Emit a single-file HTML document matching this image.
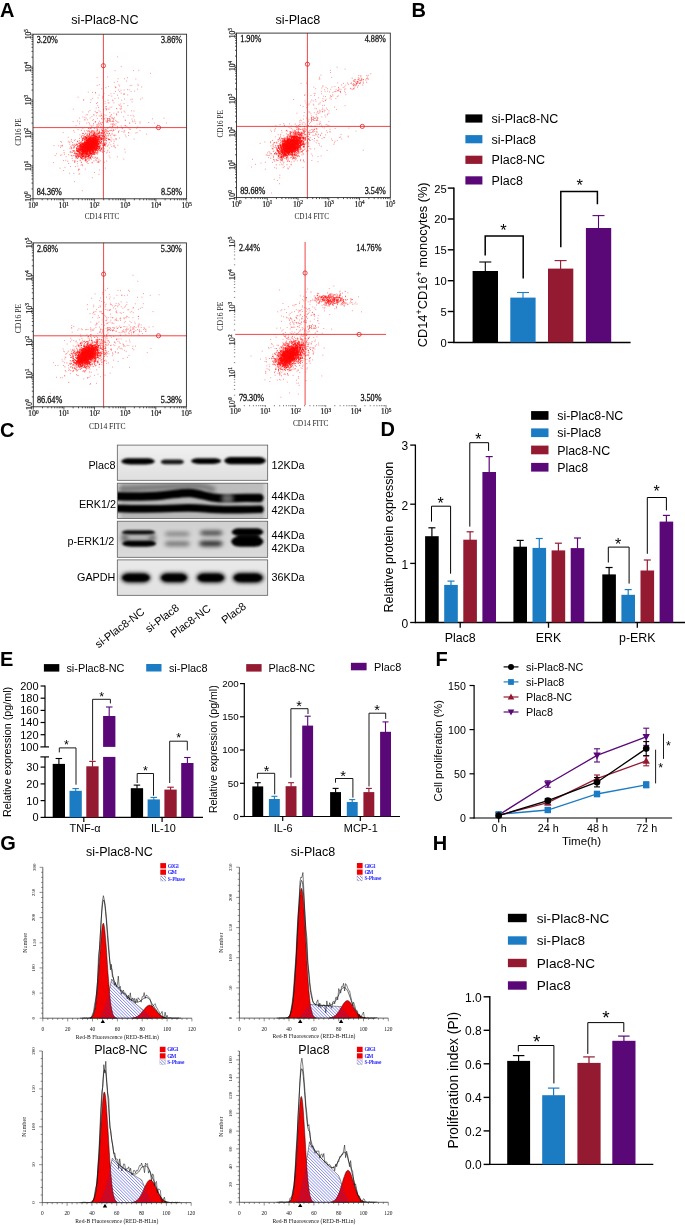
<!DOCTYPE html><html><head><meta charset="utf-8"><style>html,body{margin:0;padding:0;background:#fff}svg{display:block;opacity:0.999}</style></head><body>
<svg width="685" height="1225" viewBox="0 0 685 1225">
<defs>
<filter id="b1" filterUnits="userSpaceOnUse" x="100" y="430" width="190" height="180"><feGaussianBlur stdDeviation="1.3"/></filter>
<filter id="b2" filterUnits="userSpaceOnUse" x="100" y="430" width="190" height="180"><feGaussianBlur stdDeviation="1.9"/></filter>
<filter id="b3" x="-30%" y="-30%" width="160%" height="160%"><feGaussianBlur stdDeviation="2.5"/></filter>
<pattern id="hatch" width="2.2" height="2.2" patternUnits="userSpaceOnUse" patternTransform="rotate(-45)"><rect width="2.2" height="2.2" fill="#fff"/><line x1="0" y1="0" x2="0" y2="2.2" stroke="#3a3fe0" stroke-width="0.9"/></pattern>
</defs>
<rect x="0" y="0" width="685" height="1225" fill="#fff" />
<text x="0" y="17" font-family="Liberation Sans" font-size="20" text-anchor="start" font-weight="bold" fill="#000" >A</text>
<text x="411.4" y="17" font-family="Liberation Sans" font-size="20" text-anchor="start" font-weight="bold" fill="#000" >B</text>
<text x="0.1" y="436.6" font-family="Liberation Sans" font-size="20" text-anchor="start" font-weight="bold" fill="#000" >C</text>
<text x="380.5" y="436.3" font-family="Liberation Sans" font-size="20" text-anchor="start" font-weight="bold" fill="#000" >D</text>
<text x="0" y="665.6" font-family="Liberation Sans" font-size="20" text-anchor="start" font-weight="bold" fill="#000" >E</text>
<text x="435.5" y="665.6" font-family="Liberation Sans" font-size="20" text-anchor="start" font-weight="bold" fill="#000" >F</text>
<text x="0.3" y="849.8" font-family="Liberation Sans" font-size="20" text-anchor="start" font-weight="bold" fill="#000" >G</text>
<text x="432.8" y="849.7" font-family="Liberation Sans" font-size="20" text-anchor="start" font-weight="bold" fill="#000" >H</text>
<path d="M86.1 145.9h.9M88.2 148.1h.9M84.6 150.5h.9M92.7 140.8h.9M92.8 141.5h.9M89.9 144.2h.9M78.7 150.5h.9M89.7 142.9h.9M84.6 157.7h.9M85.4 151.1h.9M90 145.2h.9M92.4 146h.9M89 144h.9M81.4 144.2h.9M88.3 140.8h.9M87.3 150.8h.9M87.1 147.9h.9M90.9 143.1h.9M88.6 150.7h.9M83.2 145h.9M84.2 148.8h.9M93.9 148.7h.9M85.7 142.5h.9M79.8 155.1h.9M89.9 149h.9M91 144.5h.9M79.7 149.8h.9M89.4 141.1h.9M94.4 139.7h.9M92.1 149.4h.9M92.8 145.6h.9M89.3 151.6h.9M85.2 151.6h.9M99.2 146.8h.9M81.1 151.4h.9M93.9 139h.9M85.4 160.7h.9M91.9 146.9h.9M81 148h.9M93.3 141.5h.9M88.6 144.1h.9M94.5 138.3h.9M89.7 142.8h.9M78.2 148.9h.9M91.7 141.1h.9M80.7 155.8h.9M96.6 148h.9M85.3 144.2h.9M78.6 147h.9M91.4 144.5h.9M88.5 143.2h.9M86.4 142.7h.9M86.4 150h.9M93.3 142.1h.9M82.2 147.1h.9M96.4 141.8h.9M82.4 152.1h.9M88.5 147.7h.9M97.4 143.6h.9M97.3 144.9h.9M83.4 147.6h.9M91.8 139.5h.9M89.8 144.6h.9M87.9 144.1h.9M87 146.2h.9M91.2 144.1h.9M90.8 141.7h.9M97.1 137.5h.9M87.4 149h.9M86.3 143.8h.9M86 146.6h.9M103 146.2h.9M82.7 150h.9M89.8 144.1h.9M85 146.2h.9M91 146.6h.9M99 135.8h.9M86.1 148.7h.9M87.6 147.4h.9M76.9 158.3h.9M95.9 145.6h.9M86 143.9h.9M89.1 138.8h.9M81.4 153.9h.9M85.5 145.9h.9M99.8 149.4h.9M96.9 146h.9M95.1 147.7h.9M86.6 142.3h.9M87.4 146.4h.9M91.9 142.8h.9M84.5 142.4h.9M94.1 143h.9M104 138.7h.9M93.4 143.4h.9M87.5 143.8h.9M88.1 143.7h.9M84.9 156.5h.9M93.6 146.5h.9M87.1 154.4h.9M92.7 139.3h.9M97.6 143.1h.9M91.1 149.4h.9M88.4 138.9h.9M80.7 145.5h.9M93.5 142.9h.9M76 150.2h.9M89.4 148.3h.9M89.4 143.6h.9M97.9 143.2h.9M90.4 137.7h.9M95.7 141.1h.9M82.7 146.4h.9M88.8 145.5h.9M95.8 141.4h.9M78.7 156.4h.9M77.9 151.3h.9M91.4 146.7h.9M86.5 144h.9M85.8 142.3h.9M85.8 143.7h.9M91.7 136h.9M83.3 146.5h.9M82.2 156.6h.9M76.9 151h.9M82.8 151.2h.9M87.7 147.1h.9M85.2 148h.9M96.8 139.2h.9M88.7 141.5h.9M90.5 150.6h.9M83.4 145.5h.9M82.2 154.4h.9M91.4 140.2h.9M86.7 144h.9M92 148.9h.9M82.7 154.2h.9M94.1 144.2h.9M86.1 152h.9M81.6 152.6h.9M82.1 149.9h.9M76.7 154.7h.9M90 154.2h.9M92.5 144.2h.9M80.1 157.5h.9M90.9 146.4h.9M90.4 141.2h.9M90.9 142.8h.9M93.2 139.3h.9M95.4 150.3h.9M89.7 139.2h.9M88.2 148.8h.9M101.6 143.5h.9M85.1 137.8h.9M82.6 148h.9M97.6 139.2h.9M89 141.6h.9M84.5 150.1h.9M88 142.9h.9M88.8 147h.9M84.6 151.3h.9M92.4 142.5h.9M86.5 152h.9M98.3 132.7h.9M97.5 151h.9M90.3 142.5h.9M95.4 138.5h.9M87 145.1h.9M77 151.1h.9M91.6 147h.9M90.5 136.1h.9M83.5 153.6h.9M89.4 144.7h.9M88.9 150.5h.9M96 135.1h.9M86 154.7h.9M94.2 136.9h.9M95.1 136.9h.9M83.8 149h.9M80.1 156.8h.9M87 145.1h.9M85.4 149.5h.9M89.8 143.5h.9M91 143.2h.9M85.2 145.4h.9M90.6 148.4h.9M85.6 148.8h.9M87.6 146.3h.9M88.1 145.8h.9M90.8 150.3h.9M88 141.7h.9M91 145.1h.9M92.8 147.2h.9M79.5 153.6h.9M82.4 147.9h.9M89.5 157.8h.9M80 146h.9M89.9 151.6h.9M83.7 147.9h.9M90.4 143.9h.9M93.8 138.5h.9M87 144.7h.9M94 137.1h.9M95.8 145.3h.9M86.1 144.9h.9M84.6 144.5h.9M89.2 141.5h.9M81.6 140.1h.9M94.8 142h.9M82.9 138.8h.9M84.9 145.2h.9M93.1 142.4h.9M82.6 150.4h.9M87.6 141.8h.9M92.1 143.2h.9M91.2 141.5h.9M89.3 145.3h.9M85.8 145.4h.9M85 152.2h.9M91.9 150.3h.9M91.1 153.5h.9M84 147.4h.9M91.3 144.2h.9M90.7 151.1h.9M95.8 137.7h.9M95.7 144.4h.9M91.8 152h.9M90 140.7h.9M79.8 153.9h.9M95.5 148.7h.9M82.4 156.4h.9M88.8 152.6h.9M88.1 145.5h.9M89.8 141.9h.9M92.8 137.2h.9M83.5 152.8h.9M86 153.4h.9M88.1 146.6h.9M94.5 148.8h.9M82.8 151.2h.9M88.3 147.9h.9M90 148.6h.9M91 142.6h.9M89.6 148.5h.9M94 154.5h.9M83.8 150h.9M81 151.6h.9M92.4 149.5h.9M88.1 148.1h.9M89.2 142.8h.9M90.3 148.8h.9M88 147h.9M91.3 142.6h.9M88.3 152.9h.9M88.5 149.8h.9M83.6 151h.9M86 147.9h.9M91.9 145.4h.9M100.1 138.1h.9M93.4 141.6h.9M99.2 148.5h.9M84.4 148.6h.9M85.9 137.5h.9M87 141.5h.9M89.9 140.7h.9M91.2 144.7h.9M93.4 147.3h.9M96.4 144.5h.9M84.8 139.5h.9M87.4 147.1h.9M93.9 141.7h.9M84.1 148.8h.9M89.6 142.1h.9M80.8 144.5h.9M96.2 139.7h.9M90.7 146.4h.9M96.7 142.7h.9M92.8 145h.9M83.6 147h.9M94.8 141.1h.9M83.5 146.7h.9M87.5 145.6h.9M93 137.2h.9M80.8 142h.9M86.7 144.1h.9M85.6 149h.9M76.2 148.2h.9M97.7 144.3h.9M85.2 156.7h.9M95.1 143h.9M88.9 147.4h.9M90.5 149.8h.9M91.9 150.2h.9M87.5 145.7h.9M91.2 145.1h.9M83.9 149.4h.9M82.6 143.9h.9M92.4 143.6h.9M87.9 150.1h.9M84.9 150.9h.9M88.7 143.7h.9M86.3 138.3h.9M85.2 149h.9M105.9 140.5h.9M85.7 147.9h.9M88.3 144.6h.9M86.5 146.2h.9M87 144h.9M81.7 156.2h.9M90.9 149.2h.9M82.2 148.7h.9M84 147.1h.9M91.3 142.5h.9M91.1 144.6h.9M82 151.9h.9M91.8 146h.9M86.3 144.6h.9M82.9 148h.9M98.5 140.5h.9M89.5 146.1h.9M95 139.4h.9M94.3 144.7h.9M88.4 146.4h.9M76.9 149.3h.9M96.8 147.6h.9M92.3 143.7h.9M89.7 143.5h.9M82 152.8h.9M96.8 142h.9M86.9 154.1h.9M82 150.2h.9M95.4 138.5h.9M84.5 139.2h.9M87.6 150.2h.9M89.7 142.7h.9M86.5 153.5h.9M89.3 144.5h.9M82.9 152h.9M84.9 147.2h.9M88.2 147h.9M84.4 144.8h.9M95.8 141.9h.9M94.2 145.1h.9M87.1 143.9h.9M96.5 141.4h.9M87.7 146h.9M81.5 152.1h.9M84.5 147.9h.9M87.8 156.2h.9M88.1 145.4h.9M83.9 146h.9M88.6 149h.9M94.4 148.8h.9M85.4 149h.9M92.8 143.4h.9M91.5 146.9h.9M86.1 140.5h.9M79.8 142.5h.9M85.5 148.8h.9M86.9 142.8h.9M87.6 156.9h.9M89.5 141.7h.9M85.3 136.6h.9M88.9 144.8h.9M92 141.6h.9M99.1 143.2h.9M94.7 157.3h.9M93.2 144.1h.9M87.8 136.7h.9M89.1 147h.9M88.1 150.6h.9M84.1 147h.9M88.5 146h.9M85.6 144.5h.9M91.1 144.8h.9M92 144.1h.9M79.7 146.8h.9M92.9 147.1h.9M92.7 141.1h.9M77.5 148h.9M88 142.5h.9M89.8 145.9h.9M79 149.7h.9M89.3 147h.9M90 144.7h.9M92.5 144.7h.9M93.3 152.3h.9M85 146.1h.9M95.6 142.1h.9M84.3 142.4h.9M85.3 145.6h.9M96.3 139.6h.9M95.9 143.4h.9M89.6 145.7h.9M86.4 142.7h.9M101.2 138.8h.9M84.7 147.2h.9M82.4 149.1h.9M91.8 144.8h.9M94.6 148.5h.9M95.6 147.6h.9M86.5 150.6h.9M84.6 145.5h.9M89.8 147.1h.9M87.4 139.8h.9M87.7 145.3h.9M93.7 140.7h.9M76.7 144.5h.9M103.4 143.1h.9M87.4 145.3h.9M91.5 140.7h.9M89.7 150.3h.9M86.6 143h.9M85.8 153.4h.9M92.9 151.7h.9M88.3 148.5h.9M92.2 146.5h.9M85.3 150.8h.9M89.8 148.3h.9M86.8 144.2h.9M90.1 137h.9M85.8 150.5h.9M72.5 150.8h.9M85.2 149.2h.9M94.1 148h.9M90.7 144.6h.9M79.3 152.7h.9M98.4 146.8h.9M91.8 142.6h.9M89.7 143.2h.9M95.1 141.8h.9M93.5 144h.9M93.8 145.7h.9M84 142h.9M90.9 145h.9M85 153h.9M87.2 143h.9M89.3 143.2h.9M85.2 142.7h.9M87.9 149.3h.9M92.5 142.6h.9M88.5 149h.9M85.9 145.6h.9M93 148.2h.9M90.1 144.1h.9M82 148.1h.9M88 148.3h.9M89.2 139.5h.9M84.3 147.8h.9M79.1 143.4h.9M83.4 144.9h.9M83.6 146.6h.9M104.7 144.6h.9M85.3 146.6h.9M89.6 148.5h.9M98.4 137.6h.9M78.8 150.4h.9M77.8 149.9h.9M85.5 148.2h.9M94.1 141h.9M85.9 156.4h.9M92.3 139.6h.9M82.7 147.1h.9M89.3 142.6h.9M78.6 156h.9M91 140.7h.9M98.3 149.6h.9M88.2 144.3h.9M102.6 138.9h.9M86.9 147.5h.9M93.7 144h.9M95.7 144h.9M91 146.7h.9M90.8 147.6h.9M78.5 149.5h.9M91.2 146.7h.9M87.1 142.8h.9M84.2 150.4h.9M89.8 142.7h.9M91.8 153.4h.9M93.5 140.5h.9M89.2 147h.9M90.7 146.4h.9M85.4 152.4h.9M87.1 150.3h.9M81.6 149.1h.9M80.9 149.6h.9M82.9 149.3h.9M94.5 140.4h.9M85 149h.9M93.2 150.5h.9M85.3 148.2h.9M86.1 147.9h.9M90.2 141.3h.9M91.4 141.1h.9M87.2 147.5h.9M88 148.2h.9M91.7 151.8h.9M87 147.7h.9M84 150.2h.9M91.3 144.7h.9M104.2 145.3h.9M91.8 152.1h.9M86.9 135.1h.9M76.5 155.8h.9M91.6 145.1h.9M96.3 150.3h.9M91.6 141.9h.9M90 147.8h.9M92.6 145.1h.9M90.7 146.8h.9M78.1 155.2h.9M87.7 143.4h.9M84.5 149.8h.9M91 143.5h.9M89.7 135.9h.9M88.7 155.2h.9M89 138.7h.9M90.9 140.4h.9M87.3 150.7h.9M94.8 145.3h.9M82.3 156.2h.9M95.7 131.2h.9M87 151h.9M91.3 147.5h.9M94.8 141.4h.9M80.4 146.9h.9M85.3 148h.9M89.2 147.2h.9M91.6 146.9h.9M85 159.6h.9M84.3 153.4h.9M88.3 146.2h.9M90.8 143.8h.9M86.4 151.4h.9M79 155.1h.9M89.5 142.9h.9M88.3 147.3h.9M92.8 142.6h.9M90.6 141.8h.9M86.5 141.9h.9M86.7 149.5h.9M86.6 151.7h.9M91.7 135.3h.9M87.3 144.6h.9M92.1 139.5h.9M97.1 145.1h.9M84.5 147.6h.9M95 140.4h.9M85.3 150.6h.9M87.4 151.3h.9M97 142.1h.9M83.6 140.3h.9M93.3 140.7h.9M84.7 147.6h.9M94.6 138.2h.9M94.2 141.1h.9M91.4 144.8h.9M87.5 141h.9M82 152.1h.9M90.9 146.9h.9M85.2 145.3h.9M96.4 136.7h.9M93.6 149.3h.9M97.3 138.5h.9M90.9 149.5h.9M90.8 149.5h.9M87.8 144.7h.9M88 145.4h.9M81.2 145.7h.9M89.7 153.9h.9M89.4 149.1h.9M84.6 151.2h.9M92.6 148.4h.9M84.6 142.9h.9M92 144h.9M89.4 146.1h.9M86.6 144.5h.9M93.6 153.3h.9M90.5 148.8h.9M93 145.4h.9M84.2 139.7h.9M86.2 153.5h.9M87.4 158.4h.9M78.9 152.7h.9M89.8 154h.9M80.1 150.4h.9M85.7 150.4h.9M86.9 141.3h.9M95.2 135.8h.9M88.7 145.2h.9M93.6 135.3h.9M86 146.3h.9M89.7 145h.9M89.2 151.9h.9M89.6 152.7h.9M93 140h.9M79.6 147.2h.9M97.1 148.1h.9M95.2 136.8h.9M101 141.6h.9M90 143.1h.9M89 145h.9M96.9 146.3h.9M85.9 155h.9M87.3 150.2h.9M89.6 144.1h.9M90.2 148h.9M84.2 145.4h.9M91.8 143h.9M83.4 143.3h.9M84.2 146.8h.9M94.5 142.5h.9M94.9 146.1h.9M92.8 141.8h.9M79.5 150.7h.9M81.4 146.3h.9M85.7 149.4h.9M90.6 146.1h.9M91 146.8h.9M91.6 143.7h.9M95.9 153.1h.9M93.9 141.7h.9M79.9 153h.9M88.2 141.5h.9M79.9 146.3h.9M82.2 140.3h.9M86.2 145h.9M89.4 150.8h.9M91.5 139.5h.9M93.7 137.9h.9M89.7 153.1h.9M87 150.7h.9M83.3 147.9h.9M90.7 145.8h.9M89.6 146h.9M87.8 143.4h.9M94.6 144.4h.9M78.2 148.3h.9M86.5 142.8h.9M81.6 153.7h.9M92 150.2h.9M84.4 146.3h.9M89.9 137.7h.9M87.7 153.6h.9M88.8 141.7h.9M92.4 149.1h.9M90.3 141h.9M92.2 145.5h.9M88.1 142.9h.9M90.2 153.6h.9M88.9 143.7h.9M86.5 143.8h.9M85.9 148.8h.9M85.8 145.9h.9M96.5 140.7h.9M94.6 134h.9M90.8 141.6h.9M97.2 139.9h.9M90.4 149.7h.9M87.6 140.7h.9M90 143h.9M87.2 146.6h.9M79.4 149h.9M89.1 151h.9M86.9 151.5h.9M90 140h.9M80 149.1h.9M94 144.4h.9M83.3 154.2h.9M84.7 147.8h.9M91.5 153.3h.9M93.1 149.6h.9M95.5 146.1h.9M87.2 151.4h.9M83 144.8h.9M91.1 141.3h.9M93.6 149.3h.9M87.3 149.9h.9M82.8 148.7h.9M86.7 151.2h.9M88.4 156.1h.9M88.2 140.3h.9M91.6 148.3h.9M75.5 156.4h.9M93.5 140.7h.9M89.4 138.6h.9M94.8 143.1h.9M91.6 140h.9M82.3 153.4h.9M82.1 152.2h.9M93.7 147h.9M75.9 150.8h.9M86.9 140.8h.9M79.9 148.6h.9M93.5 132.6h.9M86.9 146.4h.9M85.5 144.2h.9M93.1 142h.9M80.4 149.6h.9M84.8 146.4h.9M86 140.8h.9M94.9 143.1h.9M86 140.1h.9M85 147.2h.9M91.2 138.2h.9M94 147.9h.9M82 150.6h.9M84.4 137.8h.9M81.8 146.5h.9M96 147.9h.9M84.3 149.1h.9M86.6 148.7h.9M92.6 146.7h.9M92.2 146.2h.9M84.7 147h.9M85.2 147.8h.9M95.9 140h.9M86.1 144.8h.9M84.3 144.7h.9M81.1 149.6h.9M88 150.5h.9M98.7 141.7h.9M95.2 137.6h.9M97.6 143.3h.9M90.7 137.6h.9M88.3 147.1h.9M99.6 136.2h.9M88 149.7h.9M89.8 143.6h.9M85.3 140.9h.9M85.9 146.3h.9M97.6 143.3h.9M89.1 137.2h.9M84.7 154.6h.9M87.9 155.5h.9M94.9 149.6h.9M87.5 140.3h.9M81.7 153.5h.9M77.7 151.7h.9M85.7 149.9h.9M87.5 144.6h.9M86.8 147.6h.9M85.7 148.1h.9M82.9 150.7h.9M80.6 155.2h.9M97.3 138.6h.9M82 150.5h.9M87.8 154.7h.9M83.4 147.2h.9M90.5 145.1h.9M86.7 152.9h.9M94.2 140.3h.9M88.9 155.9h.9M76.4 144.8h.9M83.3 151h.9M89.8 145.9h.9M90.4 151.2h.9M79.7 145.8h.9M83 146.9h.9M81.2 153.7h.9M87.3 142.4h.9M81.9 149.1h.9M92 146.8h.9M92.8 146.9h.9M84.8 149.5h.9M76.1 157.2h.9M87.2 154.3h.9M84.7 145.9h.9M83.7 144.4h.9M86.1 154.5h.9M94.8 139.1h.9M94.8 144.9h.9M91.7 142.4h.9M91.5 143.7h.9M95.6 143.4h.9M87.4 154.2h.9M95.6 143.8h.9M85.8 153h.9M89.4 151.6h.9M88.6 149.2h.9M88.1 151.1h.9M89.7 147.4h.9M88.5 145.2h.9M95.2 151h.9M87.8 150.6h.9M95.8 147.6h.9M85.8 149.9h.9M84.6 144.9h.9M84.2 145.4h.9M85.8 157h.9M93.2 140.3h.9M90.5 144h.9M93.6 147.8h.9M94.2 144h.9M92.9 142.2h.9M82.3 157.6h.9M94.1 142.3h.9M86.1 147.2h.9M87.8 149.5h.9M88.6 145.5h.9M95.5 140.2h.9M93.1 134h.9M94.1 136.6h.9M88.8 145.4h.9M89.5 148.9h.9M89.7 148.3h.9M94.9 138.4h.9M90.8 153.3h.9M89.2 147.7h.9M86.1 153.7h.9M76.7 153.6h.9M82.2 139.4h.9M88.7 146.8h.9M94.9 140.3h.9M90.1 146.7h.9M82.2 144.5h.9M89.2 137.6h.9M86.8 147.6h.9M82.1 147.1h.9M80.7 150.2h.9M90.4 138.1h.9M81.6 147h.9M86.9 151.2h.9M79.6 148.3h.9M97.6 141.5h.9M85.7 150.2h.9M97.9 133.7h.9M90.1 153.4h.9M82.6 145.7h.9M97.8 139.7h.9M86.4 150.4h.9M77.6 151.2h.9M81 147.6h.9M83.5 156.5h.9M91.6 147.3h.9M92.1 143.2h.9M81.6 149.2h.9M96.9 148.3h.9M95.9 137.8h.9M96.4 148.4h.9M85.9 150.1h.9M96.9 146.1h.9M89.1 155.4h.9M86.6 146.3h.9M82 154.5h.9M87.2 139.9h.9M92.3 144.5h.9M85.2 153.5h.9M85.1 148.5h.9M84.4 141.9h.9M92.3 148.1h.9M93.5 137.6h.9M90.6 147.9h.9M82.1 156.5h.9M94.6 144.9h.9M81.9 150.9h.9M88.2 143.7h.9M88.3 139.8h.9M82.3 146.9h.9M82.3 148.3h.9M88.8 144.9h.9M93.1 142.6h.9M91.7 139.5h.9M90.4 147.3h.9M86.2 150.7h.9M87.6 147.2h.9M101 132.9h.9M94.1 145.7h.9M85.9 150h.9M91.8 148.4h.9M97.3 141.5h.9M98.9 148.5h.9M87.8 145.6h.9M88 143.9h.9M89.4 144.8h.9M81.3 155.7h.9M76.1 153.8h.9M90.4 145.6h.9M86 151.1h.9M93.1 134.3h.9M85.2 143h.9M85.6 157.9h.9M88.3 150.6h.9M85.5 148h.9M104.2 136.3h.9M88.1 145.3h.9M86.2 143.9h.9M99.7 142.8h.9M89.9 146.4h.9M93.7 149.1h.9M85.6 159.6h.9M90.5 143.7h.9M94.3 152.5h.9M88.5 149.8h.9M84 154.4h.9M90.5 142.1h.9M87.2 145h.9M85.5 148.5h.9M87.4 144.6h.9M88.5 147h.9M89.4 148.6h.9M97.7 136.1h.9M85.2 138.3h.9M98.7 145.1h.9M89.8 141.3h.9M94.3 135.3h.9M94.8 146.5h.9M83.8 149h.9M93.2 147.1h.9M87.6 148.9h.9M88 145.1h.9M90 150.8h.9M90.6 137h.9M85.6 143.9h.9M89 142.7h.9M92.5 146.5h.9M88.8 141.3h.9M79.8 144.4h.9M94 133.1h.9M96.1 136.5h.9M88.3 149.3h.9M84.4 149.2h.9M86.8 144.6h.9M73.7 147.8h.9M99.2 137.4h.9M90.6 142.3h.9M90.3 145.8h.9M89.8 149.1h.9M89.4 145.7h.9M92 147.4h.9M88.6 146h.9M93.8 146.9h.9M88.2 141.9h.9M92.1 145h.9M86.8 148.9h.9M88.3 139.2h.9M89.2 148.7h.9M89.8 144.3h.9M86 151.9h.9M86.5 144.8h.9M85.3 153.8h.9M93.7 147.7h.9M88.2 144.9h.9M90.3 149.5h.9M89 147.5h.9M92 147.3h.9M97.5 146.6h.9M87.7 147h.9M94.4 144.2h.9M92.4 145.7h.9M87.9 138.6h.9M85.6 146.7h.9M81.9 147.3h.9M94.1 141.5h.9M82.3 149.6h.9M91.3 138.8h.9M96.5 148.2h.9M82 145h.9M80.2 148h.9M95.5 136.8h.9M94.5 142.8h.9M83 151.4h.9M87.7 147.2h.9M92.1 144h.9M88.4 144.4h.9M84.2 141.2h.9M90.4 144.3h.9M89 148.8h.9M94.4 140.6h.9M84.8 152.1h.9M88.9 148.1h.9M96.3 145.3h.9M90.5 144h.9M82.9 150.8h.9M86.9 145.3h.9M85.7 147.2h.9M83.2 155.8h.9M89.8 140.3h.9M89.8 148h.9M98.4 147.8h.9M83.2 147.6h.9M93.9 146.6h.9M76.3 149.7h.9M91.3 148.2h.9M86.7 143.6h.9M73.8 153.4h.9M96.8 149.1h.9M96.2 148.2h.9M92.9 140.7h.9M100.4 139.2h.9M86.1 143.4h.9M87.1 150.8h.9M86.9 148h.9M82.3 149.2h.9M90.9 144h.9M97.2 140.5h.9M95.9 142.7h.9M96.5 148.7h.9M89.8 146h.9M87.6 149.9h.9M88.5 149.6h.9M79.6 156.5h.9M87.1 149.9h.9M83.9 150.8h.9M92.7 143.9h.9M83.1 144.5h.9M90.9 139.9h.9M94.7 142.7h.9M85.3 143.7h.9M86.2 148.8h.9M89.4 143.8h.9M84.9 144.7h.9M86 145h.9M92 140.3h.9M94.6 146.6h.9M83.8 153.1h.9M87.2 140.3h.9M82.1 150.2h.9M86.2 151.7h.9M85.6 145.5h.9M86.8 142.2h.9M81.8 147.7h.9M92.7 142.5h.9M92 146h.9M84.3 151.7h.9M78.8 140.8h.9M82.4 143.7h.9M88.7 144.6h.9M93.8 145.5h.9M91.9 141.7h.9M80 150.6h.9M90 142.9h.9M96.9 141.2h.9M89.2 142.2h.9M81.5 146.5h.9M84.7 155.6h.9M93.5 147.3h.9M91.8 151.3h.9M91.4 149.2h.9M93.6 149.2h.9M91.2 145.3h.9M89 146.2h.9M92.2 149.4h.9M76.4 156.3h.9M85.2 151.2h.9M95.1 150.1h.9M86.3 151h.9M82.8 149.5h.9M89.7 149.1h.9M82 147.9h.9M84.1 147.3h.9M95 149.8h.9M83.4 150.5h.9M88.3 142.8h.9M89.9 140.3h.9M87.2 148.3h.9M93.1 144.4h.9M97.1 146.5h.9M92 144.2h.9M77 151.3h.9M89.9 145h.9M84.5 151.8h.9M97.5 142.7h.9M74.3 162.3h.9M83.2 151.4h.9M88.8 150.4h.9M82.1 146.7h.9M77.2 146.6h.9M88.5 151.4h.9M90.9 141.7h.9M81.9 148.3h.9M82 156.1h.9M94.4 142.6h.9M81.2 150h.9M92.8 142.8h.9M80.9 154.3h.9M88.7 142.5h.9M97.7 139.7h.9M86.3 148.3h.9M96.3 144.2h.9M101 148.8h.9M93.8 145h.9M89.1 142.6h.9M83.2 151.2h.9M88.3 143.7h.9M86.4 152.7h.9M73.6 146.8h.9M88.1 147.7h.9M79.4 149.6h.9M82.7 144.4h.9M92.4 142.9h.9M94.5 146.5h.9M88.3 149.2h.9M82.5 151.2h.9M84.5 142.9h.9M74.4 161.3h.9M85.3 151.2h.9M89.5 143.5h.9M89.7 147.5h.9M90 143.4h.9M80.5 154.2h.9M84.8 154.9h.9M89 145.6h.9M91.1 148.3h.9M89.7 149.6h.9M88.7 142.9h.9M93.8 135.9h.9M85.8 150.7h.9M83.4 149.1h.9M96.1 136.6h.9M81.1 158.4h.9M81.3 149.9h.9M87.8 145.5h.9M98.7 141.6h.9M80 144.2h.9M91.9 147.1h.9M82.5 158.5h.9M76.9 155.7h.9M86.4 143.4h.9M89.5 148.8h.9M80.6 144h.9M79.8 152.7h.9M87.2 144.5h.9M85.5 146.5h.9M92.7 143.5h.9M86.8 148.6h.9M84.5 150.7h.9M86.6 146.9h.9M91.7 137.5h.9M85 146.4h.9M88.1 143h.9M88 145.5h.9M88.1 150.3h.9M89.6 139.3h.9M90.6 142.5h.9M90.8 146.5h.9M78.6 151.5h.9M90.7 147h.9M81 146.6h.9M76 148.5h.9M86 137.3h.9M85.2 149.2h.9M85.8 147.9h.9M89.3 149.2h.9M95.3 144.3h.9M84.8 146.8h.9M87 149.6h.9M91 145.9h.9M82.9 151.5h.9M83.5 142.5h.9M81.1 147.9h.9M85.7 150.4h.9M86.3 146.8h.9M88.5 138.1h.9M82.4 145.1h.9M91.3 140.2h.9M82.9 146.8h.9M87.2 145.7h.9M85.7 145.5h.9M91.1 138.8h.9M85.2 144.4h.9M97.4 143.2h.9M98.5 144.2h.9M89.7 142.5h.9M94.8 139.7h.9M88.1 150.4h.9M80.9 149.1h.9M89.1 149.2h.9M92.8 146.3h.9M87.5 149.3h.9M92.8 135.8h.9M91.4 151.3h.9M89.6 145h.9M88.8 143.4h.9M84.9 145h.9M91.9 142.4h.9M87.7 149.2h.9M94.3 146.6h.9M89.5 149h.9M80.6 150.1h.9M88.3 146.3h.9M96 147h.9M87.5 145.8h.9M94.9 146h.9M91.3 142.9h.9M92.2 137.8h.9M86.1 138.2h.9M89.5 147.5h.9M89.1 150.2h.9M92.7 151.6h.9M87.1 145.5h.9M93.9 143.4h.9M96.5 142.7h.9M92.2 152h.9M86.8 151.5h.9M94.1 139.2h.9M82.3 149.1h.9M91.2 145.1h.9M89.3 147h.9M90 153.2h.9M85.2 143.2h.9M95.7 141.6h.9M85.6 149.7h.9M91.8 141.9h.9M85 147.6h.9M86.4 145.7h.9M90 151.8h.9M87 144h.9M83.7 150.8h.9M93.3 144h.9M81 143.3h.9M90 140.4h.9M80.5 145.5h.9M82.1 154h.9M88.9 139.9h.9M85.8 151.6h.9M93.7 150.7h.9M90.1 142.4h.9M85.3 146.6h.9M91.3 142.5h.9M87.5 140.3h.9M86 147.7h.9M83.8 145.5h.9M85.6 146.6h.9M89 145.6h.9M96.5 140h.9M93.1 138.7h.9M94.8 141.7h.9M91 140.8h.9M85.1 147.9h.9M88 146.9h.9M96 143.3h.9M84.8 157.3h.9M87.9 149.7h.9M87.3 144.7h.9M95.8 138.8h.9M92.2 146.5h.9M88.1 140.5h.9M98.9 146.4h.9M89 138.7h.9M95.6 147.1h.9M85.8 145.9h.9M92.2 146.9h.9M82.3 147.1h.9M79.3 147.5h.9M87.9 145.4h.9M83.8 152.9h.9M94.9 147.6h.9M100.9 142.2h.9M82.9 150.8h.9M89 142.5h.9M87.3 148.3h.9M88.7 148.7h.9M74.8 153.5h.9M89.3 144.9h.9M85.1 148h.9M88.6 146.6h.9M97.3 146.7h.9M92 148.2h.9M83.7 143.5h.9M83.9 150.6h.9M83.7 146h.9M87.8 154.4h.9M91.6 145.3h.9M84.7 144.6h.9M85.3 150.6h.9M88.2 144.6h.9M83.9 145.5h.9M99.5 138.9h.9M101.6 144.8h.9M95.6 141.9h.9M89.9 146.7h.9M88.5 152.1h.9M83.8 144.4h.9M94.4 142.9h.9M87.7 150.1h.9M79.1 146h.9M91.2 143.5h.9M88.6 150.9h.9M92.7 139.3h.9M82 147.3h.9M82.1 148.8h.9M85.1 151h.9M89.8 143.3h.9M94.9 144.7h.9M92.6 136.8h.9M87.4 145.1h.9M85.3 149.6h.9M82.4 151h.9M86.4 142h.9M90.9 140.6h.9M87.4 148.3h.9M86.5 147h.9M78.1 151.5h.9M82.6 153.6h.9M89.7 147.6h.9M96.2 140.3h.9M92.9 137.3h.9M85.4 147.1h.9M95.1 142.3h.9M90.1 147.4h.9M89.5 147h.9M86.6 143.3h.9M94.5 140.7h.9M87.5 143.3h.9M89.6 150.2h.9M95.6 144.6h.9M94.8 145.4h.9M99 142.2h.9M89 139.1h.9M80.9 146h.9M88.7 154.1h.9M90.2 141.7h.9M93.2 153.7h.9M88.9 147.3h.9M87.4 148.5h.9M81.7 154.5h.9M93.1 135.4h.9M88.5 149.5h.9M87.9 142h.9M94.3 146.7h.9M88.9 145.3h.9M92.3 137.7h.9M88.1 141.1h.9M83.3 143.7h.9M85.7 146.9h.9M94.6 145.3h.9M89.3 153.6h.9M89.4 145.8h.9M85.9 146.2h.9M79.1 154.3h.9M89.5 146.7h.9M88.2 138.7h.9M88.6 150.5h.9M85.6 148.3h.9M93 146.4h.9M95.3 145.3h.9M91.3 142.1h.9M85.8 138.8h.9M87.7 147.7h.9M88.7 142.2h.9M81.9 150.6h.9M83.8 147.4h.9M94.5 141h.9M87.6 146.2h.9M73.5 155.4h.9M90.7 143.8h.9M88.3 149.7h.9M85 143.8h.9M85 143.1h.9M78 157.2h.9M89.8 145.3h.9M82.5 154.3h.9M97 145h.9M86.5 152.9h.9M84.6 146.7h.9M95.7 149.4h.9M96.4 142.4h.9M82.2 144.1h.9M90.9 149.9h.9M87.2 150.6h.9M84.7 151h.9M91.7 142.1h.9M76.1 144.1h.9M83.8 149.7h.9M86.9 144.2h.9M86 146.3h.9M97.7 138.1h.9M82.9 149.5h.9M85.7 150.3h.9M88.6 144.7h.9M85.3 145.1h.9M90.5 150.5h.9M93.2 144h.9M95.4 143.5h.9M90.4 143.3h.9M79.7 160.4h.9M80.4 146.8h.9M78 151h.9M92.3 140.9h.9M92.6 145.1h.9M88 145.7h.9M88.8 142.8h.9M89.1 148.9h.9M85.1 147.3h.9M83.8 155.9h.9M87.9 149.3h.9M93.2 154.4h.9M87.5 148.2h.9M96.4 148.6h.9M86.1 146.2h.9M88 141.3h.9M95.6 145.1h.9M92.1 144.8h.9M81.5 145.3h.9M87.6 150.9h.9M88.6 150.1h.9M92.2 141.5h.9M93.9 139.9h.9M83.4 145.8h.9M86.6 150h.9M87.7 146.8h.9M95.2 143.4h.9M90.1 145h.9M85.3 154h.9M86.6 146.1h.9M88.9 143.8h.9M89.7 147.3h.9M92.7 147.4h.9M83.2 152.3h.9M83.2 153.1h.9M86.4 150.6h.9M90.1 148.6h.9M90.4 152.4h.9M91.1 148.1h.9M96.6 152.3h.9M84.3 148.7h.9M78.3 156.5h.9M88.7 145.7h.9M81.2 151.3h.9M91.3 148.3h.9M92 143.6h.9M89.6 147.4h.9M90.8 144h.9M92.6 140.8h.9M86.2 149.2h.9M93.5 143.8h.9M89.1 143.5h.9M92.9 153.2h.9M88.6 145.2h.9M90.8 147.8h.9M94.3 142.1h.9M87.3 150.6h.9M92.6 147.8h.9M79.5 144.8h.9M92.1 138.5h.9M93.3 139.5h.9M78.2 149.5h.9M93 140.3h.9M76.9 150.4h.9M95.8 142.4h.9M87.3 143.7h.9M85.7 143.7h.9M87.3 144.1h.9M92.2 149.9h.9M76.9 141.6h.9M86.8 141.7h.9M89.8 137.4h.9M92.3 145.8h.9M92.9 151.4h.9M85.6 144.6h.9M78.3 154h.9M89.3 139.6h.9M85.8 151.6h.9M82.3 156.2h.9M86.3 138.7h.9M80.2 147h.9M91.5 146h.9M104.1 144.7h.9M87.7 146h.9M94.1 133.4h.9M98.5 137.3h.9M89.9 138.9h.9M90 143.4h.9M88.6 148.1h.9M78.5 145.8h.9M91.2 153.6h.9M89.8 145.4h.9M85.2 140.8h.9M88.6 147.4h.9M85.2 149.2h.9M86 147.4h.9M101.8 133.3h.9M80.3 144.4h.9M90.6 140.8h.9M89.9 141.4h.9M88.4 139.9h.9M90 138.8h.9M86.2 148.2h.9M83 146.5h.9M93.3 144.4h.9M85.2 137h.9M96.6 144.6h.9M86.6 144.9h.9M87.5 145.4h.9M93.1 140.9h.9M81.9 148.6h.9M87.8 146.4h.9M89 152.2h.9M83.6 152h.9M89.8 157.7h.9M96.3 145h.9M84 147.6h.9M74.5 151.9h.9M83.5 147.5h.9M85.6 147.3h.9M89 145.9h.9M83.5 157.2h.9M85.1 142.7h.9" fill="none" stroke="#ff0a0a" stroke-width="0.9" stroke-opacity="0.85"/>
<path d="M85.2 145.5h.9M90.3 141.3h.9M103.6 144.4h.9M93.6 143.3h.9M92.1 149.8h.9M89.4 153.5h.9M73.9 140.6h.9M102.8 133.6h.9M99.8 143.8h.9M78.6 169.4h.9M86.5 137.4h.9M94.5 148.8h.9M93.1 150h.9M82.2 154h.9M91.3 150.2h.9M88.4 153.8h.9M87.4 137h.9M81.1 136.2h.9M78.7 153.3h.9M83.6 152.2h.9M89.6 141.3h.9M101 139.6h.9M83.1 152.9h.9M95.7 145.4h.9M90.8 131.6h.9M79.7 151.7h.9M105.3 146h.9M93.3 144h.9M76.1 147.7h.9M94.3 145h.9M91.7 138.8h.9M94.2 137h.9M98.3 146.7h.9M87.6 146.4h.9M63.7 152.7h.9M92.3 151.1h.9M77.4 154.6h.9M93.4 146.6h.9M91.5 150.6h.9M86.2 149.4h.9M84 145.5h.9M89.5 144.6h.9M89 136.4h.9M94.3 139.6h.9M92.9 148.7h.9M86 143.6h.9M94 144.5h.9M87.5 159.1h.9M89.4 138h.9M98.8 147.7h.9M88.7 144.7h.9M83.3 148.6h.9M92.8 149.1h.9M79.3 148.7h.9M96.8 145.8h.9M80.6 146.9h.9M96.3 141.8h.9M103.2 135.5h.9M79.5 146.3h.9M88.4 144h.9M95.1 148.3h.9M83.5 152.5h.9M104.6 139.7h.9M99.6 134.9h.9M82.3 150.1h.9M98.3 144.5h.9M74.9 156.1h.9M81.6 149.4h.9M78.3 156.8h.9M91 155.6h.9M88.7 145.1h.9M91.6 152.7h.9M99.1 150.3h.9M92.9 138.9h.9M99.3 130.1h.9M92.5 141h.9M96.2 149.7h.9M99.2 133h.9M93.3 150.9h.9M99.3 132.8h.9M80.2 148.9h.9M104.2 132.6h.9M95.3 143.5h.9M82.6 143.7h.9M111.9 124.6h.9M87.1 141.8h.9M86.1 143.2h.9M100.6 143.4h.9M83.8 151.3h.9M95.7 137.9h.9M104.8 142.3h.9M96.8 143.8h.9M90.5 142.3h.9M85.1 151.3h.9M81.9 150.4h.9M87 151.7h.9M95 145.7h.9M101.4 139.8h.9M95.8 137.8h.9M84.7 151.7h.9M86.6 151h.9M82.3 138.4h.9M82.2 140.4h.9M99 147h.9M72.4 155.9h.9M74.5 153.7h.9M96.6 136.3h.9M90.5 146.7h.9M93.9 144h.9M88.7 149.2h.9M101.4 139.6h.9M98 146.7h.9M91.2 154.5h.9M87.1 142.7h.9M95 144.5h.9M96.5 141.9h.9M92.5 140.8h.9M104 151.3h.9M79.1 149.2h.9M81.8 135.6h.9M91.4 148.1h.9M99.2 132.7h.9M102.2 130.4h.9M86.9 142.5h.9M87.2 151.1h.9M88 148.7h.9M98.2 141.5h.9M95.1 144.4h.9M107.4 150.3h.9M88.9 144.9h.9M79.8 146.8h.9M87.7 137.6h.9M95.2 135.7h.9M94 149.8h.9M91.2 147.6h.9M94.5 144.7h.9M118.1 132h.9M100.9 139h.9M85.9 141.9h.9M95.6 149.3h.9M94.6 142.5h.9M76.1 156.2h.9M86.5 153.9h.9M93.2 140.1h.9M80.9 137.1h.9M96.2 144.3h.9M93.1 143.3h.9M81.7 164.5h.9M73.7 144.3h.9M90.8 146.6h.9M83.4 143.7h.9M84.8 137h.9M90.3 132.6h.9M88.8 143.5h.9M88.7 147.7h.9M81.3 157.4h.9M86.9 152.9h.9M98.4 135.7h.9M96.2 133.1h.9M93.6 134.4h.9M83.8 144.7h.9M90.8 148.5h.9M91.1 127.9h.9M77.8 143.1h.9M99.9 142.7h.9M91.5 141.1h.9M94.9 143.5h.9M82 152.1h.9M94 135.7h.9M91.4 135.6h.9M84.3 150.6h.9M89.6 138h.9M90.1 141.2h.9M84.1 134.8h.9M76.1 157.9h.9M107.1 128h.9M77.9 155.1h.9M83.7 156h.9M86.1 135.8h.9M91.7 138.7h.9M97.2 137.2h.9M85.5 150h.9M94.3 143.4h.9M87.8 149.9h.9M84.5 157.8h.9M91.7 146.4h.9M86 138.2h.9M93.2 142.6h.9M87 156h.9M96.8 145.6h.9M98 146.1h.9M92.2 143.8h.9M99.3 139.8h.9M87.5 145.6h.9M85.1 137h.9M91.2 148.1h.9M87 144.3h.9M90 140h.9M72.2 142.6h.9M103.7 133.1h.9M82.1 151.1h.9M102.2 151h.9M96.6 150.3h.9M89 135.7h.9M103.7 144.2h.9M97.1 132h.9M86.6 144.4h.9M102.7 136.3h.9M93 146.7h.9M107 146.1h.9M104.4 139.5h.9M103.4 145.3h.9M86.8 152.6h.9M102.7 145.9h.9M97.5 143.2h.9M100.7 137.9h.9M95 142h.9M104.7 134.7h.9M83.4 136.2h.9M89 141h.9M85.2 148h.9M75 157.9h.9M92.2 154.5h.9M77 148.3h.9M99.6 148h.9M106.1 136h.9M87.5 145.6h.9M89.2 158h.9M81.5 144h.9M103.4 145h.9M99.1 136.7h.9M94.2 141h.9M97.6 145.9h.9M87.4 152.8h.9M86.2 144h.9M76.7 145.2h.9M88.9 150.6h.9M94.2 138.2h.9M92.7 150.8h.9M90.1 157.1h.9M94.8 132.7h.9M102 130.7h.9M90.5 139.1h.9M98.5 139.5h.9M85.4 133.2h.9M84.6 160.6h.9M81.6 147.1h.9M100.4 138.4h.9M95.8 140.3h.9M95.1 144.7h.9M90.8 144.5h.9M90.4 128h.9M76.5 153.3h.9M87.3 140.3h.9M95.4 134.5h.9M100.1 143.2h.9M73 147.9h.9M102.9 140.8h.9M97.4 133.6h.9M70.8 155.7h.9M79.9 145.6h.9M89.1 151.6h.9M81.2 154.8h.9M100.5 140.8h.9M70.2 146.9h.9M101.1 130h.9M91.8 152.7h.9M77.7 152.1h.9M103.9 140.7h.9M92 145.5h.9M87.4 143.8h.9M107.8 134h.9M92.8 134.5h.9M89.6 146.7h.9M77.7 148.1h.9M89.8 150.3h.9M94.7 147.4h.9M84.9 152h.9M102 135.9h.9M100.1 147.1h.9M70.8 148.8h.9M94 153.2h.9M88 142.4h.9M82.4 158.7h.9M96.2 146.5h.9M92.9 135.4h.9M95.7 143.3h.9M93 147.2h.9M88.9 143.8h.9M85.3 142.1h.9M110.9 130.5h.9M90.3 138.8h.9M96.3 141.3h.9M83.9 143.1h.9M93.4 138.3h.9M83.1 146.7h.9M97.2 140.1h.9M87.3 131.3h.9M75.8 153.4h.9M88 157.2h.9M87.3 143.5h.9M95.7 148.8h.9M83.2 155.5h.9M94.2 147.7h.9M74 146.3h.9M85.8 150.2h.9M89.4 150.1h.9M92.4 145.3h.9M99.7 145.4h.9M73.4 145.4h.9M87.6 141.6h.9M97.1 134.7h.9M97.1 150.6h.9M76.3 150.2h.9M93.5 137.7h.9M87.6 163.5h.9M88.1 155.8h.9M95.9 147.6h.9M104.3 137.1h.9M83.9 144.2h.9M96.7 146h.9M89.4 131.2h.9M83.4 153h.9M90.9 159.1h.9M92.7 137.5h.9M96.1 136.4h.9M77.2 157h.9M90.8 153.4h.9M80.5 148h.9M81.5 137.9h.9M101.5 149.4h.9M92.5 133.5h.9M95.8 149.2h.9M108.2 138.8h.9M97.6 152.8h.9M88.7 159.3h.9M94.1 132.6h.9M93.3 152.5h.9M89.2 143.1h.9M84.8 158.7h.9M87.6 142h.9M89.8 141.9h.9M91.7 162.6h.9M96.6 146.2h.9M91.6 146.7h.9M97.3 144.5h.9M100.9 135.1h.9M92.3 138.3h.9M96.7 136.1h.9M81.2 157.9h.9M102.2 130.6h.9M93.1 138.8h.9M89.1 151.2h.9M82.1 143.5h.9M86.8 134.5h.9M87.3 133.2h.9M98.7 146.4h.9M101.9 131.9h.9M98.5 135.9h.9M88.1 145.6h.9M87.7 156.4h.9M86.8 152.1h.9M81.9 153.3h.9M85.4 133.8h.9M104.1 132.9h.9M98 139.7h.9M93.9 142h.9M86.9 147.4h.9M79 151.8h.9M93.1 150.7h.9M86.4 144.2h.9M84.4 146.6h.9M89 134.1h.9M83.8 151.6h.9M88.9 134.7h.9M90 139.4h.9M82.9 156.1h.9M103.8 135h.9M109 133.7h.9M95.1 152.8h.9M94.5 139.2h.9M104.6 130.8h.9M94.6 151.9h.9M86.8 140.8h.9M91.5 134.4h.9M97.3 139h.9M94.6 139.7h.9M75.1 145.5h.9M97.7 146.4h.9M92.6 140.6h.9M92.5 131.8h.9M67.4 161.2h.9M105.4 138.6h.9M76.8 154.9h.9M92 140.7h.9M85 153.3h.9M89.5 139.9h.9M105.3 129.1h.9M95.8 158.2h.9M99.1 138h.9M94 149.2h.9M103.1 147.3h.9M91.3 143.1h.9M88.1 136.8h.9M89.9 144.5h.9M103 145.5h.9M88.7 145.9h.9M100.8 141.6h.9M95.2 137.5h.9M86.2 160.1h.9M80.3 152.8h.9M89.7 139.9h.9M98.9 141.4h.9M95.4 134h.9M92.5 139.2h.9M80.5 151h.9M88.3 156h.9M88 145.9h.9M91.9 146.1h.9M83.2 149.9h.9M91.2 155.1h.9M86.1 137.5h.9M92.2 151.4h.9M94.2 128.1h.9M89.7 147.1h.9M81.1 130.3h.9M88.1 139.2h.9M101.2 149.3h.9M87.9 156.6h.9M93.7 141.1h.9M104.8 134h.9M92.9 142h.9M83 133.5h.9M87.3 136.2h.9M102.6 138.6h.9M97.3 141.5h.9M91.2 142.9h.9M93 146.2h.9M103.1 135.5h.9M89.5 132.6h.9M91.5 135.9h.9M96.7 130.7h.9M108.7 139.4h.9M104.8 131.6h.9M81 158.2h.9M81.2 153.3h.9M84.3 158.2h.9M92.5 141.7h.9M86.2 150.4h.9M90 144.6h.9M91.8 145.3h.9M103.5 145.6h.9M87 146.9h.9M90.3 149.2h.9M87.1 146.2h.9M100.6 137.1h.9M87.7 144.5h.9M96.8 154.2h.9M94.4 144.2h.9M84.5 145.3h.9M93.5 146.4h.9M82.2 165.7h.9M91.6 144.7h.9M93.3 140.5h.9M92.5 152.8h.9M83.7 151.9h.9M79.9 148.4h.9M88.5 160.5h.9M96.5 153.2h.9M106.5 138.1h.9M91.6 145.7h.9M92 157.2h.9M74.4 152.5h.9M89.9 128.4h.9M78.4 151.3h.9M87.6 140.7h.9M84.5 144.5h.9M95 135.9h.9M102 135.8h.9M104.7 137.4h.9M113.6 145.4h.9M94.2 147.7h.9M87 139.8h.9M95.8 139.3h.9M108.9 139.7h.9M79.3 143h.9M101.4 151.1h.9M98 147.2h.9M97.1 129.9h.9M82.1 142.2h.9M81.5 145.7h.9M95.6 141.1h.9M81.9 154.6h.9M76.9 161.4h.9M73.1 150.9h.9M93.5 161h.9M93.7 139h.9M79.2 138.4h.9M96.3 139h.9M97.9 161.2h.9M90.7 137.1h.9M92.3 154.2h.9M97.2 151.8h.9M88.1 140.9h.9M100.7 133.5h.9M89.5 139.8h.9M102.2 136.7h.9M85.3 155.6h.9M85.5 156.2h.9M88.8 143.6h.9M91.8 143h.9M86.8 144.8h.9M94.4 135.3h.9M102.8 135.9h.9M82.6 138.6h.9M90.8 141.2h.9M84.8 142.3h.9M92 151.2h.9M92.3 146.6h.9M98.4 140.6h.9M92.7 144.4h.9M95.9 144.8h.9M104.4 143.3h.9M91 149.8h.9M95.5 140h.9M95.7 142.6h.9M90.2 153.7h.9M90.7 148.8h.9M91.6 141h.9M98.4 138.5h.9M89.8 153.7h.9M90 142.4h.9M104.2 131h.9M96.3 124.9h.9M78.8 145.8h.9M93.9 131.2h.9M87.2 140.2h.9M87.8 147.7h.9M84.2 136.5h.9M85.8 141.6h.9M94.2 146.9h.9M90.2 139.9h.9M83.5 146.1h.9M89.3 152.7h.9M93.5 143.9h.9M90.3 157.6h.9M90.2 143.1h.9M87 146.4h.9M78.6 152.4h.9M92.9 140.4h.9M86.3 147.9h.9M87.8 138.9h.9M92 141.4h.9M82.5 145.2h.9M101.3 138.9h.9M94.4 138.9h.9M95.7 150.1h.9M110.8 141.1h.9M94.6 144h.9M100.8 138.8h.9M88.9 141.4h.9M96.3 143.6h.9M94.3 138.2h.9M100 140.2h.9M92.2 146.3h.9M84 148.6h.9M88.4 135.6h.9M87.2 144.7h.9M99.6 137.5h.9M90.9 143.3h.9M89.9 153h.9M98.3 136.4h.9M95.3 150.1h.9M87.3 138.5h.9M86.3 155.5h.9M93.4 131.1h.9M104.2 136.7h.9M98.2 143.7h.9M96.1 142.5h.9M87.2 137.3h.9M94.3 143.2h.9M90.4 142.8h.9M86.6 146.7h.9M89.2 133.8h.9M81 162.6h.9M78.8 148.5h.9M107.6 127.9h.9M87.5 138.6h.9M74.4 160.7h.9M68.3 163.5h.9M89.3 149.6h.9M95.7 144.6h.9M98.9 137.2h.9M83.9 131h.9M84.3 143.2h.9M80.3 144.2h.9M97.3 137.5h.9M91.8 131.1h.9M100.8 135.5h.9M86.3 139.9h.9M82.9 156.3h.9M92.2 138.8h.9M97.4 124.9h.9M91.6 140.3h.9M82.4 153.5h.9M93.7 143.6h.9M89.1 141.3h.9M86.5 152.8h.9M74 150.7h.9M90.1 158.3h.9M97.3 140.3h.9M99.2 139.7h.9M103.3 127.7h.9M91.6 142.8h.9M86.4 142.2h.9M106.7 133.4h.9M81 148.7h.9M104.3 143.9h.9M89.9 152.9h.9M93 138.6h.9M90.1 153.8h.9M103.7 148.7h.9M96.1 140.9h.9M100.7 127.9h.9M88 149.1h.9M91.8 149.2h.9M87.9 139.7h.9M81.3 154.8h.9M98.7 131.7h.9M88.4 152.9h.9M91.1 156.5h.9M98.8 136.7h.9M91.6 154.8h.9M90.3 148.9h.9M104.9 135.4h.9M87.7 139h.9M96.4 140.8h.9M70.3 152.2h.9M96.9 142.4h.9M94 148.9h.9M90.4 156.3h.9M92.5 138.9h.9M89.2 139.9h.9M94.3 140.4h.9M82.5 147.4h.9M96.9 134.1h.9M101.6 138.4h.9M79.4 145.2h.9M86 147h.9M89.6 145.4h.9M91.2 148.3h.9M71.2 147.5h.9M99.8 151.2h.9M88.9 154.8h.9M95.5 159.8h.9M88.8 133.7h.9M86.4 142.7h.9M99.9 145.8h.9M105.9 143.7h.9M88.3 149.4h.9M99.3 135.9h.9M93.2 148.5h.9M91.5 143.6h.9M90.8 133.8h.9M96.1 139.6h.9M83.8 138.5h.9M92.5 143.1h.9M97.6 126.4h.9M95.4 141.2h.9M82.5 143.8h.9M84.2 143.1h.9M85.1 148.8h.9M93.3 141.2h.9M91.2 141.2h.9M87.4 156h.9M83.1 137.6h.9M93.6 149h.9M86.3 148.3h.9M101.4 139.3h.9M94.2 140h.9M92.1 150.5h.9M92.7 148.3h.9M101.4 148.3h.9M96 134h.9M89.4 134.4h.9M101.7 147.7h.9M89.7 142.1h.9M90.5 153.3h.9M92.1 139.4h.9M89 148h.9M89.6 149.9h.9M86.5 140.1h.9M81.1 155.8h.9M101 132.8h.9M88.9 139.8h.9M88.6 155.7h.9M85 160.8h.9M89.5 139.2h.9M90.7 149.8h.9M91.5 139.2h.9M100 150.7h.9M96.8 158.3h.9M95.9 146.3h.9M80.8 142.1h.9M98.4 134h.9M92.3 141.8h.9M87.1 148.2h.9M107.6 136h.9M85.8 147.8h.9M94 135.2h.9M84.8 150.9h.9M93.8 151.1h.9M93.4 145.8h.9M95.7 136.7h.9M85.3 148.8h.9M90.9 149.2h.9M83.6 142.9h.9M94.6 154.1h.9M82.6 145.8h.9M109.9 135.3h.9M89.8 147.9h.9M79.7 151.4h.9M89.6 143.4h.9M107.5 131.4h.9M93.4 135.8h.9M88.8 150.8h.9M99.1 131.6h.9M96.1 148h.9M95.1 136.6h.9M100.7 124.4h.9M95.6 138.2h.9M93.5 146.2h.9M92.2 141.3h.9M91.4 135.7h.9M95.2 144.6h.9M90.7 132.7h.9M83.6 147.8h.9M92.8 138.6h.9M94.8 141.5h.9M83.9 137.9h.9M108.3 139.4h.9M71.7 158.3h.9M88.3 150.7h.9M78.6 152.8h.9M92.7 146.9h.9M88.1 128.5h.9M96.8 130.2h.9M85.7 144.1h.9M86.4 139.7h.9M95.2 140.8h.9" fill="none" stroke="#ff0a0a" stroke-width="0.9" stroke-opacity="0.65"/>
<path d="M102 145.6h.9M89.6 125.1h.9M82.4 144.4h.9M64.2 154.3h.9M108 144.9h.9M110.5 126.9h.9M79.3 173.8h.9M102.8 138.8h.9M114.3 147h.9M82.6 138.3h.9M77.8 146.5h.9M83.9 146.1h.9M79 123.8h.9M70.4 151.3h.9M113.8 141.4h.9M75.6 125.6h.9M123.4 159.1h.9M99.4 161.7h.9M99.1 148.2h.9M89.6 157.8h.9M97.2 146.2h.9M81.3 156.2h.9M101.2 148.2h.9M115.1 147.8h.9M98 144.4h.9M113.7 134.8h.9M91.8 162.9h.9M109.9 120.4h.9M79.9 158.9h.9M68.6 142.4h.9M109.5 157.8h.9M86.7 135.7h.9M87.3 141.4h.9M87.8 144.7h.9M97.9 149h.9M93.5 140.5h.9M94.7 151.3h.9M76.7 153.4h.9M116.9 156.8h.9M74.8 139.6h.9M106.3 142h.9M113.4 139.9h.9M67.8 137.3h.9M86.8 151.4h.9M77.8 170.1h.9M77.4 158.2h.9M61.3 154.9h.9M90.4 153.8h.9M77.8 145.5h.9M111.6 133.3h.9M98.7 116h.9M104.4 129.4h.9M68.1 154.7h.9M84.3 147.8h.9M70 166.5h.9M99.7 150.6h.9M82.5 128.6h.9M98 148.6h.9M133.7 139.1h.9M76.7 151.2h.9M99.2 170h.9M87.9 135.9h.9M70.9 141.2h.9M88.3 130.5h.9M72.3 160.6h.9M95.7 112.7h.9M106.2 132.1h.9M97 148.6h.9M108.4 140h.9M106.2 161h.9M60.3 145.8h.9M89.7 142.9h.9M64.5 167.6h.9M125.6 136.8h.9M63.2 170.5h.9M85.6 152.4h.9M84.8 169.1h.9M71.3 152.4h.9M84.3 139h.9M73.5 151.3h.9M84.6 149h.9M101.4 135.7h.9M97.8 162.5h.9M85.9 138.2h.9M83.4 152.2h.9M78.5 174.1h.9M86.4 130.6h.9M98.3 162.2h.9M96.8 162h.9M73.8 132.1h.9M95.1 143.5h.9M105.6 138h.9M93.1 140.3h.9M106 152.9h.9M92.9 130.9h.9M81.9 190.7h.9M69.4 142h.9M86 139.5h.9M91 132.4h.9M86.9 156.6h.9M90.8 136.5h.9M95.1 136.7h.9M77 141.1h.9M88.8 131.7h.9M52.9 162.6h.9M59.6 168.2h.9M81.7 151h.9M86.9 152.7h.9M90.4 140.5h.9M98.5 174.4h.9M77.3 148.7h.9M77.3 150.3h.9M92.6 156.9h.9M93.1 119.7h.9M89.6 146.8h.9M111.3 146.6h.9M72.1 144.7h.9M104.8 140.3h.9M78.7 150.3h.9M77 163.7h.9M104.9 168.1h.9M92.3 132.9h.9M113.5 146.4h.9M80.6 165.2h.9M60.3 141.5h.9M80.8 157.9h.9M89.8 139.4h.9M115.7 139.6h.9M100.1 135.1h.9M75.2 156h.9M62.1 146h.9M74.6 144.3h.9M110.6 137.2h.9M78.7 153.4h.9M71.4 148.5h.9M98 149.9h.9M77.1 146.2h.9M61 146h.9M82.3 155h.9M67.8 141.2h.9M91.4 126h.9M97.8 137.9h.9M106.5 122.4h.9M91.8 136h.9M97.5 135.4h.9M99.7 160.4h.9M124.8 135.1h.9M69.2 173.3h.9M105.5 115.3h.9M81.3 149.2h.9M104.2 162.2h.9M84.4 146.3h.9M113.3 143.4h.9M74 181.7h.9M94 141.2h.9M91.3 142.5h.9M95.7 160.5h.9M93.3 137.4h.9M88.8 128.9h.9M91.9 177.7h.9M53.6 145.6h.9M76.5 151.3h.9M85.2 139.3h.9M133.5 116.7h.9M92.6 152.1h.9M89.8 138.4h.9M69.3 144.2h.9M101.4 129.8h.9M90.8 148.4h.9M65.7 156.7h.9M82.1 159.6h.9M109.2 142.8h.9M78 143.4h.9M118.1 132h.9M108.7 139.5h.9M91.8 137.2h.9M69.3 148.4h.9M112.2 126.4h.9M102.1 152.4h.9M112 126.4h.9M69.5 152h.9M77.4 166.1h.9M54.7 155.6h.9M122.1 127.9h.9M86.6 156.9h.9M79.7 146.4h.9M115.5 138.8h.9M108.6 156h.9M109.8 130.4h.9M71.1 139.6h.9M79.5 134.8h.9M92 120.3h.9M80.3 153.1h.9M96.4 143.1h.9M114.2 135.7h.9M93.1 123.5h.9M73.4 173.6h.9M83.3 159.2h.9M96.5 142.7h.9M94.7 148.4h.9M86.1 142.1h.9M105.2 144.2h.9M94.5 152.9h.9M98.5 159.2h.9M97.5 129.8h.9M93.8 152.3h.9M89.6 155.6h.9M60 147.4h.9M139.5 121.8h.9M72.1 152.4h.9M109 152.3h.9M63.1 160.5h.9M56 153.8h.9M83.8 149.7h.9M94.4 150h.9M90.9 149.3h.9M106.4 133.3h.9M93.9 150.1h.9M87.9 158h.9M77.6 129.7h.9M102.5 131.8h.9M103.8 119.6h.9M94.2 144.6h.9M75.3 154.5h.9M97.8 161.9h.9M61.1 142.2h.9M89.6 138.9h.9M96.2 147.2h.9M88.5 131.4h.9M83.1 144.2h.9M106.5 138.8h.9M97.8 149.8h.9M100.5 142.2h.9M110 139.9h.9M113.4 130.5h.9M86.6 161.6h.9M104.7 145.7h.9M103.5 115.9h.9M106.9 152h.9M95.3 151.7h.9M65.3 160.3h.9M121.3 127.2h.9M91.3 126.2h.9M81.1 158h.9M90.5 138.6h.9M74.9 155.3h.9M82.5 138.4h.9M74.9 166.5h.9M86.6 153.1h.9M103.8 143.2h.9M129.1 123.1h.9M93.6 128.1h.9M103.8 137.1h.9M82.1 156h.9M97.8 137.4h.9M93.6 134.5h.9M86.3 162.3h.9M111.6 134.6h.9M57.9 145.9h.9M86.9 161.7h.9M110.4 144.9h.9M72.4 145.4h.9M62.7 132.6h.9M72.7 121.7h.9M91.7 143.5h.9M84.2 153.8h.9M84.5 150.7h.9M108.9 148.1h.9M94.1 172.4h.9M109.5 130.5h.9M90.7 145.9h.9M100.5 132.3h.9M102.1 138h.9M89.4 147h.9M60 155.3h.9M78.2 169.9h.9M98.3 137.9h.9M88.4 122.6h.9M103.5 114.5h.9M73.2 130.4h.9M80.3 155.1h.9M104.2 136.9h.9M91.5 149.5h.9M124.7 152.1h.9M98.6 123.3h.9M85.6 141.3h.9M70.8 145.9h.9M134.5 121.6h.9M108 131.4h.9M89.8 152.9h.9M97 157.8h.9M62.1 145.3h.9M86.4 140.8h.9M90.9 138.1h.9M78.5 169h.9M91.2 130.4h.9M80.6 161.9h.9M72.8 150.8h.9M94.5 141.5h.9M80.1 149.1h.9M117.7 112.6h.9M120.5 106.8h.9M115.3 87.3h.9M95.9 115.8h.9M117.7 111.7h.9M115.3 135.2h.9M93 125.1h.9M130.7 91.6h.9M108.5 102.9h.9M115 91.5h.9M117.2 81.6h.9M96.9 118.4h.9M83.6 149.5h.9M104.6 103.7h.9M98.2 107.5h.9M134.2 91.1h.9M100.9 115.6h.9M114.5 98.6h.9M131.6 101.8h.9M107.9 86.6h.9M119.2 86h.9M103.2 109.3h.9M124.7 120.2h.9M103.1 118.7h.9M113 123.3h.9M110.9 114.5h.9M111.3 107.1h.9M102.3 98.2h.9M107.7 102.9h.9M124.3 149.3h.9M98.5 110.2h.9M112 118.1h.9M86.3 123.2h.9M101.2 115.4h.9M118.4 84.9h.9M138.3 70.3h.9M114.7 86.8h.9M101.6 118.9h.9M113.3 124.8h.9M121.2 108.2h.9M137.5 84.2h.9M102.5 116.7h.9M103.2 116.6h.9M116.7 128.2h.9M93.6 158.4h.9M124 78.8h.9M116.4 108.6h.9M105.3 108.4h.9M101.1 137.4h.9M86.9 114.7h.9M85.7 118.1h.9M77.6 97.2h.9M108.7 109.1h.9M117.7 78.7h.9M131.8 99.2h.9M107.2 76.9h.9M113.5 113.1h.9M86.9 119.8h.9M113.5 102.9h.9M79.2 118.1h.9M120.7 93.1h.9M137.1 89.2h.9M130.4 99.7h.9M129.7 85.6h.9M128.8 89.8h.9M103.6 93.3h.9M98.2 122.9h.9M91.5 116.6h.9M106.4 121h.9M96.1 103.5h.9M97.7 126.1h.9M111.4 117.4h.9M102.1 122.6h.9M127.6 115.3h.9M124.5 112.1h.9M87.8 92.1h.9M99 125.1h.9M97.3 105.6h.9M121.8 128.5h.9M88.9 134.5h.9M102.6 96.3h.9M97 112.6h.9M84.4 117.4h.9M115.8 113.9h.9M95 92.9h.9M112 131.1h.9M109.1 133.4h.9M105.9 106.5h.9M106.1 109.5h.9M127.1 89.6h.9M117.4 145.3h.9M119.6 108.5h.9M103 109.5h.9M131 110.8h.9M97.7 124h.9M97 102.6h.9M124.3 130.8h.9M140.2 99.1h.9M94.5 122h.9M72.8 109.1h.9M107.6 100.2h.9M83 100.2h.9M123.6 103.6h.9M141.7 98h.9M100.1 116.1h.9M121.1 112.2h.9M114.6 70.7h.9M95.1 121.5h.9M106.6 121.9h.9M120.6 90.2h.9M107.7 109.2h.9M83.9 119.8h.9M88.1 111.9h.9M109 119h.9M126 81.1h.9M107.6 122.7h.9M98.9 84.7h.9M121.3 100.2h.9M103.1 131.9h.9M106.2 108.4h.9M89.5 110.5h.9M105.5 129.4h.9M111.3 96.1h.9M95.8 108.1h.9M77 121h.9M117.1 56.9h.9M92.1 92.4h.9M97.6 97.9h.9M105.7 110.1h.9M133.5 111h.9M90.6 99.8h.9M71 155.6h.9M117.9 89.9h.9M98.7 95.1h.9M132.6 115.3h.9M101.5 126.3h.9M116.1 108.6h.9M92.3 98.3h.9M63.4 150.5h.9M115.4 87.7h.9M109.6 107.3h.9M112 100.1h.9M93.6 115.1h.9M100.5 122.5h.9M117 122.1h.9M118 98.1h.9M96.7 128.6h.9M79.3 121.8h.9M96.7 85.5h.9M96.3 112.9h.9M106.7 130.5h.9M104.9 106.7h.9M123.7 94h.9M113.8 82.4h.9M101.2 124.2h.9M82.3 112h.9M94.7 111.4h.9M123.5 94.1h.9M100.8 114h.9M113.1 130h.9M95.1 122.2h.9M95 92.6h.9M83.1 135.9h.9M84.8 119.9h.9M117.1 95.2h.9M131.3 85.3h.9M113.9 124.3h.9M101 118.5h.9M105.5 87.7h.9M113.9 117.6h.9M110.2 116.7h.9M108.3 118.8h.9M100.1 123.3h.9M105.5 117.9h.9M92 130.7h.9M110.5 93.8h.9M114.6 125.2h.9M105.9 138.3h.9M105.3 121.1h.9M82.2 133.7h.9M98.3 139h.9M93.3 114.7h.9M135.4 79h.9M110.5 115.4h.9M109.3 112.6h.9M150.1 73.3h.9M116.4 115.2h.9M119.3 105.5h.9M127.4 105.6h.9M133.2 70.6h.9M82.1 133.4h.9M115.6 123.9h.9M120.3 104h.9M124.1 99.1h.9M119.3 91.6h.9M112.7 100.8h.9M109.2 116.7h.9M108.5 95.5h.9M83.4 99.7h.9M141.3 87h.9M123.6 90h.9M120.4 109.4h.9M137.7 85.5h.9M116.1 114.3h.9M120.8 66.6h.9M98.7 133.5h.9M118.5 104.7h.9M116.2 121.3h.9M123.6 111.1h.9M96.7 77.6h.9M90.2 102.4h.9M120.9 106.2h.9M115.2 120.4h.9M104.6 101.3h.9M123.7 94.1h.9M96.5 128.8h.9M127.1 77.7h.9M129.3 123.1h.9M99.6 111.7h.9M85.7 114.9h.9M111.7 123.5h.9M104 118.4h.9M127.3 94.9h.9M89.6 138.7h.9M101.3 88.7h.9M82.4 117h.9M113.6 93.4h.9M109.4 126.9h.9M89.6 117.9h.9M102.3 97.1h.9M157.1 125.1h.9M123.2 116.8h.9M102.2 132.6h.9M118.7 130.8h.9M128 132.7h.9M146.2 134.2h.9M111.5 139.1h.9M100 126.7h.9M136.2 128.2h.9M139.6 123.1h.9M114.8 129.1h.9M130.4 115.6h.9M117 126.5h.9M134 120h.9M131.9 121h.9M106.4 131.2h.9M90.9 131.3h.9M166 123h.9M126.4 126.3h.9M128.2 135.5h.9M112.9 130.1h.9M128.4 132.8h.9M123.5 132.4h.9M102.1 133.9h.9M110.4 124.3h.9M148.3 122.5h.9M121.5 131.5h.9M97.6 133.5h.9M152 118.8h.9M129.1 129.1h.9M124.9 125.5h.9M124.6 125.5h.9M111.4 128.9h.9M118.3 122.2h.9M102.5 122.3h.9M123.7 131h.9M125.3 127.2h.9M120.7 125.8h.9M115.7 138.7h.9M137.3 127h.9M154.2 123.1h.9M89.1 123.8h.9M112.6 125.8h.9M163.6 118.2h.9M105.8 130.2h.9M96.3 126.5h.9M135.4 133.1h.9M132.5 121.8h.9M139.6 130.6h.9M113.4 135.6h.9M102.1 128.1h.9M125 120.3h.9M130 129.4h.9M99.1 121.2h.9M127.9 127.9h.9M107.8 135.6h.9M136.6 132.6h.9M135 123.4h.9M119.1 138h.9M131.5 119.1h.9" fill="none" stroke="#ff0a0a" stroke-width="0.9" stroke-opacity="0.5"/>
<line x1="33" y1="127.6" x2="186.6" y2="127.6" stroke="#f03030" stroke-width="0.9" />
<line x1="103.4" y1="34.2" x2="103.4" y2="198.8" stroke="#f03030" stroke-width="0.9" />
<circle cx="103.4" cy="65.7" r="2.1" fill="none" stroke="#e62020" stroke-width="0.8"/>
<circle cx="158.5" cy="127.6" r="2.1" fill="none" stroke="#e62020" stroke-width="0.8"/>
<text x="106.6" y="122.4" font-family="Liberation Serif" font-size="7" text-anchor="start" font-weight="normal" fill="#ee4a4a" >R2</text>
<rect x="33" y="34.2" width="153.6" height="164.6" fill="none" stroke="#2a2a2a" stroke-width="0.9"/>
<line x1="33" y1="198.8" x2="33" y2="201.6" stroke="#2a2a2a" stroke-width="0.8" />
<line x1="30.2" y1="198.8" x2="33" y2="198.8" stroke="#2a2a2a" stroke-width="0.8" />
<line x1="42.2" y1="198.8" x2="42.2" y2="200.3" stroke="#2a2a2a" stroke-width="0.8" />
<line x1="31.5" y1="188.9" x2="33" y2="188.9" stroke="#2a2a2a" stroke-width="0.8" />
<line x1="47.7" y1="198.8" x2="47.7" y2="200.3" stroke="#2a2a2a" stroke-width="0.8" />
<line x1="31.5" y1="183.1" x2="33" y2="183.1" stroke="#2a2a2a" stroke-width="0.8" />
<line x1="51.5" y1="198.8" x2="51.5" y2="200.3" stroke="#2a2a2a" stroke-width="0.8" />
<line x1="31.5" y1="179" x2="33" y2="179" stroke="#2a2a2a" stroke-width="0.8" />
<line x1="54.5" y1="198.8" x2="54.5" y2="200.3" stroke="#2a2a2a" stroke-width="0.8" />
<line x1="31.5" y1="175.8" x2="33" y2="175.8" stroke="#2a2a2a" stroke-width="0.8" />
<line x1="56.9" y1="198.8" x2="56.9" y2="200.3" stroke="#2a2a2a" stroke-width="0.8" />
<line x1="31.5" y1="173.2" x2="33" y2="173.2" stroke="#2a2a2a" stroke-width="0.8" />
<line x1="59" y1="198.8" x2="59" y2="200.3" stroke="#2a2a2a" stroke-width="0.8" />
<line x1="31.5" y1="171" x2="33" y2="171" stroke="#2a2a2a" stroke-width="0.8" />
<line x1="60.7" y1="198.8" x2="60.7" y2="200.3" stroke="#2a2a2a" stroke-width="0.8" />
<line x1="31.5" y1="169.1" x2="33" y2="169.1" stroke="#2a2a2a" stroke-width="0.8" />
<line x1="62.3" y1="198.8" x2="62.3" y2="200.3" stroke="#2a2a2a" stroke-width="0.8" />
<line x1="31.5" y1="167.4" x2="33" y2="167.4" stroke="#2a2a2a" stroke-width="0.8" />
<line x1="63.7" y1="198.8" x2="63.7" y2="201.6" stroke="#2a2a2a" stroke-width="0.8" />
<line x1="30.2" y1="165.9" x2="33" y2="165.9" stroke="#2a2a2a" stroke-width="0.8" />
<line x1="73" y1="198.8" x2="73" y2="200.3" stroke="#2a2a2a" stroke-width="0.8" />
<line x1="31.5" y1="156" x2="33" y2="156" stroke="#2a2a2a" stroke-width="0.8" />
<line x1="78.4" y1="198.8" x2="78.4" y2="200.3" stroke="#2a2a2a" stroke-width="0.8" />
<line x1="31.5" y1="150.2" x2="33" y2="150.2" stroke="#2a2a2a" stroke-width="0.8" />
<line x1="82.2" y1="198.8" x2="82.2" y2="200.3" stroke="#2a2a2a" stroke-width="0.8" />
<line x1="31.5" y1="146.1" x2="33" y2="146.1" stroke="#2a2a2a" stroke-width="0.8" />
<line x1="85.2" y1="198.8" x2="85.2" y2="200.3" stroke="#2a2a2a" stroke-width="0.8" />
<line x1="31.5" y1="142.9" x2="33" y2="142.9" stroke="#2a2a2a" stroke-width="0.8" />
<line x1="87.6" y1="198.8" x2="87.6" y2="200.3" stroke="#2a2a2a" stroke-width="0.8" />
<line x1="31.5" y1="140.3" x2="33" y2="140.3" stroke="#2a2a2a" stroke-width="0.8" />
<line x1="89.7" y1="198.8" x2="89.7" y2="200.3" stroke="#2a2a2a" stroke-width="0.8" />
<line x1="31.5" y1="138.1" x2="33" y2="138.1" stroke="#2a2a2a" stroke-width="0.8" />
<line x1="91.5" y1="198.8" x2="91.5" y2="200.3" stroke="#2a2a2a" stroke-width="0.8" />
<line x1="31.5" y1="136.2" x2="33" y2="136.2" stroke="#2a2a2a" stroke-width="0.8" />
<line x1="93" y1="198.8" x2="93" y2="200.3" stroke="#2a2a2a" stroke-width="0.8" />
<line x1="31.5" y1="134.5" x2="33" y2="134.5" stroke="#2a2a2a" stroke-width="0.8" />
<line x1="94.4" y1="198.8" x2="94.4" y2="201.6" stroke="#2a2a2a" stroke-width="0.8" />
<line x1="30.2" y1="133" x2="33" y2="133" stroke="#2a2a2a" stroke-width="0.8" />
<line x1="103.7" y1="198.8" x2="103.7" y2="200.3" stroke="#2a2a2a" stroke-width="0.8" />
<line x1="31.5" y1="123.1" x2="33" y2="123.1" stroke="#2a2a2a" stroke-width="0.8" />
<line x1="109.1" y1="198.8" x2="109.1" y2="200.3" stroke="#2a2a2a" stroke-width="0.8" />
<line x1="31.5" y1="117.3" x2="33" y2="117.3" stroke="#2a2a2a" stroke-width="0.8" />
<line x1="112.9" y1="198.8" x2="112.9" y2="200.3" stroke="#2a2a2a" stroke-width="0.8" />
<line x1="31.5" y1="113.1" x2="33" y2="113.1" stroke="#2a2a2a" stroke-width="0.8" />
<line x1="115.9" y1="198.8" x2="115.9" y2="200.3" stroke="#2a2a2a" stroke-width="0.8" />
<line x1="31.5" y1="109.9" x2="33" y2="109.9" stroke="#2a2a2a" stroke-width="0.8" />
<line x1="118.3" y1="198.8" x2="118.3" y2="200.3" stroke="#2a2a2a" stroke-width="0.8" />
<line x1="31.5" y1="107.3" x2="33" y2="107.3" stroke="#2a2a2a" stroke-width="0.8" />
<line x1="120.4" y1="198.8" x2="120.4" y2="200.3" stroke="#2a2a2a" stroke-width="0.8" />
<line x1="31.5" y1="105.1" x2="33" y2="105.1" stroke="#2a2a2a" stroke-width="0.8" />
<line x1="122.2" y1="198.8" x2="122.2" y2="200.3" stroke="#2a2a2a" stroke-width="0.8" />
<line x1="31.5" y1="103.2" x2="33" y2="103.2" stroke="#2a2a2a" stroke-width="0.8" />
<line x1="123.8" y1="198.8" x2="123.8" y2="200.3" stroke="#2a2a2a" stroke-width="0.8" />
<line x1="31.5" y1="101.5" x2="33" y2="101.5" stroke="#2a2a2a" stroke-width="0.8" />
<line x1="125.2" y1="198.8" x2="125.2" y2="201.6" stroke="#2a2a2a" stroke-width="0.8" />
<line x1="30.2" y1="100" x2="33" y2="100" stroke="#2a2a2a" stroke-width="0.8" />
<line x1="134.4" y1="198.8" x2="134.4" y2="200.3" stroke="#2a2a2a" stroke-width="0.8" />
<line x1="31.5" y1="90.1" x2="33" y2="90.1" stroke="#2a2a2a" stroke-width="0.8" />
<line x1="139.8" y1="198.8" x2="139.8" y2="200.3" stroke="#2a2a2a" stroke-width="0.8" />
<line x1="31.5" y1="84.3" x2="33" y2="84.3" stroke="#2a2a2a" stroke-width="0.8" />
<line x1="143.7" y1="198.8" x2="143.7" y2="200.3" stroke="#2a2a2a" stroke-width="0.8" />
<line x1="31.5" y1="80.2" x2="33" y2="80.2" stroke="#2a2a2a" stroke-width="0.8" />
<line x1="146.6" y1="198.8" x2="146.6" y2="200.3" stroke="#2a2a2a" stroke-width="0.8" />
<line x1="31.5" y1="77" x2="33" y2="77" stroke="#2a2a2a" stroke-width="0.8" />
<line x1="149.1" y1="198.8" x2="149.1" y2="200.3" stroke="#2a2a2a" stroke-width="0.8" />
<line x1="31.5" y1="74.4" x2="33" y2="74.4" stroke="#2a2a2a" stroke-width="0.8" />
<line x1="151.1" y1="198.8" x2="151.1" y2="200.3" stroke="#2a2a2a" stroke-width="0.8" />
<line x1="31.5" y1="72.2" x2="33" y2="72.2" stroke="#2a2a2a" stroke-width="0.8" />
<line x1="152.9" y1="198.8" x2="152.9" y2="200.3" stroke="#2a2a2a" stroke-width="0.8" />
<line x1="31.5" y1="70.3" x2="33" y2="70.3" stroke="#2a2a2a" stroke-width="0.8" />
<line x1="154.5" y1="198.8" x2="154.5" y2="200.3" stroke="#2a2a2a" stroke-width="0.8" />
<line x1="31.5" y1="68.6" x2="33" y2="68.6" stroke="#2a2a2a" stroke-width="0.8" />
<line x1="155.9" y1="198.8" x2="155.9" y2="201.6" stroke="#2a2a2a" stroke-width="0.8" />
<line x1="30.2" y1="67.1" x2="33" y2="67.1" stroke="#2a2a2a" stroke-width="0.8" />
<line x1="165.1" y1="198.8" x2="165.1" y2="200.3" stroke="#2a2a2a" stroke-width="0.8" />
<line x1="31.5" y1="57.2" x2="33" y2="57.2" stroke="#2a2a2a" stroke-width="0.8" />
<line x1="170.5" y1="198.8" x2="170.5" y2="200.3" stroke="#2a2a2a" stroke-width="0.8" />
<line x1="31.5" y1="51.4" x2="33" y2="51.4" stroke="#2a2a2a" stroke-width="0.8" />
<line x1="174.4" y1="198.8" x2="174.4" y2="200.3" stroke="#2a2a2a" stroke-width="0.8" />
<line x1="31.5" y1="47.3" x2="33" y2="47.3" stroke="#2a2a2a" stroke-width="0.8" />
<line x1="177.4" y1="198.8" x2="177.4" y2="200.3" stroke="#2a2a2a" stroke-width="0.8" />
<line x1="31.5" y1="44.1" x2="33" y2="44.1" stroke="#2a2a2a" stroke-width="0.8" />
<line x1="179.8" y1="198.8" x2="179.8" y2="200.3" stroke="#2a2a2a" stroke-width="0.8" />
<line x1="31.5" y1="41.5" x2="33" y2="41.5" stroke="#2a2a2a" stroke-width="0.8" />
<line x1="181.8" y1="198.8" x2="181.8" y2="200.3" stroke="#2a2a2a" stroke-width="0.8" />
<line x1="31.5" y1="39.3" x2="33" y2="39.3" stroke="#2a2a2a" stroke-width="0.8" />
<line x1="183.6" y1="198.8" x2="183.6" y2="200.3" stroke="#2a2a2a" stroke-width="0.8" />
<line x1="31.5" y1="37.4" x2="33" y2="37.4" stroke="#2a2a2a" stroke-width="0.8" />
<line x1="185.2" y1="198.8" x2="185.2" y2="200.3" stroke="#2a2a2a" stroke-width="0.8" />
<line x1="31.5" y1="35.7" x2="33" y2="35.7" stroke="#2a2a2a" stroke-width="0.8" />
<line x1="186.6" y1="198.8" x2="186.6" y2="201.6" stroke="#2a2a2a" stroke-width="0.6" />
<line x1="30.2" y1="34.2" x2="33" y2="34.2" stroke="#2a2a2a" stroke-width="0.6" />
<text x="33" y="208.2" font-family="Liberation Serif" font-size="7.7" text-anchor="middle" fill="#1a1a1a" stroke="#1a1a1a" stroke-width="0.2">10<tspan dy="-2.7" font-size="5.1">0</tspan></text>
<text x="30.6" y="196.6" font-family="Liberation Serif" font-size="7.7" text-anchor="middle" fill="#1a1a1a" stroke="#1a1a1a" stroke-width="0.2" transform="rotate(-90 30.6 196.6)">10<tspan dy="-2.7" font-size="5.1">0</tspan></text>
<text x="63.7" y="208.2" font-family="Liberation Serif" font-size="7.7" text-anchor="middle" fill="#1a1a1a" stroke="#1a1a1a" stroke-width="0.2">10<tspan dy="-2.7" font-size="5.1">1</tspan></text>
<text x="30.6" y="165.9" font-family="Liberation Serif" font-size="7.7" text-anchor="middle" fill="#1a1a1a" stroke="#1a1a1a" stroke-width="0.2" transform="rotate(-90 30.6 165.9)">10<tspan dy="-2.7" font-size="5.1">1</tspan></text>
<text x="94.4" y="208.2" font-family="Liberation Serif" font-size="7.7" text-anchor="middle" fill="#1a1a1a" stroke="#1a1a1a" stroke-width="0.2">10<tspan dy="-2.7" font-size="5.1">2</tspan></text>
<text x="30.6" y="133" font-family="Liberation Serif" font-size="7.7" text-anchor="middle" fill="#1a1a1a" stroke="#1a1a1a" stroke-width="0.2" transform="rotate(-90 30.6 133)">10<tspan dy="-2.7" font-size="5.1">2</tspan></text>
<text x="125.2" y="208.2" font-family="Liberation Serif" font-size="7.7" text-anchor="middle" fill="#1a1a1a" stroke="#1a1a1a" stroke-width="0.2">10<tspan dy="-2.7" font-size="5.1">3</tspan></text>
<text x="30.6" y="100" font-family="Liberation Serif" font-size="7.7" text-anchor="middle" fill="#1a1a1a" stroke="#1a1a1a" stroke-width="0.2" transform="rotate(-90 30.6 100)">10<tspan dy="-2.7" font-size="5.1">3</tspan></text>
<text x="155.9" y="208.2" font-family="Liberation Serif" font-size="7.7" text-anchor="middle" fill="#1a1a1a" stroke="#1a1a1a" stroke-width="0.2">10<tspan dy="-2.7" font-size="5.1">4</tspan></text>
<text x="30.6" y="67.1" font-family="Liberation Serif" font-size="7.7" text-anchor="middle" fill="#1a1a1a" stroke="#1a1a1a" stroke-width="0.2" transform="rotate(-90 30.6 67.1)">10<tspan dy="-2.7" font-size="5.1">4</tspan></text>
<text x="186.6" y="208.2" font-family="Liberation Serif" font-size="7.7" text-anchor="middle" fill="#1a1a1a" stroke="#1a1a1a" stroke-width="0.2">10<tspan dy="-2.7" font-size="5.1">5</tspan></text>
<text x="30.6" y="34.2" font-family="Liberation Serif" font-size="7.7" text-anchor="middle" fill="#1a1a1a" stroke="#1a1a1a" stroke-width="0.2" transform="rotate(-90 30.6 34.2)">10<tspan dy="-2.7" font-size="5.1">5</tspan></text>
<text x="101.9" y="218.8" font-family="Liberation Serif" font-size="7.2" text-anchor="middle" font-weight="normal" fill="#222" >CD14 FITC</text>
<text x="21.4" y="132" font-family="Liberation Serif" font-size="7.2" text-anchor="middle" font-weight="normal" fill="#222" transform="rotate(-90 21.4 132)" >CD16 PE</text>
<text x="36.7" y="42.9" font-family="Liberation Serif" font-size="9.8" text-anchor="start" font-weight="normal" fill="#111" stroke="#111" stroke-width="0.3" textLength="21.1" lengthAdjust="spacingAndGlyphs">3.20%</text>
<text x="182.1" y="42.9" font-family="Liberation Serif" font-size="9.8" text-anchor="end" font-weight="normal" fill="#111" stroke="#111" stroke-width="0.3" textLength="21.1" lengthAdjust="spacingAndGlyphs">3.86%</text>
<text x="36.7" y="194.9" font-family="Liberation Serif" font-size="9.8" text-anchor="start" font-weight="normal" fill="#111" stroke="#111" stroke-width="0.3" textLength="25.2" lengthAdjust="spacingAndGlyphs">84.36%</text>
<text x="182.1" y="194.9" font-family="Liberation Serif" font-size="9.8" text-anchor="end" font-weight="normal" fill="#111" stroke="#111" stroke-width="0.3" textLength="21.1" lengthAdjust="spacingAndGlyphs">8.58%</text>
<text x="104.9" y="24.4" font-family="Liberation Sans" font-size="12.6" text-anchor="middle" font-weight="normal" fill="#000" >si-Plac8-NC</text>
<path d="M289 152.5h.9M294.7 141.4h.9M284.4 145.1h.9M287.7 145.8h.9M289.8 149.5h.9M292.9 147.4h.9M283.1 154.3h.9M293.2 138.3h.9M297.7 134.9h.9M296.8 139.1h.9M286.9 146.4h.9M284 147.7h.9M287.3 147h.9M286.4 149.6h.9M295 142.8h.9M286.3 147.8h.9M294.4 143.1h.9M288.1 154.6h.9M281.4 148.3h.9M288.5 145h.9M294.3 141.1h.9M293.3 145.5h.9M281.2 150.5h.9M288.2 144.8h.9M285.4 150.4h.9M301.1 140.5h.9M287.5 142.1h.9M288.6 146.5h.9M278.5 152.1h.9M285.1 144.2h.9M290.4 147.3h.9M292.5 144.9h.9M284.2 143.8h.9M294.2 141.9h.9M291.8 140.7h.9M292.5 143.6h.9M289.4 144.6h.9M291.8 142.9h.9M287.6 148.3h.9M294.3 146.8h.9M288.2 144h.9M291.4 146.1h.9M290.9 147.3h.9M295.3 143.2h.9M285 155.6h.9M290.9 144.3h.9M290.7 151.3h.9M291.2 148.8h.9M287 148.5h.9M285.8 148.1h.9M287.6 150h.9M285.7 143h.9M295.1 137.4h.9M286.6 148.8h.9M292.4 140.3h.9M282.6 152.4h.9M284.9 146.8h.9M294.1 144.9h.9M300.4 138.5h.9M301.5 137h.9M285.4 141.3h.9M288.6 149.2h.9M296.8 140.4h.9M294.9 147.4h.9M296 136.5h.9M290 142.7h.9M288.7 149.1h.9M282 151h.9M293.7 139h.9M292.6 140.6h.9M288.6 152.9h.9M292.5 143.1h.9M295.1 142.9h.9M284.9 148.2h.9M291 152.4h.9M289.1 150.6h.9M286.1 151.7h.9M289.1 136.1h.9M298.8 140.4h.9M295.3 141.8h.9M293.3 146.2h.9M293.3 150.6h.9M299.8 141.1h.9M293.9 145.3h.9M293.8 148h.9M286.2 145h.9M297 148.8h.9M296.7 146.1h.9M290.1 143.5h.9M287.7 149.3h.9M288 145.8h.9M291.1 138.9h.9M287.1 139.5h.9M281.7 144.9h.9M287.1 144.9h.9M289.2 146.2h.9M284.9 148.5h.9M298.9 137.8h.9M289.9 146h.9M293.7 143.8h.9M289.5 145.4h.9M293.8 138.5h.9M286.5 151.7h.9M288.2 143.7h.9M294.8 142.8h.9M300.1 138.2h.9M293.3 136.8h.9M296.8 139.3h.9M296 147.7h.9M283.2 154.4h.9M290.9 140.4h.9M287.2 143.6h.9M289.3 139.7h.9M284.5 154.2h.9M287.9 152.4h.9M299.5 142.1h.9M287 150.2h.9M295 143.8h.9M292.1 141.7h.9M292.2 154.6h.9M288.5 152.7h.9M299 141.6h.9M284.2 149.1h.9M292.3 148.2h.9M293 139.4h.9M292.9 146.9h.9M290.5 154.7h.9M290.9 143.5h.9M285.7 149.4h.9M307.5 136.3h.9M280.8 150.9h.9M289.1 148.9h.9M293.1 143.9h.9M293.4 140.8h.9M295 141.2h.9M277.1 150.7h.9M279.9 149.8h.9M294.2 148.6h.9M288.3 143.4h.9M285.2 149.8h.9M288.8 151.4h.9M284.3 145h.9M293.2 143.4h.9M289.3 145.9h.9M290.9 144.4h.9M280.1 150.2h.9M291.8 156.1h.9M295.8 146.4h.9M289.5 146.8h.9M286.1 146.8h.9M289.3 147.7h.9M286.2 150.4h.9M285.1 149.8h.9M293.8 138.2h.9M294.9 147.9h.9M292.6 139.6h.9M304.4 143.9h.9M290.8 146.8h.9M297.4 144.6h.9M283.1 141.4h.9M298.9 147.4h.9M287.1 142.3h.9M285.8 146.8h.9M293.7 149.4h.9M284.6 145.4h.9M296.7 143h.9M296.7 143.5h.9M291.2 145.1h.9M283.5 149.9h.9M294.2 154.7h.9M288 151.4h.9M288.3 151.8h.9M292.2 155.1h.9M293.9 142.4h.9M291.7 145.7h.9M290.9 146.4h.9M288.3 154.2h.9M288.1 143h.9M287.5 140.8h.9M284.3 151.9h.9M284.4 145.1h.9M298.9 140.8h.9M293.9 143.8h.9M285.6 150.1h.9M281.8 145.9h.9M290.1 140.6h.9M297 151h.9M293.5 142.6h.9M278.8 154.9h.9M290.9 137.6h.9M283.5 147.9h.9M291.9 145.2h.9M287.5 145.7h.9M291.2 142h.9M291 151h.9M293.2 137.5h.9M287.5 148.2h.9M297.6 147.5h.9M286.9 137.7h.9M292.8 146.8h.9M299.4 138.1h.9M291.9 146.3h.9M294.8 150h.9M287.4 154.8h.9M294.3 142.8h.9M299.8 146.9h.9M284 144.5h.9M290.5 154h.9M287.3 149.8h.9M287 142.6h.9M292.7 136.8h.9M293.8 145.1h.9M291 151.8h.9M293.1 137.8h.9M292.4 148h.9M292 142.1h.9M293.3 148.5h.9M292.4 146.6h.9M292.1 141.6h.9M293 145.4h.9M295.3 138.1h.9M294 138.9h.9M292.2 142.4h.9M289.1 154.9h.9M284.3 148h.9M293.8 142h.9M286.3 140.8h.9M292.1 152.2h.9M283.6 152.8h.9M291.6 141.4h.9M287.2 144.7h.9M291.4 148.1h.9M286.6 145.5h.9M296.9 145.3h.9M285.2 149.5h.9M302.3 140.9h.9M283.3 149.7h.9M293.7 145.7h.9M288.8 144.8h.9M282.1 152.8h.9M290.7 141.2h.9M295.5 141.7h.9M280.4 148h.9M294.9 144.7h.9M292.4 139.3h.9M294.6 152.8h.9M289.5 149.8h.9M286.3 149.4h.9M284.2 149.1h.9M301.3 141.9h.9M295.9 143.4h.9M292.8 144.2h.9M297.5 142.9h.9M295.1 145.2h.9M291.1 145.2h.9M298.5 146h.9M280.7 147.5h.9M288 140h.9M284.8 149.4h.9M288.8 139h.9M290.8 147.4h.9M293.5 143.5h.9M284.9 146.9h.9M283.5 156h.9M297.3 142.1h.9M287.7 146.3h.9M294 140.3h.9M286.9 151.2h.9M295.1 142.3h.9M285.2 146.1h.9M290.4 135.9h.9M286.6 152h.9M286 147.7h.9M285.3 144.9h.9M275.6 153.8h.9M287.7 149.2h.9M292.1 143.3h.9M282 145.9h.9M293.7 145.1h.9M293.4 148.1h.9M285.1 151.5h.9M291.4 144.3h.9M289.5 152.6h.9M278.8 148.2h.9M293.5 146.7h.9M294.2 140h.9M289.5 149.2h.9M294.5 140.8h.9M296.7 138.8h.9M288.7 149.8h.9M286.2 148h.9M289.8 143.4h.9M294.4 147h.9M291.2 149.3h.9M295.1 147.6h.9M289.3 150.5h.9M287.8 149h.9M297.5 140.9h.9M284.1 152.3h.9M292.2 141.7h.9M286.7 139.8h.9M294.8 141.5h.9M298.5 144.9h.9M291.2 148.9h.9M287.2 141h.9M284.2 143.7h.9M282.2 146.1h.9M284.2 154.7h.9M294.7 142.4h.9M290.7 145.5h.9M291.2 145.8h.9M286.2 150.5h.9M292.5 148h.9M288.2 139.6h.9M283.8 153.7h.9M288.7 147h.9M292 147.6h.9M289.8 146.1h.9M286.2 142.3h.9M293.9 149.4h.9M281.6 150.4h.9M289.8 148.9h.9M284.5 152h.9M291.1 148.2h.9M286.4 145h.9M292.3 141.6h.9M292.2 150.3h.9M290.2 139.1h.9M293.2 138.1h.9M290.4 143.9h.9M287.2 142.7h.9M284 141.3h.9M294.2 143.9h.9M293.6 150.3h.9M287.3 149.6h.9M302.9 138.8h.9M294 142.3h.9M287.3 145.5h.9M278.9 151.1h.9M298.1 137.8h.9M289.4 145.8h.9M294.1 144.8h.9M289.4 144.2h.9M287.6 146.3h.9M289.9 142.8h.9M286.7 151.2h.9M285.4 144.5h.9M294.8 149.4h.9M279.9 145.7h.9M294.4 148.1h.9M285.6 149.1h.9M292.9 136.3h.9M289 148.2h.9M300.9 141.3h.9M296.3 139.1h.9M287.6 142.2h.9M294 146.4h.9M283.1 151.8h.9M289.3 140.4h.9M275.2 152.4h.9M289.4 139.6h.9M293.1 142.4h.9M291.1 143.3h.9M287.4 148.7h.9M291.6 146.7h.9M286.6 155.4h.9M291.1 142.7h.9M293.1 148.7h.9M294.7 143.8h.9M277.1 149.8h.9M278.2 145.7h.9M293.4 145.1h.9M280.9 156.8h.9M293.7 136.8h.9M295 149.5h.9M288.9 148.2h.9M292.4 144.6h.9M295.2 149h.9M283.9 144.6h.9M281.4 149.1h.9M299 135.5h.9M280.9 148h.9M280.8 152.2h.9M285.4 144.3h.9M294.9 141h.9M295.9 136.6h.9M290 150.4h.9M302.1 137.7h.9M292.1 144.7h.9M291.4 152.1h.9M289.6 146.9h.9M295.6 143.6h.9M285.3 154.8h.9M289.3 145.5h.9M294.1 144.3h.9M292.1 143.6h.9M297.8 139.7h.9M289.4 143.9h.9M297.6 143.8h.9M288.5 148.5h.9M277.4 150.7h.9M294.8 141.9h.9M302.4 129.8h.9M295.7 134.1h.9M297.3 146.3h.9M296 139.1h.9M284.5 150.4h.9M291.2 140.5h.9M292 146.7h.9M295.2 145.1h.9M287.9 144.3h.9M282.6 150.5h.9M283.2 155.9h.9M284.6 150.9h.9M293.4 143.4h.9M293.9 142.3h.9M288 145.5h.9M288.6 146.5h.9M296 143.5h.9M297.7 144.6h.9M292.9 151.4h.9M284 143.8h.9M288.8 141.3h.9M285.6 154.3h.9M290.3 142h.9M297.5 147.3h.9M292.5 144.2h.9M289.5 144.3h.9M292.5 151.6h.9M288.4 153.9h.9M284.3 151.4h.9M297.5 142.9h.9M289.1 152h.9M282 152.4h.9M288.3 148.5h.9M284.5 148.4h.9M283.3 149.1h.9M285.2 146.4h.9M285 148.2h.9M292.2 144.5h.9M297 139.3h.9M284.4 147.5h.9M287.5 150.6h.9M289.6 145.5h.9M301.7 144.1h.9M286.3 144h.9M288.6 145.8h.9M299.7 143.4h.9M288.4 143.7h.9M291.2 152.9h.9M285 149.3h.9M286.7 140.4h.9M299.5 145.1h.9M292.7 139.6h.9M297.7 140.2h.9M287.1 147.7h.9M295.6 138.4h.9M296 137.4h.9M289.6 150.9h.9M301.8 143h.9M289.1 148.2h.9M287.1 151h.9M284.7 139.6h.9M290.9 147.6h.9M288.5 143h.9M287.2 150.2h.9M280.5 150.8h.9M289.7 139.4h.9M279.7 144.8h.9M294.6 143.4h.9M288.9 148.3h.9M282.8 148.6h.9M288.9 150.2h.9M292.1 143.7h.9M287.9 148.9h.9M284.7 144.3h.9M296.2 144.1h.9M286.7 142.5h.9M284.7 142.3h.9M290.5 142.5h.9M278.6 151.7h.9M290.2 143.1h.9M291 142.8h.9M285.7 145.5h.9M292.6 148.6h.9M285 149.5h.9M296.5 150.6h.9M278.2 151.1h.9M283.6 138.4h.9M283.6 152.5h.9M286 146.8h.9M292.8 136.3h.9M282.6 146.6h.9M283.8 149.8h.9M289.4 143.7h.9M283.4 145.5h.9M289.7 146.3h.9M291.2 149.9h.9M292.5 142.3h.9M287.9 139.3h.9M286.7 150.1h.9M288.1 143.7h.9M287.1 144.2h.9M296 149h.9M291.4 154h.9M289.6 148.2h.9M292.3 143.3h.9M286.9 142.9h.9M295.5 147h.9M286.1 147.8h.9M298.2 140h.9M288.6 145.9h.9M293.8 143.2h.9M292.3 146h.9M289.3 150.2h.9M294.3 145h.9M291.6 142.8h.9M300.5 149.5h.9M288.3 153h.9M287.4 144.5h.9M298.1 132.2h.9M295.3 139.8h.9M287 146h.9M278 151.8h.9M288.7 144.3h.9M287.8 152.9h.9M287.2 148.6h.9M292.4 145.6h.9M290.1 142.8h.9M284.9 150.7h.9M284.1 153.4h.9M295.7 144.4h.9M297.4 137.5h.9M293.8 142.3h.9M291.5 139.8h.9M291.7 147h.9M283.1 142.9h.9M290.2 147.9h.9M290.6 153.2h.9M287 147h.9M289.5 149.9h.9M290.8 143.2h.9M287.3 146.8h.9M283.6 147.4h.9M286.3 150.7h.9M291.6 146.6h.9M280.1 144.8h.9M300.8 144.9h.9M293.4 148.9h.9M294.4 148.3h.9M291.5 142.3h.9M295.1 136.2h.9M285.8 145.2h.9M288.2 148.1h.9M291.7 152.6h.9M297.3 149.1h.9M287.7 145.5h.9M294.1 149.8h.9M285.5 146.7h.9M291.4 137.5h.9M280.7 151.7h.9M286.1 145.8h.9M282.6 152.8h.9M294.7 145h.9M290.6 150h.9M298.1 145.3h.9M286.6 150.4h.9M283.8 141.5h.9M293.1 147.2h.9M291.9 142.9h.9M291.4 145.1h.9M294.8 147.4h.9M285.5 151.7h.9M283.4 148.3h.9M296.1 135.2h.9M291.3 143.4h.9M289.8 152.1h.9M295.8 147.9h.9M291.7 145.2h.9M293.3 143h.9M291.8 147.2h.9M282.9 153.5h.9M290.8 140.5h.9M298.5 143.4h.9M284.1 147.7h.9M282.1 140.8h.9M294.9 148.9h.9M283.9 143.9h.9M281.3 152.6h.9M280.1 147h.9M290.3 150.5h.9M283.8 154.5h.9M279.4 157.1h.9M299.7 137.4h.9M291.4 150.1h.9M292.6 146h.9M283 145.5h.9M294 146.7h.9M296.9 140.5h.9M292 143.7h.9M294 139.8h.9M286.8 145.4h.9M287.9 147.1h.9M299.9 142.6h.9M286.2 151h.9M284.8 144.4h.9M277.6 145.9h.9M298.3 141.1h.9M291.7 146.3h.9M291.6 141.6h.9M291.7 141.1h.9M299.2 139h.9M293.6 143.8h.9M289.7 145.3h.9M289 145.3h.9M286.5 149.7h.9M289.9 151.5h.9M287.9 150h.9M292.8 150.8h.9M291.4 150h.9M285.8 148.6h.9M294.4 141h.9M288.8 149.1h.9M299.8 145.2h.9M298.6 145.7h.9M287 148.3h.9M285.2 142.4h.9M292.4 144.2h.9M294.3 142.2h.9M283.8 146.1h.9M294 136.8h.9M280.3 145.4h.9M286.4 145.5h.9M290.1 135h.9M284.9 154.9h.9M294.3 140.1h.9M295.2 155.1h.9M292.4 144.8h.9M272 148.8h.9M279.8 157.1h.9M289.5 145.4h.9M294.1 143.8h.9M286.7 150.4h.9M282.9 157.1h.9M300.6 140.3h.9M285.3 141.2h.9M294.5 141.6h.9M294 143.9h.9M283.6 146.8h.9M287 141.2h.9M289.6 148h.9M292 145.2h.9M290.6 149.6h.9M290.4 144.1h.9M298.4 139h.9M280.9 151.5h.9M301.5 138.4h.9M286.7 149.5h.9M277.7 157.9h.9M292.6 150.8h.9M294.6 146.1h.9M283.2 155h.9M288.6 138.4h.9M295.3 140.7h.9M288.2 148.7h.9M295.6 143.7h.9M289.7 141.8h.9M287.2 151.1h.9M292 144.3h.9M290.6 147.9h.9M285.5 141.2h.9M299.9 145.1h.9M290 145.6h.9M293.3 149.6h.9M289.1 146.1h.9M286.2 147.8h.9M282.2 159.4h.9M289.6 144.6h.9M290.3 147.9h.9M288.4 142.4h.9M294.3 142.8h.9M285.5 144.9h.9M290.5 141.5h.9M290.7 149.4h.9M292.3 147h.9M293.3 139.3h.9M278.5 152.6h.9M293.8 138.1h.9M289.8 150.1h.9M292.2 139.5h.9M292.9 148.9h.9M282.4 151.2h.9M287.8 151h.9M289.7 141.5h.9M282 155.8h.9M296.1 141.1h.9M287 145.6h.9M287.5 153.7h.9M286.6 141.7h.9M294.7 142.1h.9M295.6 143.2h.9M288.4 155.1h.9M289.2 142.5h.9M291.8 144.7h.9M285.7 144.6h.9M293.1 150.1h.9M297.8 142.5h.9M291.8 144.5h.9M294.3 141.3h.9M295.1 140.7h.9M289 149.1h.9M294.9 145.7h.9M294.8 143.1h.9M287.7 151.9h.9M285.3 141.8h.9M293.5 143h.9M281.5 144.3h.9M288.7 147.1h.9M285 144h.9M291.8 146.6h.9M293.1 148h.9M285.5 150.5h.9M274.1 153.9h.9M301.6 141.3h.9M292.9 150.8h.9M290.3 144.8h.9M296.4 146.7h.9M288.7 150.1h.9M283.7 140.8h.9M289.2 146.9h.9M285.9 145.8h.9M299.1 133h.9M299.5 143h.9M294.8 141.8h.9M293.3 138.3h.9M296.8 148h.9M291.7 146.8h.9M292 144.2h.9M298.5 146.3h.9M286.8 149.1h.9M292.4 145.9h.9M289.7 146h.9M295.1 142.3h.9M295.2 150h.9M281.3 160h.9M296.9 150.9h.9M292.1 144.7h.9M291.7 148h.9M286.2 145.4h.9M291.7 144.7h.9M287.3 147.3h.9M295.5 141.5h.9M291 150.6h.9M292.5 148.1h.9M281.4 149.2h.9M291.8 153.9h.9M282.5 143.8h.9M292.5 150h.9M283.3 148.3h.9M291.4 143.9h.9M288 145.4h.9M296 138.7h.9M292.4 150.4h.9M288.5 140h.9M295.8 146.9h.9M287.9 141.8h.9M286 147.1h.9M291.8 136.9h.9M286.7 156.9h.9M290.1 142.6h.9M288.4 147.4h.9M285.4 144.3h.9M279.2 153.9h.9M285.7 152.8h.9M285 154.4h.9M289.8 146h.9M298.7 139.7h.9M290.8 143.7h.9M287.8 141h.9M290.3 145.1h.9M289.5 146.4h.9M287.5 143.5h.9M289.9 145.7h.9M288.1 144.1h.9M285.7 145.3h.9M285.8 146.3h.9M298.3 138h.9M292.3 149.5h.9M293.4 143.1h.9M295.7 144.3h.9M288.3 139.1h.9M292.6 145.3h.9M284 151.1h.9M291.7 141.8h.9M287.2 153.1h.9M287.8 152.5h.9M288.1 146.3h.9M298.4 138h.9M300.5 144.9h.9M295.3 137.9h.9M290.2 142.1h.9M288.5 138.4h.9M297.7 147.6h.9M278.3 148.4h.9M286.6 142.7h.9M289.9 149.1h.9M287.7 146.5h.9M292.3 147h.9M291.1 142.2h.9M288.3 152.6h.9M281.7 154.4h.9M291.6 147.9h.9M287.5 148.7h.9M288.8 144.3h.9M292.8 141.6h.9M297.4 144.3h.9M291.9 142.6h.9M286.7 151.9h.9M291.9 144.1h.9M285.5 152.4h.9M295.1 137.8h.9M287.3 142h.9M286.2 150h.9M295.2 143.2h.9M283.5 148.7h.9M303.2 146.7h.9M293.6 148.8h.9M291.9 151h.9M303.6 137.8h.9M291.8 147.8h.9M286.5 151.1h.9M287 140.4h.9M287.7 140.6h.9M284.9 149.9h.9M291.6 152h.9M307.8 132.2h.9M292.9 147.1h.9M289.7 151h.9M295.7 143.1h.9M288.9 146.1h.9M283.8 150.1h.9M288.2 145.4h.9M288.1 147.4h.9M290.2 141.4h.9M284.6 146h.9M285.9 150.3h.9M290.3 145.1h.9M280.7 158.3h.9M287 144.2h.9M283.3 144.6h.9M281.5 152.8h.9M292.5 143.9h.9M289.1 142.4h.9M284.9 147.5h.9M295.4 142.5h.9M282 158.2h.9M288.5 152.2h.9M293.8 146.5h.9M300.1 134.8h.9M284.6 151.8h.9M295.5 138.2h.9M282.9 147.1h.9M282.7 141.8h.9M286.1 146.5h.9M293.6 145h.9M286.6 143.4h.9M292.4 144.2h.9M288.1 139.5h.9M293.2 141.1h.9M295.1 149h.9M291.7 146.8h.9M294.8 144.8h.9M294.5 147.1h.9M295.8 144.5h.9M288.5 144.5h.9M288.5 147.2h.9M290.9 137.1h.9M283.7 155.5h.9M291 140.8h.9M287.6 147.6h.9M283.9 140.5h.9M291.8 150h.9M285.7 155.5h.9M296.9 142h.9M297.5 136.7h.9M290.3 142.8h.9M291.5 140.4h.9M286.8 151.3h.9M287.2 147.8h.9M291.7 150.3h.9M282.7 143.8h.9M301.8 140.1h.9M291.8 144.6h.9M284.5 147.3h.9M285.9 141.7h.9M292.8 145.1h.9M278 156.5h.9M295.5 144.7h.9M292.5 140.7h.9M282.3 153.4h.9M289.8 142.7h.9M290.7 145.4h.9M289.1 148.1h.9M292.4 148.9h.9M293.7 144.4h.9M293.6 145.4h.9M291.6 144.1h.9M293.1 141.3h.9M294.7 142.8h.9M290.3 146.9h.9M284.5 151.2h.9M293.3 139.7h.9M285.4 148.5h.9M296.6 146.8h.9M290.9 143.8h.9M292.9 142.4h.9M286.6 158.2h.9M300.1 139.4h.9M293 137.6h.9M293 148.8h.9M296.4 140.8h.9M291.3 142.7h.9M292.1 139.6h.9M286.7 155.3h.9M290.6 145.4h.9M293.9 143.4h.9M284.5 141.2h.9M293.7 137.5h.9M296.6 144.1h.9M289.8 146.5h.9M286.9 152.6h.9M293.5 148.7h.9M291.4 142.6h.9M289.7 147.8h.9M291.7 142.4h.9M294.5 147.9h.9M277.8 146.7h.9M287.8 149.5h.9M283.4 155.2h.9M284.8 146.7h.9M281 160h.9M289.2 148.9h.9M287.4 150.2h.9M282.1 151.4h.9M295.2 141h.9M284.6 144.6h.9M294.6 146.9h.9M288.7 149.9h.9M287 142.9h.9M287.1 149.1h.9M293.2 148.8h.9M286.4 146.2h.9M299.5 146.7h.9M293.9 144h.9M294.5 139.3h.9M298.4 137.5h.9M290.1 149.8h.9M282.1 150h.9M290.5 141.8h.9M295 148.7h.9M288.7 148.2h.9M289 143.3h.9M295.9 139.7h.9M282.8 156.8h.9M281.9 156.3h.9M283.9 150h.9M286.4 143.8h.9M296 143.1h.9M294.3 142.3h.9M289 140.6h.9M284.9 150.6h.9M298.8 142.1h.9M290.7 144.8h.9M291.1 151.2h.9M289.1 151.3h.9M294.4 141.1h.9M295.9 146.5h.9M292 143.7h.9M296.5 143.9h.9M290.6 139.1h.9M300.4 141.5h.9M288.1 154.3h.9M293.1 140.7h.9M293.5 147h.9M292.1 136.8h.9M290.1 146.5h.9M294.3 140h.9M297.1 141.9h.9M292.3 145.6h.9M288 149h.9M287.5 145.7h.9M288.4 147h.9M289 152.4h.9M298.8 143.1h.9M296.2 136.4h.9M280.9 156.6h.9M288 147.6h.9M290.5 148.3h.9M296.1 141.5h.9M296 144.1h.9M283.8 145.1h.9M291.2 150.1h.9M286.8 143.8h.9M290.9 148.6h.9M290.7 140.9h.9M289.8 147.7h.9M282.2 140.1h.9M285.2 142h.9M288.4 145.5h.9M280.2 153.4h.9M291 146.6h.9M291.2 151.3h.9M282.8 151.3h.9M287.3 148.7h.9M290.3 148.1h.9M282.4 143.8h.9M286.1 151.6h.9M291.3 150.2h.9M283.6 147.4h.9M294 142h.9M303.1 131.2h.9M297.5 143.4h.9M291.2 137.3h.9M284.2 142.6h.9M288.9 152.2h.9M291.6 148.3h.9M295.4 146.5h.9M294.8 150.9h.9M287.5 143.3h.9M288.1 146.2h.9M297.5 144.7h.9M284 150.7h.9M291.9 145.6h.9M282.8 146.5h.9M285.2 151.2h.9M288.2 144.2h.9M289.8 149.9h.9M301.2 140.5h.9M294 143.3h.9M287.9 148h.9M288.1 146.1h.9M278.3 155.9h.9M292.5 148.3h.9M282.9 141.2h.9M297.1 137.1h.9M291.8 145.9h.9M297.4 141.8h.9M284.7 147.3h.9M287.3 151.9h.9M300.3 144.7h.9M289.4 145.9h.9M294.5 148.9h.9M289.7 147.8h.9M296.6 135.8h.9M284.6 146.6h.9M293.3 143.8h.9M289.5 147.7h.9M284.3 153.7h.9M291.1 138.5h.9M299.4 139.8h.9M298.3 150.1h.9M291.6 150.4h.9M297.6 147.3h.9M287.7 153h.9M290 142.2h.9M281.7 144.7h.9M292.6 147.6h.9M291.7 144.7h.9M293.1 141.8h.9M297.5 134.4h.9M285.3 146.3h.9M295.8 145.7h.9M288.4 151.1h.9M277.2 153.8h.9M286.2 143.5h.9M287.3 147.9h.9M291.2 140.6h.9M293.8 147.5h.9M298.2 135.1h.9M292.6 136.4h.9M295.6 139.4h.9M290.8 142.4h.9M281.3 149.6h.9M284.6 148.6h.9M283.7 148h.9M282.2 141.2h.9M289.8 143.9h.9M286.5 150.3h.9M290.4 147h.9M290 150h.9M294.4 144.1h.9M285.4 148.1h.9M286.7 149.6h.9M289.8 150.4h.9M290.8 149.1h.9M283.5 149.9h.9M292 151.1h.9M287.8 147h.9M291.2 143.3h.9M289.9 143.4h.9M289.6 150h.9M293.8 144.7h.9M288.6 144.2h.9M291.6 139.1h.9M287.7 149.6h.9M295.8 147.7h.9M282.9 149.2h.9M289.3 150.8h.9M292.5 141.4h.9M295 143.3h.9M289.5 148h.9M296 150.3h.9M285.3 146.7h.9M286.6 149.2h.9M289.4 144.1h.9M290.4 150.8h.9M303.1 138.3h.9M301.9 144.1h.9M291 146.1h.9M294.2 133.2h.9M296.8 144.9h.9M288 151.1h.9M287.1 147.3h.9M287 149.7h.9M293.6 136.4h.9M283.6 155.7h.9M285.4 143.9h.9M284.2 142.1h.9M288.5 140.7h.9M286.8 150.1h.9M293.4 140.5h.9M282.1 153.9h.9M289.5 143.6h.9M283.2 143.7h.9M287.5 141.5h.9M291.7 144.2h.9M291.2 150.3h.9M292.3 140.6h.9M295.2 143.4h.9M286.3 150.8h.9M288.6 147.2h.9M296.6 144.6h.9M286.3 146h.9M289.2 136.6h.9M294.4 146.2h.9M287 152.1h.9M289.8 145h.9M291.1 147.9h.9M289.4 146.9h.9M292.6 143.4h.9M289 152.2h.9M297 140.5h.9M289.3 146.7h.9M295.9 142.4h.9M291.4 145.9h.9M295 146.4h.9M288.7 142.4h.9M294.1 139.7h.9M287.9 140.6h.9M290.2 139.5h.9M287 153.5h.9M294.3 143.6h.9M290.2 150.1h.9M299.5 143.4h.9M293.7 149.3h.9M284.2 140.6h.9M302.3 137.9h.9M281.8 145.5h.9M290.1 154h.9M294.1 147.5h.9M280.9 148.5h.9M289.1 151.6h.9M291.3 145.8h.9M295 141.4h.9M294.8 136.8h.9M295.7 136.1h.9M289.2 144.2h.9M293.6 150h.9M283 148.5h.9M281.1 157.2h.9M284.3 151h.9M284.8 149.3h.9M290.2 147.9h.9M291.2 155.1h.9M293.3 149.1h.9M287.9 146.1h.9M293.3 140h.9M300 144h.9M289.6 139.2h.9M294.4 147.4h.9M293 145.8h.9M284.7 145.6h.9M291.8 149.6h.9M282.6 143.3h.9M284.7 147.4h.9M288.3 142.1h.9M290.9 149.5h.9M289.4 151.1h.9M301.5 135.5h.9M285.8 143.8h.9M293.5 143.9h.9M292.3 142.8h.9M291.5 137.2h.9M288.7 147.2h.9M286.5 143.4h.9M290.1 142.4h.9M295.6 144.2h.9M287.6 141.7h.9M292.5 140.2h.9M289.6 148h.9M286.8 149.9h.9M293 150h.9M297.1 143.5h.9M289.9 143.4h.9M291.6 152.9h.9M293.6 141.1h.9M286.4 143.9h.9M296.3 145h.9M293.6 150.9h.9M285.7 143.2h.9M284.4 146.9h.9M283.9 152.5h.9M290.5 137.7h.9M290.4 142.2h.9M303.4 145.9h.9M278.1 147.4h.9M300 134.9h.9M289.8 145h.9M291.6 147.5h.9M290.3 146.3h.9M291.6 141.6h.9M293.2 140.6h.9M282.5 145.9h.9M277.6 155.8h.9M292.8 146.1h.9M301 141.7h.9M285.9 151.7h.9M290.2 142.2h.9M289.1 143.7h.9M288.2 150.2h.9M293.7 149h.9M291.8 146.3h.9M295.4 146h.9M288.9 149.5h.9M290.6 150h.9M291.9 150.5h.9M291 142.1h.9M290.4 146.5h.9M288.2 151.9h.9M291.1 149.2h.9M284.4 150h.9M290.9 147.1h.9M286.5 149.2h.9M287.9 149.7h.9M289.3 143.3h.9M294.9 144.7h.9M298.1 144.4h.9M286.4 143.1h.9M300.5 136.5h.9M289.3 148.3h.9M284.9 150.9h.9M289.8 149.6h.9M297.2 143.4h.9M295.9 137.2h.9M294.3 145.1h.9M292.2 153.2h.9M291.9 145.6h.9M293.3 146.2h.9M295.6 148.1h.9M279.1 153h.9M302 150.2h.9M296.7 142h.9M292.8 150.6h.9M284 147.8h.9M286.8 148.8h.9M284.9 141.2h.9M297 146.1h.9M290.5 150.8h.9M285.3 153h.9M294.9 141.6h.9M293.4 143.7h.9M288 147.3h.9M285.4 141.1h.9M297.3 138.1h.9M297.2 149h.9M284.2 140h.9M284.6 146.8h.9M296.5 142.4h.9M290.1 148h.9M293.6 142.9h.9M294.2 137.1h.9M284.2 139h.9M290 148.7h.9M291 149.2h.9M288.3 147.7h.9M297.6 146.8h.9M285.5 153.3h.9M287.7 145.9h.9M283.1 144.9h.9M288.2 148.5h.9M287.7 142.6h.9M291.3 144.7h.9M287.2 147.5h.9M292.7 145.4h.9M294.1 150.9h.9M285 144.8h.9M296.6 140.8h.9M276.2 149.2h.9M283.5 139.7h.9M286 144.8h.9M284.2 144.6h.9M297.7 144.4h.9M289.5 133.4h.9M291.8 150h.9M292.2 146h.9M285.7 154.4h.9M294.6 149.1h.9M293.9 140.7h.9M286.1 142.9h.9M284.3 147.6h.9M284.7 151.9h.9M294.1 145h.9M288.1 144.6h.9M294 136.7h.9M292.7 144.9h.9M279.7 146.8h.9M303.3 144.6h.9M294.1 142.8h.9M292.5 142.4h.9M289.2 146.7h.9M287.3 143h.9M290.1 148.4h.9M291.5 141.8h.9M291.4 143.6h.9M294.2 137.4h.9M291.5 145.7h.9M297.2 148.5h.9M289.3 149.8h.9M291.7 146.3h.9M299.5 134.7h.9M286.8 138.4h.9M290.8 146.8h.9M293.7 139.1h.9M291.5 139.2h.9M289.9 149.1h.9M286.6 148.4h.9M296.9 145h.9M290.6 151.6h.9M297.2 136.3h.9M293.8 148.4h.9M286.9 151.6h.9M293.1 149.2h.9M286.3 143.5h.9M289.9 145.6h.9M281.2 154.6h.9M290.9 148.4h.9M284 151.4h.9M286.7 151.3h.9M283.1 152.2h.9M296 144.8h.9M294.9 148.8h.9M291.4 142.3h.9M286.3 145.1h.9M286 149.1h.9M297.7 139.7h.9M282.4 147.1h.9M293.1 144.7h.9M286.1 157.9h.9M279.9 147.7h.9M293.3 147.1h.9M291.9 137.7h.9M285.2 147.8h.9M281.8 151.2h.9M301.4 142.9h.9M291.7 147.5h.9M289.4 146.1h.9M289.3 142.5h.9M290 141.2h.9M292.1 139.2h.9M286.1 147.4h.9M290.3 149.6h.9M298.2 137.8h.9M295 151.5h.9M287.3 144.8h.9M290.4 148.2h.9M297.4 141.3h.9M288.8 147.5h.9M286.6 144h.9M292.8 144h.9M288.9 147.9h.9M298.3 140.4h.9M296.5 147.7h.9M289.9 142.9h.9M295 140.3h.9M291.9 142.9h.9M290.2 136.4h.9M292.8 147.4h.9M293 144h.9M291.2 141.5h.9M291.7 146.6h.9M294.2 148.2h.9M293.3 147.3h.9M291.8 143.9h.9M291.8 150h.9M291.8 147.6h.9M287.8 144.6h.9M297.2 145.8h.9M291.2 138.8h.9M294.5 141h.9M285.7 141.6h.9M292.1 151.3h.9M289.8 144.9h.9M288.2 153.1h.9M298.6 138.2h.9M294.9 144.6h.9M283.7 152.1h.9M297.6 142.7h.9M282.4 153.1h.9M288.8 147h.9M286.1 150.7h.9M285.6 145.6h.9M288.8 143h.9M294.6 151.9h.9M280.1 151.9h.9M292 140.3h.9M293.7 151h.9M286.9 146.7h.9M297 141.7h.9M289.3 150.2h.9M292.6 139.8h.9M279.1 149.5h.9M289.3 153.4h.9M284.6 153.9h.9M294.6 130.4h.9M286 152.4h.9M289.8 144.2h.9M291.5 152h.9M289.7 149.3h.9M281.7 152.3h.9M287.4 156.1h.9M294.7 137.7h.9M296.3 140.2h.9M288.4 147.7h.9M282.3 149.1h.9M291.9 145.8h.9M281.9 153.3h.9M294.1 135.9h.9M294.8 143.6h.9M289.4 143.9h.9M288.6 142.4h.9M292.3 154.7h.9M281.3 157.5h.9M282.4 149.4h.9M294.9 141.9h.9M292.3 143.7h.9M291.9 146.6h.9M285.6 144.3h.9M288.9 147.1h.9M293.2 138.8h.9M287.7 146.7h.9M285.2 149.4h.9M291.5 144.8h.9M290 144.4h.9M280.6 157.7h.9M291.5 147h.9M286.3 150.2h.9M297.8 140.5h.9M288.2 149.7h.9M283.6 149.1h.9M283.6 147.2h.9M292.8 141h.9M294.9 142.3h.9M282.3 152.7h.9M296.4 147.7h.9M282.1 147.6h.9M289 140.7h.9M292.9 143.3h.9M290.1 142.1h.9M290.4 146.6h.9M292.2 145.6h.9M302.6 139h.9M286.2 155.1h.9M295.7 143.1h.9M291.3 145.9h.9M294.6 148.8h.9M291.7 147.2h.9M293.5 140.2h.9M286.6 153.3h.9M289.9 140.6h.9M293.8 143.5h.9M300.4 148.1h.9M289.9 150.6h.9M284.2 148.3h.9M290.7 144.1h.9M288.1 144.8h.9M294.9 144.5h.9M296.4 144.9h.9M300.9 142.8h.9M291.2 150h.9M287.3 142.2h.9" fill="none" stroke="#ff0a0a" stroke-width="0.9" stroke-opacity="0.85"/>
<path d="M280.7 141.1h.9M300.8 133.6h.9M285.1 143.7h.9M275.8 164.8h.9M299.4 138.1h.9M312.2 131.4h.9M284.3 153.1h.9M290.1 133.1h.9M279.9 154.2h.9M303.9 138.9h.9M294.1 151.9h.9M294.7 135.7h.9M295.7 139.2h.9M299.9 138.3h.9M294.4 136h.9M299.6 133.7h.9M290.5 140.4h.9M288.6 161h.9M303.2 133.3h.9M287.5 152.9h.9M291.3 144.5h.9M283.5 144.5h.9M270.1 142.7h.9M278.8 143.6h.9M303.6 146.9h.9M283.9 151.3h.9M296.1 144h.9M292.1 143.1h.9M284.4 150.8h.9M310.8 132.5h.9M283 147.4h.9M297.9 131.1h.9M288.5 148.2h.9M294.8 143.5h.9M291.2 136.8h.9M296.4 140.5h.9M284.4 137.6h.9M276.4 143.1h.9M297.4 138.9h.9M280.4 140.8h.9M297.6 132.4h.9M314 138.5h.9M294.5 144.6h.9M287.2 148.2h.9M294.3 138.3h.9M296.7 150.4h.9M294.2 137.8h.9M303.8 126.6h.9M297.1 148.7h.9M314.2 129.6h.9M291.1 139.5h.9M291 135.1h.9M288 153.4h.9M298.5 148h.9M283 141.9h.9M295.1 142.5h.9M288.4 147.3h.9M296.5 148.7h.9M303 144.4h.9M302.9 137.3h.9M282.5 164.9h.9M298 145.8h.9M300 126.6h.9M304 126.8h.9M304.4 137.9h.9M303.4 137.5h.9M297.5 150h.9M291.4 141.8h.9M296.4 149h.9M295.5 134.3h.9M289 141.1h.9M303.3 141.8h.9M299.5 152.1h.9M283.6 148.7h.9M284.9 147.8h.9M303.1 150.4h.9M283.3 140.5h.9M292.2 143.3h.9M293.8 155.3h.9M270.3 141.8h.9M294.6 148.8h.9M300.8 151.5h.9M295.9 127.7h.9M286 147.3h.9M282.9 146h.9M287.2 149.9h.9M299.8 133.3h.9M296.1 152.5h.9M276.6 148.9h.9M296 140.4h.9M300.9 135.3h.9M287.8 149h.9M292 144.6h.9M308.1 125.5h.9M295.5 143.2h.9M291.6 152.5h.9M281 157.9h.9M288.9 161.6h.9M293.7 158.6h.9M297.5 129.8h.9M277.8 141.3h.9M307.1 150.5h.9M296.6 148.1h.9M281.2 156.2h.9M299.1 134.6h.9M284.7 156.1h.9M282.7 143.9h.9M295.7 148.8h.9M293.7 158.3h.9M283.1 145.5h.9M278.2 155.4h.9M288.6 141.1h.9M280.9 147.4h.9M294.8 124.1h.9M281.1 154.5h.9M290.6 144.8h.9M282.2 146.6h.9M303.5 122.4h.9M288 152.6h.9M297.3 138.7h.9M282.3 143.5h.9M292.3 136.2h.9M286.3 139.6h.9M293.6 151.8h.9M297.9 150h.9M298.7 132.7h.9M279.9 154h.9M300 140h.9M297.8 143.8h.9M292.4 144.8h.9M299.8 145h.9M283.2 149.8h.9M286.9 145h.9M294 152.9h.9M296.8 138h.9M299.1 140.7h.9M285.1 140.8h.9M273.7 147.4h.9M296.5 140.9h.9M290.8 140.8h.9M285.9 147.7h.9M292.9 158.1h.9M293.6 142.2h.9M295 137.4h.9M294.5 136h.9M280.2 145.5h.9M313.9 129.1h.9M280.8 149.1h.9M295.2 133.7h.9M308.9 140h.9M293.4 139.5h.9M305 139.8h.9M294.2 145.4h.9M291.9 145.6h.9M298.3 152.6h.9M292 143.9h.9M303.6 161.8h.9M290.1 151.3h.9M280.1 142.7h.9M299.9 138.8h.9M284 125.8h.9M283.7 148.2h.9M282.4 141.4h.9M301 137.3h.9M300 143.5h.9M277.9 150.6h.9M305.5 134.7h.9M295.7 155.1h.9M312.6 135.3h.9M286.3 151.1h.9M301 135.9h.9M292.3 144h.9M298.8 138.7h.9M293.9 143.3h.9M279.3 145.3h.9M292.7 154.2h.9M289.3 146.7h.9M304.1 145h.9M282.7 151.4h.9M299.5 146.3h.9M283.7 150.5h.9M297.8 151.9h.9M280.4 143.2h.9M280.8 146.3h.9M275.7 147.4h.9M306.5 136.4h.9M285.2 145.7h.9M281.5 149.6h.9M300.2 135h.9M295.5 142.6h.9M302.9 141.1h.9M304 133.8h.9M296.5 153.2h.9M288.4 145.8h.9M307.7 142.9h.9M294.3 147.8h.9M283.9 151.7h.9M283.7 145.1h.9M270.3 158.2h.9M286.5 164.7h.9M297.6 142.1h.9M297.2 147.3h.9M287.9 154h.9M295.4 148h.9M292.9 150.4h.9M298.6 147.4h.9M287.8 168.8h.9M292 143.7h.9M302.3 141h.9M290.1 157.8h.9M300.4 141.8h.9M299.9 138h.9M297.8 153.8h.9M284.6 144.9h.9M285.5 145h.9M276.8 150.2h.9M308.1 121.2h.9M299.6 147.3h.9M291.3 150.2h.9M301.7 151.5h.9M283.2 146.1h.9M290.7 139.8h.9M303.1 143.4h.9M281 150.7h.9M292.4 143.4h.9M282.7 144.8h.9M291.6 135.9h.9M287.3 143.3h.9M295.7 148.4h.9M298.4 151.7h.9M290.5 144.4h.9M301.6 144.1h.9M285.8 155.7h.9M280.2 160.2h.9M310.7 126.5h.9M289.7 151.8h.9M309.7 137.6h.9M292 145.1h.9M290.1 151.8h.9M283.8 158.5h.9M296.3 129.5h.9M287.7 142.8h.9M295.4 140.6h.9M286.8 139.6h.9M297.5 141.3h.9M287.2 141.5h.9M291 150.9h.9M292.5 147.9h.9M300.2 134.3h.9M293.9 146.8h.9M300.9 133h.9M303.9 126.6h.9M293.1 147.8h.9M289.8 145h.9M296.3 136.8h.9M309.7 140.5h.9M298.2 150h.9M287.5 153.2h.9M291.6 152.4h.9M277.2 148.9h.9M286.4 141.9h.9M293.6 161.2h.9M284.8 144h.9M287 145.9h.9M279.4 144.9h.9M291.5 136.7h.9M285.5 140.3h.9M294.9 145.6h.9M287.7 147.9h.9M290.6 155h.9M290.7 140.1h.9M287.1 142.2h.9M308.8 139.3h.9M298.1 146.5h.9M287.2 147.4h.9M273.2 156.7h.9M296.4 136.3h.9M290.1 132h.9M285.6 141.6h.9M300.9 132.6h.9M280.3 156.2h.9M296.7 152.9h.9M289.1 141.1h.9M291.4 146.5h.9M305.4 137.2h.9M285.6 149.9h.9M298.2 134.2h.9M294.9 145.7h.9M297.9 132.2h.9M278.8 153.7h.9M269.5 153h.9M299.3 142.8h.9M284.4 153.6h.9M277.8 152.8h.9M295.7 154.9h.9M287.7 139h.9M284.8 153.7h.9M304.8 131.5h.9M287.8 146.8h.9M302 143.3h.9M298.1 151.7h.9M287.2 160.9h.9M297.3 137.2h.9M293 134h.9M291.9 142.7h.9M293.6 139.4h.9M286 152h.9M291.3 144.8h.9M287.7 149.4h.9M293.8 141.4h.9M293.5 136.7h.9M292.7 136.3h.9M293.1 132.6h.9M299.4 142.6h.9M304.8 124.1h.9M298.6 132.8h.9M297.3 148.6h.9M297 142.7h.9M297.9 155.8h.9M308.1 139.1h.9M282.8 149.1h.9M299.6 143.8h.9M291.5 143h.9M291.6 140.7h.9M299.5 140.6h.9M272.5 145.1h.9M293.6 150.8h.9M295.6 136.6h.9M278.9 137.8h.9M270.7 153.6h.9M291 142.9h.9M295.7 143h.9M299.8 147.6h.9M282.5 138.6h.9M269.3 155.3h.9M279.8 162.1h.9M300.4 140.1h.9M294.2 154.2h.9M292.3 145.6h.9M294 154.9h.9M292 141.2h.9M298.7 134.4h.9M298.7 129h.9M265.8 155h.9M295.8 149.2h.9M291.9 137.1h.9M286.2 159.3h.9M299.6 142h.9M302.1 133.7h.9M293.7 153.3h.9M303.5 147.6h.9M288.3 158.1h.9M298 125.7h.9M292.4 147.1h.9M292.7 134.1h.9M278.1 139.7h.9M286.6 140.5h.9M275.8 159.5h.9M279.8 139.9h.9M295.9 150.9h.9M309.1 134.4h.9M297.3 149.4h.9M296.6 138.8h.9M292 147.6h.9M291.2 150.8h.9M277.7 147.9h.9M304.3 144.3h.9M282.6 149.8h.9M309.5 130.3h.9M291.2 147.1h.9M295 143.2h.9M296.4 132.8h.9M290.3 133.6h.9M293 147.9h.9M321.3 133.2h.9M290.5 164.3h.9M299.2 146.3h.9M308.3 146.2h.9M293 146.6h.9M280.4 146.1h.9M287.9 144.6h.9M288.1 146.8h.9M289 146.6h.9M294.4 147.6h.9M296.3 142h.9M289.6 154.8h.9M290.5 135.4h.9M284.7 154.3h.9M291.7 136.6h.9M302.2 144.5h.9M289.3 139.9h.9M295.1 143.4h.9M283.4 150.9h.9M291.9 144.3h.9M298.6 129.2h.9M285.9 148.1h.9M289.9 145.6h.9M300.6 129.5h.9M295.4 146.6h.9M289.9 143.5h.9M284.6 142.5h.9M297.3 149h.9M318.5 143.4h.9M291 146.3h.9M295.2 132.8h.9M296.9 127.9h.9M294.3 141.5h.9M299.9 137.6h.9M285.2 154.1h.9M294.9 137.1h.9M279.9 146h.9M300.6 148.5h.9M291.9 136.6h.9M297.5 141.9h.9M282.4 144.3h.9M294.1 142.6h.9M293.7 151.1h.9M280.4 157.6h.9M297.5 133.6h.9M281.7 141.8h.9M294.8 149.8h.9M294.1 131.7h.9M294.5 151.8h.9M301.5 154.9h.9M286.9 137.1h.9M297.3 145.4h.9M299.5 141.6h.9M303 137.4h.9M308.5 132.4h.9M297.5 146.8h.9M282 150.8h.9M298.8 145.9h.9M298.1 142.2h.9M288.8 147.9h.9M292.5 138.3h.9M299.9 134.4h.9M290 151.7h.9M299.8 146.8h.9M292.8 146.8h.9M291.1 143.9h.9M293.6 130.2h.9M294.9 133.9h.9M280.8 146.4h.9M307.1 141.5h.9M312.8 130.2h.9M268.6 151.7h.9M296.1 147.1h.9M284.2 143.1h.9M295.8 144h.9M304.4 140.6h.9M288.6 151.9h.9M284.5 145.8h.9M294.9 150h.9M296.9 155.5h.9M293.3 142.5h.9M297.8 141.1h.9M299 145.5h.9M292.1 143.2h.9M281.5 149.3h.9M293.3 142.9h.9M281.3 138.4h.9M295.5 147.3h.9M284.1 146.9h.9M294.1 148.8h.9M283.7 144.6h.9M289 138.9h.9M297 149.2h.9M297.5 137h.9M289 149.6h.9M282.3 146.7h.9M287.7 144.6h.9M295.4 143.5h.9M296.1 142.7h.9M285.7 153.4h.9M281.1 148.3h.9M299.4 142.3h.9M296 139h.9M303.1 141.8h.9M296.5 148.1h.9M282.3 142.5h.9M281.7 160.9h.9M293 137.5h.9M294.8 157.8h.9M278.8 153.5h.9M296.9 133h.9M282 142.9h.9M288.8 142.6h.9M285 138.4h.9M297.1 156.6h.9M289.5 145.2h.9M297.3 145.3h.9M295.3 150.4h.9M290.5 145.1h.9M287.8 135.4h.9M276.2 154.6h.9M300.1 146.2h.9M293 143.6h.9M282.5 147.3h.9M303.5 128.8h.9M293.9 134.4h.9M287.8 140.6h.9M286 148.4h.9M292.5 133.8h.9M291.6 147.1h.9M296.1 141.3h.9M290.4 139.7h.9M283.7 145.1h.9M296.2 142.7h.9M286 154.7h.9M288.6 140.3h.9M275.7 153.6h.9M298.2 147.6h.9M297.1 136.8h.9M299.4 145.4h.9M281.1 147.2h.9M301.1 133.4h.9M292.9 147.2h.9M276.5 150.8h.9M287.1 139.3h.9M283.3 144.1h.9M285.2 146.1h.9M305 138.2h.9M299 138.2h.9M285.1 149.1h.9M299.8 142.9h.9M292.8 148.1h.9M287.9 149.8h.9M300.3 140.9h.9M302.8 137.7h.9M283.5 143.8h.9M305 137.8h.9M301.1 145.2h.9M291.1 148.2h.9M302.3 144.9h.9M291.5 150.2h.9M297.9 148.6h.9M272.2 140.4h.9M299.8 149.1h.9M303.5 144.3h.9M272.8 148.9h.9M304.6 139.6h.9M283 148.9h.9M304.5 128.5h.9M301.7 144.9h.9M278.4 153.7h.9M299.1 137h.9M287.2 138.1h.9M282.4 144.7h.9M300.8 141.4h.9M293 142.8h.9M300.3 144.5h.9M290.5 145.1h.9M292.6 143.7h.9M295 143.2h.9M285 142.8h.9M289.2 149.4h.9M290.7 154.5h.9M295.8 141.3h.9M289.8 142.9h.9M288.7 142.2h.9M303.9 131.1h.9M284.3 138.7h.9M303.8 146.6h.9M301.1 134.7h.9M302.9 143.5h.9M289 152.1h.9M300.7 145.3h.9M283.9 144.4h.9M287.5 147.6h.9M292.7 156.9h.9M292.4 145h.9M278.7 148.9h.9M294.9 135.1h.9M293.3 152.1h.9M291.2 143.9h.9M293.5 147.6h.9M288.3 153.4h.9M293.8 146.6h.9M305.2 134.7h.9M297.5 143.1h.9M294.9 149.3h.9M294.8 153.4h.9M272.8 151.4h.9M283.4 148.8h.9M293.8 147.2h.9M299.7 141.8h.9M296.9 142.8h.9M295.6 133.8h.9M288.8 139h.9M290.1 134.2h.9M297.5 151.3h.9M293.1 141.7h.9M290.7 147.2h.9M295.4 151h.9M307.5 136.5h.9M291 157.4h.9M286.7 149.5h.9M300.5 132.2h.9M292.1 153.9h.9M285 151.4h.9M300.4 140.6h.9M296.3 125.8h.9M301.8 152.2h.9M300.5 137.6h.9M293.4 135.6h.9M285.2 150.1h.9M296.6 146.1h.9M297.8 140.2h.9M282.5 138.6h.9M287.4 136.1h.9M287.5 140.6h.9M286.7 148.1h.9M308.3 146.4h.9M297.3 141.8h.9M299.4 136.4h.9M296.8 149.9h.9M315.8 128.7h.9M293 149.1h.9M289.5 145h.9M279.1 148h.9M288.4 143.1h.9M279.8 159.5h.9M291.9 147.5h.9M286.7 146.9h.9M299.1 145.6h.9M276 153.3h.9M286.2 141.5h.9M299 139h.9M283.9 154.5h.9M282.7 143.4h.9M277.2 150.8h.9M283.9 156.1h.9M285.3 155.9h.9M288 145.2h.9M285.8 144.8h.9M304.1 132.4h.9M285.1 152h.9M293.1 146.2h.9M296.1 131.9h.9M304.4 129.3h.9M274.4 161.3h.9M300.2 143.3h.9M284.8 144h.9M297.8 147.9h.9M300.1 160.7h.9M297.1 149.2h.9M296.6 149.4h.9M288 152.1h.9M316.4 131.6h.9M286.3 153.8h.9M296.8 134h.9M298.5 141.1h.9M296.3 146.5h.9M294.3 148.6h.9M286.1 157.4h.9M304.4 130.3h.9M287.6 149.2h.9M284.7 141.7h.9M294.7 146.9h.9M296 138.5h.9M290.6 151.6h.9M299.7 150.1h.9M282.3 145.5h.9M294.2 133.9h.9M291.6 149.4h.9M292.4 147.8h.9M302.2 137h.9M304.6 138.6h.9M288.9 134.9h.9M289.8 151.5h.9M294.4 154.6h.9M292.8 148.7h.9M309.6 132.3h.9M274 153.5h.9M299.2 138.3h.9M291.7 139.3h.9M288.4 147.4h.9M287.1 136.2h.9M301.6 134.5h.9M279.8 148.8h.9M287.6 139.5h.9M292.1 143h.9M299.8 143.1h.9M279.1 138.5h.9M282.9 145.6h.9M294.1 136.4h.9M307 141.2h.9M306.9 146.8h.9M291.5 142.3h.9M295.5 133.1h.9M287 151.1h.9M294 148h.9M289.3 152h.9M295.2 131.2h.9M291.3 132.3h.9M297.2 148.1h.9M287.1 147.3h.9M294.9 132.5h.9M282.6 145.7h.9M286.5 144.9h.9M293.2 132.1h.9M287.8 146.4h.9M297 143.2h.9M290.8 141h.9M283.4 157.1h.9M306.7 127.8h.9M295.5 155.3h.9M283.8 147.9h.9M295.4 138h.9M298.8 142.9h.9M307.8 138.9h.9M297 142h.9M277.1 151h.9M287.8 142.8h.9M300.6 135.4h.9M288.6 149.1h.9M286.4 138.4h.9M292.3 132h.9M300.6 142.6h.9M295.2 134.2h.9M289.8 142.9h.9M295 151.4h.9M288.9 141.4h.9M298.4 155.8h.9M282.7 144.5h.9M289.7 137.9h.9M288.8 150.6h.9M288.4 153.6h.9M295.4 140.3h.9M287.9 145.9h.9M284.8 153.9h.9M287.7 159.8h.9M287.2 157.2h.9M298.1 128.4h.9M303.3 138.7h.9M301.1 145h.9M287.7 146.5h.9M280.6 153.2h.9M304.6 149h.9M276.5 160.5h.9M291 144.3h.9M282.4 148.8h.9M296 146.4h.9M302.8 132.8h.9M290.5 131.6h.9M289.8 148.1h.9M281.2 155.9h.9M285.9 130.7h.9M295.5 139.7h.9M286.9 155.6h.9" fill="none" stroke="#ff0a0a" stroke-width="0.9" stroke-opacity="0.65"/>
<path d="M279.4 175.1h.9M291.1 141.6h.9M282.4 156.1h.9M277.9 148.1h.9M303.3 143.4h.9M294.9 159.9h.9M271 131.7h.9M285.7 138.2h.9M288.4 127.1h.9M294.2 156h.9M297.8 127.1h.9M276.3 142.7h.9M291.9 145.7h.9M310 122.4h.9M297.8 144.7h.9M286.8 134.4h.9M302.5 146.9h.9M298 141.7h.9M296.8 143.7h.9M277 180.5h.9M302.6 167.4h.9M259.7 143.4h.9M303.3 142.1h.9M311.4 160.5h.9M287.9 134.5h.9M303.2 154.2h.9M307.1 139.9h.9M283.6 149.3h.9M273.9 131.2h.9M275.1 128.7h.9M305.9 151h.9M291.4 144.7h.9M300 120.1h.9M327 125.1h.9M270.3 130.1h.9M278.6 151.2h.9M318.2 137.5h.9M292.9 154.9h.9M295.3 136.5h.9M286.7 140.1h.9M285 156.2h.9M283.3 123.6h.9M290.9 145.1h.9M307 131.4h.9M305.7 130.1h.9M304.3 132.1h.9M286.8 161.5h.9M283.7 125.1h.9M316.4 129.1h.9M329.6 129.3h.9M275.1 145.9h.9M267.1 152.9h.9M291.9 136.1h.9M274.7 154.1h.9M303.4 136.1h.9M304 134.6h.9M298.2 144.3h.9M276.6 160.2h.9M303.1 146.5h.9M279.3 177.8h.9M309.2 133.8h.9M273.9 142.5h.9M300.3 159.5h.9M292.7 157h.9M296 154.7h.9M289.4 140.6h.9M286.4 152.6h.9M284.1 139.8h.9M277.9 146.1h.9M308.2 134.2h.9M282.4 157.5h.9M274.3 167.6h.9M278.7 158.6h.9M283.7 144.6h.9M290.2 140.4h.9M289.3 143.3h.9M273.5 151h.9M299.6 122.7h.9M272.7 155.2h.9M266.9 155.2h.9M292.6 151.1h.9M284.5 154.7h.9M298.6 153.3h.9M290.7 142.4h.9M298.5 140.2h.9M275.4 125.7h.9M301.7 132.2h.9M270.7 154h.9M317.5 161.7h.9M287.1 143.6h.9M291.6 144h.9M280.2 135.1h.9M298.4 143.7h.9M274.3 129.9h.9M285.1 158.3h.9M294.7 140.6h.9M285.9 130.7h.9M302.6 130.1h.9M292.8 145.2h.9M281.9 139h.9M283.9 166.7h.9M293.1 157.9h.9M274.5 142.5h.9M260.6 163.1h.9M277.7 160.5h.9M291.9 159.3h.9M273.4 159.6h.9M271.1 193h.9M279.4 139.8h.9M316.3 128.8h.9M284.2 155.7h.9M290.9 132.5h.9M277 150.8h.9M283.4 135.8h.9M288.4 151h.9M290.9 164.9h.9M290.1 136.4h.9M303.5 131.5h.9M292.8 157.5h.9M282.9 163h.9M295.3 140.9h.9M264.9 169.2h.9M295.8 156.9h.9M287.9 140.9h.9M288.9 167h.9M286.1 146.2h.9M277.8 134.7h.9M300.7 152.1h.9M305.8 142.7h.9M299.5 137.3h.9M313.8 141h.9M297.6 134.2h.9M275.9 148.4h.9M316.8 119.1h.9M283.7 154.2h.9M305.8 129.7h.9M314.4 135.6h.9M318.9 145.1h.9M292 149.3h.9M277.3 139.8h.9M282.1 148.3h.9M308.5 119.3h.9M292 155.5h.9M264.9 162.3h.9M294.8 126.7h.9M279.6 124.5h.9M317.6 156.7h.9M275.5 147.3h.9M281.1 142.1h.9M328.4 125.4h.9M319.3 123.2h.9M273.3 159.3h.9M307 140.8h.9M317.3 136.3h.9M283 139.3h.9M293.3 151.9h.9M287.1 139.7h.9M303.4 115.9h.9M314.9 126.2h.9M272 162.4h.9M293.9 157.7h.9M286.1 150.9h.9M286.1 136.8h.9M272.7 144.7h.9M287.3 138.4h.9M315.8 142.8h.9M316.5 134.8h.9M289.1 131.8h.9M314.2 148.8h.9M285.9 133.8h.9M291 147h.9M281.2 130.5h.9M292 158.5h.9M282.2 160.8h.9M286.6 144.5h.9M303.1 160.4h.9M267.9 155.4h.9M310.4 149h.9M320.6 155.9h.9M316.2 116.2h.9M268.1 157.7h.9M294.8 149.2h.9M289 150.7h.9M297.1 153.7h.9M281.1 146.1h.9M307.8 150.8h.9M274.9 136.9h.9M289 123.8h.9M282.8 167.6h.9M279.1 183.7h.9M294.8 157.7h.9M283.6 162.1h.9M283.8 139.9h.9M311.3 154.1h.9M312.6 132.5h.9M279.9 155.6h.9M296.9 160.8h.9M315.2 133.9h.9M280.8 146.6h.9M309.1 123.7h.9M277.9 150.6h.9M302.9 130.4h.9M303.3 142.4h.9M303.1 159.9h.9M291.2 162h.9M281.5 132.3h.9M273.8 179.3h.9M281.2 155.3h.9M311.8 139.6h.9M273.8 142.8h.9M292.8 136.7h.9M307.5 142.7h.9M299.4 148.3h.9M282.2 151.3h.9M306.4 151.3h.9M278.2 147.8h.9M289.3 137.7h.9M293.8 155h.9M297.3 131.9h.9M251 167h.9M277.9 147.2h.9M313.3 131.2h.9M278.2 152.8h.9M289.1 139.3h.9M273 157.4h.9M298 129.9h.9M291.2 128.4h.9M273.2 143.2h.9M301.6 151.3h.9M286.4 145.8h.9M286.5 130.2h.9M298 147.3h.9M321.2 125.2h.9M275.3 145.7h.9M292.5 156h.9M270.5 145.9h.9M278.2 155.1h.9M287.7 151.3h.9M280.9 152.2h.9M291.9 129.9h.9M295.8 158.5h.9M273.7 160.2h.9M252 159.4h.9M291.5 143.6h.9M279.4 164.8h.9M278 147h.9M282.6 144h.9M312 155.9h.9M280.2 136.7h.9M284.8 149.2h.9M299.1 156.6h.9M319.8 123.6h.9M303 142.2h.9M301 120.8h.9M299.7 124.7h.9M290.8 126h.9M295.9 139.6h.9M308.2 144.1h.9M255 164.3h.9M298.8 149.3h.9M295.4 155.8h.9M280.3 152h.9M287.6 136.7h.9M286.3 140.6h.9M305.3 143.8h.9M276 168.2h.9M292.6 152h.9M323.9 127.9h.9M303.2 146.5h.9M309.4 148.4h.9M302.4 133.6h.9M295.5 159.1h.9M316.5 132.6h.9M326.7 150.4h.9M264.4 142h.9M313.7 126.4h.9M299.9 129.5h.9M286.6 147.5h.9M287.3 168.1h.9M288.3 137.5h.9M302.6 153.6h.9M301.7 135.4h.9M303.2 139.6h.9M281.2 138.8h.9M317.3 140.9h.9M271.5 148.2h.9M296 140.8h.9M272.7 146.5h.9M292.7 141.1h.9M300.4 145.3h.9M295.9 139.7h.9M298.1 134.3h.9M281.2 164.1h.9M280.4 137.9h.9M275.9 142.1h.9M299 126.4h.9M319.7 121.7h.9M287.2 131.3h.9M289.9 132.3h.9M280.3 134.3h.9M336 109.4h.9M330.3 89.3h.9M311.3 121.6h.9M306.3 105h.9M321.8 100.9h.9M324.6 110.4h.9M315 118.5h.9M324.5 115.1h.9M306.2 107.6h.9M322.5 98.6h.9M323.2 101.5h.9M299.2 120.9h.9M336.7 67.2h.9M306.1 83.1h.9M301.7 123h.9M316.5 112.8h.9M301.8 133.1h.9M334.1 107.1h.9M319.4 111.8h.9M303 119.1h.9M331.3 77.4h.9M322.5 85.7h.9M312.8 104.2h.9M334.5 86.5h.9M326.9 114.9h.9M305.3 139.9h.9M324.2 89.7h.9M310.5 95.5h.9M289.6 128h.9M312.8 100.9h.9M338 87.4h.9M306 118.1h.9M321.7 109.6h.9M322.1 111.4h.9M322.2 105.6h.9M343 83.4h.9M323.2 96.2h.9M341.2 84.9h.9M300.1 105.3h.9M314.1 118.4h.9M321.3 116.9h.9M318.7 79h.9M322.1 111.9h.9M299.2 124.7h.9M308.4 111.9h.9M296.7 146.9h.9M321.1 93.8h.9M286.7 150.9h.9M319.4 103.9h.9M317.8 113.5h.9M315.5 101.2h.9M286 157.2h.9M329 91.9h.9M337.3 90.6h.9M329.9 70.4h.9M293 99.5h.9M320.5 75.1h.9M306.7 125.8h.9M314.7 93.3h.9M328.5 110.8h.9M331.5 87h.9M324.8 100.3h.9M327.2 114.2h.9M329.4 98.1h.9M296.8 132.7h.9M310.3 102h.9M335.4 98.4h.9M316.1 108.8h.9M326.8 109.5h.9M311.3 100.1h.9M319.4 79h.9M344.6 105.6h.9M319.3 112.9h.9M276.9 145.6h.9M327.2 91.2h.9M317.9 97.8h.9M305.3 103h.9M330.2 72.5h.9M310.4 113.7h.9M322.4 86.7h.9M303.8 112.5h.9M320.9 91.4h.9M313.9 112.8h.9M298.8 137h.9M315.7 114.5h.9M317.5 112h.9M318.1 104.1h.9M312.7 116.5h.9M313.3 105.1h.9M325.1 100.5h.9M322 127h.9M302.2 124.3h.9M296.5 113.2h.9M319.2 110.3h.9M320.4 111.1h.9M311.1 115.8h.9M302.3 128.7h.9M323.8 111.7h.9M325.6 87.6h.9M333.9 91.6h.9M314.3 131.6h.9M316.3 140.3h.9M337.3 82.9h.9M323.9 105.3h.9M304.6 100.9h.9M307.8 138.7h.9M326.1 108.1h.9M315.2 88.7h.9M321.3 88h.9M308.7 103.9h.9M318.8 124.5h.9M317.2 111.3h.9M337.7 90.8h.9M335.4 91.1h.9M318 134.4h.9M328.5 113.3h.9M319.7 102.3h.9M328.4 121.5h.9M309.3 112.2h.9M294.7 131.5h.9M322.2 108.2h.9M315.1 99.6h.9M323.6 110h.9M331 96.5h.9M314.2 95.5h.9M319.1 77.3h.9M327.2 88.7h.9M314.5 108.3h.9M300.7 83.4h.9M330.8 99.2h.9M345.3 88.9h.9M337.7 95.8h.9M310.7 125.9h.9M325.3 116.9h.9M325.1 96.5h.9M339.2 89.1h.9M294.5 132h.9M308.3 105h.9M303.8 149.6h.9M304.1 95.3h.9M319.9 134.9h.9M302.7 106.6h.9M344.2 86.8h.9M325.7 124.5h.9M316.7 124.1h.9M313.7 93.7h.9M344.7 69.1h.9M324.6 91.7h.9M304.6 94.8h.9M313.3 87.2h.9M338.1 89.8h.9M339.6 91.2h.9M345.5 94.7h.9M340.2 91.9h.9M351.8 84.6h.9M332.5 92.4h.9M336.8 96.5h.9M335.4 91.6h.9M345.3 85.2h.9M339.9 91.6h.9M338 88h.9M335.7 89.3h.9M332.3 94.7h.9M342.7 87.5h.9M340.1 92.7h.9M325.7 99.2h.9M332.5 95.9h.9M350.3 88.8h.9M344.1 89.2h.9M330 95.4h.9M344.9 92.7h.9M330.2 96.9h.9M344 91.2h.9M340.5 89.3h.9M337.6 90.7h.9M347.6 136.1h.9M334.6 141.3h.9M320.1 135.6h.9M341.3 139h.9M310.9 129.5h.9M362.8 150.3h.9M315.4 134.3h.9M336.8 140.6h.9M334.7 128.5h.9M326.3 130.7h.9M331.8 140.5h.9M321.6 138.6h.9M348.4 128.1h.9M333.4 144.3h.9M323.3 137.4h.9M303.5 135.1h.9M334 142.8h.9M324.2 137.7h.9M355.5 131.1h.9M340.6 134.5h.9M312.4 129.5h.9M320.8 146.4h.9M340.1 137h.9M330 131.9h.9M326.9 132.6h.9M347.8 136.9h.9M325.2 134.9h.9M338.9 137.4h.9M331.2 139h.9M329 131.8h.9" fill="none" stroke="#ff0a0a" stroke-width="0.9" stroke-opacity="0.5"/>
<path d="M358 79.7h.9M360.4 80.8h.9M352.9 85.9h.9M357.5 83.2h.9M355.5 85.1h.9M362.9 79.7h.9M356.5 83.3h.9M366.1 78.6h.9M367.1 78.8h.9M366.3 75.6h.9M353.3 83.5h.9M365.4 80h.9M355.2 82.7h.9M356 83.8h.9M356.8 81.8h.9M360.4 76.8h.9M351.7 78.2h.9M352.9 80.4h.9M357.8 85.7h.9M354.6 84.8h.9M366.2 82.3h.9M353 85.1h.9M360.8 79.3h.9M362.8 79.6h.9M354.2 81.1h.9M367.8 75.3h.9M359 83.5h.9M370.3 73.8h.9M362.8 83.2h.9M358.3 75.6h.9M356.2 83.5h.9M367.2 77.1h.9M360.4 75.7h.9M350.3 88.4h.9M361.3 79.7h.9M357.5 82.6h.9M357.5 81.3h.9M354.2 84.8h.9M359.7 83.7h.9M362.3 85h.9M361.3 80.3h.9M347.9 84.3h.9M347.2 83h.9M351 82.9h.9M354.8 79.7h.9M354.5 81.4h.9M357 87.2h.9M359 80.1h.9M357.8 77.8h.9M353.8 87.9h.9M359.4 82.8h.9M356.4 82.9h.9M350.5 83.5h.9M354.3 79.6h.9M357.5 79.5h.9M355.9 84.8h.9M354.6 86.1h.9M359.8 80.5h.9M351.7 89.4h.9M353.5 89.1h.9M352.9 88.6h.9M362.9 82h.9M353.3 84.9h.9M356.8 81.6h.9M361.3 78.4h.9M353.4 81.4h.9M360.2 82.4h.9M368 79.1h.9M358.7 78.3h.9M357.4 81.4h.9" fill="none" stroke="#ff0a0a" stroke-width="0.9" stroke-opacity="0.6"/>
<line x1="236.5" y1="126.4" x2="390.3" y2="126.4" stroke="#f03030" stroke-width="0.9" />
<line x1="307.4" y1="33.1" x2="307.4" y2="197.6" stroke="#f03030" stroke-width="0.9" />
<circle cx="307.4" cy="64.2" r="2.1" fill="none" stroke="#e62020" stroke-width="0.8"/>
<circle cx="362.3" cy="126.4" r="2.1" fill="none" stroke="#e62020" stroke-width="0.8"/>
<text x="310.6" y="121.2" font-family="Liberation Serif" font-size="7" text-anchor="start" font-weight="normal" fill="#ee4a4a" >R2</text>
<rect x="236.5" y="33.1" width="153.8" height="164.5" fill="none" stroke="#2a2a2a" stroke-width="0.9"/>
<line x1="236.5" y1="197.6" x2="236.5" y2="200.4" stroke="#2a2a2a" stroke-width="0.8" />
<line x1="233.7" y1="197.6" x2="236.5" y2="197.6" stroke="#2a2a2a" stroke-width="0.8" />
<line x1="245.8" y1="197.6" x2="245.8" y2="199.1" stroke="#2a2a2a" stroke-width="0.8" />
<line x1="235" y1="187.7" x2="236.5" y2="187.7" stroke="#2a2a2a" stroke-width="0.8" />
<line x1="251.2" y1="197.6" x2="251.2" y2="199.1" stroke="#2a2a2a" stroke-width="0.8" />
<line x1="235" y1="181.9" x2="236.5" y2="181.9" stroke="#2a2a2a" stroke-width="0.8" />
<line x1="255" y1="197.6" x2="255" y2="199.1" stroke="#2a2a2a" stroke-width="0.8" />
<line x1="235" y1="177.8" x2="236.5" y2="177.8" stroke="#2a2a2a" stroke-width="0.8" />
<line x1="258" y1="197.6" x2="258" y2="199.1" stroke="#2a2a2a" stroke-width="0.8" />
<line x1="235" y1="174.6" x2="236.5" y2="174.6" stroke="#2a2a2a" stroke-width="0.8" />
<line x1="260.4" y1="197.6" x2="260.4" y2="199.1" stroke="#2a2a2a" stroke-width="0.8" />
<line x1="235" y1="172" x2="236.5" y2="172" stroke="#2a2a2a" stroke-width="0.8" />
<line x1="262.5" y1="197.6" x2="262.5" y2="199.1" stroke="#2a2a2a" stroke-width="0.8" />
<line x1="235" y1="169.8" x2="236.5" y2="169.8" stroke="#2a2a2a" stroke-width="0.8" />
<line x1="264.3" y1="197.6" x2="264.3" y2="199.1" stroke="#2a2a2a" stroke-width="0.8" />
<line x1="235" y1="167.9" x2="236.5" y2="167.9" stroke="#2a2a2a" stroke-width="0.8" />
<line x1="265.9" y1="197.6" x2="265.9" y2="199.1" stroke="#2a2a2a" stroke-width="0.8" />
<line x1="235" y1="166.2" x2="236.5" y2="166.2" stroke="#2a2a2a" stroke-width="0.8" />
<line x1="267.3" y1="197.6" x2="267.3" y2="200.4" stroke="#2a2a2a" stroke-width="0.8" />
<line x1="233.7" y1="164.7" x2="236.5" y2="164.7" stroke="#2a2a2a" stroke-width="0.8" />
<line x1="276.5" y1="197.6" x2="276.5" y2="199.1" stroke="#2a2a2a" stroke-width="0.8" />
<line x1="235" y1="154.8" x2="236.5" y2="154.8" stroke="#2a2a2a" stroke-width="0.8" />
<line x1="281.9" y1="197.6" x2="281.9" y2="199.1" stroke="#2a2a2a" stroke-width="0.8" />
<line x1="235" y1="149" x2="236.5" y2="149" stroke="#2a2a2a" stroke-width="0.8" />
<line x1="285.8" y1="197.6" x2="285.8" y2="199.1" stroke="#2a2a2a" stroke-width="0.8" />
<line x1="235" y1="144.9" x2="236.5" y2="144.9" stroke="#2a2a2a" stroke-width="0.8" />
<line x1="288.8" y1="197.6" x2="288.8" y2="199.1" stroke="#2a2a2a" stroke-width="0.8" />
<line x1="235" y1="141.7" x2="236.5" y2="141.7" stroke="#2a2a2a" stroke-width="0.8" />
<line x1="291.2" y1="197.6" x2="291.2" y2="199.1" stroke="#2a2a2a" stroke-width="0.8" />
<line x1="235" y1="139.1" x2="236.5" y2="139.1" stroke="#2a2a2a" stroke-width="0.8" />
<line x1="293.3" y1="197.6" x2="293.3" y2="199.1" stroke="#2a2a2a" stroke-width="0.8" />
<line x1="235" y1="136.9" x2="236.5" y2="136.9" stroke="#2a2a2a" stroke-width="0.8" />
<line x1="295" y1="197.6" x2="295" y2="199.1" stroke="#2a2a2a" stroke-width="0.8" />
<line x1="235" y1="135" x2="236.5" y2="135" stroke="#2a2a2a" stroke-width="0.8" />
<line x1="296.6" y1="197.6" x2="296.6" y2="199.1" stroke="#2a2a2a" stroke-width="0.8" />
<line x1="235" y1="133.3" x2="236.5" y2="133.3" stroke="#2a2a2a" stroke-width="0.8" />
<line x1="298" y1="197.6" x2="298" y2="200.4" stroke="#2a2a2a" stroke-width="0.8" />
<line x1="233.7" y1="131.8" x2="236.5" y2="131.8" stroke="#2a2a2a" stroke-width="0.8" />
<line x1="307.3" y1="197.6" x2="307.3" y2="199.1" stroke="#2a2a2a" stroke-width="0.8" />
<line x1="235" y1="121.9" x2="236.5" y2="121.9" stroke="#2a2a2a" stroke-width="0.8" />
<line x1="312.7" y1="197.6" x2="312.7" y2="199.1" stroke="#2a2a2a" stroke-width="0.8" />
<line x1="235" y1="116.1" x2="236.5" y2="116.1" stroke="#2a2a2a" stroke-width="0.8" />
<line x1="316.5" y1="197.6" x2="316.5" y2="199.1" stroke="#2a2a2a" stroke-width="0.8" />
<line x1="235" y1="112" x2="236.5" y2="112" stroke="#2a2a2a" stroke-width="0.8" />
<line x1="319.5" y1="197.6" x2="319.5" y2="199.1" stroke="#2a2a2a" stroke-width="0.8" />
<line x1="235" y1="108.8" x2="236.5" y2="108.8" stroke="#2a2a2a" stroke-width="0.8" />
<line x1="322" y1="197.6" x2="322" y2="199.1" stroke="#2a2a2a" stroke-width="0.8" />
<line x1="235" y1="106.2" x2="236.5" y2="106.2" stroke="#2a2a2a" stroke-width="0.8" />
<line x1="324" y1="197.6" x2="324" y2="199.1" stroke="#2a2a2a" stroke-width="0.8" />
<line x1="235" y1="104" x2="236.5" y2="104" stroke="#2a2a2a" stroke-width="0.8" />
<line x1="325.8" y1="197.6" x2="325.8" y2="199.1" stroke="#2a2a2a" stroke-width="0.8" />
<line x1="235" y1="102.1" x2="236.5" y2="102.1" stroke="#2a2a2a" stroke-width="0.8" />
<line x1="327.4" y1="197.6" x2="327.4" y2="199.1" stroke="#2a2a2a" stroke-width="0.8" />
<line x1="235" y1="100.4" x2="236.5" y2="100.4" stroke="#2a2a2a" stroke-width="0.8" />
<line x1="328.8" y1="197.6" x2="328.8" y2="200.4" stroke="#2a2a2a" stroke-width="0.8" />
<line x1="233.7" y1="98.9" x2="236.5" y2="98.9" stroke="#2a2a2a" stroke-width="0.8" />
<line x1="338" y1="197.6" x2="338" y2="199.1" stroke="#2a2a2a" stroke-width="0.8" />
<line x1="235" y1="89" x2="236.5" y2="89" stroke="#2a2a2a" stroke-width="0.8" />
<line x1="343.5" y1="197.6" x2="343.5" y2="199.1" stroke="#2a2a2a" stroke-width="0.8" />
<line x1="235" y1="83.2" x2="236.5" y2="83.2" stroke="#2a2a2a" stroke-width="0.8" />
<line x1="347.3" y1="197.6" x2="347.3" y2="199.1" stroke="#2a2a2a" stroke-width="0.8" />
<line x1="235" y1="79.1" x2="236.5" y2="79.1" stroke="#2a2a2a" stroke-width="0.8" />
<line x1="350.3" y1="197.6" x2="350.3" y2="199.1" stroke="#2a2a2a" stroke-width="0.8" />
<line x1="235" y1="75.9" x2="236.5" y2="75.9" stroke="#2a2a2a" stroke-width="0.8" />
<line x1="352.7" y1="197.6" x2="352.7" y2="199.1" stroke="#2a2a2a" stroke-width="0.8" />
<line x1="235" y1="73.3" x2="236.5" y2="73.3" stroke="#2a2a2a" stroke-width="0.8" />
<line x1="354.8" y1="197.6" x2="354.8" y2="199.1" stroke="#2a2a2a" stroke-width="0.8" />
<line x1="235" y1="71.1" x2="236.5" y2="71.1" stroke="#2a2a2a" stroke-width="0.8" />
<line x1="356.6" y1="197.6" x2="356.6" y2="199.1" stroke="#2a2a2a" stroke-width="0.8" />
<line x1="235" y1="69.2" x2="236.5" y2="69.2" stroke="#2a2a2a" stroke-width="0.8" />
<line x1="358.1" y1="197.6" x2="358.1" y2="199.1" stroke="#2a2a2a" stroke-width="0.8" />
<line x1="235" y1="67.5" x2="236.5" y2="67.5" stroke="#2a2a2a" stroke-width="0.8" />
<line x1="359.5" y1="197.6" x2="359.5" y2="200.4" stroke="#2a2a2a" stroke-width="0.8" />
<line x1="233.7" y1="66" x2="236.5" y2="66" stroke="#2a2a2a" stroke-width="0.8" />
<line x1="368.8" y1="197.6" x2="368.8" y2="199.1" stroke="#2a2a2a" stroke-width="0.8" />
<line x1="235" y1="56.1" x2="236.5" y2="56.1" stroke="#2a2a2a" stroke-width="0.8" />
<line x1="374.2" y1="197.6" x2="374.2" y2="199.1" stroke="#2a2a2a" stroke-width="0.8" />
<line x1="235" y1="50.3" x2="236.5" y2="50.3" stroke="#2a2a2a" stroke-width="0.8" />
<line x1="378.1" y1="197.6" x2="378.1" y2="199.1" stroke="#2a2a2a" stroke-width="0.8" />
<line x1="235" y1="46.2" x2="236.5" y2="46.2" stroke="#2a2a2a" stroke-width="0.8" />
<line x1="381" y1="197.6" x2="381" y2="199.1" stroke="#2a2a2a" stroke-width="0.8" />
<line x1="235" y1="43" x2="236.5" y2="43" stroke="#2a2a2a" stroke-width="0.8" />
<line x1="383.5" y1="197.6" x2="383.5" y2="199.1" stroke="#2a2a2a" stroke-width="0.8" />
<line x1="235" y1="40.4" x2="236.5" y2="40.4" stroke="#2a2a2a" stroke-width="0.8" />
<line x1="385.5" y1="197.6" x2="385.5" y2="199.1" stroke="#2a2a2a" stroke-width="0.8" />
<line x1="235" y1="38.2" x2="236.5" y2="38.2" stroke="#2a2a2a" stroke-width="0.8" />
<line x1="387.3" y1="197.6" x2="387.3" y2="199.1" stroke="#2a2a2a" stroke-width="0.8" />
<line x1="235" y1="36.3" x2="236.5" y2="36.3" stroke="#2a2a2a" stroke-width="0.8" />
<line x1="388.9" y1="197.6" x2="388.9" y2="199.1" stroke="#2a2a2a" stroke-width="0.8" />
<line x1="235" y1="34.6" x2="236.5" y2="34.6" stroke="#2a2a2a" stroke-width="0.8" />
<line x1="390.3" y1="197.6" x2="390.3" y2="200.4" stroke="#2a2a2a" stroke-width="0.6" />
<line x1="233.7" y1="33.1" x2="236.5" y2="33.1" stroke="#2a2a2a" stroke-width="0.6" />
<text x="236.5" y="207" font-family="Liberation Serif" font-size="7.7" text-anchor="middle" fill="#1a1a1a" stroke="#1a1a1a" stroke-width="0.2">10<tspan dy="-2.7" font-size="5.1">0</tspan></text>
<text x="234.9" y="195.4" font-family="Liberation Serif" font-size="7.7" text-anchor="middle" fill="#1a1a1a" stroke="#1a1a1a" stroke-width="0.2" transform="rotate(-90 234.9 195.4)">10<tspan dy="-2.7" font-size="5.1">0</tspan></text>
<text x="267.3" y="207" font-family="Liberation Serif" font-size="7.7" text-anchor="middle" fill="#1a1a1a" stroke="#1a1a1a" stroke-width="0.2">10<tspan dy="-2.7" font-size="5.1">1</tspan></text>
<text x="234.9" y="164.7" font-family="Liberation Serif" font-size="7.7" text-anchor="middle" fill="#1a1a1a" stroke="#1a1a1a" stroke-width="0.2" transform="rotate(-90 234.9 164.7)">10<tspan dy="-2.7" font-size="5.1">1</tspan></text>
<text x="298" y="207" font-family="Liberation Serif" font-size="7.7" text-anchor="middle" fill="#1a1a1a" stroke="#1a1a1a" stroke-width="0.2">10<tspan dy="-2.7" font-size="5.1">2</tspan></text>
<text x="234.9" y="131.8" font-family="Liberation Serif" font-size="7.7" text-anchor="middle" fill="#1a1a1a" stroke="#1a1a1a" stroke-width="0.2" transform="rotate(-90 234.9 131.8)">10<tspan dy="-2.7" font-size="5.1">2</tspan></text>
<text x="328.8" y="207" font-family="Liberation Serif" font-size="7.7" text-anchor="middle" fill="#1a1a1a" stroke="#1a1a1a" stroke-width="0.2">10<tspan dy="-2.7" font-size="5.1">3</tspan></text>
<text x="234.9" y="98.9" font-family="Liberation Serif" font-size="7.7" text-anchor="middle" fill="#1a1a1a" stroke="#1a1a1a" stroke-width="0.2" transform="rotate(-90 234.9 98.9)">10<tspan dy="-2.7" font-size="5.1">3</tspan></text>
<text x="359.5" y="207" font-family="Liberation Serif" font-size="7.7" text-anchor="middle" fill="#1a1a1a" stroke="#1a1a1a" stroke-width="0.2">10<tspan dy="-2.7" font-size="5.1">4</tspan></text>
<text x="234.9" y="66" font-family="Liberation Serif" font-size="7.7" text-anchor="middle" fill="#1a1a1a" stroke="#1a1a1a" stroke-width="0.2" transform="rotate(-90 234.9 66)">10<tspan dy="-2.7" font-size="5.1">4</tspan></text>
<text x="390.3" y="207" font-family="Liberation Serif" font-size="7.7" text-anchor="middle" fill="#1a1a1a" stroke="#1a1a1a" stroke-width="0.2">10<tspan dy="-2.7" font-size="5.1">5</tspan></text>
<text x="234.9" y="33.1" font-family="Liberation Serif" font-size="7.7" text-anchor="middle" fill="#1a1a1a" stroke="#1a1a1a" stroke-width="0.2" transform="rotate(-90 234.9 33.1)">10<tspan dy="-2.7" font-size="5.1">5</tspan></text>
<text x="311.7" y="218.8" font-family="Liberation Serif" font-size="7.2" text-anchor="middle" font-weight="normal" fill="#222" >CD14 FITC</text>
<text x="222.8" y="123.9" font-family="Liberation Serif" font-size="7.2" text-anchor="middle" font-weight="normal" fill="#222" transform="rotate(-90 222.8 123.9)" >CD16 PE</text>
<text x="240.2" y="41.8" font-family="Liberation Serif" font-size="9.8" text-anchor="start" font-weight="normal" fill="#111" stroke="#111" stroke-width="0.3" textLength="21.1" lengthAdjust="spacingAndGlyphs">1.90%</text>
<text x="385.8" y="41.8" font-family="Liberation Serif" font-size="9.8" text-anchor="end" font-weight="normal" fill="#111" stroke="#111" stroke-width="0.3" textLength="21.1" lengthAdjust="spacingAndGlyphs">4.88%</text>
<text x="240.2" y="193.7" font-family="Liberation Serif" font-size="9.8" text-anchor="start" font-weight="normal" fill="#111" stroke="#111" stroke-width="0.3" textLength="25.2" lengthAdjust="spacingAndGlyphs">89.68%</text>
<text x="385.8" y="193.7" font-family="Liberation Serif" font-size="9.8" text-anchor="end" font-weight="normal" fill="#111" stroke="#111" stroke-width="0.3" textLength="21.1" lengthAdjust="spacingAndGlyphs">3.54%</text>
<text x="297.8" y="24.4" font-family="Liberation Sans" font-size="12.6" text-anchor="middle" font-weight="normal" fill="#000" >si-Plac8</text>
<path d="M82.7 359.1h.9M80.9 363h.9M85.2 353.7h.9M81.5 359.7h.9M81 358.2h.9M86.2 353.3h.9M88.3 360.2h.9M86.5 361.3h.9M83 358.2h.9M92.4 353.1h.9M82 357.9h.9M72 358h.9M76.7 358.6h.9M88.3 349.1h.9M83.9 353.9h.9M82.3 354.2h.9M84.9 360.2h.9M88.8 355.3h.9M91 355.2h.9M89.5 357.1h.9M80.6 350h.9M83.9 362.9h.9M79.2 362.2h.9M94.4 350.5h.9M90.7 352.4h.9M78.5 352.5h.9M95.1 356.4h.9M80.6 358.1h.9M89.5 353.6h.9M86.2 352.8h.9M82.1 354.1h.9M80.4 356.7h.9M89.7 351.4h.9M84.5 356.9h.9M75.3 363.3h.9M84.1 366.4h.9M91.6 355.1h.9M87.5 354h.9M80.1 364.6h.9M83.7 355.2h.9M89.2 358.7h.9M83.4 357.2h.9M81.2 361.5h.9M88.4 363.3h.9M91.8 346.5h.9M81.7 354.7h.9M77.8 355.3h.9M84 356.5h.9M83.2 357.4h.9M87.4 354.2h.9M80.5 356.6h.9M88.5 353.4h.9M92.5 353.5h.9M92.2 351.1h.9M93.9 350.9h.9M84.4 355.9h.9M87.7 347.4h.9M85.6 359.2h.9M86.6 349.2h.9M89.9 353.7h.9M91.8 350.7h.9M85.4 353.2h.9M88.6 363.8h.9M85.4 352.7h.9M86.8 352.4h.9M84.4 352h.9M83.1 351h.9M84.4 353.1h.9M82.8 356.8h.9M87.6 353.5h.9M92.9 349.5h.9M90.3 350.3h.9M93 353.8h.9M82.2 354.3h.9M81.4 357.5h.9M88.1 352.8h.9M86.7 352.4h.9M84 355.3h.9M84.7 358.7h.9M79.1 361.8h.9M78.3 361.9h.9M89.4 357.6h.9M85.7 354.4h.9M86.5 359.3h.9M84.6 354.8h.9M85.8 346.7h.9M76.3 362h.9M89.4 355.6h.9M82.7 348.6h.9M83.4 351.3h.9M91.8 352.7h.9M72.9 361.1h.9M97 354.4h.9M86.7 358.1h.9M86.8 354.5h.9M92.5 352.8h.9M98.6 352.8h.9M80.9 347.4h.9M84.1 354.2h.9M76.3 348.3h.9M90.8 353.1h.9M76.9 362.2h.9M94 358.3h.9M82.5 355.8h.9M75.6 365.1h.9M81.9 365.2h.9M85.2 350.9h.9M92.8 352.9h.9M92.3 358.4h.9M78.1 359.6h.9M86.5 359.8h.9M78.1 363.2h.9M100.7 352.5h.9M78.7 356.4h.9M78.7 364.5h.9M83.7 352.1h.9M81.5 350.8h.9M86.1 355.9h.9M87.2 352.9h.9M81.4 363.8h.9M84.2 355.5h.9M82.1 362.1h.9M81.9 357.4h.9M82.7 355.5h.9M89.9 356.5h.9M87.5 360h.9M84.6 352.9h.9M85.6 364.1h.9M89 354.3h.9M84.8 354.3h.9M85.6 351.5h.9M89 363.3h.9M84.5 358.2h.9M83.2 356h.9M81.9 352.9h.9M83.1 357.9h.9M79.5 351.1h.9M84 361.9h.9M82.5 354.9h.9M86.5 355.9h.9M84.1 366.7h.9M85.6 357h.9M93.2 347.8h.9M85.7 351.2h.9M84.8 362.3h.9M80.9 352.8h.9M91.8 353.3h.9M78.2 357.7h.9M93.5 354.3h.9M95.1 351.5h.9M89.9 353.2h.9M85.9 358.4h.9M87.7 351.2h.9M90.3 353.2h.9M77.2 352.9h.9M94.3 349.5h.9M77.3 355.8h.9M86.5 354.8h.9M89.1 351.3h.9M81.9 349.6h.9M75.9 361h.9M81.3 359.1h.9M84.6 355.4h.9M73.4 362.8h.9M97.6 347.7h.9M88.7 350.3h.9M88.5 355.7h.9M88.3 352.3h.9M90.7 347.7h.9M89.5 366.2h.9M91.8 348.4h.9M88.2 356.5h.9M94.4 342.2h.9M87.3 356.1h.9M85.5 349.6h.9M86.2 350.9h.9M86.4 353.5h.9M79.9 360h.9M86.4 355.5h.9M84.2 355.6h.9M83.8 358.3h.9M74.7 354.2h.9M84.7 362.2h.9M84.5 358.7h.9M86.7 366.4h.9M91.2 346.4h.9M83 355.4h.9M84.6 364.2h.9M86.2 352.6h.9M82.8 358.2h.9M72.1 367.8h.9M90.5 350.9h.9M85.5 353.2h.9M79.3 367.1h.9M79.6 359.8h.9M87.5 363.1h.9M90.5 352.6h.9M86 346.1h.9M81.3 365.4h.9M87.7 347.4h.9M87 353h.9M87.7 351h.9M78.4 358.4h.9M91.5 352.8h.9M82.9 360.4h.9M82.1 356.3h.9M89.5 352.4h.9M88.7 361.6h.9M86.3 359.9h.9M82.6 356.7h.9M78.7 345.2h.9M83.2 360.4h.9M81.3 360.7h.9M82.4 353.9h.9M74.9 360.6h.9M90.2 354.4h.9M82.4 357.6h.9M88.8 353.9h.9M85.2 356.1h.9M80.3 359h.9M88.6 353.1h.9M80.7 359.9h.9M84.8 355.1h.9M82.1 354.9h.9M89.1 349h.9M84.3 351.3h.9M86.2 356.1h.9M79.3 361h.9M93.8 353.4h.9M92.5 355.9h.9M83.2 349.4h.9M88.9 358.5h.9M87.6 354.8h.9M90.9 353.8h.9M79 363.6h.9M86.4 350.4h.9M87.2 354.4h.9M89.6 353.4h.9M83.4 356.7h.9M92.2 352.6h.9M89.7 355.3h.9M82.2 357.9h.9M81.7 363h.9M81.8 361.8h.9M76.4 352.7h.9M88.6 352.9h.9M85.2 367.2h.9M89.4 355.5h.9M91.7 352.5h.9M81.4 362.3h.9M82.1 365.3h.9M90.5 354.2h.9M90.4 354.3h.9M86.1 357.9h.9M84.9 359.4h.9M93 349.8h.9M73.1 358.5h.9M89.2 347.6h.9M85.8 356.3h.9M83.5 357h.9M88.1 353.7h.9M84.3 361.3h.9M89.9 344.5h.9M81.6 362.1h.9M84.4 354.1h.9M84.9 355.3h.9M85.1 351h.9M77.4 357.7h.9M86.8 352.4h.9M79.5 362h.9M83.3 354.8h.9M87.6 351h.9M77.1 357.2h.9M84.2 352.8h.9M87.5 357.5h.9M96.7 343.5h.9M90.5 353.8h.9M82.4 353.4h.9M84.1 349.1h.9M93.9 353.7h.9M76.2 358.4h.9M89.3 353.9h.9M85.8 358.2h.9M94.7 349h.9M77.5 358.5h.9M84.7 354.9h.9M84.2 357.1h.9M76 361.4h.9M83.6 359.2h.9M84.5 350.9h.9M76.2 364.3h.9M86.2 350.7h.9M81 358.2h.9M85.7 351.5h.9M83.4 358.5h.9M81 354.5h.9M92 352.5h.9M84.8 355.5h.9M82 359.4h.9M88.2 350.1h.9M84.2 359.9h.9M88.6 359.9h.9M87.1 354h.9M80.2 361.4h.9M83.4 358.8h.9M78.8 355.3h.9M79.7 357.3h.9M83.7 350.9h.9M85.6 355.8h.9M90.4 360.3h.9M97.6 346.7h.9M86.9 359.8h.9M81.7 351.8h.9M81.4 357.3h.9M88.6 349h.9M87.9 361.7h.9M86.5 352.4h.9M85.3 357.9h.9M97.6 352.9h.9M84.8 359.2h.9M80.1 363.5h.9M79.4 355.4h.9M80.8 366h.9M90.5 358.6h.9M77.9 365h.9M82.4 362.8h.9M84.1 355h.9M83.5 358.8h.9M89.6 353.1h.9M90.6 354.2h.9M85.4 350.3h.9M72.9 353.1h.9M85.1 357.7h.9M84.1 355h.9M80.2 360.2h.9M80 354.1h.9M76.4 360.6h.9M86.1 358.7h.9M87 355.6h.9M85.6 354.8h.9M92.4 351.9h.9M99.6 356.1h.9M91.7 345.2h.9M92.7 348.9h.9M89.4 357.1h.9M94.7 353.3h.9M82.2 358.7h.9M86.2 353.7h.9M81.2 361h.9M85.6 350.5h.9M88.5 351.5h.9M85.9 358h.9M83.7 357.8h.9M89.5 354.8h.9M97.7 350.1h.9M90.1 352.9h.9M86.1 357.1h.9M93.7 350.3h.9M88.2 353.1h.9M88.1 351.1h.9M95.2 351h.9M78.3 354.3h.9M91.7 350.4h.9M84 356h.9M93.6 352.4h.9M92.8 350h.9M85.1 358h.9M75.4 362.9h.9M81 362.1h.9M81.2 358.4h.9M89.2 352.6h.9M85.9 353.7h.9M92.1 347.8h.9M93.3 349.6h.9M88.9 355.8h.9M90.5 355.4h.9M89.5 355.3h.9M81.6 353.7h.9M84.8 352.9h.9M88.8 361.3h.9M93.1 350.2h.9M80.8 355.6h.9M82.2 361.9h.9M92.7 352.9h.9M91.8 351.9h.9M84.7 356.2h.9M81.2 354.7h.9M90.8 351.1h.9M87.5 351.7h.9M97.2 353.1h.9M88.7 349.2h.9M84.4 356.7h.9M81.6 353.7h.9M79.2 358.4h.9M90.6 349h.9M84.6 358.6h.9M78.3 366.5h.9M93 353.7h.9M78.8 362.6h.9M77.9 360.2h.9M79.7 356.5h.9M88.4 359.7h.9M83.7 360.2h.9M79.3 355.6h.9M80.4 358.5h.9M81.9 356.3h.9M82.6 365.2h.9M85.1 349.8h.9M80.1 361.7h.9M85.6 359.9h.9M90.3 351.6h.9M79.9 361.5h.9M93.6 352.1h.9M85.3 359.7h.9M87.8 356.3h.9M91.8 354.2h.9M78.1 360h.9M73.2 370.4h.9M86.7 353.8h.9M84.2 358.9h.9M80.2 343.8h.9M82.5 359.1h.9M82.6 355.9h.9M84.7 354h.9M94.1 349.8h.9M83.7 355.7h.9M96.4 348.2h.9M91.2 345.8h.9M75.3 368.8h.9M80.4 358.3h.9M92 350.2h.9M81.9 349.2h.9M82.9 348.5h.9M78.1 354.7h.9M88.8 363.8h.9M83.1 360h.9M84 353.7h.9M88 351.5h.9M78.5 353.8h.9M91.4 350.7h.9M83.3 357.9h.9M86.4 358.2h.9M87.3 357.3h.9M90.3 354.7h.9M87.5 352.8h.9M85.5 353.5h.9M75.5 352.8h.9M81.1 356.3h.9M86.9 356.6h.9M91.6 345.8h.9M83.4 355.1h.9M85.6 348.7h.9M91 352h.9M87.3 359.5h.9M85.2 352.2h.9M82.6 355.3h.9M87.5 356.2h.9M77.8 357.4h.9M96.5 344.2h.9M83.1 362.4h.9M85.7 352.8h.9M98.3 355.8h.9M94.2 347.8h.9M85.7 354h.9M84.9 357.6h.9M94.6 355.9h.9M84.2 354.5h.9M78.6 362.4h.9M92.2 348.5h.9M87.7 350.9h.9M86.2 353.7h.9M82.6 359.2h.9M97.2 351.5h.9M87.9 359.5h.9M85.1 359.6h.9M79.7 359.7h.9M80.3 357.8h.9M100 355.1h.9M89.7 361.6h.9M84.5 355h.9M84.3 351.5h.9M90.5 359.4h.9M95 352.1h.9M84.8 355h.9M81.6 358.7h.9M96.6 354h.9M79.1 363.2h.9M88 359.5h.9M73.2 362.1h.9M90.7 357.4h.9M88.8 353.4h.9M89.6 358.4h.9M83.9 355.1h.9M80.1 365.1h.9M86.1 346.5h.9M89.2 353.1h.9M81.8 360.8h.9M83.8 355.3h.9M79.3 350h.9M97 356.1h.9M80.5 360.1h.9M89.6 350.6h.9M76.7 370.6h.9M91 348.6h.9M96.2 343.3h.9M84.7 349.7h.9M85.1 358.7h.9M80.7 358.8h.9M85.9 351.3h.9M91.3 348.2h.9M92.3 351.3h.9M79.8 357.3h.9M87.7 348h.9M86.2 357.4h.9M83.5 356h.9M86.1 356.2h.9M87.8 355.2h.9M88.9 355.7h.9M79.4 362.4h.9M96.6 350.2h.9M87.3 348.3h.9M82.8 356.9h.9M74 362.9h.9M92.8 349h.9M77.9 364.8h.9M82.2 358.1h.9M88.2 355.4h.9M86.3 358.9h.9M88.2 352.7h.9M88.7 355.5h.9M88.9 354.3h.9M87.7 354.7h.9M85.3 361h.9M80.3 366.4h.9M80.9 345.1h.9M80.1 364.1h.9M78 346.1h.9M87.6 359.4h.9M83.3 348.3h.9M75.5 369.6h.9M94.4 353.7h.9M86.9 357.6h.9M92.8 356.3h.9M86.9 353.7h.9M87.7 352.1h.9M90.6 359.6h.9M86.6 359.3h.9M89 354h.9M84.2 352h.9M81.7 351.4h.9M93.2 356.1h.9M80.5 354.5h.9M81 354.3h.9M83.6 358h.9M94.3 355.6h.9M87.4 356.4h.9M83 350.3h.9M91.3 357.2h.9M91.5 352.9h.9M84.2 351.8h.9M82.4 354.2h.9M88.8 357.2h.9M87.6 360.3h.9M91.2 350.4h.9M93 354.7h.9M92.6 355.3h.9M87.3 354.4h.9M82.5 357h.9M88.1 357.7h.9M85.4 361.9h.9M92.1 349.7h.9M82.7 355.1h.9M84.6 362h.9M84.1 349.9h.9M87 353.9h.9M97.6 352.8h.9M102.8 346.4h.9M88.7 359.4h.9M80.8 360.9h.9M99.5 348.4h.9M82.5 357.2h.9M81.8 360.2h.9M94.7 358.1h.9M85.2 357.5h.9M83.9 357.8h.9M78.6 363.7h.9M85.9 360.3h.9M87.4 345.2h.9M91.7 354.7h.9M91.5 348.6h.9M80.8 357.1h.9M82 356.2h.9M87.7 348.8h.9M81.4 360h.9M88.7 358.7h.9M86.4 352h.9M80.8 362.4h.9M83.7 363.2h.9M77.9 356h.9M83.8 359.2h.9M88.3 348.9h.9M97.2 355.5h.9M93.5 357.2h.9M84 359.1h.9M78.9 352.5h.9M82.6 353h.9M85.3 356.4h.9M87.4 352.3h.9M92.2 358.2h.9M87.7 352.7h.9M88.9 353.3h.9M90.8 357.4h.9M94 354.3h.9M90.3 347.3h.9M86.4 356.5h.9M90.3 353.3h.9M79.8 359.4h.9M81.3 361.5h.9M92.6 346.3h.9M84 357.4h.9M83 358.1h.9M77.7 359.4h.9M87.4 357.1h.9M77.2 350.9h.9M85 358.5h.9M84.4 359.1h.9M90.6 348.6h.9M87.1 352.9h.9M86.1 366.4h.9M91.4 347.7h.9M86.4 353.9h.9M86.9 354.7h.9M89.8 362.5h.9M88.6 353.1h.9M89.9 350.8h.9M83.3 355h.9M87.9 356h.9M85.2 358.1h.9M85.6 357.9h.9M84 343.8h.9M82.9 352.9h.9M84.1 371.9h.9M84.1 357.8h.9M85.6 362.1h.9M83.2 360.2h.9M87.5 355.8h.9M81.2 361.2h.9M95.1 351.9h.9M84 352.5h.9M83.5 360.2h.9M96.7 340.8h.9M83.2 357.1h.9M86.1 354.7h.9M88.8 354.5h.9M77.8 366.8h.9M89.8 358.6h.9M81.1 352.7h.9M88.6 356.3h.9M84.3 352.1h.9M80.8 365.6h.9M83.9 359.3h.9M86.9 357.4h.9M86.3 354.8h.9M82 361.7h.9M79.6 359.6h.9M85.8 352.7h.9M83.1 360.4h.9M75.6 364.2h.9M77.7 360.9h.9M90 350.1h.9M88.4 352.4h.9M85.6 351.5h.9M87.4 345.1h.9M82.9 354.3h.9M89.1 351h.9M90.1 357.8h.9M93.1 353.6h.9M84.9 360.3h.9M90.8 355.9h.9M86.9 352.2h.9M87.2 356h.9M85.8 349.7h.9M86.2 360.1h.9M85.2 360.2h.9M85.2 356.8h.9M72 360.6h.9M83.2 359.8h.9M81.3 368.4h.9M80.8 358.9h.9M94 357h.9M83.6 350.6h.9M82.6 354.1h.9M89.5 356.8h.9M92 353.2h.9M88.6 355.2h.9M84.6 355.9h.9M95.9 354.8h.9M80.6 359.6h.9M91 352.2h.9M83.9 354.8h.9M95.4 351.8h.9M79.2 362.5h.9M92.5 356h.9M89.1 348.6h.9M91.6 354.7h.9M78.5 358.8h.9M85.7 352.6h.9M86.3 368.7h.9M89 348.4h.9M84.7 356.6h.9M86.4 351.7h.9M86.3 357.6h.9M79.1 356.6h.9M94.1 364.2h.9M88.9 355.7h.9M81.2 361.9h.9M81 361.7h.9M82.3 356.3h.9M85.4 364.3h.9M86.3 361.6h.9M89.9 353.2h.9M80.2 364.4h.9M86 355.7h.9M77.7 363.1h.9M85.2 351.7h.9M91.4 351.5h.9M80.8 361.6h.9M91.1 355.4h.9M94 353.1h.9M78.9 357.7h.9M84.8 355h.9M84.5 356.6h.9M79 352.7h.9M89.3 353.3h.9M86.3 351.4h.9M83.1 357.1h.9M88.2 356.2h.9M82.8 359.1h.9M85.5 357.8h.9M76.8 362.9h.9M88.9 352.8h.9M92.1 346.5h.9M85.9 358.7h.9M89.2 354.5h.9M78.2 361.5h.9M85.1 357.3h.9M88.4 352.6h.9M97.1 349.6h.9M84.9 355.1h.9M85.1 358.6h.9M97.4 352.5h.9M91.5 358.8h.9M91.9 359.3h.9M78 357h.9M92.9 349.1h.9M71.1 363.4h.9M89.6 357.5h.9M87.3 360.4h.9M85.8 356.1h.9M84.8 352.9h.9M87.9 363.9h.9M83.4 363.4h.9M85.3 358.1h.9M82.7 352h.9M88.5 358.3h.9M86.5 359h.9M83.6 354.9h.9M79.2 358.1h.9M90.9 344.5h.9M93.4 348.9h.9M75.2 355.4h.9M85.2 355.1h.9M86.4 359.4h.9M92 356.8h.9M78.4 359.4h.9M86.1 359.2h.9M85.1 349.8h.9M85 357h.9M86.5 350.8h.9M89.3 349.7h.9M81.7 356.7h.9M89.8 360h.9M90.5 349.2h.9M92.5 350.3h.9M89.5 352.9h.9M84.7 352.5h.9M84.9 353.7h.9M83.1 352.4h.9M92.7 357.3h.9M92.7 347.9h.9M85 359.1h.9M95.1 347.5h.9M87 351.9h.9M79.3 353.2h.9M97.5 349.4h.9M94.9 355.4h.9M84.3 356.6h.9M85 353.8h.9M87 352.9h.9M84.7 355.2h.9M79.1 352.5h.9M83.5 352h.9M86.8 355.5h.9M88 359.6h.9M94.7 346.3h.9M87.6 356.2h.9M92.7 351.4h.9M85.1 358.7h.9M92.5 348.7h.9M86.7 357.8h.9M91.3 349.7h.9M82.5 354.4h.9M92.3 354.7h.9M88.9 348.1h.9M87.8 359.9h.9M91.8 352.1h.9M85.7 357h.9M82.9 354.3h.9M79.8 358.3h.9M89 348.2h.9M88.8 352h.9M85.4 356.6h.9M78.3 354.5h.9M87.7 358.6h.9M86.5 348.3h.9M88 355.2h.9M79.4 358.1h.9M86.4 358.2h.9M91.7 356.5h.9M94.8 359h.9M86.3 361.6h.9M83.1 354.3h.9M77 356.9h.9M84 359.4h.9M92.2 353.5h.9M93.2 350.4h.9M87.7 358.4h.9M91.5 351.2h.9M85.9 359.8h.9M83.3 358.2h.9M81 356.1h.9M87.2 357.2h.9M85 349.9h.9M75.7 362.5h.9M90.7 350.9h.9M93.2 356.3h.9M80.4 355.7h.9M85.5 355.6h.9M88.1 352.1h.9M89.2 355h.9M81.8 353.2h.9M87 361.1h.9M82.5 354.5h.9M94 348.2h.9M81.9 356.2h.9M84.8 351.2h.9M86.8 351.5h.9M87.5 352.4h.9M82.2 359.4h.9M90.5 345.8h.9M89.6 350.7h.9M84.8 354.9h.9M82.2 353.8h.9M86.3 358.6h.9M75.3 357.5h.9M84.5 360.6h.9M84 349.2h.9M89.9 353.7h.9M90.5 355.4h.9M84.9 356.3h.9M84.4 353.3h.9M84.4 348.4h.9M90.5 353h.9M89.1 356.6h.9M84.1 358.6h.9M92.2 353.3h.9M81.2 364h.9M81 360.5h.9M87.3 359.6h.9M83.4 359.5h.9M86.6 352.3h.9M92.7 351h.9M88.8 352.8h.9M82.5 361.2h.9M96.4 347.5h.9M91.8 346.9h.9M94.1 349.5h.9M91 352.6h.9M83.7 362.6h.9M91.7 357.9h.9M89.7 356.2h.9M90.8 357.6h.9M90.5 352.7h.9M82.4 364.9h.9M90 359.4h.9M86.6 352.8h.9M80.1 354.2h.9M92 349h.9M87.2 352.4h.9M82.1 352.9h.9M89.2 363.9h.9M85.3 354.1h.9M92.3 355.1h.9M94.3 352.2h.9M87.4 351h.9M84.5 351.7h.9M79.5 351.9h.9M89.3 354.6h.9M98 345.5h.9M75.7 357.8h.9M94.4 351h.9M79.2 356.2h.9M88.5 357.6h.9M83.9 357h.9M87.2 347.5h.9M80 353.7h.9M77.8 359.2h.9M84.6 354.7h.9M85.8 358.8h.9M85 351.3h.9M76.1 363.6h.9M86.7 359.7h.9M79 359.1h.9M87.3 351.5h.9M80.5 366.8h.9M84.4 358.8h.9M95 349.7h.9M84.6 352.3h.9M92.9 348h.9M83.5 349h.9M88.3 361.5h.9M83.5 359h.9M91.4 349.5h.9M91.4 350.5h.9M87.6 356.7h.9M79.5 358.7h.9M86.6 352.5h.9M84.7 358.4h.9M86.6 352.3h.9M97.1 350.1h.9M88.7 349.3h.9M84.7 356h.9M82.6 351.5h.9M97 344.8h.9M83 353.8h.9M88.8 353.9h.9M87.7 350.2h.9M82.5 354.6h.9M78.9 367.2h.9M84.4 356.1h.9M76.4 357h.9M84.2 356.4h.9M84.3 353.5h.9M81.9 355.6h.9M85.7 362.3h.9M88.2 353h.9M94.4 357.1h.9M88.1 356.6h.9M86.2 357.1h.9M86 358.5h.9M94.6 355.9h.9M77.9 360.8h.9M97 349.7h.9M84.7 361.8h.9M78.8 355.9h.9M87.3 350.4h.9M87.2 353.4h.9M85.7 360.1h.9M83.6 346.5h.9M81.7 353.4h.9M82.9 357.9h.9M94 349.1h.9M90.3 354.4h.9M97.4 351.4h.9M89.2 353.8h.9M86.3 353.6h.9M90.2 348.1h.9M90.2 350.4h.9M78.4 355.9h.9M92.1 348.2h.9M90.3 352.9h.9M77.5 358.2h.9M78.7 353.1h.9M89.4 352.8h.9M83.2 357.4h.9M82.5 360.1h.9M94.1 350h.9M94.7 348.6h.9M90.1 356.2h.9M85.8 357.6h.9M75.7 355.5h.9M89 353.3h.9M81.2 359.4h.9M83.6 361.9h.9M80.6 350.4h.9M77.1 360.5h.9M90.1 365h.9M80.1 361.1h.9M88.1 357.1h.9M93 347.2h.9M86.9 362.1h.9M88.4 356.4h.9M93.1 354.2h.9M92.6 352h.9M87.7 355.3h.9M86.5 350h.9M85.7 359.8h.9M92.6 345.6h.9M92.7 345.6h.9M83.2 350.6h.9M84.1 359h.9M82.8 355.1h.9M82.7 359.1h.9M82.9 359.2h.9M88.8 348.2h.9M79.5 349.5h.9M82 356.8h.9M88.9 363h.9M78.1 356.6h.9M72.2 354h.9M85 355.1h.9M91.8 350.5h.9M84.6 359.4h.9M80.7 357.5h.9M82.9 355.8h.9M80.3 362.2h.9M94.7 346.6h.9M83.1 352.6h.9M84 350.3h.9M79.2 357.8h.9M79.8 357.6h.9M93.9 342h.9M81.3 357.5h.9M89.8 355.5h.9M89.6 357.2h.9M88.5 349.3h.9M83.9 354.2h.9M97.3 346.7h.9M76.9 361.6h.9M85.8 359.2h.9M88 349.3h.9M85.2 348.8h.9M84.2 358.9h.9M94 360.9h.9M73 364.9h.9M85 356h.9M81.3 358.4h.9M92.3 353h.9M89 353.6h.9M85.1 355.7h.9M91.8 348.3h.9M88.9 352.4h.9M74.3 361.1h.9M85.8 355.2h.9M87.2 361.4h.9M88.8 344.9h.9M97.3 354.2h.9M91.2 356.4h.9M86.4 357.5h.9M85 359.8h.9M82.2 355.2h.9M91.4 346.8h.9M86.4 355.8h.9M85 356.4h.9M83.7 358.2h.9M90.5 352.8h.9M82.7 358.8h.9M86.7 355.3h.9M83.3 354.5h.9M88.1 358.2h.9M90.3 355.1h.9M87.8 350.3h.9M87.6 352.8h.9M80.4 361.1h.9M85.2 353.3h.9M81.3 360.1h.9M78.7 360.8h.9M86.2 354.8h.9M92 347.1h.9M86.5 357.7h.9M82.3 355.1h.9M91.4 353.2h.9M86.5 357h.9M88.8 352.3h.9M84.8 360.5h.9M95.1 354.1h.9M84.6 370.5h.9M96.6 349h.9M88.8 350.7h.9M87.4 349.2h.9M84 357.3h.9M89.3 350.2h.9M84.3 360.3h.9M78.9 360.3h.9M87.1 361.6h.9M82.8 356.7h.9M87.4 355.3h.9M85.4 353.1h.9M82.4 362.2h.9M88.9 349.7h.9M81.3 362.7h.9M91.1 347.9h.9M83.2 353.3h.9M89.2 346.4h.9M82.6 364.2h.9M83.9 357.5h.9M83.9 356.1h.9M90.5 346.8h.9M90.6 351.6h.9M92.7 347.8h.9M87.2 354.5h.9M72.9 356.8h.9M84 353.1h.9M96.9 347.2h.9M78.5 357.2h.9M89.3 357h.9M90.5 351.7h.9M87.3 365.7h.9M80.7 358.2h.9M79.2 356.9h.9M95.5 346.1h.9M87.3 354.8h.9M90 352h.9M87.7 347.7h.9M92.1 354.7h.9M89.7 353.5h.9M85.4 351.7h.9M82.6 357.4h.9M94.7 351.9h.9M83.6 354.2h.9M82.8 353.6h.9M84.7 363.3h.9M88.1 354.3h.9M85.4 351.7h.9M91.7 352.3h.9M88.6 362h.9M81 358.5h.9M90.4 358.5h.9M89.8 352.5h.9M91.9 352.1h.9M93 354.6h.9M79.3 364.7h.9M88.4 351.6h.9M77 362.3h.9M85.5 348.4h.9M88.6 351.1h.9M78 360.6h.9M77.6 363.8h.9M86.5 359.4h.9M81.7 359.7h.9M90.2 354.9h.9M85.9 352.4h.9M81.8 350.5h.9M86.2 358.5h.9M74.9 360h.9M89.6 353.3h.9M87.8 354.6h.9M90.1 352.1h.9M87.3 354.7h.9M86.9 364.7h.9M91.3 356.6h.9M86.5 352.2h.9M96.4 350.1h.9M84.7 352.4h.9M84.3 359.6h.9M83.6 348.3h.9M89 348.7h.9M80.2 357.4h.9M94.1 354.3h.9M86.5 355.9h.9M92.9 357.5h.9M89.3 352.7h.9M89.5 362h.9M77.7 364.9h.9M88.1 351.8h.9M93.3 357h.9M84.1 351.1h.9M77.5 359.7h.9M81.5 356.8h.9M90.1 359.3h.9M78.4 356.2h.9M82.9 352.6h.9M85.7 351.8h.9M83.8 356.4h.9M82.4 354.5h.9M81 354.8h.9M96 352.5h.9M84.1 354.7h.9M91.8 345.5h.9M90.3 359.6h.9M91.2 353.7h.9M86.1 353.6h.9M77.2 358.1h.9M89 350.4h.9M88 352.2h.9M80.7 362.2h.9M90.6 353.1h.9M85.4 354.4h.9M85.9 354.4h.9M88.3 353.5h.9M81.6 360.4h.9M92 353.5h.9M87.6 352.8h.9M88.2 366.2h.9M87.7 357.5h.9M81.1 355.4h.9M81.8 357.5h.9M86.2 354.5h.9M99.6 352.9h.9M90.8 352.1h.9M86.2 358.3h.9M86.1 355.2h.9M78.2 354.7h.9M82.9 358.7h.9M79.9 360h.9M85.3 351.2h.9M91.7 352.9h.9M93.7 349.5h.9M89.5 345h.9M86.5 359.8h.9M85.4 349.6h.9M85.5 351h.9M86.9 350.8h.9M92.8 351.1h.9M79.8 361.2h.9M85 361.6h.9M83.7 354.2h.9M80.9 366.5h.9M91.7 354.7h.9M81.3 353.4h.9M90.5 350.2h.9M94.5 360.4h.9M87.8 352.3h.9M79.2 360.4h.9M88.4 354h.9M87.8 350.1h.9M86.8 355.9h.9M78.1 357h.9M82.7 356.8h.9M91.4 347.5h.9M80.4 360.6h.9M86.4 362.5h.9M81.1 357h.9M88.1 354.7h.9M89.4 357.8h.9M82.9 358.8h.9M90.4 353.2h.9M84.6 355.2h.9M95.6 353h.9M88.1 352.9h.9M85.2 355.1h.9M76.9 363h.9M87.7 359.6h.9M90.2 352.5h.9M82.8 354.8h.9M83.4 360.9h.9M88 350h.9M96.4 348.8h.9M82.6 364.9h.9M80.3 359.8h.9M86.4 358.1h.9M82.9 361.2h.9M81.8 353.8h.9M85.9 349.5h.9M88.2 350.3h.9M90.5 349.7h.9M90.7 346.6h.9M93.9 347.9h.9M77 351.9h.9M83.6 355.2h.9M85.8 358.7h.9M90.5 356.7h.9M82.2 352.4h.9M84.8 352.8h.9M88.2 352h.9M85.2 353.5h.9M80.3 357.7h.9M82.7 361.6h.9M86.2 361.2h.9M76.1 362.1h.9M86.9 351.8h.9M95.8 346.5h.9M91.1 354.5h.9M91.8 355.7h.9M97.2 350.3h.9M82.5 355.1h.9M73 360.5h.9M81.2 358.6h.9M90.2 351.3h.9M91.4 353.2h.9M93.5 358.8h.9M94.5 351.3h.9M82 358.8h.9M95.4 350.7h.9M86.7 356.5h.9M84.6 362.5h.9M87.2 351.4h.9M82.1 357.8h.9M87.3 352.8h.9M85.2 356h.9M89.6 357.2h.9M83.6 354h.9M80.6 354.2h.9M87.3 359.3h.9M87.6 360.1h.9M92.3 357.2h.9M86.6 356h.9M83.7 355.6h.9M88.6 355.8h.9M90.8 353.5h.9M87.2 348.5h.9M85.7 351.6h.9M78.6 359.2h.9M79.5 361.7h.9M95.1 359.7h.9M84.1 360.5h.9M81.6 359.1h.9M91.5 356h.9M87.2 362.7h.9M87.3 363.6h.9M78.1 360.1h.9M91.8 354.2h.9M89.3 356.1h.9M87.1 346.8h.9M76.6 367.2h.9M84.1 359.2h.9M89.8 345.4h.9M84.6 353.9h.9M79.3 362.4h.9M85 357h.9M90.8 358.4h.9M76.5 354h.9M77.9 362h.9M88.3 351.4h.9M89.8 359.5h.9M87.2 361.3h.9M94.3 347h.9M88.9 352.1h.9M81.6 353.9h.9M88.7 350.4h.9M87.1 351.3h.9M83.8 355.5h.9M86.9 355.8h.9M84.3 347.4h.9M73.5 359.6h.9M81.4 354.1h.9M81.7 359.9h.9M90.9 351.7h.9M90.3 357.3h.9M77.1 355.6h.9M86.9 355.1h.9M81.9 363.5h.9M81.4 359.6h.9M86.8 357.5h.9M82.7 357.8h.9M94.5 354.6h.9M77 358.1h.9M80.3 362.1h.9M82.6 350.3h.9M82.9 370.9h.9M83.3 353h.9M88.4 357h.9M91.4 360.1h.9M86.6 348.5h.9M83.3 354.2h.9M77.9 355.7h.9M84.8 360.1h.9M86.3 363h.9M84.7 347.7h.9M79.8 361.5h.9M89.3 355.2h.9M78.1 360.7h.9M90.4 351.3h.9M81.7 360.4h.9M77.2 363.1h.9M89.2 347.9h.9M84.7 354.7h.9M83.3 357.2h.9M82.9 357.4h.9M83.2 357h.9M89.2 352.9h.9M78.9 359.2h.9M86 357.7h.9M90.4 355.5h.9M89.1 350.4h.9M84.3 360h.9M87.4 358.3h.9M95.3 357.7h.9M87.4 355.8h.9M79.6 358.1h.9M82.8 356.2h.9M84.6 357.9h.9M86.3 351h.9M90.6 351.7h.9M93.6 350.7h.9M83.8 365.6h.9M81.2 363.3h.9M77.1 361.5h.9M86.2 355.5h.9M87.3 354.9h.9M85.5 357.3h.9M88.7 358.3h.9M88.5 346.6h.9M81.2 349.4h.9M79.6 356.9h.9M77.2 360.2h.9M80.4 355.8h.9M84.4 352.6h.9M87.6 351.8h.9M81.3 352.4h.9M86.6 352.9h.9M93.2 350.6h.9M91.6 345.9h.9M89.5 359h.9M92.3 351.6h.9M86.2 354.8h.9M89 350.2h.9M79.1 364.2h.9M87.2 353.7h.9M88.4 350.9h.9M95.1 351.1h.9M91.2 349.5h.9M85.9 352.5h.9M82.9 354.9h.9M83.5 354.4h.9M80 355.4h.9M80.5 363.1h.9M85.3 355h.9M83.2 359.6h.9M84.9 351.8h.9M93 351.7h.9M86.4 356.5h.9M80 362.5h.9M94.2 354.6h.9M97 341.9h.9M93.6 348.3h.9M74.5 363.2h.9M94.6 350.8h.9M90.2 348.6h.9M88 350.5h.9M87.3 351.5h.9M90.6 349.8h.9M88 351.9h.9M88.6 357.2h.9M80 365h.9M83.6 364.1h.9M89.9 353.7h.9M85 342.4h.9M90.6 353.7h.9M88.2 354.5h.9M82.8 348.9h.9M90.6 346h.9M83.4 349.7h.9M87.9 349.9h.9M82 361.6h.9M87.3 355.4h.9M88 362.7h.9M82.8 358.6h.9M89.8 357.1h.9M81.5 351.2h.9M91.1 360h.9M85.2 356.2h.9M91.4 350.1h.9M91.6 349.3h.9M88.4 347.4h.9M92.7 349h.9M80.4 342.7h.9M80 359.6h.9M89.8 355.5h.9M90.2 352.7h.9M89.3 351.9h.9M79.5 356.3h.9M93.2 345.3h.9M91.1 358.9h.9M87.6 354.3h.9M86.6 363.5h.9M85.9 351.2h.9M84.3 346.7h.9M76.6 361.8h.9M82.8 351.8h.9M88 358.1h.9M84.8 354.5h.9M84.4 360.3h.9M85.3 352.1h.9M83.9 355.1h.9M84.5 358.3h.9M84.8 352.2h.9M93.6 349.7h.9M83.8 348.6h.9M90.7 353.2h.9M91 357.6h.9M78.1 365.5h.9M85.7 361.7h.9M91.7 352.7h.9M86.3 354.9h.9M87.7 359.3h.9M99.3 353.2h.9M84.4 353.7h.9M85.3 356.5h.9M86.9 353.6h.9" fill="none" stroke="#ff0a0a" stroke-width="0.9" stroke-opacity="0.85"/>
<path d="M82.2 351.1h.9M86.5 344h.9M96.6 361h.9M78.9 365.9h.9M97.8 357.2h.9M80 351.8h.9M93.5 354.2h.9M87.4 353.6h.9M86.8 357.3h.9M83.3 356.5h.9M94.2 337.5h.9M71.3 351.7h.9M92.9 359.9h.9M77.7 362.1h.9M92.6 354.5h.9M83.8 359.3h.9M87.9 349h.9M101.3 359.6h.9M83.5 356h.9M88.2 347.8h.9M72.4 356.3h.9M81 361.7h.9M87.1 358.2h.9M80.2 354.9h.9M92.8 347h.9M82.1 363.9h.9M86.7 352.1h.9M85.7 357.9h.9M106.6 336.7h.9M95.6 365.3h.9M77.3 351.4h.9M98.9 353h.9M93.4 347.7h.9M80.1 355.1h.9M85.5 358.4h.9M88 352.4h.9M84.5 354.9h.9M87.9 352.5h.9M93.6 353.5h.9M79.4 362.2h.9M95.9 344.3h.9M92.9 355h.9M85.3 365.6h.9M83.6 360.6h.9M78.4 363.5h.9M75.3 360.5h.9M94.9 360.7h.9M83.9 355.8h.9M88.4 347.8h.9M86.7 356.2h.9M85 352.6h.9M84.4 358.3h.9M90.9 353.9h.9M76.1 354.5h.9M95.4 354h.9M105 344.3h.9M83.9 360.3h.9M86.8 343.9h.9M96 342.6h.9M86.6 350.2h.9M85.8 361.1h.9M91.5 349.2h.9M94 356.1h.9M95.6 357.7h.9M95 347.5h.9M85.9 359.3h.9M96.2 323.2h.9M78.7 352.1h.9M64.4 366.8h.9M87.8 352.2h.9M86.8 364.7h.9M91.9 353.7h.9M88.2 345.9h.9M85.8 351.9h.9M88.9 351.3h.9M84.1 355.6h.9M91.3 350.3h.9M90.9 362.1h.9M75.5 353.6h.9M94.5 345.8h.9M91.2 352.1h.9M89.8 345.2h.9M85.7 353.6h.9M101 353.9h.9M84.2 361.5h.9M82.2 362.4h.9M84.2 360.2h.9M96.2 355.2h.9M84.2 347.1h.9M94.4 357.2h.9M80.1 352.3h.9M89.1 357.5h.9M96.6 351.4h.9M78.7 357.7h.9M91.1 355.9h.9M87.7 345.9h.9M95.7 346.2h.9M89.9 348.5h.9M72.3 355.7h.9M86.1 359.7h.9M86.5 362.4h.9M96.1 346.5h.9M91.4 364.4h.9M89.9 352.5h.9M81.9 360.1h.9M73.6 362h.9M78.4 358.8h.9M97.1 361.4h.9M83.3 363h.9M91.8 346h.9M86.8 342.6h.9M88.5 357.2h.9M79.5 369.2h.9M95.6 353.3h.9M79.1 354.8h.9M66.5 362.9h.9M104.1 352.7h.9M91.9 350.5h.9M96.1 349.1h.9M82.6 348.3h.9M83 355.3h.9M93.4 349.9h.9M92.7 345.8h.9M100.6 355.2h.9M80.4 358.5h.9M91.3 340.2h.9M91.5 356.3h.9M88.3 368.1h.9M83 354h.9M93.6 359.8h.9M87.7 353.7h.9M78.1 352h.9M87.5 346.1h.9M92.9 356.7h.9M91.9 342.1h.9M89.5 362.4h.9M96.3 350.6h.9M81 360.8h.9M95.2 353h.9M85.2 349h.9M99.5 355.1h.9M87 341.6h.9M95.2 348h.9M97 357.5h.9M86.5 359.1h.9M102.8 340.5h.9M75.7 352.4h.9M103.1 352.5h.9M93.5 361.5h.9M104.1 356.3h.9M105.2 346.2h.9M73.6 351.1h.9M91 348.6h.9M98.1 352.1h.9M95.6 349.1h.9M91.3 349.2h.9M102.9 350.1h.9M76.7 359.2h.9M102.8 336.5h.9M85 351.6h.9M80 360.4h.9M76.7 363.2h.9M87.3 341.9h.9M81.7 352.6h.9M101.7 349.4h.9M93.6 362.6h.9M81 356.9h.9M75.9 367h.9M88.2 343h.9M70.1 367.1h.9M92.9 366.6h.9M79.5 357.1h.9M85.9 350.5h.9M84.1 352.5h.9M85.6 363.3h.9M94 361.5h.9M98 346.8h.9M85.1 362.9h.9M81.6 358.7h.9M82.9 352h.9M81 360.7h.9M80 364.5h.9M98.3 345.5h.9M94.9 348.1h.9M84.4 363.7h.9M79.7 358.8h.9M79.3 339.8h.9M96.8 339.6h.9M81.5 358.9h.9M73.7 349.2h.9M79.3 352.9h.9M76.5 358.5h.9M82 362.8h.9M89.2 351.7h.9M88.4 354h.9M83.1 359.1h.9M91.6 357.6h.9M91.8 349.1h.9M78.6 352.6h.9M91.8 364.7h.9M98.6 347.1h.9M97 342.6h.9M78.4 354.2h.9M88.3 346.7h.9M83.1 346.6h.9M96.2 349h.9M78.5 362.8h.9M92.7 357h.9M81.7 348.3h.9M81.2 351.6h.9M85.8 363.1h.9M95.6 348.3h.9M86.2 347.8h.9M104.3 348.5h.9M91.7 348.8h.9M82.9 345h.9M89.1 357.3h.9M99.6 358.6h.9M94.4 354.8h.9M93.6 354.4h.9M93 351.3h.9M81.7 355.5h.9M99.7 355.4h.9M80.8 362.4h.9M81 350.2h.9M97.6 341.7h.9M97.3 348h.9M78.1 360.5h.9M70.5 357.4h.9M86 347h.9M90.2 364h.9M85.4 352.6h.9M89 356.8h.9M89.8 353.7h.9M103 350.3h.9M73.8 367.4h.9M96.1 358.1h.9M86.6 351.8h.9M89.7 350.1h.9M88.8 364h.9M96.4 349h.9M73.4 355.4h.9M104.1 360.5h.9M105.6 336.9h.9M74 359.3h.9M86.2 346.2h.9M94.9 360.2h.9M89 356.2h.9M91.2 352.4h.9M96.9 355h.9M86.8 358.9h.9M97.8 357.9h.9M79.6 343.5h.9M72.4 360.2h.9M85.5 348.7h.9M87.9 352h.9M89.3 349.2h.9M80.8 361.4h.9M95.7 336.3h.9M86.3 362.5h.9M83.4 350.1h.9M97 350.2h.9M72.5 368.2h.9M72.7 358.6h.9M96.2 341.5h.9M90.5 347.4h.9M97.1 337.6h.9M102.7 349.3h.9M85 356.6h.9M74.4 368.3h.9M88.7 353.8h.9M106.6 338.7h.9M87.6 355.1h.9M91.5 361.4h.9M96.1 346.4h.9M90.9 351h.9M89.2 364.9h.9M84.6 353h.9M85 351.1h.9M84.2 359.5h.9M89.9 352.9h.9M84.4 346.4h.9M85.2 355.5h.9M82.1 355.2h.9M92.8 355.1h.9M86.1 364.6h.9M86 354.5h.9M85.6 357h.9M80.7 342.8h.9M87.9 336.5h.9M88.6 351.7h.9M100.4 339.9h.9M94.9 351.5h.9M81.9 353.5h.9M86.9 359.9h.9M77.2 361.4h.9M85.8 351.8h.9M87.2 364h.9M96 346.6h.9M98.2 353.4h.9M89.1 372h.9M86.9 347.5h.9M91 337.9h.9M80.1 369.2h.9M87.9 360h.9M90.1 358.1h.9M78.6 362.7h.9M92.3 355.9h.9M93.6 358.7h.9M87.5 356.9h.9M85.7 356.6h.9M84.9 366.9h.9M80.1 355.5h.9M85.5 363.2h.9M103.1 342.3h.9M89.2 359.5h.9M96.6 342.2h.9M84.3 345.2h.9M86.7 367.8h.9M94.5 344.8h.9M82 353.3h.9M80.5 345.9h.9M78.5 359.8h.9M91.9 343.7h.9M87.5 357.4h.9M82.9 353.3h.9M86.3 356.5h.9M96 347.6h.9M90.6 352.5h.9M96.9 362.7h.9M80.7 357.7h.9M86.4 360h.9M80.3 343.6h.9M86.9 362.2h.9M74.5 362.7h.9M91.3 357.3h.9M82 351.9h.9M94.1 345.7h.9M92.6 342.1h.9M82.4 353h.9M86.7 349.3h.9M82.4 342.9h.9M78.5 359.7h.9M72.4 350.5h.9M86.3 358.2h.9M88.5 353.8h.9M100.4 343.2h.9M86.2 347.5h.9M102.5 348.2h.9M95.6 357.2h.9M86.6 344.5h.9M86 357.9h.9M95 344.3h.9M95.7 350.4h.9M87.7 357h.9M104.9 350.1h.9M79.1 350.2h.9M92.1 358.5h.9M90.9 353h.9M85.8 352.2h.9M99.5 354.9h.9M84.2 346h.9M79.6 362.2h.9M78 357.9h.9M83.9 360.1h.9M83.9 354.2h.9M84.8 367.5h.9M84.7 346.7h.9M83.5 354.9h.9M89.9 351.4h.9M90.4 355.9h.9M82.3 350h.9M86.7 345.4h.9M83 357.5h.9M89.1 363h.9M95.7 349.1h.9M95.5 358h.9M87.2 355.6h.9M82 351.6h.9M91.1 350.1h.9M91.7 354h.9M84.7 359.1h.9M82.1 360.5h.9M83.4 349.5h.9M76.3 346h.9M84.4 356.2h.9M90.6 356.3h.9M94.7 361.4h.9M98.3 349.1h.9M95.2 361.3h.9M97.2 355.4h.9M101.7 349.5h.9M80.9 355.3h.9M104.7 354h.9M70.8 357.1h.9M97.3 357.2h.9M82.8 353.3h.9M80.1 349.6h.9M82.9 357.2h.9M90.8 340.2h.9M87.9 349.6h.9M86.4 355.9h.9M83.1 355.4h.9M98.1 352.6h.9M80.3 360.5h.9M101.3 340.2h.9M89.5 352.9h.9M79.7 366.9h.9M106.8 353.1h.9M105.3 347.5h.9M92.4 329.9h.9M99.2 344.9h.9M94.6 352.2h.9M84.6 355.5h.9M64.8 370.6h.9M90.4 360.1h.9M84.1 352.5h.9M81.8 356.8h.9M78.9 361.5h.9M77.7 357.4h.9M79 357.4h.9M74.2 365.1h.9M99.1 350.3h.9M92.1 356.9h.9M88.8 347.4h.9M91.2 340.8h.9M100.1 348.6h.9M87.2 350.6h.9M94.8 358h.9M92.6 330.3h.9M98.8 364.2h.9M101.6 343.1h.9M107.9 344.1h.9M89 347h.9M79.9 363.8h.9M89.3 347.7h.9M101.1 362.3h.9M70.7 366.7h.9M105.3 350.3h.9M87.6 347.2h.9M87.8 366.3h.9M92 353.8h.9M88.6 355h.9M86.5 353h.9M84.9 357h.9M87.9 360.8h.9M94 355h.9M92.2 350.4h.9M93.6 344.4h.9M74.8 366h.9M92.5 349h.9M84.6 348.7h.9M98.2 355.1h.9M85.2 348.7h.9M94.4 358.1h.9M91.5 346.2h.9M95.6 345.8h.9M85.9 349.2h.9M74.3 353h.9M90.3 350.2h.9M90.6 345.5h.9M69.8 363.2h.9M90.7 357.6h.9M91 344h.9M93.4 353.9h.9M92.8 357h.9M108.2 340.9h.9M88.2 341.2h.9M84.6 361.2h.9M74.1 368.4h.9M78.8 361.1h.9M86.9 354.9h.9M90.5 355.4h.9M89.5 353.2h.9M84.7 359.4h.9M89.5 362.6h.9M95.4 361.7h.9M92.2 350.5h.9M85.1 347.6h.9M96.7 349.6h.9M86.2 346.4h.9M85.9 352.9h.9M95.3 355.4h.9M91.9 353.5h.9M85 353.3h.9M96.4 353.4h.9M87.5 356h.9M80.5 357.9h.9M89.7 357.9h.9M95.2 348.2h.9M80.9 361.1h.9M86 353.5h.9M101.7 337.4h.9M98.9 345.5h.9M89.7 348.6h.9M86.8 353.2h.9M82.7 353.4h.9M75.7 351.9h.9M68.3 382.4h.9M86.2 352.8h.9M95.6 359.6h.9M94.7 354.8h.9M91.4 354.2h.9M92.4 361.8h.9M81.6 364h.9M80.2 359.1h.9M78 361.3h.9M95.1 353.4h.9M83.2 361h.9M88.5 342.8h.9M102.8 340h.9M91.9 349h.9M92.4 358.3h.9M81.7 351h.9M100.2 347.7h.9M70.1 355.5h.9M86.9 351.5h.9M94.2 362.4h.9M94.3 355.8h.9M88.9 358h.9M77.4 345h.9M106.2 352.7h.9M79.8 365.3h.9M80.9 354.4h.9M101.9 347.1h.9M93.1 351h.9M70.4 360.8h.9M103.5 346.4h.9M94.7 351.9h.9M89.5 356.2h.9M87.3 354.3h.9M83.2 356.2h.9M76.4 358.1h.9M89 367.4h.9M95.4 350h.9M81.3 353h.9M80.7 345.5h.9M96.8 357.1h.9M87.6 359.6h.9M80 348.2h.9M100.4 329.6h.9M89.4 348.5h.9M98.1 362h.9M90.3 336.6h.9M84.9 356.9h.9M84.3 358.9h.9M86.9 363.8h.9M104.2 354.5h.9M99.9 352.2h.9M94.4 363.8h.9M96.7 353.9h.9M109.1 342.2h.9M87.6 349.2h.9M85 363.1h.9M79 357.8h.9M86.5 347.4h.9M82.2 366.4h.9M89.3 356.2h.9M86.2 346.9h.9M92.4 356.2h.9M90.9 356.9h.9M76.8 349.7h.9M86 341.6h.9M87.2 355.2h.9M78.8 360.4h.9M90.7 346.2h.9M80.1 360.3h.9M96.5 349.9h.9M95.2 351.4h.9M90.6 356.1h.9M81.5 366.3h.9M90.7 353.8h.9M90.6 356.1h.9M95.1 348.9h.9M92.9 353.2h.9M97.7 346h.9M82.9 341.5h.9M97.4 357.6h.9M82.6 356.3h.9M85.1 368h.9M93.7 361.1h.9M94.2 345h.9M81.6 350.4h.9M88.3 362.8h.9M94.6 347.9h.9M82.9 350.6h.9M85 351.7h.9M85.5 347.3h.9M94 352.2h.9M100.1 345.8h.9M105.2 348.3h.9M97.4 362.8h.9M86.8 344.6h.9M83.9 354h.9M81.4 348.8h.9M89.4 350h.9M101.8 353.3h.9M92.7 348.7h.9M97.2 345.5h.9M92.8 350.1h.9M83.7 361.8h.9M92.3 360.4h.9M90 355.9h.9M101.8 343.4h.9M88.9 352.4h.9M99.4 356.2h.9M70.4 357.5h.9M86.2 362.5h.9M95.3 345.1h.9M80.1 355.3h.9M74.5 353.6h.9M85 354.1h.9M81 345.4h.9M82.3 359.9h.9M111 349.1h.9M84.1 355.4h.9M85.3 353h.9M100.7 351.3h.9M79 351.9h.9M112.1 353h.9M88.3 346h.9M87.2 361.4h.9M81.5 361.3h.9M77.9 357.5h.9M81.8 355.5h.9M74.4 359.4h.9M89.4 345.4h.9M81.5 342h.9M94.9 347.4h.9M100.8 345.2h.9M83.2 345.6h.9M85.3 356.4h.9M89.5 351.2h.9M83 350.6h.9M104.7 341.9h.9M80.2 364.5h.9M83.9 367.5h.9M77.3 355.3h.9M86.8 349.5h.9M83.8 349.8h.9M80.7 350.4h.9M93.7 347.1h.9M82.7 367.2h.9M94.3 356.4h.9M88 355.2h.9M100.5 348h.9M91.2 354.7h.9M81.7 356.3h.9M100.6 353.6h.9M90.2 334.8h.9M87.6 350.3h.9M82.9 361.6h.9M90.9 352h.9M101.3 348.8h.9M84.8 352.8h.9M89 355h.9M86.2 352.5h.9M65.4 354.2h.9M97.7 353.4h.9M86.7 363.9h.9M98.6 358.7h.9M107.4 340.8h.9M71 353.3h.9M86.6 351.4h.9M88.2 355.7h.9M110.1 349.2h.9M93.1 355.1h.9M86.4 355.9h.9M73.6 362.1h.9M87.7 349.9h.9M81.6 354h.9M82.4 353h.9M95.3 342.5h.9M78.4 362h.9M74 351.5h.9M94.8 357.7h.9M73 357.2h.9M80.1 357.9h.9M86.8 356.1h.9M85.5 356.1h.9M102.9 347.3h.9M90.2 348.2h.9M88.1 362.2h.9M80.2 356.5h.9M85.7 348.1h.9M90.6 350.7h.9M87.8 352.4h.9M86.3 350.3h.9M78.5 354.2h.9M100 343.9h.9M96.9 355h.9M94.7 358.9h.9M95.1 347.2h.9M91.6 342h.9M80.4 354.5h.9M90.6 334.5h.9M85.7 351.8h.9M81.7 354.7h.9M87.1 343.6h.9M87.3 354.1h.9M92.6 351.1h.9M111.1 350.1h.9M78.8 366.1h.9M93.2 349.1h.9M97.2 357.3h.9M90.5 347.5h.9M96.6 339.9h.9M87.1 360.4h.9M82.6 362.5h.9M83.1 348.8h.9M99.5 343h.9M93.2 350.5h.9M77.7 359.2h.9M89.7 364.7h.9M77.1 352.3h.9M75.4 354.8h.9M79.4 362.1h.9M93.5 352h.9M81.9 359.4h.9M97.5 340.3h.9M87.7 349.8h.9M91.6 340.5h.9M90 358.8h.9M81.6 359.2h.9M86.5 355.2h.9M74.8 346.7h.9M78.3 351.7h.9M85.6 362h.9M84.6 365.3h.9M80.5 367h.9M84.2 352h.9M74.6 362.6h.9M87.7 354.2h.9M71.9 364.7h.9M88.7 344.5h.9M81.8 350h.9M92.5 356.9h.9M88.4 346.1h.9M90.2 352.1h.9M84.3 352.1h.9M75 363.3h.9M81.7 363.6h.9M85.2 347h.9M91.9 357.4h.9M106 335.2h.9M70.3 370.6h.9M85.8 360.5h.9M87.7 337.9h.9M94.3 358.5h.9M94.1 347.7h.9" fill="none" stroke="#ff0a0a" stroke-width="0.9" stroke-opacity="0.65"/>
<path d="M81.8 356.8h.9M73 364.3h.9M84 341.1h.9M116.1 339.7h.9M98 357.1h.9M81.5 343.7h.9M97.7 350.4h.9M103.1 329.2h.9M102 341.5h.9M104.9 342.3h.9M98.1 345.4h.9M98.7 367.2h.9M95.7 339.9h.9M80.2 360h.9M90.8 343.1h.9M53.2 362.7h.9M62.7 348.9h.9M100.6 341.8h.9M88.5 350h.9M72.7 345.9h.9M83.7 365.5h.9M96.2 369.8h.9M108.5 353.8h.9M99.5 331.5h.9M116.2 339.1h.9M87.6 361.1h.9M103.7 353.8h.9M100.2 376.7h.9M87.1 352.2h.9M117.5 341.4h.9M95.6 340h.9M106.2 354.7h.9M49.8 393.2h.9M98.4 343.3h.9M90.3 322h.9M82.5 364.7h.9M117.9 352.8h.9M56.1 377.3h.9M81.5 338.5h.9M97.1 347.3h.9M94 375.3h.9M98.6 354.1h.9M81.2 355.5h.9M64.2 375.6h.9M66.7 344h.9M78.8 346.2h.9M87.2 377.5h.9M101.1 348.3h.9M64.4 359h.9M106.2 363.6h.9M71.3 340h.9M98.9 364.5h.9M68.2 351.2h.9M101.4 333.4h.9M64 362.7h.9M81.7 366.9h.9M74.5 350.4h.9M90.1 344.3h.9M86.3 363.1h.9M105.3 348.5h.9M80.7 352.5h.9M79 347.9h.9M90.3 343.2h.9M119.9 335.4h.9M122.5 343.9h.9M96.1 383.3h.9M85.6 367.9h.9M87.7 336.5h.9M119.9 335.2h.9M102.3 345h.9M97.5 374.3h.9M105.2 353.4h.9M100.7 353.4h.9M100.7 357.5h.9M80 334.9h.9M102.3 362.1h.9M77.6 361.2h.9M106.7 356.6h.9M88.5 377.4h.9M107.4 333.9h.9M95.2 354.8h.9M107.3 329.9h.9M78.2 345h.9M97.2 350.8h.9M83.6 358h.9M115 352.3h.9M63.1 365.5h.9M90.6 331.2h.9M105.8 361.2h.9M96.8 344.6h.9M87.2 378.3h.9M68.8 369.5h.9M69.9 364.5h.9M81.6 350.5h.9M105.2 353.3h.9M78.2 351.9h.9M73 352.3h.9M88.9 340.6h.9M75.2 353.8h.9M83.9 354.7h.9M99.8 352.7h.9M104.6 375.2h.9M75.2 356.1h.9M90.1 383.5h.9M72.8 371.5h.9M92.4 343h.9M68 365.4h.9M65.4 357.5h.9M97.4 355.8h.9M83 359.8h.9M72.7 350.3h.9M95.9 356.2h.9M103.5 361.6h.9M92.3 355.6h.9M81.6 360.7h.9M101.4 364.6h.9M71.3 325.4h.9M102 351.4h.9M80.5 336.6h.9M63.2 351.1h.9M70.2 341.7h.9M70.6 353.8h.9M72.2 349.4h.9M96.4 342.5h.9M70.6 353.8h.9M100.4 360h.9M96 350.3h.9M93.8 364h.9M84.4 344.9h.9M72.2 356h.9M65.5 371.7h.9M98.2 360h.9M99.4 364.1h.9M107.6 332.3h.9M107.8 351.5h.9M61.8 377.7h.9M105.2 342.4h.9M99 339.4h.9M84.4 342.1h.9M84 363.9h.9M97.9 339.6h.9M89.5 369.1h.9M129 367.4h.9M100 346.6h.9M69.8 363.8h.9M77.3 330.1h.9M109.7 373.1h.9M71.6 357.1h.9M82.8 359.8h.9M76.8 342.9h.9M93.1 352.5h.9M73.3 352.1h.9M76.9 357.7h.9M87.6 343.9h.9M95.3 344.3h.9M105.6 328.3h.9M85.8 369.7h.9M70.3 349.9h.9M63.9 351.8h.9M97.3 355.3h.9M77.1 365.1h.9M97.5 347.7h.9M95.3 346h.9M107.4 345.3h.9M94.7 365.4h.9M91.6 366.1h.9M72.1 371.2h.9M112.2 367.1h.9M83.3 378.9h.9M88.3 346h.9M93.2 352.9h.9M77.8 360.3h.9M79.7 364.9h.9M94.6 352.7h.9M117.7 361.5h.9M62.5 361.4h.9M84.9 364h.9M82.1 360.4h.9M83.7 352.9h.9M85.5 329.6h.9M64.3 376h.9M76.3 361.2h.9M76 363.6h.9M91.6 352.1h.9M86 346.6h.9M76.2 365.1h.9M93.5 336.3h.9M105.4 352.1h.9M73.3 352.5h.9M86 351.9h.9M77.5 350h.9M97.2 361.3h.9M94.8 353.9h.9M81 352.2h.9M93.9 358h.9M77.8 369.6h.9M95.1 366h.9M64.2 340.5h.9M80.3 360.1h.9M76.2 369.2h.9M89.8 350.7h.9M68.3 370.5h.9M69 354.6h.9M75.5 341.9h.9M100.6 361h.9M102.5 349.5h.9M86.1 354.7h.9M64.7 357h.9M97.2 361.8h.9M69 363.8h.9M99.1 339.3h.9M94.7 355h.9M96.8 339.2h.9M83.2 367.5h.9M54.9 365.5h.9M123.4 326.6h.9M87.6 343.7h.9M70.2 338.2h.9M82.4 371.4h.9M100.1 331h.9M97.5 348.1h.9M86.5 353.7h.9M97.3 355.5h.9M87.5 329.5h.9M88.8 367.7h.9M71.8 332.2h.9M67.3 352.2h.9M85.7 367.4h.9M101.7 345.4h.9M82.5 348.8h.9M99.4 341.5h.9M110.8 345.2h.9M77.1 353.6h.9M107.9 362.9h.9M79.5 351.6h.9M73.3 340.6h.9M68.3 368h.9M89.7 376.2h.9M85.8 357.2h.9M87.7 363.8h.9M105.3 355h.9M90.8 372.3h.9M111.9 355.7h.9M114.4 345.6h.9M75.8 341h.9M66.3 353.5h.9M76.3 371h.9M92 346.1h.9M89.6 348.5h.9M117.6 352.9h.9M73.8 353.6h.9M76 374.5h.9M106.5 319.3h.9M93.3 348.7h.9M92.3 363.5h.9M84.9 371.2h.9M72.3 365.6h.9M99.5 358.3h.9M99 364.4h.9M94.6 353.5h.9M85.7 353.4h.9M101.5 339.9h.9M79.3 359.3h.9M88.7 346h.9M105.9 351.1h.9M69.7 360.6h.9M71.6 361.5h.9M110.5 317.3h.9M76.8 375.6h.9M94.5 353h.9M94.3 345.5h.9M87.8 346.4h.9M61.6 359.8h.9M77.8 375.6h.9M60 377.8h.9M95.3 353.6h.9M89.6 384.5h.9M102.6 358.7h.9M81.9 355.8h.9M84.2 351.5h.9M102 332.1h.9M76.5 364.5h.9M91.4 363.9h.9M98.3 351.2h.9M86 346.5h.9M116.6 339.1h.9M80.9 328.9h.9M104.2 336.2h.9M78.2 360.1h.9M83.7 363.9h.9M69.9 373.6h.9M57.5 365.4h.9M96.9 352.7h.9M87.4 352.9h.9M82.9 354.3h.9M82.6 352.1h.9M78 361.6h.9M113.2 344.8h.9M71.8 354.1h.9M115.6 311.6h.9M120.2 317.9h.9M102.5 322.1h.9M108.8 310.1h.9M94.6 293.9h.9M99.6 305.8h.9M91.2 298.3h.9M132.6 308.1h.9M137.1 297.3h.9M132.9 307.6h.9M116 310.9h.9M152.5 311.6h.9M82.2 340.2h.9M127.4 309.8h.9M133.6 329.3h.9M116.7 328.5h.9M120.7 301.9h.9M99.5 311.3h.9M98.4 322h.9M106.2 317.8h.9M95.4 311.6h.9M87.2 309.2h.9M131.3 311.4h.9M94.4 314.4h.9M142.8 303.7h.9M108.8 310.3h.9M132.5 275.3h.9M101.4 313.7h.9M123.8 322.8h.9M115.6 319.9h.9M110.4 320.2h.9M125.9 317.8h.9M138 318.8h.9M115.7 303.4h.9M134.3 322.1h.9M105.9 323.7h.9M110.6 304.5h.9M96.6 341.3h.9M137.9 309.3h.9M105.3 340h.9M113.4 323.6h.9M124.2 295.7h.9M84.1 341.4h.9M105.4 309.5h.9M98.3 307.4h.9M120.3 318.8h.9M90.4 329.2h.9M130.8 332.7h.9M108.8 294.4h.9M84.4 345.9h.9M102.1 294.1h.9M134.9 303.8h.9M110.5 304.7h.9M81.8 329.6h.9M109.8 303.2h.9M94.8 325h.9M116.2 320.4h.9M110.1 314.2h.9M96.7 341.1h.9M134.8 323.8h.9M104.4 271.3h.9M120.8 306.8h.9M113.9 342h.9M90.4 329.9h.9M101.7 329.6h.9M98.9 317.5h.9M117.5 290.4h.9M109.2 298.9h.9M141.5 297.1h.9M123.2 318h.9M116.2 318.2h.9M106.9 310.1h.9M127 357.3h.9M104.9 305h.9M93.1 312.4h.9M137.4 281.3h.9M105.4 316.7h.9M137.8 316.5h.9M140.8 324.9h.9M99.1 332.4h.9M129.5 321.3h.9M99.9 306.8h.9M89.1 338.9h.9M141.7 307.4h.9M121.6 295.2h.9M109.6 322h.9M112.5 317.6h.9M118.9 326.1h.9M104.9 290.2h.9M95.9 309.6h.9M118.5 339h.9M117.6 305.4h.9M128.5 317.4h.9M97.9 315.8h.9M128 290.3h.9M145.8 331.1h.9M92 317.6h.9M143.1 293.6h.9M79.9 353.3h.9M103.4 340.9h.9M110.6 329.5h.9M95.5 327.5h.9M130.7 322.5h.9M73.3 326.4h.9M117.2 306.8h.9M71.2 327.6h.9M100.4 332.7h.9M124.6 317.6h.9M119.4 318.8h.9M105.4 360.1h.9M112 331.1h.9M100 298h.9M86.9 304.6h.9M107.1 323.3h.9M128.8 333.6h.9M114.5 320.1h.9M95.9 324.8h.9M120.8 313.4h.9M100.2 328.9h.9M113.4 336.5h.9M97.4 318.1h.9M111.6 323.1h.9M102.9 318.2h.9M102.3 313.7h.9M102.2 313.5h.9M117.8 327.8h.9M119.7 312.6h.9M92.4 313.7h.9M115.9 331.2h.9M93.7 311.9h.9M85.7 329.7h.9M122.8 312.5h.9M117 328.3h.9M100.7 356.2h.9M114.8 351.6h.9M101.6 320h.9M106.1 334.8h.9M106.6 331.2h.9M104 302.3h.9M115.3 305.5h.9M120.1 290.7h.9M111.9 305.8h.9M132.8 312.7h.9M102 330.9h.9M96.2 347.6h.9M105.5 320.6h.9M106.1 297.1h.9M84.4 353.1h.9M100.8 301.6h.9M101.3 324.4h.9M121.1 327.3h.9M104.8 306.8h.9M107.7 322.7h.9M126.5 302.3h.9M105.9 320.6h.9M113 307.9h.9M121.2 295.3h.9M117 348.9h.9M93.3 306.7h.9M117.6 320.7h.9M109.7 309.7h.9M139.9 308.3h.9M118.8 304.6h.9M109.7 297h.9M78.2 345.8h.9M126.4 316.2h.9M99.7 312h.9M86.5 334.8h.9M102.2 292.3h.9M109.9 335.8h.9M126.4 304.6h.9M145.1 331.4h.9M158.6 294.8h.9M89 340h.9M126.6 316.5h.9M82.4 348.4h.9M124.8 321.5h.9M120.1 320.4h.9M93.6 328.7h.9M112 317.8h.9M106.5 342.8h.9M115.8 327h.9M115.8 312.5h.9M111.8 322.9h.9M105.8 304.1h.9M90.2 327.8h.9M113.6 298.1h.9M104 325.2h.9M149.8 295.4h.9M124.3 307.1h.9M129 291.2h.9M128.4 309.7h.9M89.5 313.7h.9M104.1 342h.9M123.1 331.6h.9M132.5 317.7h.9M115.4 319.3h.9M86.7 351.4h.9M95.1 342.1h.9M92.7 358.6h.9M118.3 303.4h.9M107 288.4h.9M122.5 308.2h.9M104.3 315.3h.9M110.1 345.5h.9M93.3 305.1h.9M97.4 333.7h.9M96.8 323.8h.9M116.6 313h.9M125 306h.9M71.3 328.2h.9M107.8 317.6h.9M129.8 312.2h.9M115.4 331.3h.9M114.3 306.2h.9M128.7 325.1h.9M119.1 342.1h.9M105.5 345.2h.9M110.2 309.9h.9M85.8 341.5h.9M99 300.6h.9M138.1 316.3h.9M115.2 308.8h.9M123.9 318.8h.9M127 295.1h.9M125.7 341.1h.9M124.5 332.7h.9M78.5 328.8h.9M101 311.8h.9M116.5 295.3h.9M128.2 333h.9M130 329.8h.9M130.3 330.7h.9M133.1 332.9h.9M140.8 331.2h.9M132.8 331.7h.9M143.2 329.5h.9M123.7 331.8h.9M139.3 331.6h.9M120.6 332.6h.9M138.8 335.5h.9M138.6 323.7h.9M129.7 328h.9M131 334.2h.9M127.6 329h.9M122.1 331.9h.9M125.7 329.8h.9M152.6 326.7h.9M119.9 327.7h.9M129.1 331.2h.9M135.5 327.6h.9M133.2 328.8h.9M133.4 332.4h.9M137.9 327h.9M125.3 334.8h.9M126.3 330.2h.9M143.5 327.7h.9M103.8 335.2h.9M131.9 329.3h.9M118.6 332.5h.9M132.4 328.2h.9M137.9 325.2h.9M125.7 331.7h.9M127.5 329.3h.9M148.6 327.1h.9M133.2 331.8h.9M120 327.4h.9M130.3 326.8h.9M138.7 330h.9M133.9 331.6h.9M137 329.5h.9M137.8 326.1h.9M126.2 328.8h.9M135.4 330.5h.9M133.5 326.8h.9M132.6 327.5h.9M134.1 326.6h.9M130.5 330.8h.9M137.7 334.3h.9M126.6 327h.9M124.5 326.6h.9M145.5 329.1h.9M124.9 329.9h.9M138.8 324.8h.9M144.9 329.6h.9M139.1 330h.9M140.7 327.5h.9M144 328.3h.9M139.1 331.8h.9M123.1 329.9h.9M120.7 339h.9M150.5 348.4h.9M103.3 351.1h.9M111 337.3h.9M124.5 346.4h.9M128.5 345.6h.9M122.9 344.6h.9M101 339.5h.9M121.8 330.7h.9M120.8 348.3h.9M121.8 349.1h.9M118.9 346.9h.9M124 350.3h.9M118 347.1h.9M106.2 345h.9M128.9 340h.9M123.7 345.3h.9M132.4 346.3h.9M128.6 355.4h.9M103.1 349.1h.9M134.9 346.2h.9M125.7 351.4h.9M99 327.1h.9M142 333.6h.9M119.7 348.7h.9M123 346.1h.9M113.2 360.1h.9M122.6 358.4h.9M112.6 354.2h.9M146.8 352.6h.9M114.2 342.3h.9M115.2 343.1h.9M132.2 348.6h.9M126.7 345.4h.9M101.6 342.8h.9M104.9 338.1h.9M119.7 343.5h.9M133.3 349.8h.9M108.7 335.6h.9M129.5 341.9h.9" fill="none" stroke="#ff0a0a" stroke-width="0.9" stroke-opacity="0.5"/>
<line x1="33.3" y1="335.8" x2="186.4" y2="335.8" stroke="#f03030" stroke-width="0.9" />
<line x1="103.6" y1="242.9" x2="103.6" y2="406.8" stroke="#f03030" stroke-width="0.9" />
<circle cx="103.6" cy="274.2" r="2.1" fill="none" stroke="#e62020" stroke-width="0.8"/>
<circle cx="158.5" cy="335.8" r="2.1" fill="none" stroke="#e62020" stroke-width="0.8"/>
<text x="106.8" y="330.6" font-family="Liberation Serif" font-size="7" text-anchor="start" font-weight="normal" fill="#ee4a4a" >R2</text>
<rect x="33.3" y="242.9" width="153.1" height="163.9" fill="none" stroke="#2a2a2a" stroke-width="0.9"/>
<line x1="33.3" y1="406.8" x2="33.3" y2="409.6" stroke="#2a2a2a" stroke-width="0.8" />
<line x1="30.5" y1="406.8" x2="33.3" y2="406.8" stroke="#2a2a2a" stroke-width="0.8" />
<line x1="42.5" y1="406.8" x2="42.5" y2="408.3" stroke="#2a2a2a" stroke-width="0.8" />
<line x1="31.8" y1="396.9" x2="33.3" y2="396.9" stroke="#2a2a2a" stroke-width="0.8" />
<line x1="47.9" y1="406.8" x2="47.9" y2="408.3" stroke="#2a2a2a" stroke-width="0.8" />
<line x1="31.8" y1="391.2" x2="33.3" y2="391.2" stroke="#2a2a2a" stroke-width="0.8" />
<line x1="51.7" y1="406.8" x2="51.7" y2="408.3" stroke="#2a2a2a" stroke-width="0.8" />
<line x1="31.8" y1="387.1" x2="33.3" y2="387.1" stroke="#2a2a2a" stroke-width="0.8" />
<line x1="54.7" y1="406.8" x2="54.7" y2="408.3" stroke="#2a2a2a" stroke-width="0.8" />
<line x1="31.8" y1="383.9" x2="33.3" y2="383.9" stroke="#2a2a2a" stroke-width="0.8" />
<line x1="57.1" y1="406.8" x2="57.1" y2="408.3" stroke="#2a2a2a" stroke-width="0.8" />
<line x1="31.8" y1="381.3" x2="33.3" y2="381.3" stroke="#2a2a2a" stroke-width="0.8" />
<line x1="59.2" y1="406.8" x2="59.2" y2="408.3" stroke="#2a2a2a" stroke-width="0.8" />
<line x1="31.8" y1="379.1" x2="33.3" y2="379.1" stroke="#2a2a2a" stroke-width="0.8" />
<line x1="61" y1="406.8" x2="61" y2="408.3" stroke="#2a2a2a" stroke-width="0.8" />
<line x1="31.8" y1="377.2" x2="33.3" y2="377.2" stroke="#2a2a2a" stroke-width="0.8" />
<line x1="62.5" y1="406.8" x2="62.5" y2="408.3" stroke="#2a2a2a" stroke-width="0.8" />
<line x1="31.8" y1="375.5" x2="33.3" y2="375.5" stroke="#2a2a2a" stroke-width="0.8" />
<line x1="63.9" y1="406.8" x2="63.9" y2="409.6" stroke="#2a2a2a" stroke-width="0.8" />
<line x1="30.5" y1="374" x2="33.3" y2="374" stroke="#2a2a2a" stroke-width="0.8" />
<line x1="73.1" y1="406.8" x2="73.1" y2="408.3" stroke="#2a2a2a" stroke-width="0.8" />
<line x1="31.8" y1="364.2" x2="33.3" y2="364.2" stroke="#2a2a2a" stroke-width="0.8" />
<line x1="78.5" y1="406.8" x2="78.5" y2="408.3" stroke="#2a2a2a" stroke-width="0.8" />
<line x1="31.8" y1="358.4" x2="33.3" y2="358.4" stroke="#2a2a2a" stroke-width="0.8" />
<line x1="82.4" y1="406.8" x2="82.4" y2="408.3" stroke="#2a2a2a" stroke-width="0.8" />
<line x1="31.8" y1="354.3" x2="33.3" y2="354.3" stroke="#2a2a2a" stroke-width="0.8" />
<line x1="85.3" y1="406.8" x2="85.3" y2="408.3" stroke="#2a2a2a" stroke-width="0.8" />
<line x1="31.8" y1="351.1" x2="33.3" y2="351.1" stroke="#2a2a2a" stroke-width="0.8" />
<line x1="87.7" y1="406.8" x2="87.7" y2="408.3" stroke="#2a2a2a" stroke-width="0.8" />
<line x1="31.8" y1="348.5" x2="33.3" y2="348.5" stroke="#2a2a2a" stroke-width="0.8" />
<line x1="89.8" y1="406.8" x2="89.8" y2="408.3" stroke="#2a2a2a" stroke-width="0.8" />
<line x1="31.8" y1="346.3" x2="33.3" y2="346.3" stroke="#2a2a2a" stroke-width="0.8" />
<line x1="91.6" y1="406.8" x2="91.6" y2="408.3" stroke="#2a2a2a" stroke-width="0.8" />
<line x1="31.8" y1="344.4" x2="33.3" y2="344.4" stroke="#2a2a2a" stroke-width="0.8" />
<line x1="93.1" y1="406.8" x2="93.1" y2="408.3" stroke="#2a2a2a" stroke-width="0.8" />
<line x1="31.8" y1="342.7" x2="33.3" y2="342.7" stroke="#2a2a2a" stroke-width="0.8" />
<line x1="94.5" y1="406.8" x2="94.5" y2="409.6" stroke="#2a2a2a" stroke-width="0.8" />
<line x1="30.5" y1="341.2" x2="33.3" y2="341.2" stroke="#2a2a2a" stroke-width="0.8" />
<line x1="103.8" y1="406.8" x2="103.8" y2="408.3" stroke="#2a2a2a" stroke-width="0.8" />
<line x1="31.8" y1="331.4" x2="33.3" y2="331.4" stroke="#2a2a2a" stroke-width="0.8" />
<line x1="109.1" y1="406.8" x2="109.1" y2="408.3" stroke="#2a2a2a" stroke-width="0.8" />
<line x1="31.8" y1="325.6" x2="33.3" y2="325.6" stroke="#2a2a2a" stroke-width="0.8" />
<line x1="113" y1="406.8" x2="113" y2="408.3" stroke="#2a2a2a" stroke-width="0.8" />
<line x1="31.8" y1="321.5" x2="33.3" y2="321.5" stroke="#2a2a2a" stroke-width="0.8" />
<line x1="115.9" y1="406.8" x2="115.9" y2="408.3" stroke="#2a2a2a" stroke-width="0.8" />
<line x1="31.8" y1="318.3" x2="33.3" y2="318.3" stroke="#2a2a2a" stroke-width="0.8" />
<line x1="118.4" y1="406.8" x2="118.4" y2="408.3" stroke="#2a2a2a" stroke-width="0.8" />
<line x1="31.8" y1="315.7" x2="33.3" y2="315.7" stroke="#2a2a2a" stroke-width="0.8" />
<line x1="120.4" y1="406.8" x2="120.4" y2="408.3" stroke="#2a2a2a" stroke-width="0.8" />
<line x1="31.8" y1="313.5" x2="33.3" y2="313.5" stroke="#2a2a2a" stroke-width="0.8" />
<line x1="122.2" y1="406.8" x2="122.2" y2="408.3" stroke="#2a2a2a" stroke-width="0.8" />
<line x1="31.8" y1="311.6" x2="33.3" y2="311.6" stroke="#2a2a2a" stroke-width="0.8" />
<line x1="123.8" y1="406.8" x2="123.8" y2="408.3" stroke="#2a2a2a" stroke-width="0.8" />
<line x1="31.8" y1="310" x2="33.3" y2="310" stroke="#2a2a2a" stroke-width="0.8" />
<line x1="125.2" y1="406.8" x2="125.2" y2="409.6" stroke="#2a2a2a" stroke-width="0.8" />
<line x1="30.5" y1="308.5" x2="33.3" y2="308.5" stroke="#2a2a2a" stroke-width="0.8" />
<line x1="134.4" y1="406.8" x2="134.4" y2="408.3" stroke="#2a2a2a" stroke-width="0.8" />
<line x1="31.8" y1="298.6" x2="33.3" y2="298.6" stroke="#2a2a2a" stroke-width="0.8" />
<line x1="139.8" y1="406.8" x2="139.8" y2="408.3" stroke="#2a2a2a" stroke-width="0.8" />
<line x1="31.8" y1="292.8" x2="33.3" y2="292.8" stroke="#2a2a2a" stroke-width="0.8" />
<line x1="143.6" y1="406.8" x2="143.6" y2="408.3" stroke="#2a2a2a" stroke-width="0.8" />
<line x1="31.8" y1="288.7" x2="33.3" y2="288.7" stroke="#2a2a2a" stroke-width="0.8" />
<line x1="146.6" y1="406.8" x2="146.6" y2="408.3" stroke="#2a2a2a" stroke-width="0.8" />
<line x1="31.8" y1="285.5" x2="33.3" y2="285.5" stroke="#2a2a2a" stroke-width="0.8" />
<line x1="149" y1="406.8" x2="149" y2="408.3" stroke="#2a2a2a" stroke-width="0.8" />
<line x1="31.8" y1="283" x2="33.3" y2="283" stroke="#2a2a2a" stroke-width="0.8" />
<line x1="151" y1="406.8" x2="151" y2="408.3" stroke="#2a2a2a" stroke-width="0.8" />
<line x1="31.8" y1="280.8" x2="33.3" y2="280.8" stroke="#2a2a2a" stroke-width="0.8" />
<line x1="152.8" y1="406.8" x2="152.8" y2="408.3" stroke="#2a2a2a" stroke-width="0.8" />
<line x1="31.8" y1="278.9" x2="33.3" y2="278.9" stroke="#2a2a2a" stroke-width="0.8" />
<line x1="154.4" y1="406.8" x2="154.4" y2="408.3" stroke="#2a2a2a" stroke-width="0.8" />
<line x1="31.8" y1="277.2" x2="33.3" y2="277.2" stroke="#2a2a2a" stroke-width="0.8" />
<line x1="155.8" y1="406.8" x2="155.8" y2="409.6" stroke="#2a2a2a" stroke-width="0.8" />
<line x1="30.5" y1="275.7" x2="33.3" y2="275.7" stroke="#2a2a2a" stroke-width="0.8" />
<line x1="165" y1="406.8" x2="165" y2="408.3" stroke="#2a2a2a" stroke-width="0.8" />
<line x1="31.8" y1="265.8" x2="33.3" y2="265.8" stroke="#2a2a2a" stroke-width="0.8" />
<line x1="170.4" y1="406.8" x2="170.4" y2="408.3" stroke="#2a2a2a" stroke-width="0.8" />
<line x1="31.8" y1="260" x2="33.3" y2="260" stroke="#2a2a2a" stroke-width="0.8" />
<line x1="174.2" y1="406.8" x2="174.2" y2="408.3" stroke="#2a2a2a" stroke-width="0.8" />
<line x1="31.8" y1="255.9" x2="33.3" y2="255.9" stroke="#2a2a2a" stroke-width="0.8" />
<line x1="177.2" y1="406.8" x2="177.2" y2="408.3" stroke="#2a2a2a" stroke-width="0.8" />
<line x1="31.8" y1="252.8" x2="33.3" y2="252.8" stroke="#2a2a2a" stroke-width="0.8" />
<line x1="179.6" y1="406.8" x2="179.6" y2="408.3" stroke="#2a2a2a" stroke-width="0.8" />
<line x1="31.8" y1="250.2" x2="33.3" y2="250.2" stroke="#2a2a2a" stroke-width="0.8" />
<line x1="181.7" y1="406.8" x2="181.7" y2="408.3" stroke="#2a2a2a" stroke-width="0.8" />
<line x1="31.8" y1="248" x2="33.3" y2="248" stroke="#2a2a2a" stroke-width="0.8" />
<line x1="183.4" y1="406.8" x2="183.4" y2="408.3" stroke="#2a2a2a" stroke-width="0.8" />
<line x1="31.8" y1="246.1" x2="33.3" y2="246.1" stroke="#2a2a2a" stroke-width="0.8" />
<line x1="185" y1="406.8" x2="185" y2="408.3" stroke="#2a2a2a" stroke-width="0.8" />
<line x1="31.8" y1="244.4" x2="33.3" y2="244.4" stroke="#2a2a2a" stroke-width="0.8" />
<line x1="186.4" y1="406.8" x2="186.4" y2="409.6" stroke="#2a2a2a" stroke-width="0.6" />
<line x1="30.5" y1="242.9" x2="33.3" y2="242.9" stroke="#2a2a2a" stroke-width="0.6" />
<text x="33.3" y="416.2" font-family="Liberation Serif" font-size="8.0" text-anchor="middle" fill="#1a1a1a" stroke="#1a1a1a" stroke-width="0.2">10<tspan dy="-2.7" font-size="5.3">0</tspan></text>
<text x="32" y="404.6" font-family="Liberation Serif" font-size="8.0" text-anchor="middle" fill="#1a1a1a" stroke="#1a1a1a" stroke-width="0.2" transform="rotate(-90 32 404.6)">10<tspan dy="-2.7" font-size="5.3">0</tspan></text>
<text x="63.9" y="416.2" font-family="Liberation Serif" font-size="8.0" text-anchor="middle" fill="#1a1a1a" stroke="#1a1a1a" stroke-width="0.2">10<tspan dy="-2.7" font-size="5.3">1</tspan></text>
<text x="32" y="374" font-family="Liberation Serif" font-size="8.0" text-anchor="middle" fill="#1a1a1a" stroke="#1a1a1a" stroke-width="0.2" transform="rotate(-90 32 374)">10<tspan dy="-2.7" font-size="5.3">1</tspan></text>
<text x="94.5" y="416.2" font-family="Liberation Serif" font-size="8.0" text-anchor="middle" fill="#1a1a1a" stroke="#1a1a1a" stroke-width="0.2">10<tspan dy="-2.7" font-size="5.3">2</tspan></text>
<text x="32" y="341.2" font-family="Liberation Serif" font-size="8.0" text-anchor="middle" fill="#1a1a1a" stroke="#1a1a1a" stroke-width="0.2" transform="rotate(-90 32 341.2)">10<tspan dy="-2.7" font-size="5.3">2</tspan></text>
<text x="125.2" y="416.2" font-family="Liberation Serif" font-size="8.0" text-anchor="middle" fill="#1a1a1a" stroke="#1a1a1a" stroke-width="0.2">10<tspan dy="-2.7" font-size="5.3">3</tspan></text>
<text x="32" y="308.5" font-family="Liberation Serif" font-size="8.0" text-anchor="middle" fill="#1a1a1a" stroke="#1a1a1a" stroke-width="0.2" transform="rotate(-90 32 308.5)">10<tspan dy="-2.7" font-size="5.3">3</tspan></text>
<text x="155.8" y="416.2" font-family="Liberation Serif" font-size="8.0" text-anchor="middle" fill="#1a1a1a" stroke="#1a1a1a" stroke-width="0.2">10<tspan dy="-2.7" font-size="5.3">4</tspan></text>
<text x="32" y="275.7" font-family="Liberation Serif" font-size="8.0" text-anchor="middle" fill="#1a1a1a" stroke="#1a1a1a" stroke-width="0.2" transform="rotate(-90 32 275.7)">10<tspan dy="-2.7" font-size="5.3">4</tspan></text>
<text x="186.4" y="416.2" font-family="Liberation Serif" font-size="8.0" text-anchor="middle" fill="#1a1a1a" stroke="#1a1a1a" stroke-width="0.2">10<tspan dy="-2.7" font-size="5.3">5</tspan></text>
<text x="32" y="242.9" font-family="Liberation Serif" font-size="8.0" text-anchor="middle" fill="#1a1a1a" stroke="#1a1a1a" stroke-width="0.2" transform="rotate(-90 32 242.9)">10<tspan dy="-2.7" font-size="5.3">5</tspan></text>
<text x="107.3" y="428.7" font-family="Liberation Serif" font-size="7.6" text-anchor="middle" font-weight="normal" fill="#222" >CD14 FITC</text>
<text x="20.8" y="318.5" font-family="Liberation Serif" font-size="7.8" text-anchor="middle" font-weight="normal" fill="#222" transform="rotate(-90 20.8 318.5)" >CD16 PE</text>
<text x="37" y="251.6" font-family="Liberation Serif" font-size="9.8" text-anchor="start" font-weight="normal" fill="#111" stroke="#111" stroke-width="0.3" textLength="21.1" lengthAdjust="spacingAndGlyphs">2.68%</text>
<text x="181.9" y="251.6" font-family="Liberation Serif" font-size="9.8" text-anchor="end" font-weight="normal" fill="#111" stroke="#111" stroke-width="0.3" textLength="21.1" lengthAdjust="spacingAndGlyphs">5.30%</text>
<text x="37" y="402.9" font-family="Liberation Serif" font-size="9.8" text-anchor="start" font-weight="normal" fill="#111" stroke="#111" stroke-width="0.3" textLength="25.2" lengthAdjust="spacingAndGlyphs">86.64%</text>
<text x="181.9" y="402.9" font-family="Liberation Serif" font-size="9.8" text-anchor="end" font-weight="normal" fill="#111" stroke="#111" stroke-width="0.3" textLength="21.1" lengthAdjust="spacingAndGlyphs">5.38%</text>
<path d="M279.6 363h.9M285.9 360.8h.9M285.2 366.4h.9M285.8 356h.9M286.9 357.9h.9M285.8 351.3h.9M285.8 357.3h.9M301.5 344.9h.9M295.4 355.7h.9M285 360.8h.9M304.4 345.4h.9M296.5 351.4h.9M287.6 365.7h.9M287 351.8h.9M286.1 359.7h.9M285.4 361.8h.9M294.8 353h.9M282.5 357.7h.9M290.1 354.5h.9M297.6 346.6h.9M297.2 354.5h.9M285.4 352h.9M290.1 349.9h.9M282.6 362h.9M293.1 344.7h.9M279 372.9h.9M293.2 347.8h.9M301.8 358.3h.9M287.3 352.8h.9M296.9 353.4h.9M291.8 349h.9M282.6 352.9h.9M292.6 347.8h.9M286 356.4h.9M284.7 350.7h.9M302.4 348.2h.9M297.2 346.2h.9M287.4 360.2h.9M295.3 348.4h.9M286.2 358.6h.9M287.3 357.3h.9M299 350.2h.9M294.7 365.4h.9M288.9 350.7h.9M300.1 349h.9M288.4 357.7h.9M283 360.4h.9M285.7 359.2h.9M287.8 352.6h.9M283.3 348.2h.9M289.2 352.6h.9M291.6 353.6h.9M293.1 351.1h.9M283.8 362.3h.9M299.8 354.1h.9M297 348h.9M287.1 350.8h.9M291.1 355.9h.9M280 365.9h.9M281.6 358.1h.9M291.7 357.7h.9M292.3 348.1h.9M298.9 345.7h.9M282.8 360h.9M290.4 349.8h.9M281.4 359.3h.9M291.2 351.6h.9M282.2 363.2h.9M288.9 356.5h.9M294.2 352.9h.9M285.3 368.9h.9M293.2 355.8h.9M286 352.4h.9M286.5 357.6h.9M284.9 364.7h.9M288.9 349.7h.9M286.2 358.6h.9M291.6 355.4h.9M290.2 356.3h.9M293 354.5h.9M290 361.3h.9M288.8 362.8h.9M285.9 353.1h.9M284.8 363.1h.9M284.2 357.2h.9M288.3 357.6h.9M285 360h.9M289.2 359.2h.9M294.5 348.3h.9M287.4 355.2h.9M298.5 344.4h.9M286.5 357.7h.9M293.3 349.5h.9M287.4 356.3h.9M284.4 360.9h.9M287.6 357.8h.9M295.4 349.9h.9M294.5 350.8h.9M278.8 358h.9M286.6 358h.9M290.9 347h.9M286.7 351.2h.9M285 355.6h.9M282.3 356.3h.9M284.7 355.9h.9M279.8 356.2h.9M297.4 349.6h.9M291.6 357.9h.9M291.5 360.4h.9M292.6 352.8h.9M294.6 350.8h.9M289.9 358.7h.9M292.3 353.2h.9M286.8 364.5h.9M293.8 351.9h.9M290 357.3h.9M286.5 357.6h.9M292.8 358.1h.9M298.7 342.9h.9M279.6 363h.9M295.9 352.8h.9M281.2 359.4h.9M286 358h.9M296.9 348.8h.9M297.2 352.3h.9M281.2 363.9h.9M285.5 355.1h.9M295.8 359.3h.9M284.7 361.2h.9M287 360.2h.9M287 356.4h.9M284 364.1h.9M281.8 355.7h.9M291.7 360.4h.9M289.1 350.9h.9M284.2 365.4h.9M291 353.5h.9M288.1 348.5h.9M289.8 350h.9M283.3 353.4h.9M284.8 357.3h.9M280.3 364.7h.9M294.9 354.9h.9M291.9 363.5h.9M290.5 360.6h.9M290.4 356.6h.9M286.5 359.2h.9M287 357.2h.9M285 353.3h.9M300 358.3h.9M295.9 350.7h.9M292.8 356.6h.9M290.5 351.4h.9M289 360.9h.9M290.4 352.2h.9M289.7 365.2h.9M282.7 358.8h.9M297.4 353.1h.9M288.9 360.8h.9M292.6 356.3h.9M295.7 347.1h.9M289 357.4h.9M294.8 352.6h.9M286.9 356.7h.9M290.7 347.2h.9M290.3 360.3h.9M285.1 359.6h.9M298.3 360.3h.9M291.2 351.7h.9M293.5 358.8h.9M290.7 356.5h.9M283.2 357.5h.9M294.6 350h.9M289.5 350.4h.9M290.2 356.5h.9M297.6 351.3h.9M286.9 355.7h.9M289.4 359.8h.9M294.3 351.2h.9M287.2 359.8h.9M290 350.8h.9M287.4 351.4h.9M285.3 351h.9M296.1 355.1h.9M287.9 354.9h.9M291.4 358.3h.9M291.5 353.7h.9M285.1 364.9h.9M285.1 354.4h.9M288.5 355h.9M294.1 352.3h.9M289.4 355.6h.9M295 353.7h.9M292.7 355.9h.9M287 352h.9M284.3 357.2h.9M289 354.5h.9M291.4 353.1h.9M287.3 348.4h.9M288.5 361.1h.9M291.8 351.4h.9M299.9 349.3h.9M293.8 354.1h.9M288.3 358.9h.9M287.6 361.2h.9M288.1 357.1h.9M287.6 352.9h.9M285.2 359.1h.9M283.2 356.5h.9M285.8 359.9h.9M283.1 355.4h.9M286.3 363.3h.9M288.2 357.9h.9M282.3 355.8h.9M291.5 363.3h.9M291.4 359.8h.9M287.3 359.3h.9M286 360h.9M285.9 355.2h.9M302.4 347.6h.9M284.5 354h.9M295.2 346.7h.9M283.5 351h.9M286.8 351.7h.9M289.6 360.9h.9M297.4 352.7h.9M284.1 359h.9M283.4 357.1h.9M290 355.7h.9M283.2 353.5h.9M292.9 346.9h.9M279.3 355.8h.9M285.7 350.2h.9M293.2 355.2h.9M283.2 363.6h.9M295.8 352h.9M299.7 352.6h.9M292.4 353.2h.9M281.9 359.7h.9M288 357.7h.9M282 366.2h.9M286.5 358.3h.9M280.6 352.9h.9M286.8 356.4h.9M284.7 353.1h.9M289.5 350.4h.9M281.8 360.8h.9M287 354.2h.9M285.8 357.5h.9M285.5 360.2h.9M292 355.4h.9M285.6 359h.9M289.7 353h.9M284.8 361.1h.9M286.2 362.7h.9M297.2 342.9h.9M293 353.5h.9M289.4 347.8h.9M293.1 348.7h.9M279 352.5h.9M290.6 350.1h.9M289.9 353h.9M291.3 361.7h.9M291.2 341.4h.9M289.7 351.7h.9M287.3 353.4h.9M288.6 356.2h.9M296 357.8h.9M296.4 351.1h.9M290.2 351.6h.9M292.5 344.6h.9M285.4 363.1h.9M293.7 359.4h.9M292.2 353.4h.9M283.5 356.1h.9M286.5 361.1h.9M287 353.1h.9M289 357.2h.9M290.8 355.8h.9M278.4 360h.9M288.7 350.6h.9M288.5 353.7h.9M284.6 365.7h.9M277.4 359.6h.9M282.7 354.5h.9M292 355.1h.9M290.4 358.1h.9M286.1 356.3h.9M293.2 354.3h.9M279.1 358.5h.9M282.2 357.8h.9M284.1 363.9h.9M278.3 361.4h.9M283.7 345.2h.9M297.2 348h.9M280.1 364.1h.9M289.3 353.6h.9M292 357.8h.9M283.1 351.5h.9M287.3 358.8h.9M284.9 361.9h.9M293.6 349.9h.9M287.4 358.6h.9M294 354.1h.9M286 359.6h.9M274.4 362.3h.9M283.4 356.6h.9M286.4 352.8h.9M280.7 350.8h.9M291.9 354.1h.9M295.1 360.2h.9M288.4 365.7h.9M282.5 350.6h.9M293.8 358.4h.9M280.8 360.6h.9M292.2 353.8h.9M295 349.3h.9M296.2 345.5h.9M304.6 355h.9M290.5 350.5h.9M294.3 348.2h.9M290 353.2h.9M288.5 353.3h.9M300 353.9h.9M290.2 361.4h.9M285.5 357.1h.9M288.8 353.9h.9M291.2 351.6h.9M287.6 357.3h.9M285 361h.9M287.5 355h.9M278.9 358.7h.9M292.1 360.3h.9M286.7 354.7h.9M290.2 356.4h.9M284.2 358.5h.9M288.8 354.2h.9M284.2 353.8h.9M280.4 362.7h.9M285.8 367.4h.9M287.7 352.7h.9M286.4 355.6h.9M285.3 353.2h.9M284.8 356.5h.9M294 358.8h.9M295.5 352.8h.9M285.1 361.9h.9M293.7 353.5h.9M294.5 355.3h.9M294 359.5h.9M284.4 353.2h.9M285.9 357.3h.9M276.5 358.1h.9M286.7 355.3h.9M289.4 360.1h.9M287.9 358h.9M284.3 360.2h.9M285.4 360.9h.9M278 369.4h.9M289.7 353.9h.9M286.7 355.5h.9M295.8 348.2h.9M289.5 355.5h.9M288.8 352.7h.9M273.6 358.5h.9M292 350.8h.9M286.2 358.4h.9M282.1 355h.9M289.3 362.9h.9M289.6 359h.9M289.2 354.7h.9M288.4 363.3h.9M290.1 360.7h.9M287.4 356.1h.9M286.5 356.9h.9M283 352.8h.9M283 365.6h.9M296.6 354.9h.9M292 354h.9M291.9 359.7h.9M287.1 357.8h.9M278.8 364h.9M291.8 363.7h.9M290.2 356.2h.9M279.1 358.5h.9M290.7 359.5h.9M283.9 358.5h.9M284.5 356.1h.9M282.3 360h.9M289.5 352.8h.9M287.1 361.6h.9M283.2 360h.9M272.7 356.2h.9M284.6 353.7h.9M284.1 353.5h.9M285.1 354.2h.9M292.4 351.3h.9M281.9 359.6h.9M289.9 356.2h.9M285.9 354.9h.9M277.9 362.3h.9M297.4 351.7h.9M295.1 352.6h.9M288 358.1h.9M290.2 358.1h.9M286.4 358.9h.9M284.5 359.6h.9M295.1 354.4h.9M291.2 357.3h.9M283.4 360.4h.9M285 354.4h.9M291.5 353.1h.9M282.5 354.8h.9M284.3 363h.9M290.9 352.1h.9M291.8 354.2h.9M289.1 350.1h.9M278.7 361.9h.9M295.2 355.1h.9M283.4 358.6h.9M291.4 353.7h.9M280.7 361.6h.9M288.9 357.4h.9M298 357.9h.9M290.4 357.3h.9M291.9 354.7h.9M295.9 349h.9M289.8 362.4h.9M287.4 357.2h.9M294.8 349.1h.9M291.4 357.8h.9M291.7 357.8h.9M281.2 360.1h.9M289.6 361.3h.9M290.9 348.4h.9M294.3 358.8h.9M287 361.8h.9M282 345.9h.9M292.9 352.9h.9M287.9 363h.9M284.9 358.3h.9M286.3 355.6h.9M293.5 357.1h.9M292.2 352.8h.9M296.1 350.3h.9M287.2 357.7h.9M292.9 350h.9M291.5 348.8h.9M284.8 348.5h.9M288.7 356.9h.9M296.2 354.9h.9M287.8 352.1h.9M288.9 364.5h.9M279.7 358.3h.9M301.8 349h.9M285.6 364.3h.9M293.9 348h.9M293.3 355.4h.9M293.3 355.5h.9M292.9 355.9h.9M284 362h.9M289.8 353.5h.9M284.1 355.5h.9M285.9 367.3h.9M291.7 354.1h.9M289.5 357.3h.9M290.5 353.3h.9M297 353.3h.9M283.3 361.1h.9M288.2 357.7h.9M278.1 363.1h.9M295.5 348.6h.9M292.9 349.6h.9M289 353.8h.9M292.6 350.6h.9M291.8 353.6h.9M284.6 357.8h.9M285.6 355.9h.9M274.7 359.6h.9M291.3 346.8h.9M292.9 357.2h.9M289.6 360.5h.9M290.6 354.3h.9M293.7 360.3h.9M287 367.5h.9M294 349.2h.9M289.9 356.6h.9M281.5 363.7h.9M288.8 359.7h.9M297.9 357.5h.9M287.7 353h.9M295.9 356.8h.9M273 362.8h.9M295.7 350.8h.9M286.8 355.9h.9M293.5 351.4h.9M286.8 356.5h.9M285.9 348.8h.9M291.1 358.2h.9M294.2 344.4h.9M297.8 352.7h.9M289.3 361.8h.9M285.3 352.6h.9M293.1 352h.9M288.9 353.5h.9M290.7 359.1h.9M282 353.9h.9M287.2 362.4h.9M292.3 354.4h.9M287 356.6h.9M292.1 360.7h.9M292.8 351.5h.9M294.9 346.8h.9M287.3 359.1h.9M290.7 364.4h.9M293.9 354.7h.9M293.1 351.4h.9M284.8 351.7h.9M280.7 354.5h.9M282.4 351.3h.9M295.5 352.6h.9M296.1 347.7h.9M291.5 355.4h.9M289.7 356.9h.9M285.7 354.8h.9M290 349.1h.9M294.7 351.2h.9M293.1 353.4h.9M290.3 351.7h.9M292.6 356.3h.9M279.7 355.5h.9M286.8 360.3h.9M291.7 355.1h.9M287.9 350.2h.9M281.8 361.3h.9M295 357h.9M289.1 348.7h.9M288.2 354.1h.9M285.5 354h.9M286.7 357.5h.9M287.6 360.1h.9M294.5 351.2h.9M296.8 356.4h.9M285.7 362.6h.9M295.2 345h.9M300.4 348.1h.9M291 352.2h.9M286.5 354.9h.9M287.9 354.3h.9M283.3 365.2h.9M280.7 354.8h.9M295.3 354.7h.9M292.7 355.1h.9M286 362.4h.9M302.6 343.8h.9M285.8 352.5h.9M292.9 357.4h.9M294 341.2h.9M294.7 354.7h.9M288.6 355.4h.9M278 352.6h.9M290.4 357h.9M288.6 357.4h.9M277.2 364.9h.9M294 350.4h.9M291.3 354h.9M279.7 360.6h.9M294.6 355.7h.9M285.2 361.4h.9M288.7 367.3h.9M288.6 358.7h.9M286.9 351.8h.9M288.5 363.2h.9M287.1 354.1h.9M293.6 347.4h.9M289.6 354.9h.9M279.6 360.3h.9M292.9 352.7h.9M286.8 355.6h.9M289.9 352.4h.9M294.5 358h.9M290.3 362.1h.9M286.9 345.5h.9M285.8 358.9h.9M291.8 356.5h.9M296.4 348.4h.9M293.8 341h.9M293 355.7h.9M295.8 351.1h.9M285.8 359.2h.9M296.1 353.3h.9M286.1 354h.9M285.8 354.2h.9M295.8 352.1h.9M286.3 363.3h.9M293.7 349.1h.9M290.3 356.3h.9M295.1 352.7h.9M300.9 344.2h.9M279.3 358.9h.9M290.3 354.6h.9M285.5 353h.9M283.3 353.2h.9M283.5 356h.9M280 358.7h.9M285.1 359.9h.9M294.3 354.7h.9M291.5 353.5h.9M293 348.1h.9M290.6 355.1h.9M281.8 355.2h.9M290.8 359.9h.9M289.6 363.7h.9M286.1 360.1h.9M288.1 352.2h.9M297 357.3h.9M285.5 355.8h.9M290.7 354.3h.9M283.8 356.7h.9M289.2 356.6h.9M289 356.7h.9M288 351.5h.9M290.8 357h.9M288.8 356.5h.9M289.6 351.7h.9M294.6 346.9h.9M283.2 364.4h.9M282.6 359.7h.9M298.8 345.4h.9M283.3 354.1h.9M293.7 355.4h.9M281.3 355.4h.9M297.2 358.3h.9M284.3 357h.9M282.8 360.9h.9M288.8 363.5h.9M287.8 359.1h.9M294.2 359.2h.9M291 355.6h.9M278.9 358.6h.9M286 356.3h.9M295.2 348.5h.9M292.8 351.5h.9M285.9 357.4h.9M280.6 360.5h.9M291.8 351.3h.9M288.6 361.5h.9M286.2 359.3h.9M278.1 356h.9M285 358.5h.9M286.5 357.2h.9M281.4 366.8h.9M288.9 355.9h.9M292 355.6h.9M292.3 351.9h.9M288.7 355.8h.9M293.9 351.7h.9M295.9 349.3h.9M290.1 354.7h.9M289.3 353.3h.9M284.3 356h.9M299.6 344.3h.9M291.3 357.4h.9M287.3 360.9h.9M291.7 356.5h.9M297.3 350.6h.9M286.9 361.6h.9M288.8 356.5h.9M294.9 354h.9M288.3 351.9h.9M291.5 361.5h.9M287.7 352h.9M290.7 354.2h.9M276.4 358.9h.9M290.7 359.6h.9M287 356.6h.9M291.2 358h.9M297.2 343h.9M292.1 350.1h.9M289.7 360.4h.9M280.6 357.8h.9M285.6 351h.9M275.5 360.9h.9M292.3 355.4h.9M294.5 354.1h.9M286.5 355.4h.9M289 354.3h.9M287.6 352.1h.9M289.5 364.4h.9M290.1 365.8h.9M299.4 349.9h.9M288 355h.9M286.5 360.1h.9M290.1 354.7h.9M293.2 353.2h.9M289.1 362.2h.9M280.5 361.6h.9M291.3 355.6h.9M300.6 358.2h.9M294.6 356.4h.9M287.9 357.7h.9M286.1 359.4h.9M284.8 348.2h.9M287.3 353.8h.9M294.9 355.1h.9M292.1 355h.9M294.4 353.8h.9M295.9 354h.9M284.8 355.3h.9M291.7 349.4h.9M295.9 345.2h.9M286.8 353.2h.9M283.3 356.8h.9M291.1 354.6h.9M283.2 355.7h.9M280 364h.9M283.2 362.2h.9M288.7 359.7h.9M285.4 357.4h.9M294.1 343.4h.9M289 357.6h.9M293.6 355.6h.9M279.8 358.9h.9M283.6 353.2h.9M293.8 358.3h.9M289.2 353.3h.9M292.3 359.2h.9M277.7 356.6h.9M278.1 369.2h.9M288.6 347.8h.9M292 353.3h.9M288.1 351.2h.9M283.6 354.4h.9M289.6 354.2h.9M290.2 353.2h.9M281.1 355.1h.9M287.3 358.4h.9M281.7 369.3h.9M291.8 353.8h.9M289.3 357.1h.9M293.3 355.1h.9M285.7 365.9h.9M284.5 358h.9M294.3 348.6h.9M288.8 362h.9M291.6 351.2h.9M287.2 354.3h.9M290.5 352.1h.9M298.6 354.7h.9M287.1 359.7h.9M279.8 354.3h.9M289.6 353.2h.9M293.1 353.3h.9M293.3 353h.9M291.1 351.3h.9M298.4 354.8h.9M286.4 361.4h.9M284.2 357.9h.9M294.2 352.9h.9M291.9 349.2h.9M284.7 356.2h.9M296.7 351.4h.9M277.5 362.8h.9M288.9 352.9h.9M291.4 353.8h.9M290.7 357.9h.9M294.5 343.9h.9M290.2 358.5h.9M287.3 349.7h.9M291 357.7h.9M292.7 351.3h.9M285.7 359.4h.9M292.2 358.1h.9M287.4 351.1h.9M291 348.2h.9M292.6 353h.9M289 350h.9M288 354.1h.9M286 358.1h.9M289.1 360.4h.9M285.8 348.1h.9M282.2 363.5h.9M291.5 356.9h.9M287.8 352.7h.9M281.7 362.2h.9M290.4 351.8h.9M296.9 348h.9M296 352.3h.9M286 360.6h.9M284.9 354.9h.9M292.4 352.6h.9M284.5 358.7h.9M287.9 358.2h.9M277.4 358.1h.9M284.9 345.3h.9M301.2 345.1h.9M300.2 348.1h.9M302 344.9h.9M280.5 362.7h.9M288.8 347.8h.9M289.4 347h.9M293.3 359h.9M291.7 357.3h.9M297.7 358.1h.9M287.1 362.5h.9M287.1 352.3h.9M290.6 360.3h.9M287 358h.9M294.1 350.7h.9M301.9 357.9h.9M292.2 342.6h.9M280.4 350.2h.9M279.7 359h.9M284.4 362.3h.9M290.8 353h.9M290.8 354.9h.9M284.1 367.2h.9M287.3 361.6h.9M290.7 362h.9M287.3 354.7h.9M283.6 353.8h.9M287.8 352.2h.9M284.4 358.5h.9M286.7 366.3h.9M281.8 363.5h.9M285.2 348.8h.9M291.3 355.3h.9M293.6 351.2h.9M288.7 355.2h.9M289.8 347.3h.9M282.1 360.8h.9M286.7 357.3h.9M300.5 346.9h.9M275.6 362.8h.9M288.9 359.9h.9M294.7 341.4h.9M293.2 350.9h.9M282.2 354.4h.9M287.3 355.9h.9M287.8 355.8h.9M282.5 366.7h.9M288 366.6h.9M284.7 361.5h.9M288.3 356.5h.9M284.5 354.4h.9M280.5 365.1h.9M289.9 358.9h.9M295.7 350.5h.9M292.8 349.8h.9M285.4 353.9h.9M285 364.6h.9M292.6 363.7h.9M287.4 357.8h.9M283.2 365.3h.9M277.4 354.2h.9M293.4 349h.9M286.9 351.1h.9M286.6 351.8h.9M288.2 346.3h.9M295.2 353h.9M289.3 350.1h.9M287 346.9h.9M291.3 355.6h.9M290.5 348.9h.9M287.7 354.2h.9M289 354.3h.9M291.6 355.2h.9M291.6 351.7h.9M296.4 347.9h.9M292.4 358.5h.9M300.1 347.3h.9M287.3 358.3h.9M289.3 355.8h.9M298 350.2h.9M289 357.7h.9M295.6 357.7h.9M294.5 352.7h.9M278.9 357.1h.9M281.2 358.8h.9M290.6 357.3h.9M282.9 364h.9M292.7 352.8h.9M284.1 355.2h.9M289 355.2h.9M288.2 362.8h.9M286.2 356.6h.9M286.4 356.4h.9M288.4 357.2h.9M288 354.8h.9M278.6 364.4h.9M289.1 357.6h.9M290.9 348.6h.9M292.7 349.1h.9M290.8 353.5h.9M294.1 354.4h.9M287.7 355.2h.9M291.2 359.6h.9M289.6 357.1h.9M284.6 356.4h.9M293.8 351.2h.9M284.1 360.6h.9M290.6 359.2h.9M285.9 357.6h.9M285.3 356.7h.9M281.4 359h.9M285.5 358h.9M290.3 357h.9M298 356.4h.9M288.5 353.1h.9M288 356.8h.9M283.8 360.3h.9M291.2 356.6h.9M289.9 356.6h.9M284.4 359.9h.9M283.4 356.4h.9M282.1 355h.9M289 355.8h.9M284.6 357.4h.9M287.7 363.9h.9M295.8 359.7h.9M295.6 352.7h.9M295.9 348.9h.9M300 353.2h.9M286.3 356.7h.9M286.2 357.7h.9M286.8 354.5h.9M300.7 356h.9M294.6 356.4h.9M300.1 353.3h.9M283.9 357.6h.9M286.7 354.5h.9M292.5 356.3h.9M278.7 359h.9M288.3 356.9h.9M288.2 357.6h.9M285.5 358.4h.9M293 358.1h.9M280.3 360.4h.9M294.4 353.7h.9M289.4 357.7h.9M291.1 354.3h.9M288.2 360h.9M290.3 353h.9M286.1 356.3h.9M275.4 369.2h.9M294.5 360.5h.9M285.7 357.4h.9M294.1 349.7h.9M281.2 358.2h.9M285.8 354.6h.9M286.2 365.7h.9M280.2 360.5h.9M294.1 350.4h.9M290.1 355.3h.9M292.3 357.7h.9M293 348.7h.9M293.8 352.1h.9M290.8 349.7h.9M298.4 342.8h.9M287.3 360.8h.9M292 350.9h.9M291.5 353.4h.9M284.9 358.5h.9M281.5 360.7h.9M298.2 344.7h.9M287 361.5h.9M299 344.4h.9M285.3 356.2h.9M289.9 359.9h.9M288.6 353.8h.9M298 353.9h.9M296.6 350.5h.9M277.4 360.9h.9M292.6 350.3h.9M295 354.8h.9M295.2 358.1h.9M280.2 351.5h.9M296 348h.9M291.2 353.5h.9M291.6 352.6h.9M285.4 360.4h.9M281.9 365.7h.9M287.4 355.3h.9M303.4 351.2h.9M300 348.4h.9M287.2 357.6h.9M301.9 349.9h.9M286 355.7h.9M292.7 350.8h.9M287.4 352.6h.9M280.9 355.3h.9M285.9 356.6h.9M286 361h.9M292.5 350.2h.9M286.4 354.2h.9M310 349.4h.9M278.8 363.4h.9M278.6 359.8h.9M285.1 359h.9M280.4 353.4h.9M300.2 354.1h.9M292.9 353.8h.9M295.3 348.9h.9M286.5 359.8h.9M285.5 350.9h.9M290.7 356.7h.9M285.3 355h.9M283.6 352.2h.9M293 351.7h.9M290.3 356.1h.9M275.1 362h.9M296.8 350.1h.9M293.5 358.2h.9M287.7 356h.9M288.6 355.8h.9M292.2 349.7h.9M294.1 354h.9M286.6 357.7h.9M284.7 365.9h.9M290.6 354.3h.9M286.8 352.1h.9M277.9 363.1h.9M290.9 360.1h.9M289.1 349.2h.9M281.9 361.5h.9M293.6 351.6h.9M284.7 354.8h.9M281 362.6h.9M286.1 358.4h.9M282.6 360.2h.9M294 349.5h.9M284 362.2h.9M288.8 362.7h.9M291.5 351.3h.9M284.9 352.4h.9M293.8 354.3h.9M289.6 355.8h.9M286 352.1h.9M297.3 353.1h.9M302.1 352.1h.9M282.3 350.1h.9M289.7 349.7h.9M288.6 353.7h.9M282.6 354.3h.9M289.3 357.8h.9M277 355.7h.9M284.2 364.3h.9M291.3 353.5h.9M295.9 346.9h.9M292.4 356.4h.9M294.9 357.3h.9M282.3 354.9h.9M293 357.6h.9M286.3 358.5h.9M290.1 353.8h.9M299.7 360.3h.9M296.8 357.7h.9M286.6 357.1h.9M295.5 353h.9M284.6 363.1h.9M284.9 348.1h.9M284.3 361.9h.9M283.1 355.4h.9M292.1 353.7h.9M287 350.1h.9M290.2 359.7h.9M292 358.8h.9M288.2 352.3h.9M285.2 354.5h.9M290.7 345.7h.9M286.1 355.4h.9M291.1 350.1h.9M292.5 350.4h.9M290.3 350.3h.9M290.1 352h.9M290.6 354.5h.9M280.5 363h.9M290.5 356.9h.9M284.1 353.9h.9M292.9 362.6h.9M286.8 357.9h.9M294.3 349.7h.9M292.8 354.9h.9M290 362.1h.9M292 352.9h.9M285.6 358.2h.9M292.3 348.5h.9M290.3 349.2h.9M290.2 354.5h.9M288 354.2h.9M280.3 361.5h.9M291.2 357.7h.9M283.8 354.6h.9M287.4 357.3h.9M298.4 352.1h.9M289.8 356.8h.9M287 358h.9M292.3 354h.9M291.9 349.7h.9M283.8 359.6h.9M291.1 359.7h.9M278.3 359.9h.9M287.7 351h.9M294.8 347.2h.9M287.9 350.6h.9M289.3 357.1h.9M292.3 349.8h.9M287.6 358.7h.9M278.3 354.9h.9M288.4 358.3h.9M287.4 359.3h.9M289.6 354.9h.9M298.4 359h.9M286 350.5h.9M290.6 356.9h.9M299.7 348.9h.9M291.8 352.1h.9M290.6 358.8h.9M289.4 354.3h.9M301.1 352.3h.9M280.5 360.1h.9M288.4 369.1h.9M284.9 353.8h.9M283.8 366.8h.9M298.1 352h.9M285.2 359.5h.9M297.1 349.7h.9M293.1 352.9h.9M283.4 359.1h.9M278.2 360h.9M281.1 361.5h.9M279.1 364.3h.9M292.7 355.9h.9M298.3 347.8h.9M294.4 357.7h.9M286.2 356.9h.9M291.3 351h.9M285.8 365.1h.9M281.2 357h.9M283.5 365.8h.9M289.7 355.2h.9M290.6 358h.9M290.9 354.5h.9M287.6 355.7h.9M288.4 357h.9M292.8 349.2h.9M289.1 354.9h.9M298.5 353.7h.9M279.9 363.1h.9M283.3 365.2h.9M289.6 354.2h.9M289.1 359h.9M283.7 363.3h.9M285.2 358.9h.9M294.1 352.7h.9M282.8 358.9h.9M294.1 350h.9M287.8 358.4h.9M289.9 359.7h.9M294.1 352.8h.9M295.4 344.7h.9M281 350.7h.9M288.5 359.6h.9M280.7 362.6h.9M291.7 355h.9M287.4 354.8h.9M285.4 358.9h.9M284.4 352.6h.9M292.4 353.2h.9M284.5 360h.9M286.1 359.7h.9M288.9 352.1h.9M295.1 353.2h.9M290 354.9h.9M288.1 346.4h.9M291.8 349.2h.9M289 353.2h.9M278.9 362.5h.9M288.4 356.3h.9M285.4 344.4h.9M293 357.7h.9M285.4 354.9h.9M291.9 352.3h.9M293.4 355.5h.9M300.7 355.2h.9M289.1 358.9h.9M286.4 356.8h.9M287.4 352.5h.9M296.8 346.7h.9M284.6 359.2h.9M287.2 360.7h.9M285 354.6h.9M284.6 357.8h.9M283.6 356.2h.9M297.6 354.8h.9M294.4 354.9h.9M290.8 354.5h.9M295.8 355.6h.9M297.2 347.1h.9M283.2 354.7h.9M294.2 348.8h.9M288.5 359.6h.9M281.3 354.8h.9M289.4 355.4h.9M284.6 353.7h.9M285.4 354.7h.9M282.4 364.6h.9M292.7 356.8h.9M302.5 353.5h.9M289.6 352.6h.9M291.2 353.9h.9M280.6 346.6h.9M291.7 356.1h.9M272.2 361.2h.9M284.9 350.8h.9M286.5 352.7h.9M296.6 351.7h.9M275.6 361.4h.9M301.4 352h.9M286.8 357.7h.9M286.5 354.9h.9M287.2 354.4h.9M288.7 362.9h.9M296.9 347.7h.9M293.4 357h.9M291.3 353.9h.9M291 353.3h.9M290.8 347.7h.9M288.2 357.9h.9M295.7 356.5h.9M286.5 359.3h.9M274.9 358.6h.9M288.2 357.1h.9M282.3 358.7h.9M289.5 360.4h.9M287.2 350.1h.9M282.1 361.4h.9M299.6 347.5h.9M282.1 354h.9M288 352.1h.9M295.3 347.3h.9M286.2 349.1h.9M284.5 364.4h.9M289.3 358h.9M292.4 361.2h.9M279.9 359.9h.9M287.2 355.1h.9M287.2 357.1h.9M278 356.7h.9M296.9 355h.9M286.1 356.3h.9M287.2 357.3h.9M294.1 359.6h.9M291.4 351.3h.9M284.9 359.8h.9M289.2 356.6h.9M292.6 359.4h.9M288.4 354.2h.9M289.8 352.8h.9M286.1 357.4h.9M293.3 351.5h.9M289.9 354.5h.9M294.4 356.8h.9M286.8 353.5h.9M283.5 357.5h.9M287.8 358.4h.9M285.8 362.3h.9M297.7 354.8h.9M292.7 358.6h.9M296.8 345.7h.9M287.8 361.6h.9M287 355.7h.9M293.5 345.1h.9M283.9 358.7h.9M294.9 353.8h.9M284.7 354.9h.9M282.5 360.8h.9M289.3 356.6h.9M292.8 359.8h.9M293.9 353.5h.9M293.7 342.5h.9M282.5 352.1h.9M297.4 352.1h.9M285.1 353.3h.9M286.4 359.3h.9M280.4 369.1h.9M285.1 362h.9M285 357.7h.9M291 355.5h.9M282.1 360.2h.9M292 353.2h.9M296.4 351.3h.9M292.3 351.5h.9M291.5 346h.9M287.6 364.9h.9M293.1 350.6h.9M291.6 355.3h.9M282.8 355.2h.9M292.4 355.1h.9M288.6 354.5h.9M284.3 362.3h.9M291 353.1h.9M281.9 360.1h.9M296.9 346.1h.9M283.9 361.9h.9M287.9 360h.9M286.4 360.3h.9M291.4 359.1h.9M292.6 351h.9M296.2 345.6h.9M292.3 350.4h.9M290.9 358.8h.9M291.9 352.6h.9M285 356.9h.9M292 355.9h.9M296.8 351.1h.9M287.2 352.1h.9M287.3 358.3h.9M291.8 354.6h.9M289.2 360.4h.9M290.9 355.6h.9M290.6 349.5h.9M287.2 353.5h.9M282.1 354h.9M286.7 358h.9M288.4 358.2h.9M292.7 352.4h.9M283.1 356.9h.9M287.9 353.8h.9M291 355.8h.9M281.3 363.3h.9M282.2 355.7h.9M284.7 352.4h.9M297.1 343.4h.9M302.1 348.6h.9M289 360.2h.9M285.6 364.1h.9M294.9 354.1h.9M286.2 355.2h.9M283.6 352.9h.9M292.9 348.9h.9M295.5 347.5h.9M287.4 351.8h.9M296.8 355h.9M291.9 348.4h.9M274 358.8h.9M286.6 351.1h.9M283.1 359.4h.9M287.6 360.3h.9M293.5 358.2h.9M287.3 353.7h.9M287.9 361.2h.9M289.5 350.8h.9M294.4 353.3h.9M284.1 353.4h.9M292.3 351.1h.9M290.4 354.9h.9M290.2 351.2h.9M288.6 354.5h.9M282.9 361.2h.9M295.8 348.7h.9M283.7 361.9h.9M286.2 351.2h.9M299 347.2h.9M288 355.6h.9M280.9 356.2h.9M281.8 358.1h.9M289.2 359.9h.9M286.8 349.7h.9M282.9 359.5h.9M283.4 355.3h.9M285 364.5h.9M290.1 360.3h.9M296.8 355.5h.9M290.4 356.5h.9M294.7 353h.9M284.3 351.7h.9M289.2 349.6h.9M294.4 348.6h.9M294.1 358.6h.9M281.9 363.2h.9M287.8 351.3h.9M286.1 359.3h.9M301 350.3h.9M288.3 356.4h.9M282.4 354.2h.9M282.2 362.4h.9M282.8 363.8h.9M300.6 354.7h.9M281.2 361.9h.9M292.2 355.9h.9M291.4 354.2h.9M286.9 356.7h.9M297.2 353.8h.9M292.3 351.3h.9M289.6 358.2h.9M288.7 352h.9M283 357.1h.9M287.3 353.1h.9M290.6 354.9h.9M288.5 352.9h.9M282.2 361h.9M277.3 364.3h.9M286.7 357.2h.9M291.5 349.1h.9M293.5 347.4h.9M289.7 358.3h.9M302.4 347.2h.9M286.3 355.7h.9M284.8 358.2h.9M291.1 356h.9M284.1 359.4h.9M293.1 356.4h.9M289.3 354.6h.9M283.9 357.8h.9M280.6 358.3h.9M283.4 355.5h.9M289.3 354.9h.9M281.1 358.6h.9M278.9 353.8h.9M290.5 353.2h.9M287.6 353.5h.9M290.2 352.6h.9M293.3 352.4h.9M299.8 353.1h.9M280 360.3h.9M292.2 359.5h.9M285 362h.9M293.4 348.8h.9M284.3 365.4h.9M292.3 358.2h.9M287.4 359.3h.9M287.9 353.7h.9M286.8 359.5h.9M286.6 350.1h.9M291.7 354.8h.9M293.6 352.1h.9M281.1 359h.9M299 352h.9M295.2 355.7h.9M288.8 356.1h.9M287.6 357.1h.9M293.2 354.1h.9M288.6 357.1h.9M291.6 356.1h.9M291.9 351.6h.9M289.1 361.1h.9M285.5 353.8h.9M291.9 352.9h.9M294.9 343.4h.9M288.3 349.7h.9M288.6 357.4h.9M294.2 359.5h.9M290.2 356.6h.9M294 348.7h.9M297.2 350.5h.9M295.5 349.3h.9M290.5 352.3h.9M281.1 357.9h.9M285.5 355.5h.9M290.9 358.2h.9M286.9 355.8h.9M283.8 352.1h.9M294.4 350.5h.9M284.1 353h.9M286.6 352.2h.9M287.1 366h.9M290.5 350h.9M288.6 356.5h.9M290 352.2h.9M288.6 355.6h.9M287.7 351.6h.9M298.1 359.5h.9M291.3 354.8h.9M292.4 349.3h.9M286.7 357.7h.9M278.5 364.8h.9M283.7 359.3h.9M282.9 354.9h.9M295.8 351.3h.9M282 355.4h.9M283.5 361.6h.9M286.7 356.2h.9M291.3 357.6h.9M292.2 351h.9M287 350h.9M297.1 347.4h.9M287.7 357.7h.9M290.8 358.7h.9M286.9 359.5h.9M289.8 351.4h.9M281.2 369.3h.9M288.5 360.7h.9M292.8 360.2h.9M287.5 355.8h.9M291.8 355h.9M289.3 351.8h.9M289.7 359.6h.9M286 356.6h.9M294 358.8h.9" fill="none" stroke="#ff0a0a" stroke-width="0.9" stroke-opacity="0.85"/>
<path d="M286.9 369.6h.9M302.7 340.1h.9M297.2 357.2h.9M268.9 358.5h.9M305.1 359.7h.9M301.4 341.5h.9M290.2 352.6h.9M305.3 355.9h.9M298.3 356.9h.9M289.4 356.9h.9M291.2 359.2h.9M294.2 354h.9M290.6 348.6h.9M286.1 359.7h.9M282.4 355.5h.9M292.8 344.5h.9M298.5 346.1h.9M287.2 362.9h.9M299.6 345.2h.9M299.3 350.7h.9M282.7 346.9h.9M304.4 353.7h.9M286 357.2h.9M295.3 342.7h.9M292.9 342.9h.9M293.2 345.4h.9M289.8 364h.9M283.1 351.4h.9M305.1 349.3h.9M289.2 354.9h.9M294.3 348.3h.9M301 342.9h.9M290.9 355.8h.9M300.1 347.5h.9M296.8 351.8h.9M291.2 369.8h.9M292.4 358.6h.9M298.6 349.8h.9M282.2 356.3h.9M280.7 347.5h.9M288 356h.9M280.3 352h.9M294.4 352.5h.9M298.6 362.6h.9M300.4 345.4h.9M302.8 349.5h.9M304.2 346.9h.9M284.2 344.8h.9M287.8 356.5h.9M289.9 354h.9M293.1 353.1h.9M296.2 352.4h.9M298.3 342.1h.9M285.4 362.9h.9M285.6 351.5h.9M273.6 361.2h.9M279.9 368.5h.9M286.7 360.3h.9M293.6 344.6h.9M291.5 355h.9M280.2 354.8h.9M277.9 345.3h.9M282.9 366.2h.9M289.5 341.5h.9M287.6 353.6h.9M286.3 356.5h.9M274.1 364.2h.9M286.1 355.1h.9M294.2 358.3h.9M284.2 367.4h.9M288.4 350.7h.9M295.8 342.3h.9M302.3 336.2h.9M301.2 338.7h.9M300.2 358.5h.9M298.9 347.8h.9M293.7 361.4h.9M300.4 345.4h.9M291.4 359.4h.9M289.2 352.2h.9M295.3 349.1h.9M292.8 351.8h.9M284.2 351.4h.9M292.6 356.7h.9M307.2 346.4h.9M287.8 355.8h.9M290.5 354.9h.9M294.5 343.1h.9M275 354.2h.9M287 365.2h.9M300.1 353.3h.9M279.8 357.6h.9M293.6 348.6h.9M297.5 340.2h.9M289.9 358.3h.9M296 352.5h.9M290 348.1h.9M298.6 357.6h.9M303.4 343.2h.9M300 358h.9M296 359h.9M304.5 345.3h.9M282.1 362.8h.9M284.7 359.1h.9M291.2 366.6h.9M291.2 355.9h.9M283.2 355.7h.9M297.8 348.5h.9M289.5 352.5h.9M297.3 346.8h.9M281.1 358h.9M305.9 335.6h.9M295.8 353.7h.9M278.7 361.1h.9M293.9 347.9h.9M287.8 347.2h.9M297.7 361.9h.9M289.8 353.6h.9M294.9 346.1h.9M294.7 347.1h.9M297.9 356.4h.9M285.4 351.3h.9M313 354h.9M292 356.2h.9M304.8 356.1h.9M286.8 356.3h.9M292.2 365.8h.9M305.6 342.6h.9M289.6 350.5h.9M307.5 344.3h.9M291.6 355.8h.9M294.7 343.5h.9M304.3 345.2h.9M285.2 363.8h.9M276.6 364.2h.9M275.3 364.8h.9M282.4 358.4h.9M302.4 344.5h.9M290.3 354.2h.9M285.7 356.1h.9M289 354.4h.9M283.7 356.5h.9M297 354.9h.9M296.1 359.7h.9M285.5 367.1h.9M295.7 352.6h.9M290.1 352.7h.9M290.1 356.1h.9M279.3 348.2h.9M283.3 356.2h.9M282.9 347.6h.9M283.6 361.2h.9M296 353h.9M305.5 338.8h.9M300.5 357.8h.9M298.8 355.8h.9M294 348.4h.9M292.6 356.6h.9M288 361.4h.9M305.4 347h.9M287.7 353.8h.9M283.3 364h.9M298.5 345.2h.9M292.7 347h.9M299.9 363.5h.9M294.7 346.4h.9M275.3 369.6h.9M305.7 349.3h.9M292.7 341.5h.9M291.6 355.4h.9M281.8 357.4h.9M291 349.7h.9M290.8 353.8h.9M283.1 353h.9M285.7 349.3h.9M300.5 350.9h.9M279.6 356.4h.9M295.5 352.5h.9M306.3 355.2h.9M296.8 351.4h.9M298.7 351.3h.9M285.5 353.8h.9M299.4 357.1h.9M292.5 347.3h.9M283.2 368h.9M286.9 364.9h.9M279.4 350.2h.9M287.8 363.9h.9M284.6 349.7h.9M285 352.2h.9M300.2 348.7h.9M290.5 346.9h.9M287 345.4h.9M288.2 344.5h.9M283.4 359h.9M279.6 374.8h.9M288.9 358.8h.9M287.8 352.9h.9M287.4 369.9h.9M295.6 347.5h.9M295 344.1h.9M295.5 353.7h.9M298.4 354.3h.9M283.3 363.3h.9M310.8 343.3h.9M301.5 345.8h.9M305.4 344.7h.9M285.4 363.8h.9M287.9 352.5h.9M285.5 357.4h.9M308 338.5h.9M286.3 338.5h.9M286 358.5h.9M287.9 354.6h.9M286.8 360h.9M296.5 348.9h.9M273.4 361.2h.9M286.8 343.3h.9M284.1 357.5h.9M281.9 356.2h.9M282.5 352h.9M300.2 362h.9M280.8 358.1h.9M292.9 344.7h.9M296.6 352.3h.9M292 352.6h.9M287.6 349.4h.9M285.8 360.9h.9M301.1 345.8h.9M297.2 352.3h.9M286.9 347.9h.9M302.5 343.2h.9M281.2 351.5h.9M278.5 366.5h.9M287.6 339.3h.9M299.3 347.5h.9M291 354.3h.9M286.1 361.4h.9M299.9 358.6h.9M296.6 371.1h.9M297.5 347.2h.9M285.1 370.4h.9M280.2 351.4h.9M298.9 355.2h.9M293.8 363.7h.9M290.9 366.9h.9M301.5 339.3h.9M298.8 343.5h.9M282.3 354.4h.9M297.4 353.6h.9M279.7 364.4h.9M283.7 362.7h.9M283.6 374.4h.9M296.1 345.3h.9M293.3 353.9h.9M296.2 356.4h.9M290.9 342.2h.9M292.8 364h.9M297.8 360.8h.9M305.8 341.4h.9M293.6 350.3h.9M290.5 360.1h.9M276.2 352.4h.9M287.8 348.8h.9M303.1 345.3h.9M289.1 358.7h.9M297.7 355.5h.9M299.1 348.6h.9M283.2 355.7h.9M304.9 348.3h.9M290.6 355.7h.9M292.1 347.1h.9M293.9 358.4h.9M283.7 354h.9M303.8 341.1h.9M276 348.5h.9M302.3 349.4h.9M285.7 365.7h.9M307.8 329.4h.9M287.1 363.4h.9M293.5 361.5h.9M299.6 354.5h.9M287.4 352.9h.9M285.8 351.3h.9M283.1 352.2h.9M288.8 360.5h.9M279.6 361.8h.9M296.2 349.3h.9M299.2 341.8h.9M300.1 358.4h.9M288.7 353.4h.9M277.2 355.3h.9M288 345.4h.9M275.6 354.2h.9M300.7 344.3h.9M282.7 349.2h.9M285.1 361h.9M299.7 346.8h.9M289.9 363.9h.9M283 351.6h.9M314.8 340.1h.9M280.2 359h.9M291.7 356.7h.9M285.2 349.1h.9M299.8 351.9h.9M299.7 355.6h.9M307.2 355h.9M284.8 352.8h.9M301.7 340.5h.9M277.9 367.4h.9M295.6 345h.9M296.3 353.6h.9M279.2 368.3h.9M295 355.6h.9M283.7 357.7h.9M288.2 355.2h.9M301.8 349.8h.9M302.8 352.1h.9M296.1 346.3h.9M292.2 347.5h.9M299.5 359.7h.9M302.7 341.9h.9M292.6 352.2h.9M295.1 352.2h.9M286.1 367.5h.9M301.8 339.6h.9M277.5 353.9h.9M297.6 356.6h.9M288.3 361.6h.9M296.7 343.1h.9M290.5 356.4h.9M285.8 357.9h.9M280.5 356.8h.9M287 350.4h.9M301.5 342.3h.9M309.4 361h.9M283.7 358.7h.9M280.9 354.9h.9M289.7 356.6h.9M273.5 364.6h.9M282.7 351.5h.9M295.3 350.6h.9M298.7 349.2h.9M285.6 359.3h.9M285.5 350.6h.9M290.5 362.8h.9M297.7 341.1h.9M288.3 355.6h.9M273.3 357.2h.9M295.7 366.4h.9M288.5 352.4h.9M295.2 348.4h.9M293.8 352.8h.9M291.7 355.2h.9M309.1 337.2h.9M300.3 361.5h.9M289 351.6h.9M302.5 355.7h.9M284.8 347.4h.9M290.7 355.8h.9M296.1 350.2h.9M290 359.9h.9M278.2 364.2h.9M293.2 347.4h.9M284.3 356.8h.9M290.1 367.5h.9M300.9 355h.9M282.6 364.2h.9M283.1 349.3h.9M290.8 338h.9M299 359.5h.9M281.1 360.9h.9M279.8 360.8h.9M296.7 344.3h.9M274.9 359.9h.9M299.9 338h.9M311.6 341.7h.9M287.2 350.9h.9M292.9 340.7h.9M293 357.6h.9M292.7 358.1h.9M293.4 354.5h.9M299.7 351.6h.9M301.1 351h.9M295.6 340.5h.9M292.1 354.8h.9M292.2 349.5h.9M281.3 357.3h.9M282.5 370.8h.9M282 360.6h.9M294.5 369.2h.9M301.5 349.1h.9M287.8 354.4h.9M291.7 348.8h.9M280.9 360.7h.9M295.5 344.1h.9M307.7 350.3h.9M305.7 352h.9M282.5 360.1h.9M303.8 333.2h.9M290.1 354.1h.9M304.1 351.8h.9M291.2 358.5h.9M298 343.4h.9M289 346.3h.9M293.2 359.2h.9M305.1 355.5h.9M293.5 351.9h.9M279.1 363.3h.9M279.9 353.4h.9M293.5 344.7h.9M298.6 347.2h.9M297.1 343.7h.9M291.4 345.3h.9M312.3 347.9h.9M293.8 362.9h.9M279.7 358.8h.9M285.2 360.8h.9M283.6 353.1h.9M302.7 342.6h.9M288.7 360.5h.9M296.4 361.8h.9M281.9 360.7h.9M292.6 351.2h.9M296.8 354.5h.9M294.6 358.6h.9M301 360.6h.9M294.3 349.2h.9M287.9 355.6h.9M298.6 346.6h.9M300.8 335.8h.9M293.1 353.6h.9M287.1 365.8h.9M292.5 351.7h.9M287.6 344.1h.9M293 349.1h.9M294.1 359.7h.9M288.6 356.9h.9M294 346h.9M284.6 360.6h.9M302.5 354.7h.9M295.4 361.3h.9M282.1 353h.9M285.8 341.8h.9M280.6 356.3h.9M296.5 361.4h.9M292.1 351.3h.9M284.9 350.1h.9M286.4 352.4h.9M293.6 355.8h.9M290.2 346.5h.9M297.3 339.1h.9M284.5 370.1h.9M285.1 350.1h.9M277.4 365.1h.9M280 357.8h.9M300 348h.9M298.4 341.5h.9M284.9 348.3h.9M307.2 340h.9M292.1 350.4h.9M299 349.9h.9M285.4 349.8h.9M285.6 348.5h.9M286.9 344.3h.9M306.6 348.7h.9M297.5 349.9h.9M283.9 353.5h.9M297.2 344.3h.9M293.2 339.3h.9M291.8 348.4h.9M289.3 343.7h.9M285.6 359.2h.9M285.1 363.5h.9M295.5 352.5h.9M287.1 359.2h.9M291.7 337.1h.9M295.3 355.6h.9M295.4 354.7h.9M291.3 348.2h.9M308.3 344h.9M293.9 357.7h.9M303 350.4h.9M294 337.2h.9M275.2 359.6h.9M307.6 338h.9M283.4 344.9h.9M290.5 355h.9M282.6 356.3h.9M304.1 348h.9M295.6 345.7h.9M303.2 343.5h.9M285.3 357.1h.9M296 351.4h.9M282.5 356.5h.9M284.7 368.4h.9M296 359.7h.9M301.5 356.9h.9M288.6 352.6h.9M304.5 348.1h.9M289 346.3h.9M284.4 356.8h.9M295.4 341.1h.9M289.8 352.1h.9M284.4 355.4h.9M296.7 352.7h.9M306.3 335h.9M285.5 358.4h.9M299.2 354.5h.9M282.3 355.8h.9M291.4 353.9h.9M300.1 347.6h.9M285.3 367.6h.9M291.3 355h.9M292.3 359.4h.9M280 365.5h.9M293.6 349.3h.9M284.7 336.5h.9M285.6 363.4h.9M302.1 362.5h.9M297 349.1h.9M314.8 333.1h.9M290.8 353.8h.9M292.6 357.5h.9M298.2 344.7h.9M295 352.2h.9M279.8 367.4h.9M277.9 370.4h.9M295.2 352h.9M286.1 345.9h.9M291.7 345.3h.9M290.5 356.7h.9M275.9 355.9h.9M300 346.2h.9M293.9 349.2h.9M299.4 342.2h.9M295 358.4h.9M283.1 379.2h.9M285.2 349.7h.9M287.4 358.9h.9M289.8 342.3h.9M275.3 369.1h.9M284.9 352.9h.9M295.5 363.3h.9M281.1 375.8h.9M292.7 360.6h.9M274 353.6h.9M281.9 364.4h.9M300.3 345.5h.9M276.9 366.4h.9M286.1 347.7h.9M291.6 365.3h.9M293 360.7h.9M290.5 349.3h.9M291.2 354.1h.9M288.1 367.3h.9M288.2 345.4h.9M287.9 337.7h.9M292.6 369.1h.9M290.1 352.6h.9M292.8 367.1h.9M308.7 352.8h.9M291.9 346.5h.9M301.2 345.1h.9M299.2 348.4h.9M291.7 342.9h.9M298.1 361.1h.9M306.3 363.6h.9M304 347.1h.9M283.7 352.7h.9M296 345.6h.9M284.5 354.1h.9M293.9 354.1h.9M283.9 356.6h.9M281 352.7h.9M282.4 369.5h.9M299.5 359.6h.9M310.4 347.4h.9M288.7 359.3h.9M287.4 346.3h.9M290.4 358.5h.9M300.9 345.1h.9M297 348.2h.9M290.2 359.5h.9M287.4 363.4h.9M292.9 352.6h.9M296.8 347.8h.9M297.9 354.6h.9M275.7 359.7h.9M305.6 343.1h.9M301.2 351.6h.9M283.4 357.7h.9M295.5 345.4h.9M299.2 345.9h.9M290.1 354h.9M286.5 360.8h.9M284 369.4h.9M299.3 350.8h.9M279.4 373.3h.9M297.4 348.7h.9M288.6 351.5h.9M301.1 347.3h.9M285.5 343.3h.9M298 351.9h.9M287.2 360.9h.9M307.9 354.8h.9M297.7 351.2h.9M295.4 348.5h.9M281.9 365.9h.9M277.6 367.2h.9M282.4 354.6h.9M277.1 364.2h.9M286.4 362h.9M272 356.6h.9M289.5 354.7h.9M314.9 346h.9M294.4 358.2h.9M291.1 357.1h.9M292.3 347h.9M287.4 348h.9M294.1 361.2h.9M275.8 361h.9M287.1 353.7h.9M300.2 352.7h.9M298 341.8h.9M300.7 339.7h.9M280.9 358.5h.9M298 358.9h.9M298.8 348.9h.9M288.1 343.7h.9M302.6 346.7h.9M292.8 344.3h.9M288.4 347.8h.9M297.4 351.6h.9M302.6 345.3h.9M289.5 358.2h.9M274.4 360.6h.9M289.8 369.3h.9M302.4 360.8h.9M286.5 352.1h.9M292.5 349.6h.9M293.1 359.5h.9M290.5 348.2h.9M287.3 349.7h.9M277.5 373.3h.9M274.1 372.6h.9M297.6 357.9h.9M287.9 357.5h.9M286.5 359.8h.9M298.5 347.2h.9M297.4 344.7h.9M287.4 356.6h.9M300.4 349.9h.9M281.9 352.5h.9M295.1 345.2h.9M288.4 357.7h.9M292.7 349.1h.9M302.1 352.5h.9M301.9 352h.9M286.4 361.9h.9M283.5 352.4h.9M292 336.4h.9M285.9 357.3h.9M307.8 352.3h.9M290 340h.9M301.5 350.2h.9M290.3 353.4h.9M290.6 362.4h.9M303.3 349.7h.9M303.4 351.2h.9M294.7 368.5h.9M266 361.8h.9M288.3 359.4h.9M303.3 354.2h.9M287.1 348.6h.9M291.6 341.8h.9M296.5 360.9h.9M289.6 351.1h.9M285.2 361.6h.9M282.7 344.1h.9M289.8 361.2h.9M292.6 357.5h.9M293.9 355.4h.9M285.3 364.6h.9M271 358.7h.9M302 345h.9M290.4 349.1h.9M297.4 355.2h.9M282 355.7h.9M288 353.3h.9M285.2 352.3h.9M289.5 353.4h.9M303.6 358.5h.9M293 341.7h.9M294.4 363.7h.9M297.8 354.7h.9M278.2 353.2h.9M294.9 358.9h.9M280.6 360.2h.9M292.4 349.5h.9M286 363.9h.9M292.9 355.3h.9M293.3 354.5h.9M290.4 353h.9M291.2 343.7h.9M299.2 362.6h.9M307.8 350.7h.9M288.7 346.6h.9M290.9 343.6h.9M283 343.8h.9M301.8 357.1h.9M298.1 350.1h.9M302.1 349.5h.9M302.7 353.5h.9M289.9 355.7h.9M303 349.5h.9M289.5 346.5h.9M272.4 358.5h.9M290 353.1h.9M305.9 341h.9M291.9 343.3h.9M297.4 338.5h.9M285.7 355.8h.9M285.9 368.2h.9M290.6 356.8h.9M290.5 360.5h.9M309 348.1h.9M300.3 355.5h.9M297.2 355.1h.9M287.2 373.4h.9M295.2 340.4h.9M290.2 356.1h.9M300.1 358h.9M284.4 336.3h.9M294.8 363.6h.9M287.3 357.2h.9M282.4 347.9h.9M298.3 351.9h.9M295 353.9h.9M279.9 351.9h.9M292.5 357.1h.9M302.9 345.4h.9M309.2 358.5h.9M301 353.9h.9M285.2 352.1h.9M313.3 352.1h.9M302.4 346.1h.9M284 352h.9M292.8 356.8h.9M290.8 355.9h.9" fill="none" stroke="#ff0a0a" stroke-width="0.9" stroke-opacity="0.65"/>
<path d="M276.9 350.5h.9M318.2 345h.9M283.8 362.5h.9M280.8 361.7h.9M293 353h.9M279.8 359.6h.9M278 371.1h.9M288.9 355.7h.9M302.7 347.4h.9M275.6 361.4h.9M283.7 349.3h.9M300.6 324.3h.9M297.8 363.2h.9M295.3 353.8h.9M292.7 375.4h.9M312.4 351h.9M296.2 334.7h.9M276.5 360.8h.9M300.5 367.9h.9M282.3 359.9h.9M308.1 350.8h.9M281 347.9h.9M290.9 364.6h.9M269 366.8h.9M289.2 370.2h.9M290.7 365.8h.9M331.1 329.1h.9M309.7 357.6h.9M299.1 342.7h.9M270.2 339.4h.9M287.1 373.9h.9M282.7 362.6h.9M301.2 347.3h.9M288.4 371h.9M314.4 341.6h.9M313.3 337.4h.9M289.1 361.7h.9M291.4 342.6h.9M282.8 354.1h.9M286.8 382.1h.9M274.7 375.3h.9M277.7 355.6h.9M289.7 362h.9M297.8 370.4h.9M261.8 351.2h.9M308.5 361.1h.9M273.3 364.3h.9M280.4 397.2h.9M289.3 364.6h.9M308.3 355.8h.9M272 364.3h.9M277.9 363.5h.9M270.3 377.7h.9M323.7 348.1h.9M291 356.4h.9M293.7 354.6h.9M304.9 352.9h.9M278 362.8h.9M306.8 367.9h.9M302.9 350.3h.9M303 344.6h.9M278.3 370.9h.9M292 338.7h.9M284.2 351.1h.9M305.2 338.5h.9M304.1 334.2h.9M288.1 375.2h.9M268.5 348.6h.9M312 350.3h.9M275.7 337.2h.9M280.8 363.1h.9M280.5 351h.9M265.3 371.3h.9M285.1 342.9h.9M293.5 346.9h.9M277.2 362h.9M271.7 344.4h.9M294.7 350.9h.9M292.3 352.3h.9M281.5 353h.9M297.2 362.3h.9M296.6 338.9h.9M307.9 346.3h.9M291.6 331.8h.9M296.1 344.3h.9M301.7 368.4h.9M278.9 365.5h.9M300.1 339.1h.9M282.8 358.1h.9M294.8 361.8h.9M284.4 347.5h.9M279.9 369.7h.9M297.8 363.5h.9M276.3 360.2h.9M316.8 331.6h.9M273.2 346.1h.9M306.4 369.1h.9M298.1 376.6h.9M276.6 345.2h.9M292.4 305.3h.9M305.5 347h.9M285.9 364.4h.9M284.4 373.4h.9M294.3 349.6h.9M294.5 353.7h.9M268.7 364.8h.9M285.4 347.2h.9M300.1 361.2h.9M296.9 337.9h.9M282.7 350.8h.9M299.9 353.7h.9M299.2 358.4h.9M310.7 344.2h.9M289.8 329h.9M286.9 347.9h.9M322.4 355.1h.9M312.9 327.1h.9M274.9 365.4h.9M316.6 331.2h.9M300.3 330.9h.9M280.5 357.7h.9M317.9 343h.9M296.2 357.8h.9M285.9 361.3h.9M269.4 381.5h.9M276.8 380h.9M276.5 351.2h.9M271.2 358h.9M291.5 365h.9M269.1 370.2h.9M284.2 348.3h.9M298.2 378.2h.9M288.1 337h.9M290.4 352.8h.9M295.1 346.8h.9M323.3 328.5h.9M290.8 341.2h.9M309.7 363.2h.9M298.2 352.8h.9M272.1 356.4h.9M279.9 357.4h.9M278.1 356.1h.9M313.4 347.6h.9M274.5 354.2h.9M272.4 354.3h.9M302.1 357.9h.9M274.6 348.5h.9M300.2 344.1h.9M285.8 342.4h.9M280.9 357.3h.9M287 338h.9M287.7 359.4h.9M295.7 353.1h.9M283.8 351.9h.9M286.9 361.3h.9M293.2 350.3h.9M287 358.5h.9M281.4 372.7h.9M289.9 370.6h.9M294.3 320.6h.9M288.6 357.3h.9M291.7 358.5h.9M277.5 352.1h.9M306.5 359.6h.9M299.4 358.9h.9M304 354.1h.9M299.8 357.2h.9M285.9 352.9h.9M309.1 358.7h.9M290 366.6h.9M268.4 369.3h.9M290.3 358.8h.9M268.2 347.3h.9M298.7 385.4h.9M284.4 355.3h.9M278.6 366.3h.9M264.5 379.9h.9M298.3 361.5h.9M284.9 374.4h.9M276.8 350.6h.9M296.5 358.4h.9M279.2 352.6h.9M289 368.6h.9M300.2 346.3h.9M308.6 342.7h.9M284.1 353.7h.9M292.9 351.9h.9M284.1 369.5h.9M285.1 366.2h.9M312.9 348.7h.9M293.4 345.7h.9M264.6 361.5h.9M291 348.7h.9M286.2 343.7h.9M300.2 355.8h.9M289.3 367.9h.9M287.4 369.5h.9M286.7 343.7h.9M281.1 347.6h.9M299.7 336.9h.9M289.2 392.9h.9M300.4 339.1h.9M279 374.9h.9M293.7 352.1h.9M275.5 367.9h.9M274.6 371.5h.9M296.4 345.7h.9M279.3 354.9h.9M316.5 336.9h.9M302.6 365.1h.9M311.9 359.9h.9M281.7 348.8h.9M321.3 375.9h.9M298.2 383.1h.9M297.7 369.8h.9M309.8 321.3h.9M280.9 367.1h.9M284.7 345.4h.9M303.1 334.4h.9M297.8 394.1h.9M280.3 380h.9M309.7 357.8h.9M300.9 334.5h.9M285.9 346.5h.9M274.7 352.8h.9M296.3 358.4h.9M296.1 380.1h.9M283.1 353.2h.9M289.2 362.4h.9M291.4 312.3h.9M265.5 357.7h.9M290.7 354.8h.9M282.7 365.1h.9M291.6 347.7h.9M287.7 364.9h.9M288.1 334.9h.9M282 354.4h.9M297.4 343.7h.9M279.4 363.6h.9M299.9 363h.9M291.7 353.9h.9M270.5 347.6h.9M300.8 358.5h.9M307.6 344.6h.9M287.2 374.9h.9M312.5 353.4h.9M291.7 347h.9M278.6 353.9h.9M304.2 344.3h.9M286.2 348.6h.9M282.5 342.3h.9M299.7 345.7h.9M296.6 355.4h.9M304.3 353.7h.9M299.5 365.4h.9M318.1 327.2h.9M288.3 349.8h.9M260.1 359.1h.9M266.4 365.9h.9M280.9 351.9h.9M297 345.5h.9M305.6 346.6h.9M296.2 354.5h.9M290.4 370.6h.9M283.3 335.8h.9M284.2 367.2h.9M279.7 358.1h.9M265.3 373.5h.9M289.2 370.5h.9M292.6 350.1h.9M285.8 340.9h.9M265.8 359.3h.9M280.1 328h.9M304.3 335.7h.9M265.3 372.1h.9M303.9 331.4h.9M298.9 365.6h.9M302.2 366.3h.9M284.2 366h.9M300.7 355.5h.9M290.4 355.2h.9M289.9 346.3h.9M298.9 351.9h.9M297.5 358h.9M280.3 371.8h.9M305.4 371.9h.9M298 343.2h.9M279.1 379.4h.9M296.5 383.2h.9M266.6 368.7h.9M250.6 356.1h.9M297.1 326.5h.9M288.7 339.2h.9M314.3 349h.9M316.2 344.8h.9M305.6 380.6h.9M299.3 372.5h.9M316.3 327.7h.9M305.5 349.3h.9M301.3 309.6h.9M293.3 323.4h.9M307.7 332.2h.9M300.7 350.7h.9M287.9 306.7h.9M302 329.7h.9M309.2 308.9h.9M301.9 318.3h.9M296.1 353.8h.9M301.1 318.2h.9M309 331.1h.9M303.1 321.9h.9M295.8 333.6h.9M284.3 309.4h.9M314 314.5h.9M317.4 320.9h.9M292 350.5h.9M305.8 298.2h.9M292.5 327.5h.9M288.9 344.9h.9M304.1 338.1h.9M304.1 329.9h.9M312.1 324.4h.9M298.7 315.8h.9M299.8 310.3h.9M295.8 309.7h.9M299.1 303.6h.9M317.8 315.6h.9M286.6 317.9h.9M290.3 324.9h.9M295.7 304.4h.9M294.3 327.2h.9M294 320.3h.9M288.9 342.6h.9M307.3 309.5h.9M294.7 304.5h.9M304.3 322.3h.9M306.3 333.4h.9M298.9 327.4h.9M311.4 314.9h.9M296.2 329.6h.9M288.4 318.3h.9M288.7 315h.9M321.7 333.2h.9M307.9 329h.9M307.6 326.1h.9M307.9 313.5h.9M281 316h.9M301.8 327.5h.9M292 322.1h.9M301.3 319.1h.9M312.1 312.3h.9M297.8 310.2h.9M306 320.9h.9M290.1 318.2h.9M271.2 343.6h.9M286.7 327.4h.9M299.8 314.3h.9M307.1 318.5h.9M309.5 304.3h.9M306.7 314h.9M289.2 320.2h.9M294.3 332.3h.9M307.9 338.2h.9M305.9 311.3h.9M289.3 341.7h.9M305.8 292h.9M295.7 322.5h.9M296.4 323.7h.9M297.7 322.3h.9M290.2 322.7h.9M306.7 342.5h.9M295.2 342.9h.9M296.1 318h.9M317.3 320.7h.9M285.4 335.6h.9M305.8 300h.9M290.8 318.4h.9M302 299.7h.9M303.8 321h.9M300.2 329.7h.9M289.8 333h.9M308.7 312.2h.9M299.3 310.4h.9M299.7 323.4h.9M315.3 309.5h.9M299.1 331.1h.9M290.8 327.2h.9M306 316.7h.9M318.5 323.4h.9M281.4 309.6h.9M314.2 316.3h.9M310.7 315.5h.9M298.1 312.1h.9M276.4 328.2h.9M295.2 338.5h.9M299.3 311.6h.9M304 320.9h.9M301.9 311.5h.9M288.9 320h.9M314.4 307.9h.9M306.1 330.9h.9M291.2 333.6h.9M317.5 318.2h.9M295.9 322.6h.9M289.4 323.8h.9M304.1 315.5h.9M304.3 307.5h.9M301.8 307.1h.9M286.2 317.2h.9M292.7 327h.9M304.7 328.9h.9M282.6 329.8h.9M299.3 302.1h.9M282.6 339.3h.9M295.8 317.6h.9M296.8 315.9h.9M294 311.6h.9M305.2 322.4h.9M284.1 343.4h.9M291.8 346.7h.9M300.9 322.4h.9M281.1 321.3h.9M281.5 331h.9M299.2 325.3h.9M296.6 318.7h.9M285.3 337.7h.9M299.2 323.5h.9M301.1 321.9h.9M313.8 314.2h.9M291.2 327.3h.9M291.3 319.4h.9M284.5 353h.9M286 312.5h.9M313.7 315.2h.9M313.3 314.2h.9M304.9 320h.9M284.9 332.5h.9M306 317.1h.9M301 334.2h.9M290.1 318h.9M297.7 326.7h.9M307.5 331.7h.9M302.7 328.6h.9M305.9 308.3h.9M308.4 308.5h.9M289.7 313.4h.9M302.1 316.5h.9M300.2 315h.9M311.8 312.5h.9M304.3 330.7h.9M302.1 305.9h.9M293.5 322.3h.9M305.2 297.8h.9M307.1 326.9h.9M282.5 303.5h.9M309.6 310.6h.9M282.7 333.5h.9M298.1 332.4h.9M316.5 300.7h.9M277.3 311.8h.9M329.3 314.6h.9M306.8 314.5h.9M306 322.7h.9M296.6 315.5h.9M291.7 321.1h.9M313.9 319.1h.9M309.7 302h.9M293.7 305.9h.9M280.4 310.7h.9M303.1 336h.9M283 316.8h.9M303.2 300.8h.9M297.2 333.6h.9M297.9 323.3h.9M292.7 333.5h.9M293.5 324.6h.9M298.5 334.3h.9M295.5 317.2h.9M299.1 320.1h.9M327.2 299.5h.9M315.6 299.1h.9M328.7 298.2h.9M303.3 296.3h.9M332 298.2h.9M336.3 294h.9M317.7 303.1h.9M334.3 308.8h.9M361.1 311.8h.9M338.2 302.8h.9M339.6 291.1h.9M356.5 304.1h.9M331.8 304.5h.9M312.3 299.2h.9M322.5 307.3h.9M326.5 303.5h.9M315.5 298.8h.9M338.2 297.8h.9M321.6 305.3h.9M299.8 295.9h.9M344.3 305.1h.9M312.4 307h.9M350 301.1h.9M325 299.6h.9M331.1 301.8h.9M328.6 296.2h.9M343.8 306.4h.9M329.1 300.4h.9M333.4 286h.9M340.2 295.6h.9M329.6 296.8h.9M347.4 292.8h.9M319.8 299h.9M335.8 306.3h.9M326.3 302.7h.9M343 299.7h.9M358 296.8h.9M325.1 298.4h.9M332.3 304.6h.9M336 308.1h.9M333.6 302.7h.9M332.3 304h.9M354.5 303.8h.9M341.7 299.6h.9M346.8 303.9h.9M313.8 295.9h.9M345.1 296.1h.9M278.9 290h.9M350.8 299.8h.9M318.8 297h.9M307.7 301.8h.9M339.3 291.9h.9M325.6 301.2h.9M312.5 300.7h.9M321.5 299.9h.9M320.8 297.4h.9M329.6 303.9h.9M338.8 296.9h.9M327.5 301h.9M342 297h.9M328.8 288.6h.9M324.4 307.5h.9M322.2 298.7h.9M307.2 289h.9M343.4 305.5h.9M336.1 307.3h.9M330.5 301.3h.9M351.9 310.7h.9M324.1 310.9h.9M324.4 301.8h.9M330.9 294h.9M318.6 303.1h.9M350.8 299.7h.9M317.8 299.8h.9M316 305h.9M323.7 308.7h.9M355.3 302.3h.9M334 301.4h.9M329.5 304.7h.9M336.6 302.5h.9" fill="none" stroke="#ff0a0a" stroke-width="0.9" stroke-opacity="0.5"/>
<path d="M329.7 301.2h.9M327.3 301.7h.9M335.8 298.7h.9M329.6 301.9h.9M327.7 299.7h.9M339.8 301.1h.9M332.8 301.5h.9M336.7 300.6h.9M323.5 304.5h.9M328.2 300.3h.9M340.8 303.8h.9M325.7 302.7h.9M337.8 299.2h.9M328.1 297.5h.9M332.3 301h.9M330.7 297.7h.9M339.4 295h.9M333.5 299.5h.9M331.7 301.9h.9M329.8 297.8h.9M327.7 300.1h.9M320.3 297h.9M340.1 300.1h.9M332.6 299h.9M331.5 300.1h.9M339.9 293.7h.9M339.8 299.2h.9M327.7 302.8h.9M339.8 300.7h.9M335.8 301.3h.9M310.5 292.1h.9M320.9 297.1h.9M340.6 304.9h.9M332.6 299.9h.9M318.3 293.6h.9M327 297.7h.9M331.7 294.1h.9M323.3 300.1h.9M333.6 297.6h.9M331.3 296.3h.9M341 299h.9M319.3 301.4h.9M317.2 299.9h.9M339.1 295.4h.9M333 297.1h.9M327.8 300.1h.9M337 304.6h.9M329.3 301.8h.9M333.4 298h.9M333.1 295.7h.9M332.1 296h.9M332.7 305.4h.9M330.7 302h.9M327.5 306h.9M328.9 300.3h.9M321.6 299.5h.9M338 299.8h.9M336.7 302.4h.9M345.5 303.1h.9M320.7 298.2h.9M336.3 296.2h.9M337.6 297.2h.9M318.1 298h.9M325.5 305.2h.9M343.5 303.7h.9M336.7 297.5h.9M328.3 302.1h.9M342.3 300.3h.9M332.5 299.2h.9M334.1 297.9h.9M332.7 296.8h.9M330.5 303.3h.9M324.4 297.4h.9M323.5 298.3h.9M337.3 301.8h.9M330.5 303h.9M320.6 297.4h.9M332.7 302.7h.9M327.3 301.2h.9M328.1 301.1h.9M327.2 292.9h.9M326.5 302.9h.9M327.8 295.8h.9M329.4 297.5h.9M328.1 300.5h.9M343.3 299.6h.9M326.3 297.2h.9M318.9 302.9h.9M328.5 300.5h.9M331.5 303.1h.9M334.6 300.3h.9M328.9 298.4h.9M328.2 296.3h.9M323.7 298.1h.9M329.2 305.9h.9M322.5 300.3h.9M334.4 303.4h.9M326 300.6h.9M318.7 300.2h.9M339.2 297.4h.9M322 301.1h.9M324.4 305.1h.9M349.6 303h.9M333.4 301.1h.9M328.1 303.7h.9M321.8 299.4h.9M325.2 297.2h.9M326.4 298.1h.9M334.9 303.2h.9M341 300.8h.9M351.4 302.6h.9M339.6 298.1h.9M317.8 303.1h.9M318.6 296.3h.9M331.1 296.9h.9M321.7 296.7h.9M330.7 297.8h.9M336.1 299.6h.9M342.1 304.3h.9M327.9 296.4h.9M322.2 296.8h.9M331.2 298.7h.9M310.4 300.6h.9M336.4 303.3h.9M337.6 298h.9M306 297.5h.9M321 301.8h.9M317.3 297.7h.9M341.9 293.1h.9M342.9 301.7h.9M317.2 295.6h.9M337.3 299.8h.9M318.9 302.1h.9M329 295.1h.9M343.5 303.1h.9M315.8 298.8h.9M337.5 302.2h.9M331.9 297h.9M316.9 293.3h.9M342.8 300.1h.9M333.3 298.1h.9M324.9 297h.9M331.3 301.7h.9M329.9 300.2h.9M326.9 297.2h.9M337.6 297.3h.9M327.1 297.3h.9M328.8 294.6h.9M321.9 295.9h.9M325.9 304.1h.9M336.8 303.7h.9M323.3 299.2h.9M334.3 300.1h.9M334.2 298.9h.9M317 295h.9M342.7 302h.9M336.6 300.7h.9M323.7 299.8h.9M314.2 300.2h.9M336.6 297h.9M334.8 299.1h.9M325.5 296.4h.9M346.9 299.6h.9M345.5 300.2h.9M328.9 296.8h.9M331.8 300.2h.9M326.2 298.8h.9M330.2 304h.9M335.2 294.9h.9M333.9 298.4h.9M335.5 297.3h.9M337.2 300.9h.9M321.4 297.5h.9M334.3 301.3h.9M328.7 298h.9M344 302.1h.9M323 299h.9M324 300.4h.9M323.1 295.6h.9M334.6 299.2h.9M344.8 291.4h.9M336 297.4h.9M323 297.3h.9M325.5 303.3h.9M334.1 301.3h.9M343 301h.9M328.5 301.7h.9M329.5 299.6h.9M336.1 302h.9M324.7 302h.9M325.1 300.2h.9M329.5 301.2h.9M338.3 302h.9M332.9 300h.9M334 299.4h.9M327.3 299.3h.9M326.5 299.6h.9M340.6 297.8h.9M342 302.6h.9M340.9 298.9h.9M336.2 300.6h.9M345.3 303h.9M332.7 303.4h.9M328.6 298.2h.9M333 298.8h.9M341.6 303.1h.9M316.6 295.6h.9M318.3 299.5h.9M350.4 298.8h.9M330 296.8h.9M324.1 296.9h.9M327.4 301.2h.9M322.7 300.5h.9M333.4 294.6h.9M339 297.4h.9M330.2 294.6h.9M330.4 295.4h.9M320.9 297h.9M322.1 299.7h.9M329 304.4h.9M334.1 299.5h.9M316.7 298.8h.9M329.7 303.8h.9M325.7 296.2h.9M327.4 299.7h.9M329.9 300h.9M321.9 299.2h.9M314.7 297.9h.9M328.1 303h.9M318.4 298h.9M327 301h.9M326.3 298.5h.9M339.3 301.2h.9M314.9 300.8h.9M323.2 297.7h.9M340.1 299.1h.9M324 296.3h.9M327 302.5h.9M329.7 293.7h.9M330.5 301.4h.9M336.9 302.1h.9M340.5 298.2h.9M319.9 299.9h.9M327.7 301.5h.9M333.8 300.3h.9M345 299.7h.9M338.9 297.3h.9M334.7 297.5h.9M325.4 296.3h.9M339.2 297.1h.9M326.2 300.7h.9M340.4 300.3h.9M352 299.5h.9M321.5 297h.9M332.6 304.8h.9M325.6 305.2h.9M352.4 304.2h.9M324 299.9h.9M324.5 295.6h.9M328.5 303.2h.9M337.3 299h.9M319.4 296.1h.9M319.7 301.2h.9M343 301.7h.9M331.2 301.8h.9M328 304.9h.9M328.2 301.5h.9M338.5 301.2h.9M323.8 300.3h.9M315.2 297.3h.9M316 301.9h.9M333 300.5h.9M347.4 304.5h.9M334.1 294.8h.9M325.4 302.7h.9M339.7 294.9h.9M324.7 296.7h.9M336.5 299.5h.9M337.7 300.7h.9M336.2 300.6h.9M329.3 302.4h.9M330.5 299.7h.9M323.3 301h.9M328 295.4h.9M335 297.9h.9M341.9 298.3h.9M345 296.6h.9M336.9 300.2h.9M332 299.8h.9M324.5 303.3h.9M334.1 303.4h.9M337.1 295.1h.9M331.6 302.1h.9M325.8 297.5h.9M330.1 300.6h.9M332.9 302.8h.9M322.6 297.8h.9M325.1 297.4h.9M327 299h.9M329.9 295.9h.9" fill="none" stroke="#ff0a0a" stroke-width="0.9" stroke-opacity="0.7"/>
<line x1="235.2" y1="334.4" x2="386" y2="334.4" stroke="#f03030" stroke-width="0.9" />
<line x1="305.1" y1="242" x2="305.1" y2="405" stroke="#f03030" stroke-width="0.9" />
<circle cx="305.1" cy="273" r="2.1" fill="none" stroke="#e62020" stroke-width="0.8"/>
<circle cx="359.1" cy="334.4" r="2.1" fill="none" stroke="#e62020" stroke-width="0.8"/>
<text x="308.3" y="329.2" font-family="Liberation Serif" font-size="7" text-anchor="start" font-weight="normal" fill="#ee4a4a" >R2</text>
<line x1="235.2" y1="405" x2="235.2" y2="407" stroke="#666" stroke-width="0.8" />
<line x1="233.2" y1="405" x2="235.2" y2="405" stroke="#666" stroke-width="0.8" />
<line x1="244.3" y1="405" x2="244.3" y2="406.3" stroke="#666" stroke-width="0.8" />
<line x1="233.9" y1="395.2" x2="235.2" y2="395.2" stroke="#666" stroke-width="0.8" />
<line x1="249.6" y1="405" x2="249.6" y2="406.3" stroke="#666" stroke-width="0.8" />
<line x1="233.9" y1="389.4" x2="235.2" y2="389.4" stroke="#666" stroke-width="0.8" />
<line x1="253.4" y1="405" x2="253.4" y2="406.3" stroke="#666" stroke-width="0.8" />
<line x1="233.9" y1="385.4" x2="235.2" y2="385.4" stroke="#666" stroke-width="0.8" />
<line x1="256.3" y1="405" x2="256.3" y2="406.3" stroke="#666" stroke-width="0.8" />
<line x1="233.9" y1="382.2" x2="235.2" y2="382.2" stroke="#666" stroke-width="0.8" />
<line x1="258.7" y1="405" x2="258.7" y2="406.3" stroke="#666" stroke-width="0.8" />
<line x1="233.9" y1="379.6" x2="235.2" y2="379.6" stroke="#666" stroke-width="0.8" />
<line x1="260.7" y1="405" x2="260.7" y2="406.3" stroke="#666" stroke-width="0.8" />
<line x1="233.9" y1="377.4" x2="235.2" y2="377.4" stroke="#666" stroke-width="0.8" />
<line x1="262.4" y1="405" x2="262.4" y2="406.3" stroke="#666" stroke-width="0.8" />
<line x1="233.9" y1="375.6" x2="235.2" y2="375.6" stroke="#666" stroke-width="0.8" />
<line x1="264" y1="405" x2="264" y2="406.3" stroke="#666" stroke-width="0.8" />
<line x1="233.9" y1="373.9" x2="235.2" y2="373.9" stroke="#666" stroke-width="0.8" />
<line x1="265.4" y1="405" x2="265.4" y2="407" stroke="#666" stroke-width="0.8" />
<line x1="233.2" y1="372.4" x2="235.2" y2="372.4" stroke="#666" stroke-width="0.8" />
<line x1="274.4" y1="405" x2="274.4" y2="406.3" stroke="#666" stroke-width="0.8" />
<line x1="233.9" y1="362.6" x2="235.2" y2="362.6" stroke="#666" stroke-width="0.8" />
<line x1="279.7" y1="405" x2="279.7" y2="406.3" stroke="#666" stroke-width="0.8" />
<line x1="233.9" y1="356.8" x2="235.2" y2="356.8" stroke="#666" stroke-width="0.8" />
<line x1="283.5" y1="405" x2="283.5" y2="406.3" stroke="#666" stroke-width="0.8" />
<line x1="233.9" y1="352.8" x2="235.2" y2="352.8" stroke="#666" stroke-width="0.8" />
<line x1="286.4" y1="405" x2="286.4" y2="406.3" stroke="#666" stroke-width="0.8" />
<line x1="233.9" y1="349.6" x2="235.2" y2="349.6" stroke="#666" stroke-width="0.8" />
<line x1="288.8" y1="405" x2="288.8" y2="406.3" stroke="#666" stroke-width="0.8" />
<line x1="233.9" y1="347" x2="235.2" y2="347" stroke="#666" stroke-width="0.8" />
<line x1="290.8" y1="405" x2="290.8" y2="406.3" stroke="#666" stroke-width="0.8" />
<line x1="233.9" y1="344.8" x2="235.2" y2="344.8" stroke="#666" stroke-width="0.8" />
<line x1="292.6" y1="405" x2="292.6" y2="406.3" stroke="#666" stroke-width="0.8" />
<line x1="233.9" y1="343" x2="235.2" y2="343" stroke="#666" stroke-width="0.8" />
<line x1="294.1" y1="405" x2="294.1" y2="406.3" stroke="#666" stroke-width="0.8" />
<line x1="233.9" y1="341.3" x2="235.2" y2="341.3" stroke="#666" stroke-width="0.8" />
<line x1="295.5" y1="405" x2="295.5" y2="407" stroke="#666" stroke-width="0.8" />
<line x1="233.2" y1="339.8" x2="235.2" y2="339.8" stroke="#666" stroke-width="0.8" />
<line x1="304.6" y1="405" x2="304.6" y2="406.3" stroke="#666" stroke-width="0.8" />
<line x1="233.9" y1="330" x2="235.2" y2="330" stroke="#666" stroke-width="0.8" />
<line x1="309.9" y1="405" x2="309.9" y2="406.3" stroke="#666" stroke-width="0.8" />
<line x1="233.9" y1="324.2" x2="235.2" y2="324.2" stroke="#666" stroke-width="0.8" />
<line x1="313.7" y1="405" x2="313.7" y2="406.3" stroke="#666" stroke-width="0.8" />
<line x1="233.9" y1="320.2" x2="235.2" y2="320.2" stroke="#666" stroke-width="0.8" />
<line x1="316.6" y1="405" x2="316.6" y2="406.3" stroke="#666" stroke-width="0.8" />
<line x1="233.9" y1="317" x2="235.2" y2="317" stroke="#666" stroke-width="0.8" />
<line x1="319" y1="405" x2="319" y2="406.3" stroke="#666" stroke-width="0.8" />
<line x1="233.9" y1="314.4" x2="235.2" y2="314.4" stroke="#666" stroke-width="0.8" />
<line x1="321" y1="405" x2="321" y2="406.3" stroke="#666" stroke-width="0.8" />
<line x1="233.9" y1="312.2" x2="235.2" y2="312.2" stroke="#666" stroke-width="0.8" />
<line x1="322.8" y1="405" x2="322.8" y2="406.3" stroke="#666" stroke-width="0.8" />
<line x1="233.9" y1="310.4" x2="235.2" y2="310.4" stroke="#666" stroke-width="0.8" />
<line x1="324.3" y1="405" x2="324.3" y2="406.3" stroke="#666" stroke-width="0.8" />
<line x1="233.9" y1="308.7" x2="235.2" y2="308.7" stroke="#666" stroke-width="0.8" />
<line x1="325.7" y1="405" x2="325.7" y2="407" stroke="#666" stroke-width="0.8" />
<line x1="233.2" y1="307.2" x2="235.2" y2="307.2" stroke="#666" stroke-width="0.8" />
<line x1="334.8" y1="405" x2="334.8" y2="406.3" stroke="#666" stroke-width="0.8" />
<line x1="233.9" y1="297.4" x2="235.2" y2="297.4" stroke="#666" stroke-width="0.8" />
<line x1="340.1" y1="405" x2="340.1" y2="406.3" stroke="#666" stroke-width="0.8" />
<line x1="233.9" y1="291.6" x2="235.2" y2="291.6" stroke="#666" stroke-width="0.8" />
<line x1="343.8" y1="405" x2="343.8" y2="406.3" stroke="#666" stroke-width="0.8" />
<line x1="233.9" y1="287.6" x2="235.2" y2="287.6" stroke="#666" stroke-width="0.8" />
<line x1="346.8" y1="405" x2="346.8" y2="406.3" stroke="#666" stroke-width="0.8" />
<line x1="233.9" y1="284.4" x2="235.2" y2="284.4" stroke="#666" stroke-width="0.8" />
<line x1="349.1" y1="405" x2="349.1" y2="406.3" stroke="#666" stroke-width="0.8" />
<line x1="233.9" y1="281.8" x2="235.2" y2="281.8" stroke="#666" stroke-width="0.8" />
<line x1="351.2" y1="405" x2="351.2" y2="406.3" stroke="#666" stroke-width="0.8" />
<line x1="233.9" y1="279.6" x2="235.2" y2="279.6" stroke="#666" stroke-width="0.8" />
<line x1="352.9" y1="405" x2="352.9" y2="406.3" stroke="#666" stroke-width="0.8" />
<line x1="233.9" y1="277.8" x2="235.2" y2="277.8" stroke="#666" stroke-width="0.8" />
<line x1="354.5" y1="405" x2="354.5" y2="406.3" stroke="#666" stroke-width="0.8" />
<line x1="233.9" y1="276.1" x2="235.2" y2="276.1" stroke="#666" stroke-width="0.8" />
<line x1="355.8" y1="405" x2="355.8" y2="407" stroke="#666" stroke-width="0.8" />
<line x1="233.2" y1="274.6" x2="235.2" y2="274.6" stroke="#666" stroke-width="0.8" />
<line x1="364.9" y1="405" x2="364.9" y2="406.3" stroke="#666" stroke-width="0.8" />
<line x1="233.9" y1="264.8" x2="235.2" y2="264.8" stroke="#666" stroke-width="0.8" />
<line x1="370.2" y1="405" x2="370.2" y2="406.3" stroke="#666" stroke-width="0.8" />
<line x1="233.9" y1="259" x2="235.2" y2="259" stroke="#666" stroke-width="0.8" />
<line x1="374" y1="405" x2="374" y2="406.3" stroke="#666" stroke-width="0.8" />
<line x1="233.9" y1="255" x2="235.2" y2="255" stroke="#666" stroke-width="0.8" />
<line x1="376.9" y1="405" x2="376.9" y2="406.3" stroke="#666" stroke-width="0.8" />
<line x1="233.9" y1="251.8" x2="235.2" y2="251.8" stroke="#666" stroke-width="0.8" />
<line x1="379.3" y1="405" x2="379.3" y2="406.3" stroke="#666" stroke-width="0.8" />
<line x1="233.9" y1="249.2" x2="235.2" y2="249.2" stroke="#666" stroke-width="0.8" />
<line x1="381.3" y1="405" x2="381.3" y2="406.3" stroke="#666" stroke-width="0.8" />
<line x1="233.9" y1="247" x2="235.2" y2="247" stroke="#666" stroke-width="0.8" />
<line x1="383.1" y1="405" x2="383.1" y2="406.3" stroke="#666" stroke-width="0.8" />
<line x1="233.9" y1="245.2" x2="235.2" y2="245.2" stroke="#666" stroke-width="0.8" />
<line x1="384.6" y1="405" x2="384.6" y2="406.3" stroke="#666" stroke-width="0.8" />
<line x1="233.9" y1="243.5" x2="235.2" y2="243.5" stroke="#666" stroke-width="0.8" />
<line x1="386" y1="405" x2="386" y2="407.8" stroke="#2a2a2a" stroke-width="0.6" />
<line x1="232.4" y1="242" x2="235.2" y2="242" stroke="#2a2a2a" stroke-width="0.6" />
<text x="235.2" y="414.4" font-family="Liberation Serif" font-size="8.1" text-anchor="middle" fill="#1a1a1a" stroke="#1a1a1a" stroke-width="0.2">10<tspan dy="-2.7" font-size="5.3">0</tspan></text>
<text x="234.7" y="402.8" font-family="Liberation Serif" font-size="8.1" text-anchor="middle" fill="#1a1a1a" stroke="#1a1a1a" stroke-width="0.2" transform="rotate(-90 234.7 402.8)">10<tspan dy="-2.7" font-size="5.3">0</tspan></text>
<text x="265.4" y="414.4" font-family="Liberation Serif" font-size="8.1" text-anchor="middle" fill="#1a1a1a" stroke="#1a1a1a" stroke-width="0.2">10<tspan dy="-2.7" font-size="5.3">1</tspan></text>
<text x="234.7" y="372.4" font-family="Liberation Serif" font-size="8.1" text-anchor="middle" fill="#1a1a1a" stroke="#1a1a1a" stroke-width="0.2" transform="rotate(-90 234.7 372.4)">10<tspan dy="-2.7" font-size="5.3">1</tspan></text>
<text x="295.5" y="414.4" font-family="Liberation Serif" font-size="8.1" text-anchor="middle" fill="#1a1a1a" stroke="#1a1a1a" stroke-width="0.2">10<tspan dy="-2.7" font-size="5.3">2</tspan></text>
<text x="234.7" y="339.8" font-family="Liberation Serif" font-size="8.1" text-anchor="middle" fill="#1a1a1a" stroke="#1a1a1a" stroke-width="0.2" transform="rotate(-90 234.7 339.8)">10<tspan dy="-2.7" font-size="5.3">2</tspan></text>
<text x="325.7" y="414.4" font-family="Liberation Serif" font-size="8.1" text-anchor="middle" fill="#1a1a1a" stroke="#1a1a1a" stroke-width="0.2">10<tspan dy="-2.7" font-size="5.3">3</tspan></text>
<text x="234.7" y="307.2" font-family="Liberation Serif" font-size="8.1" text-anchor="middle" fill="#1a1a1a" stroke="#1a1a1a" stroke-width="0.2" transform="rotate(-90 234.7 307.2)">10<tspan dy="-2.7" font-size="5.3">3</tspan></text>
<text x="355.8" y="414.4" font-family="Liberation Serif" font-size="8.1" text-anchor="middle" fill="#1a1a1a" stroke="#1a1a1a" stroke-width="0.2">10<tspan dy="-2.7" font-size="5.3">4</tspan></text>
<text x="234.7" y="274.6" font-family="Liberation Serif" font-size="8.1" text-anchor="middle" fill="#1a1a1a" stroke="#1a1a1a" stroke-width="0.2" transform="rotate(-90 234.7 274.6)">10<tspan dy="-2.7" font-size="5.3">4</tspan></text>
<text x="386" y="414.4" font-family="Liberation Serif" font-size="8.1" text-anchor="middle" fill="#1a1a1a" stroke="#1a1a1a" stroke-width="0.2">10<tspan dy="-2.7" font-size="5.3">5</tspan></text>
<text x="234.7" y="242" font-family="Liberation Serif" font-size="8.1" text-anchor="middle" fill="#1a1a1a" stroke="#1a1a1a" stroke-width="0.2" transform="rotate(-90 234.7 242)">10<tspan dy="-2.7" font-size="5.3">5</tspan></text>
<text x="310.7" y="426.4" font-family="Liberation Serif" font-size="7.41" text-anchor="middle" font-weight="normal" fill="#222" >CD14 FITC</text>
<text x="223.3" y="316.1" font-family="Liberation Serif" font-size="7.7" text-anchor="middle" font-weight="normal" fill="#222" transform="rotate(-90 223.3 316.1)" >CD16 PE</text>
<text x="238.9" y="250.7" font-family="Liberation Serif" font-size="9.8" text-anchor="start" font-weight="normal" fill="#111" stroke="#111" stroke-width="0.3" textLength="21.1" lengthAdjust="spacingAndGlyphs">2.44%</text>
<text x="381.5" y="250.7" font-family="Liberation Serif" font-size="9.8" text-anchor="end" font-weight="normal" fill="#111" stroke="#111" stroke-width="0.3" textLength="25.2" lengthAdjust="spacingAndGlyphs">14.76%</text>
<text x="238.9" y="401.1" font-family="Liberation Serif" font-size="9.8" text-anchor="start" font-weight="normal" fill="#111" stroke="#111" stroke-width="0.3" textLength="25.2" lengthAdjust="spacingAndGlyphs">79.30%</text>
<text x="381.5" y="401.1" font-family="Liberation Serif" font-size="9.8" text-anchor="end" font-weight="normal" fill="#111" stroke="#111" stroke-width="0.3" textLength="21.1" lengthAdjust="spacingAndGlyphs">3.50%</text>
<rect x="465.4" y="114.4" width="17" height="8.2" fill="#000" />
<text x="491.6" y="123" font-family="Liberation Sans" font-size="12.5" text-anchor="start" font-weight="normal" fill="#000" >si-Plac8-NC</text>
<rect x="465.4" y="135.1" width="17" height="8.2" fill="#1c7cc3" />
<text x="491.6" y="143.7" font-family="Liberation Sans" font-size="12.5" text-anchor="start" font-weight="normal" fill="#000" >si-Plac8</text>
<rect x="465.4" y="155.7" width="17" height="8.2" fill="#931a31" />
<text x="491.6" y="164.3" font-family="Liberation Sans" font-size="12.5" text-anchor="start" font-weight="normal" fill="#000" >Plac8-NC</text>
<rect x="465.4" y="176.3" width="17" height="8.2" fill="#5a0878" />
<text x="491.6" y="184.9" font-family="Liberation Sans" font-size="12.5" text-anchor="start" font-weight="normal" fill="#000" >Plac8</text>
<line x1="453.9" y1="187.6" x2="453.9" y2="343.1" stroke="#000" stroke-width="1.5" />
<line x1="453.2" y1="342.4" x2="630.6" y2="342.4" stroke="#000" stroke-width="1.5" />
<line x1="447.8" y1="342.4" x2="453.9" y2="342.4" stroke="#000" stroke-width="1.4" />
<text x="446.8" y="346.8" font-family="Liberation Sans" font-size="11.2" text-anchor="end" font-weight="normal" fill="#000" >0</text>
<line x1="447.8" y1="311.5" x2="453.9" y2="311.5" stroke="#000" stroke-width="1.4" />
<text x="446.8" y="315.9" font-family="Liberation Sans" font-size="11.2" text-anchor="end" font-weight="normal" fill="#000" >5</text>
<line x1="447.8" y1="280.7" x2="453.9" y2="280.7" stroke="#000" stroke-width="1.4" />
<text x="446.8" y="285.1" font-family="Liberation Sans" font-size="11.2" text-anchor="end" font-weight="normal" fill="#000" >10</text>
<line x1="447.8" y1="249.8" x2="453.9" y2="249.8" stroke="#000" stroke-width="1.4" />
<text x="446.8" y="254.2" font-family="Liberation Sans" font-size="11.2" text-anchor="end" font-weight="normal" fill="#000" >15</text>
<line x1="447.8" y1="219" x2="453.9" y2="219" stroke="#000" stroke-width="1.4" />
<text x="446.8" y="223.4" font-family="Liberation Sans" font-size="11.2" text-anchor="end" font-weight="normal" fill="#000" >20</text>
<line x1="447.8" y1="188.1" x2="453.9" y2="188.1" stroke="#000" stroke-width="1.4" />
<text x="446.8" y="192.5" font-family="Liberation Sans" font-size="11.2" text-anchor="end" font-weight="normal" fill="#000" >25</text>
<rect x="472.6" y="271" width="25.4" height="71.4" fill="#000" />
<line x1="485.3" y1="262" x2="485.3" y2="271.5" stroke="#000" stroke-width="1.1" />
<line x1="479.3" y1="262" x2="491.3" y2="262" stroke="#000" stroke-width="1.1" />
<rect x="510.3" y="297.6" width="25.3" height="44.8" fill="#1c7cc3" />
<line x1="523" y1="292.5" x2="523" y2="298.1" stroke="#1c7cc3" stroke-width="1.1" />
<line x1="517" y1="292.5" x2="529" y2="292.5" stroke="#1c7cc3" stroke-width="1.1" />
<rect x="548" y="268.6" width="25.3" height="73.8" fill="#931a31" />
<line x1="560.6" y1="260.6" x2="560.6" y2="269.1" stroke="#931a31" stroke-width="1.1" />
<line x1="554.6" y1="260.6" x2="566.6" y2="260.6" stroke="#931a31" stroke-width="1.1" />
<rect x="585.9" y="228" width="25.3" height="114.4" fill="#5a0878" />
<line x1="598.5" y1="215.6" x2="598.5" y2="228.5" stroke="#5a0878" stroke-width="1.1" />
<line x1="592.5" y1="215.6" x2="604.5" y2="215.6" stroke="#5a0878" stroke-width="1.1" />
<path d="M485.2 255.5V236H523.2V278.4" fill="none" stroke="#000" stroke-width="1.5" />
<text x="503.4" y="235.9" font-family="Liberation Sans" font-size="16.5" text-anchor="middle" font-weight="normal" fill="#000" >*</text>
<path d="M560.8 247.2V191.4H597.4V204.2" fill="none" stroke="#000" stroke-width="1.5" />
<text x="579.6" y="191.2" font-family="Liberation Sans" font-size="16.5" text-anchor="middle" font-weight="normal" fill="#000" >*</text>
<text x="422.8" y="264.8" font-family="Liberation Sans" font-size="12.8" text-anchor="middle" transform="rotate(-90 422.8 264.8)"><tspan dy="4.6">CD14</tspan><tspan dy="-5.6" font-size="9">+</tspan><tspan dy="5.6">CD16</tspan><tspan dy="-5.6" font-size="9">+</tspan><tspan dy="5.6"> monocytes (%)</tspan></text>
<linearGradient id="g1" x1="0" y1="0" x2="0" y2="1"><stop offset="0" stop-color="#f1f1f1"/><stop offset="1" stop-color="#dfdfdf"/></linearGradient>
<linearGradient id="g2" x1="0" y1="0" x2="1" y2="0"><stop offset="0" stop-color="#d8d8d8"/><stop offset="0.04" stop-color="#b6b6b6"/><stop offset="0.96" stop-color="#bebebe"/><stop offset="1" stop-color="#e2e2e2"/></linearGradient>
<linearGradient id="g3" x1="0" y1="0" x2="0" y2="1"><stop offset="0" stop-color="#d0d0d0"/><stop offset="1" stop-color="#dadada"/></linearGradient>
<linearGradient id="g4" x1="0" y1="0" x2="0" y2="1"><stop offset="0" stop-color="#e9e9e9"/><stop offset="1" stop-color="#e1e1e1"/></linearGradient>
<rect x="117.3" y="445.1" width="150.4" height="35.2" fill="url(#g1)" stroke="#555" stroke-width="0.75"/>
<rect x="117.3" y="483.2" width="150.4" height="35.3" fill="url(#g2)" stroke="#555" stroke-width="0.75"/>
<rect x="117.3" y="521.2" width="150.4" height="36.1" fill="url(#g3)" stroke="#555" stroke-width="0.75"/>
<rect x="117.3" y="559.9" width="150.4" height="35.4" fill="url(#g4)" stroke="#555" stroke-width="0.75"/>
<clipPath id="c1"><rect x="117.7" y="445.5" width="149.6" height="34.4"/></clipPath>
<clipPath id="c2"><rect x="117.7" y="483.6" width="149.6" height="34.5"/></clipPath>
<clipPath id="c3"><rect x="117.7" y="521.6" width="149.6" height="35.3"/></clipPath>
<clipPath id="c4"><rect x="117.7" y="560.3" width="149.6" height="34.6"/></clipPath>
<g clip-path="url(#c1)">
<path d="M121 461.3C122.8 458.5,126.4 458.2,130 458.2H146C149.6 458.2,153.2 458.5,155 461.3C153.2 464.1,149.6 464.4,146 464.4H130C126.4 464.4,122.8 464.1,121 461.3Z" fill="#000" fill-opacity="1" filter="url(#b1)"/>
<path d="M160.5 461.9C161.8 459.7,164.5 459.5,167.1 459.5H177.6C180.2 459.5,182.9 459.7,184.2 461.9C182.9 464.1,180.2 464.3,177.6 464.3H167.1C164.5 464.3,161.8 464.1,160.5 461.9Z" fill="#000" fill-opacity="0.9" filter="url(#b1)"/>
<path d="M190.8 461.1C192.5 458.6,196 458.3,199.4 458.3H212.9C216.3 458.3,219.8 458.6,221.5 461.1C219.8 463.6,216.3 463.9,212.9 463.9H199.4C196 463.9,192.5 463.6,190.8 461.1Z" fill="#000" fill-opacity="1" filter="url(#b1)"/>
<path d="M224 460.7C225.8 457.5,229.4 457.1,233 457.1H257C260.6 457.1,264.2 457.5,266 460.7C264.2 463.9,260.6 464.3,257 464.3H233C229.4 464.3,225.8 463.9,224 460.7Z" fill="#000" fill-opacity="1" filter="url(#b1)"/>
</g><g clip-path="url(#c2)">
<path d="M116 496.3 C135 496.8,150 496.6,162 495.5 S182 492.6,190 493 S206 496.5,214 497.6 S226 498.6,232 498.2 S250 497.8,259.5 498" fill="none" stroke="#000" stroke-width="8.4" stroke-linecap="round" filter="url(#b1)"/>
<path d="M116 508.4 C140 509.2,160 509,175 508.2 S195 507.6,205 508.6 S225 509.8,240 509.6 S252 509.5,260 509.3" fill="none" stroke="#000" stroke-width="7.6" stroke-linecap="round" filter="url(#b1)"/>
<path d="M118 489 C150 488,170 486.5,190 486 S205 488,215 490" fill="none" stroke="#000" stroke-opacity="0.38" stroke-width="5.5" filter="url(#b2)"/>
<rect x="222" y="494" width="11" height="9" fill="#bdbdbd" fill-opacity="0.55" filter="url(#b2)"/>
</g><g clip-path="url(#c3)">
<path d="M121.5 532.3C123.3 530.4,126.9 530.2,130.5 530.2H146.5C150.1 530.2,153.7 530.4,155.5 532.3C153.7 534.2,150.1 534.4,146.5 534.4H130.5C126.9 534.4,123.3 534.2,121.5 532.3Z" fill="#000" fill-opacity="0.95" filter="url(#b1)"/>
<path d="M122 543.6C123.8 540.8,127.4 540.5,131 540.5H147.3C150.9 540.5,154.5 540.8,156.3 543.6C154.5 546.4,150.9 546.7,147.3 546.7H131C127.4 546.7,123.8 546.4,122 543.6Z" fill="#000" fill-opacity="1" filter="url(#b1)"/>
<path d="M121 538C121.4 534,122.2 533.5,123 533.5H126C126.8 533.5,127.6 534,128 538C127.6 542,126.8 542.5,126 542.5H123C122.2 542.5,121.4 542,121 538Z" fill="#000" fill-opacity="0.45" filter="url(#b2)"/>
<path d="M149 538C149.4 534,150.2 533.5,151 533.5H154C154.8 533.5,155.6 534,156 538C155.6 542,154.8 542.5,154 542.5H151C150.2 542.5,149.4 542,149 538Z" fill="#000" fill-opacity="0.4" filter="url(#b2)"/>
<path d="M124 538C125.7 535.8,129 535.5,132.4 535.5H145.6C149 535.5,152.3 535.8,154 538C152.3 540.2,149 540.5,145.6 540.5H132.4C129 540.5,125.7 540.2,124 538Z" fill="#000" fill-opacity="0.22" filter="url(#b2)"/>
<path d="M164 534C165.5 532.1,168.5 531.9,171.4 531.9H183.1C186 531.9,189 532.1,190.5 534C189 535.9,186 536.1,183.1 536.1H171.4C168.5 536.1,165.5 535.9,164 534Z" fill="#000" fill-opacity="0.42" filter="url(#b2)"/>
<path d="M164 543.8C165.5 541.7,168.5 541.5,171.4 541.5H183.1C186 541.5,189 541.7,190.5 543.8C189 545.9,186 546.1,183.1 546.1H171.4C168.5 546.1,165.5 545.9,164 543.8Z" fill="#000" fill-opacity="0.5" filter="url(#b2)"/>
<path d="M199.5 533C200.8 531,203.4 530.8,206.1 530.8H216.4C219.1 530.8,221.7 531,223 533C221.7 535,219.1 535.2,216.4 535.2H206.1C203.4 535.2,200.8 535,199.5 533Z" fill="#000" fill-opacity="0.72" filter="url(#b2)"/>
<path d="M198.5 543.6C199.9 541.3,202.6 541,205.4 541H216.3C219.1 541,221.8 541.3,223.2 543.6C221.8 545.9,219.1 546.2,216.3 546.2H205.4C202.6 546.2,199.9 545.9,198.5 543.6Z" fill="#000" fill-opacity="0.85" filter="url(#b2)"/>
<path d="M231.5 532C233.3 528.6,236.9 528.2,240.5 528.2H254.6C258.2 528.2,261.8 528.6,263.6 532C261.8 535.4,258.2 535.8,254.6 535.8H240.5C236.9 535.8,233.3 535.4,231.5 532Z" fill="#000" fill-opacity="1" filter="url(#b1)"/>
<path d="M231 541.6C232.8 537,236.4 536.5,240 536.5H254.6C258.2 536.5,261.8 537,263.6 541.6C261.8 546.2,258.2 546.7,254.6 546.7H240C236.4 546.7,232.8 546.2,231 541.6Z" fill="#000" fill-opacity="1" filter="url(#b1)"/>
<path d="M236 537C237.3 534.3,240 534,242.7 534H253.3C256 534,258.7 534.3,260 537C258.7 539.7,256 540,253.3 540H242.7C240 540,237.3 539.7,236 537Z" fill="#000" fill-opacity="0.9" filter="url(#b1)"/>
</g><g clip-path="url(#c4)">
<path d="M121 577.8C122.7 573.6,126 573.1,129.3 573.1H142.3C145.6 573.1,148.9 573.6,150.6 577.8C148.9 582,145.6 582.5,142.3 582.5H129.3C126 582.5,122.7 582,121 577.8Z" fill="#000" fill-opacity="1" filter="url(#b2)"/>
<path d="M160 577.8C161.6 573.6,164.7 573.1,167.8 573.1H180.2C183.3 573.1,186.4 573.6,188 577.8C186.4 582,183.3 582.5,180.2 582.5H167.8C164.7 582.5,161.6 582,160 577.8Z" fill="#000" fill-opacity="1" filter="url(#b2)"/>
<path d="M196.3 577.8C197.9 573.6,201.2 573.1,204.4 573.1H217.1C220.3 573.1,223.6 573.6,225.2 577.8C223.6 582,220.3 582.5,217.1 582.5H204.4C201.2 582.5,197.9 582,196.3 577.8Z" fill="#000" fill-opacity="1" filter="url(#b2)"/>
<path d="M232.4 577.8C234.2 573.4,237.7 572.9,241.2 572.9H255C258.5 572.9,262 573.4,263.8 577.8C262 582.2,258.5 582.7,255 582.7H241.2C237.7 582.7,234.2 582.2,232.4 577.8Z" fill="#000" fill-opacity="1" filter="url(#b2)"/>
<path d="M122.5 577.8C124 574.9,127 574.5,130.1 574.5H141.9C145 574.5,148 574.9,149.5 577.8C148 580.7,145 581,141.9 581H130.1C127 581,124 580.7,122.5 577.8Z" fill="#000" fill-opacity="1" filter="url(#b1)"/>
<path d="M161.5 577.8C162.9 574.9,165.7 574.5,168.5 574.5H179.5C182.3 574.5,185.1 574.9,186.5 577.8C185.1 580.7,182.3 581,179.5 581H168.5C165.7 581,162.9 580.7,161.5 577.8Z" fill="#000" fill-opacity="1" filter="url(#b1)"/>
<path d="M198 577.8C199.4 574.9,202.3 574.5,205.1 574.5H216.4C219.2 574.5,222.1 574.9,223.5 577.8C222.1 580.7,219.2 581,216.4 581H205.1C202.3 581,199.4 580.7,198 577.8Z" fill="#000" fill-opacity="1" filter="url(#b1)"/>
<path d="M234 577.8C235.6 574.6,238.7 574.3,241.8 574.3H254.2C257.3 574.3,260.4 574.6,262 577.8C260.4 580.9,257.3 581.3,254.2 581.3H241.8C238.7 581.3,235.6 580.9,234 577.8Z" fill="#000" fill-opacity="1" filter="url(#b1)"/>
</g>
<text x="115.4" y="469.3" font-family="Liberation Sans" font-size="10.8" text-anchor="end" font-weight="normal" fill="#000" >Plac8</text>
<text x="116.1" y="507.5" font-family="Liberation Sans" font-size="10.8" text-anchor="end" font-weight="normal" fill="#000" >ERK1/2</text>
<text x="114.2" y="544.5" font-family="Liberation Sans" font-size="10.8" text-anchor="end" font-weight="normal" fill="#000" >p-ERK1/2</text>
<text x="115.4" y="580.9" font-family="Liberation Sans" font-size="10.8" text-anchor="end" font-weight="normal" fill="#000" >GAPDH</text>
<text x="271.6" y="468.9" font-family="Liberation Sans" font-size="10.8" text-anchor="start" font-weight="normal" fill="#000" >12KDa</text>
<text x="271.6" y="499.9" font-family="Liberation Sans" font-size="10.8" text-anchor="start" font-weight="normal" fill="#000" >44KDa</text>
<text x="271.6" y="513.5" font-family="Liberation Sans" font-size="10.8" text-anchor="start" font-weight="normal" fill="#000" >42KDa</text>
<text x="271.6" y="538.7" font-family="Liberation Sans" font-size="10.8" text-anchor="start" font-weight="normal" fill="#000" >44KDa</text>
<text x="271.6" y="551.8" font-family="Liberation Sans" font-size="10.8" text-anchor="start" font-weight="normal" fill="#000" >42KDa</text>
<text x="271.6" y="581.3" font-family="Liberation Sans" font-size="10.8" text-anchor="start" font-weight="normal" fill="#000" >36KDa</text>
<text x="145.4" y="613.1" font-family="Liberation Sans" font-size="11" text-anchor="end" font-weight="normal" fill="#000" transform="rotate(-37 145.4 613.1)" >si-Plac8-NC</text>
<text x="180" y="609.4" font-family="Liberation Sans" font-size="11" text-anchor="end" font-weight="normal" fill="#000" transform="rotate(-37 180 609.4)" >si-Plac8</text>
<text x="211.5" y="609.9" font-family="Liberation Sans" font-size="11" text-anchor="end" font-weight="normal" fill="#000" transform="rotate(-37 211.5 609.9)" >Plac8-NC</text>
<text x="247" y="607.8" font-family="Liberation Sans" font-size="11" text-anchor="end" font-weight="normal" fill="#000" transform="rotate(-37 247 607.8)" >Plac8</text>
<rect x="531.1" y="411.1" width="17.4" height="8.7" fill="#000" />
<text x="557.2" y="420" font-family="Liberation Sans" font-size="12.4" text-anchor="start" font-weight="normal" fill="#000" >si-Plac8-NC</text>
<rect x="531.1" y="428.4" width="17.4" height="8.7" fill="#1c7cc3" />
<text x="557.2" y="437.2" font-family="Liberation Sans" font-size="12.4" text-anchor="start" font-weight="normal" fill="#000" >si-Plac8</text>
<rect x="531.1" y="445.6" width="17.4" height="8.7" fill="#931a31" />
<text x="557.2" y="454.5" font-family="Liberation Sans" font-size="12.4" text-anchor="start" font-weight="normal" fill="#000" >Plac8-NC</text>
<rect x="531.1" y="462.9" width="17.4" height="8.7" fill="#5a0878" />
<text x="557.2" y="471.7" font-family="Liberation Sans" font-size="12.4" text-anchor="start" font-weight="normal" fill="#000" >Plac8</text>
<line x1="415.4" y1="444.6" x2="415.4" y2="623.1" stroke="#000" stroke-width="1.3" />
<line x1="414.8" y1="622.5" x2="685" y2="622.5" stroke="#000" stroke-width="1.3" />
<line x1="410.2" y1="622.5" x2="415.4" y2="622.5" stroke="#000" stroke-width="1.3" />
<text x="408.3" y="627.8" font-family="Liberation Sans" font-size="12" text-anchor="end" font-weight="normal" fill="#000" >0</text>
<line x1="410.2" y1="563.4" x2="415.4" y2="563.4" stroke="#000" stroke-width="1.3" />
<text x="408.3" y="568.6" font-family="Liberation Sans" font-size="12" text-anchor="end" font-weight="normal" fill="#000" >1</text>
<line x1="410.2" y1="504.2" x2="415.4" y2="504.2" stroke="#000" stroke-width="1.3" />
<text x="408.3" y="509.5" font-family="Liberation Sans" font-size="12" text-anchor="end" font-weight="normal" fill="#000" >2</text>
<line x1="410.2" y1="445.1" x2="415.4" y2="445.1" stroke="#000" stroke-width="1.3" />
<text x="408.3" y="450.4" font-family="Liberation Sans" font-size="12" text-anchor="end" font-weight="normal" fill="#000" >3</text>
<rect x="425.1" y="536.2" width="13.6" height="86.3" fill="#000" />
<line x1="431.9" y1="527.8" x2="431.9" y2="536.7" stroke="#000" stroke-width="1.2" />
<line x1="428.4" y1="527.8" x2="435.4" y2="527.8" stroke="#000" stroke-width="1.2" />
<rect x="444.2" y="584.9" width="13.6" height="37.6" fill="#1c7cc3" />
<line x1="451" y1="581.1" x2="451" y2="585.4" stroke="#1c7cc3" stroke-width="1.2" />
<line x1="447.5" y1="581.1" x2="454.5" y2="581.1" stroke="#1c7cc3" stroke-width="1.2" />
<rect x="463.3" y="539.7" width="13.6" height="82.8" fill="#931a31" />
<line x1="470.1" y1="531.8" x2="470.1" y2="540.2" stroke="#931a31" stroke-width="1.2" />
<line x1="466.6" y1="531.8" x2="473.6" y2="531.8" stroke="#931a31" stroke-width="1.2" />
<rect x="482.4" y="472" width="13.6" height="150.5" fill="#5a0878" />
<line x1="489.2" y1="456.6" x2="489.2" y2="472.5" stroke="#5a0878" stroke-width="1.2" />
<line x1="485.7" y1="456.6" x2="492.7" y2="456.6" stroke="#5a0878" stroke-width="1.2" />
<rect x="513.4" y="546.7" width="13.6" height="75.8" fill="#000" />
<line x1="520.2" y1="540.4" x2="520.2" y2="547.2" stroke="#000" stroke-width="1.2" />
<line x1="516.7" y1="540.4" x2="523.7" y2="540.4" stroke="#000" stroke-width="1.2" />
<rect x="532.5" y="547.9" width="13.6" height="74.6" fill="#1c7cc3" />
<line x1="539.3" y1="538.5" x2="539.3" y2="548.4" stroke="#1c7cc3" stroke-width="1.2" />
<line x1="535.8" y1="538.5" x2="542.8" y2="538.5" stroke="#1c7cc3" stroke-width="1.2" />
<rect x="551.6" y="550.4" width="13.6" height="72.1" fill="#931a31" />
<line x1="558.4" y1="543.2" x2="558.4" y2="550.9" stroke="#931a31" stroke-width="1.2" />
<line x1="554.9" y1="543.2" x2="561.9" y2="543.2" stroke="#931a31" stroke-width="1.2" />
<rect x="570.7" y="548.1" width="13.6" height="74.4" fill="#5a0878" />
<line x1="577.5" y1="538" x2="577.5" y2="548.6" stroke="#5a0878" stroke-width="1.2" />
<line x1="574" y1="538" x2="581" y2="538" stroke="#5a0878" stroke-width="1.2" />
<rect x="602.3" y="574.4" width="13.6" height="48.1" fill="#000" />
<line x1="609.1" y1="567.5" x2="609.1" y2="574.9" stroke="#000" stroke-width="1.2" />
<line x1="605.6" y1="567.5" x2="612.6" y2="567.5" stroke="#000" stroke-width="1.2" />
<rect x="621.4" y="594.8" width="13.6" height="27.7" fill="#1c7cc3" />
<line x1="628.2" y1="589.6" x2="628.2" y2="595.3" stroke="#1c7cc3" stroke-width="1.2" />
<line x1="624.7" y1="589.6" x2="631.7" y2="589.6" stroke="#1c7cc3" stroke-width="1.2" />
<rect x="640.5" y="570.5" width="13.6" height="52" fill="#931a31" />
<line x1="647.3" y1="560" x2="647.3" y2="571" stroke="#931a31" stroke-width="1.2" />
<line x1="643.8" y1="560" x2="650.8" y2="560" stroke="#931a31" stroke-width="1.2" />
<rect x="659.6" y="521.6" width="13.6" height="100.9" fill="#5a0878" />
<line x1="666.4" y1="515.4" x2="666.4" y2="522.1" stroke="#5a0878" stroke-width="1.2" />
<line x1="662.9" y1="515.4" x2="669.9" y2="515.4" stroke="#5a0878" stroke-width="1.2" />
<line x1="460.2" y1="622.5" x2="460.2" y2="627.8" stroke="#000" stroke-width="1.3" />
<text x="460.2" y="641.8" font-family="Liberation Sans" font-size="12.4" text-anchor="middle" font-weight="normal" fill="#000" >Plac8</text>
<line x1="548.5" y1="622.5" x2="548.5" y2="627.8" stroke="#000" stroke-width="1.3" />
<text x="548.5" y="641.8" font-family="Liberation Sans" font-size="12.4" text-anchor="middle" font-weight="normal" fill="#000" >ERK</text>
<line x1="637.3" y1="622.5" x2="637.3" y2="627.8" stroke="#000" stroke-width="1.3" />
<text x="637.3" y="641.8" font-family="Liberation Sans" font-size="12.4" text-anchor="middle" font-weight="normal" fill="#000" >p-ERK</text>
<path d="M431.5 521.6V506.2H450.6V573.7" fill="none" stroke="#000" stroke-width="1" />
<text x="440.7" y="508.6" font-family="Liberation Sans" font-size="16" text-anchor="middle" font-weight="normal" fill="#000" >*</text>
<path d="M469.8 526.6V442.7H488.6V450.9" fill="none" stroke="#000" stroke-width="1" />
<text x="478.4" y="444.6" font-family="Liberation Sans" font-size="16" text-anchor="middle" font-weight="normal" fill="#000" >*</text>
<path d="M608.3 562.5V547.1H629.1V583.6" fill="none" stroke="#000" stroke-width="1" />
<text x="618.2" y="549.9" font-family="Liberation Sans" font-size="16" text-anchor="middle" font-weight="normal" fill="#000" >*</text>
<path d="M647.3 553.8V497.5H666.4V510.4" fill="none" stroke="#000" stroke-width="1" />
<text x="656.7" y="496.9" font-family="Liberation Sans" font-size="16" text-anchor="middle" font-weight="normal" fill="#000" >*</text>
<text x="388.6" y="537.2" font-family="Liberation Sans" font-size="12.5" text-anchor="middle" font-weight="normal" fill="#000" transform="rotate(-90 388.6 537.2)" dy="4.4">Relative protein expression</text>
<rect x="43.9" y="664.1" width="15.4" height="7.5" fill="#000" />
<text x="66.4" y="671.6" font-family="Liberation Sans" font-size="10.9" text-anchor="start" font-weight="normal" fill="#000" >si-Plac8-NC</text>
<rect x="146.2" y="664" width="15.3" height="7.5" fill="#1c7cc3" />
<text x="168.9" y="671.6" font-family="Liberation Sans" font-size="10.9" text-anchor="start" font-weight="normal" fill="#000" >si-Plac8</text>
<rect x="246.2" y="664.1" width="15.4" height="7.5" fill="#931a31" />
<text x="268.5" y="671.8" font-family="Liberation Sans" font-size="10.9" text-anchor="start" font-weight="normal" fill="#000" >Plac8-NC</text>
<rect x="350.9" y="662.8" width="15.7" height="7.5" fill="#5a0878" />
<text x="374" y="670.5" font-family="Liberation Sans" font-size="10.9" text-anchor="start" font-weight="normal" fill="#000" >Plac8</text>
<line x1="45" y1="685.5" x2="45" y2="746.9" stroke="#000" stroke-width="1.2" />
<line x1="45" y1="756.9" x2="45" y2="817.9" stroke="#000" stroke-width="1.2" />
<line x1="44.5" y1="817.4" x2="203" y2="817.4" stroke="#000" stroke-width="1.2" />
<line x1="40.4" y1="746.9" x2="49" y2="746.9" stroke="#000" stroke-width="1.2" />
<line x1="40.4" y1="756.9" x2="49" y2="756.9" stroke="#000" stroke-width="1.2" />
<line x1="40.6" y1="817.4" x2="45" y2="817.4" stroke="#000" stroke-width="1.2" />
<text x="38.6" y="821.3" font-family="Liberation Sans" font-size="11" text-anchor="end" font-weight="normal" fill="#000" >0</text>
<line x1="40.6" y1="800.6" x2="45" y2="800.6" stroke="#000" stroke-width="1.2" />
<text x="38.6" y="804.5" font-family="Liberation Sans" font-size="11" text-anchor="end" font-weight="normal" fill="#000" >10</text>
<line x1="40.6" y1="783.9" x2="45" y2="783.9" stroke="#000" stroke-width="1.2" />
<text x="38.6" y="787.8" font-family="Liberation Sans" font-size="11" text-anchor="end" font-weight="normal" fill="#000" >20</text>
<line x1="40.6" y1="767.1" x2="45" y2="767.1" stroke="#000" stroke-width="1.2" />
<text x="38.6" y="771" font-family="Liberation Sans" font-size="11" text-anchor="end" font-weight="normal" fill="#000" >30</text>
<text x="38.6" y="750.8" font-family="Liberation Sans" font-size="11" text-anchor="end" font-weight="normal" fill="#000" >100</text>
<line x1="40.6" y1="734.7" x2="45" y2="734.7" stroke="#000" stroke-width="1.2" />
<text x="38.6" y="738.6" font-family="Liberation Sans" font-size="11" text-anchor="end" font-weight="normal" fill="#000" >120</text>
<line x1="40.6" y1="722.5" x2="45" y2="722.5" stroke="#000" stroke-width="1.2" />
<text x="38.6" y="726.4" font-family="Liberation Sans" font-size="11" text-anchor="end" font-weight="normal" fill="#000" >140</text>
<line x1="40.6" y1="710.4" x2="45" y2="710.4" stroke="#000" stroke-width="1.2" />
<text x="38.6" y="714.3" font-family="Liberation Sans" font-size="11" text-anchor="end" font-weight="normal" fill="#000" >160</text>
<line x1="40.6" y1="698.2" x2="45" y2="698.2" stroke="#000" stroke-width="1.2" />
<text x="38.6" y="702.1" font-family="Liberation Sans" font-size="11" text-anchor="end" font-weight="normal" fill="#000" >180</text>
<line x1="40.6" y1="686" x2="45" y2="686" stroke="#000" stroke-width="1.2" />
<text x="38.6" y="689.9" font-family="Liberation Sans" font-size="11" text-anchor="end" font-weight="normal" fill="#000" >200</text>
<rect x="52.7" y="763.9" width="12.3" height="53.5" fill="#000" />
<line x1="58.9" y1="758.5" x2="58.9" y2="764.4" stroke="#000" stroke-width="1.1" />
<line x1="55.6" y1="758.5" x2="62.1" y2="758.5" stroke="#000" stroke-width="1.1" />
<rect x="69.5" y="790.8" width="12.3" height="26.6" fill="#1c7cc3" />
<line x1="75.7" y1="788.6" x2="75.7" y2="791.3" stroke="#1c7cc3" stroke-width="1.1" />
<line x1="72.4" y1="788.6" x2="78.9" y2="788.6" stroke="#1c7cc3" stroke-width="1.1" />
<rect x="86.3" y="766.3" width="12.3" height="51.1" fill="#931a31" />
<line x1="92.5" y1="761.4" x2="92.5" y2="766.8" stroke="#931a31" stroke-width="1.1" />
<line x1="89.2" y1="761.4" x2="95.7" y2="761.4" stroke="#931a31" stroke-width="1.1" />
<rect x="103.1" y="756.9" width="12.3" height="60.5" fill="#5a0878" />
<rect x="103.1" y="716" width="12.3" height="30.9" fill="#5a0878" />
<line x1="109.2" y1="707" x2="109.2" y2="716.5" stroke="#5a0878" stroke-width="1.1" />
<line x1="106" y1="707" x2="112.5" y2="707" stroke="#5a0878" stroke-width="1.1" />
<rect x="130.8" y="788.2" width="12.3" height="29.2" fill="#000" />
<line x1="137" y1="785.1" x2="137" y2="788.7" stroke="#000" stroke-width="1.1" />
<line x1="133.7" y1="785.1" x2="140.2" y2="785.1" stroke="#000" stroke-width="1.1" />
<rect x="147.6" y="799.4" width="12.3" height="18" fill="#1c7cc3" />
<line x1="153.8" y1="797.4" x2="153.8" y2="799.9" stroke="#1c7cc3" stroke-width="1.1" />
<line x1="150.5" y1="797.4" x2="157" y2="797.4" stroke="#1c7cc3" stroke-width="1.1" />
<rect x="164.4" y="789.6" width="12.3" height="27.8" fill="#931a31" />
<line x1="170.6" y1="787.2" x2="170.6" y2="790.1" stroke="#931a31" stroke-width="1.1" />
<line x1="167.3" y1="787.2" x2="173.8" y2="787.2" stroke="#931a31" stroke-width="1.1" />
<rect x="181.2" y="763" width="12.3" height="54.4" fill="#5a0878" />
<line x1="187.4" y1="757.5" x2="187.4" y2="763.5" stroke="#5a0878" stroke-width="1.1" />
<line x1="184.1" y1="757.5" x2="190.6" y2="757.5" stroke="#5a0878" stroke-width="1.1" />
<line x1="83.8" y1="817.4" x2="83.8" y2="821.9" stroke="#000" stroke-width="1.2" />
<text x="85.1" y="832" font-family="Liberation Sans" font-size="10.9" text-anchor="middle" font-weight="normal" fill="#000" >TNF-α</text>
<line x1="162.1" y1="817.4" x2="162.1" y2="821.9" stroke="#000" stroke-width="1.2" />
<text x="163.4" y="832" font-family="Liberation Sans" font-size="10.9" text-anchor="middle" font-weight="normal" fill="#000" >IL-10</text>
<path d="M59.3 752.4V747.9H76V784.7" fill="none" stroke="#000" stroke-width="0.9" />
<text x="66.4" y="748.5" font-family="Liberation Sans" font-size="12.5" text-anchor="middle" font-weight="normal" fill="#000" >*</text>
<path d="M92.6 760.6V699.3H110.4V703.4" fill="none" stroke="#000" stroke-width="0.9" />
<text x="101.8" y="701.3" font-family="Liberation Sans" font-size="12.5" text-anchor="middle" font-weight="normal" fill="#000" >*</text>
<path d="M137.2 783V773.5H153.5V795.7" fill="none" stroke="#000" stroke-width="0.9" />
<text x="145.4" y="774.9" font-family="Liberation Sans" font-size="12.5" text-anchor="middle" font-weight="normal" fill="#000" >*</text>
<path d="M169.7 783V741.2H187.3V750.4" fill="none" stroke="#000" stroke-width="0.9" />
<text x="178.7" y="741.8" font-family="Liberation Sans" font-size="12.5" text-anchor="middle" font-weight="normal" fill="#000" >*</text>
<text x="7.4" y="752" font-family="Liberation Sans" font-size="10.75" text-anchor="middle" font-weight="normal" fill="#000" transform="rotate(-90 7.4 752)" dy="3.8">Relative expression (pg/ml)</text>
<line x1="244.3" y1="683" x2="244.3" y2="817" stroke="#000" stroke-width="1.2" />
<line x1="243.8" y1="816.5" x2="400" y2="816.5" stroke="#000" stroke-width="1.2" />
<line x1="240" y1="816.5" x2="244.3" y2="816.5" stroke="#000" stroke-width="1.2" />
<text x="238.6" y="819.9" font-family="Liberation Sans" font-size="9.8" text-anchor="end" font-weight="normal" fill="#000" >0</text>
<line x1="240" y1="783.3" x2="244.3" y2="783.3" stroke="#000" stroke-width="1.2" />
<text x="238.6" y="786.7" font-family="Liberation Sans" font-size="9.8" text-anchor="end" font-weight="normal" fill="#000" >50</text>
<line x1="240" y1="750" x2="244.3" y2="750" stroke="#000" stroke-width="1.2" />
<text x="238.6" y="753.4" font-family="Liberation Sans" font-size="9.8" text-anchor="end" font-weight="normal" fill="#000" >100</text>
<line x1="240" y1="716.8" x2="244.3" y2="716.8" stroke="#000" stroke-width="1.2" />
<text x="238.6" y="720.2" font-family="Liberation Sans" font-size="9.8" text-anchor="end" font-weight="normal" fill="#000" >150</text>
<line x1="240" y1="683.6" x2="244.3" y2="683.6" stroke="#000" stroke-width="1.2" />
<text x="238.6" y="687" font-family="Liberation Sans" font-size="9.8" text-anchor="end" font-weight="normal" fill="#000" >200</text>
<rect x="252.3" y="786.4" width="10.9" height="30.1" fill="#000" />
<line x1="257.8" y1="782.7" x2="257.8" y2="786.9" stroke="#000" stroke-width="1.1" />
<line x1="254.8" y1="782.7" x2="260.8" y2="782.7" stroke="#000" stroke-width="1.1" />
<rect x="268.9" y="799" width="10.9" height="17.5" fill="#1c7cc3" />
<line x1="274.4" y1="796.3" x2="274.4" y2="799.5" stroke="#1c7cc3" stroke-width="1.1" />
<line x1="271.4" y1="796.3" x2="277.4" y2="796.3" stroke="#1c7cc3" stroke-width="1.1" />
<rect x="285.6" y="786.2" width="10.9" height="30.3" fill="#931a31" />
<line x1="291.1" y1="782.7" x2="291.1" y2="786.7" stroke="#931a31" stroke-width="1.1" />
<line x1="288.1" y1="782.7" x2="294.1" y2="782.7" stroke="#931a31" stroke-width="1.1" />
<rect x="302.2" y="725.6" width="10.9" height="90.9" fill="#5a0878" />
<line x1="307.7" y1="716.2" x2="307.7" y2="726.1" stroke="#5a0878" stroke-width="1.1" />
<line x1="304.7" y1="716.2" x2="310.7" y2="716.2" stroke="#5a0878" stroke-width="1.1" />
<rect x="330.1" y="792.1" width="10.9" height="24.4" fill="#000" />
<line x1="335.6" y1="788.4" x2="335.6" y2="792.6" stroke="#000" stroke-width="1.1" />
<line x1="332.6" y1="788.4" x2="338.6" y2="788.4" stroke="#000" stroke-width="1.1" />
<rect x="346.8" y="802" width="10.9" height="14.5" fill="#1c7cc3" />
<line x1="352.2" y1="799.6" x2="352.2" y2="802.5" stroke="#1c7cc3" stroke-width="1.1" />
<line x1="349.2" y1="799.6" x2="355.2" y2="799.6" stroke="#1c7cc3" stroke-width="1.1" />
<rect x="363.4" y="792.1" width="10.9" height="24.4" fill="#931a31" />
<line x1="368.9" y1="788.4" x2="368.9" y2="792.6" stroke="#931a31" stroke-width="1.1" />
<line x1="365.9" y1="788.4" x2="371.9" y2="788.4" stroke="#931a31" stroke-width="1.1" />
<rect x="380.1" y="731.8" width="10.9" height="84.7" fill="#5a0878" />
<line x1="385.5" y1="721.9" x2="385.5" y2="732.3" stroke="#5a0878" stroke-width="1.1" />
<line x1="382.5" y1="721.9" x2="388.5" y2="721.9" stroke="#5a0878" stroke-width="1.1" />
<line x1="282.7" y1="816.5" x2="282.7" y2="821" stroke="#000" stroke-width="1.2" />
<text x="283.2" y="831.7" font-family="Liberation Sans" font-size="10.9" text-anchor="middle" font-weight="normal" fill="#000" >IL-6</text>
<line x1="360.3" y1="816.5" x2="360.3" y2="821" stroke="#000" stroke-width="1.2" />
<text x="360.8" y="831.7" font-family="Liberation Sans" font-size="10.9" text-anchor="middle" font-weight="normal" fill="#000" >MCP-1</text>
<path d="M257.4 778.5V773.3H274.7V794.3" fill="none" stroke="#000" stroke-width="0.9" />
<text x="266.6" y="775.7" font-family="Liberation Sans" font-size="14.5" text-anchor="middle" font-weight="normal" fill="#000" >*</text>
<path d="M290.9 777.7V708.7H308V714" fill="none" stroke="#000" stroke-width="0.9" />
<text x="299" y="711.1" font-family="Liberation Sans" font-size="14.5" text-anchor="middle" font-weight="normal" fill="#000" >*</text>
<path d="M335.5 782.7V778.5H352.9V797.6" fill="none" stroke="#000" stroke-width="0.9" />
<text x="343" y="780.7" font-family="Liberation Sans" font-size="14.5" text-anchor="middle" font-weight="normal" fill="#000" >*</text>
<path d="M369 786.4V713.2H385.7V718.9" fill="none" stroke="#000" stroke-width="0.9" />
<text x="377.2" y="715.4" font-family="Liberation Sans" font-size="14.5" text-anchor="middle" font-weight="normal" fill="#000" >*</text>
<text x="212.8" y="749.2" font-family="Liberation Sans" font-size="10.55" text-anchor="middle" font-weight="normal" fill="#000" transform="rotate(-90 212.8 749.2)" dy="3.8">Relative expression (pg/ml)</text>
<line x1="474.1" y1="685" x2="474.1" y2="818.5" stroke="#000" stroke-width="1.2" />
<line x1="473.6" y1="818" x2="672.1" y2="818" stroke="#000" stroke-width="1.2" />
<line x1="469.5" y1="818" x2="474.1" y2="818" stroke="#000" stroke-width="1.2" />
<text x="465.8" y="822.2" font-family="Liberation Sans" font-size="10.6" text-anchor="end" font-weight="normal" fill="#000" >0</text>
<line x1="469.5" y1="773.8" x2="474.1" y2="773.8" stroke="#000" stroke-width="1.2" />
<text x="465.8" y="778" font-family="Liberation Sans" font-size="10.6" text-anchor="end" font-weight="normal" fill="#000" >50</text>
<line x1="469.5" y1="729.6" x2="474.1" y2="729.6" stroke="#000" stroke-width="1.2" />
<text x="465.8" y="733.9" font-family="Liberation Sans" font-size="10.6" text-anchor="end" font-weight="normal" fill="#000" >100</text>
<line x1="469.5" y1="685.5" x2="474.1" y2="685.5" stroke="#000" stroke-width="1.2" />
<text x="465.8" y="689.7" font-family="Liberation Sans" font-size="10.6" text-anchor="end" font-weight="normal" fill="#000" >150</text>
<line x1="498.7" y1="818" x2="498.7" y2="822.5" stroke="#000" stroke-width="1.2" />
<text x="499.2" y="832.4" font-family="Liberation Sans" font-size="10.8" text-anchor="middle" font-weight="normal" fill="#000" >0 h</text>
<line x1="547.8" y1="818" x2="547.8" y2="822.5" stroke="#000" stroke-width="1.2" />
<text x="548.3" y="832.4" font-family="Liberation Sans" font-size="10.8" text-anchor="middle" font-weight="normal" fill="#000" >24 h</text>
<line x1="597" y1="818" x2="597" y2="822.5" stroke="#000" stroke-width="1.2" />
<text x="597.5" y="832.4" font-family="Liberation Sans" font-size="10.8" text-anchor="middle" font-weight="normal" fill="#000" >48 h</text>
<line x1="646.2" y1="818" x2="646.2" y2="822.5" stroke="#000" stroke-width="1.2" />
<text x="646.7" y="832.4" font-family="Liberation Sans" font-size="10.8" text-anchor="middle" font-weight="normal" fill="#000" >72 h</text>
<text x="581.5" y="844.7" font-family="Liberation Sans" font-size="11.5" text-anchor="middle" font-weight="normal" fill="#000" >Time(h)</text>
<text x="438.6" y="750.7" font-family="Liberation Sans" font-size="11.2" text-anchor="middle" font-weight="normal" fill="#000" transform="rotate(-90 438.6 750.7)" dy="3.9">Cell proliferation (%)</text>
<path d="M498.7 815L547.8 784L597 755.4L646.2 736.8" fill="none" stroke="#5a0878" stroke-width="1.3" />
<path d="M498.7 819L502.4 812.2L495 812.2Z" fill="#5a0878"/>
<line x1="547.8" y1="780.8" x2="547.8" y2="787.2" stroke="#5a0878" stroke-width="1.1" />
<line x1="544.8" y1="780.8" x2="550.8" y2="780.8" stroke="#5a0878" stroke-width="1.1" />
<line x1="544.8" y1="787.2" x2="550.8" y2="787.2" stroke="#5a0878" stroke-width="1.1" />
<path d="M547.8 788L551.5 781.2L544.1 781.2Z" fill="#5a0878"/>
<line x1="597" y1="748.8" x2="597" y2="762" stroke="#5a0878" stroke-width="1.1" />
<line x1="594" y1="748.8" x2="600" y2="748.8" stroke="#5a0878" stroke-width="1.1" />
<line x1="594" y1="762" x2="600" y2="762" stroke="#5a0878" stroke-width="1.1" />
<path d="M597 759.4L600.7 752.6L593.3 752.6Z" fill="#5a0878"/>
<line x1="646.2" y1="728.2" x2="646.2" y2="745.4" stroke="#5a0878" stroke-width="1.1" />
<line x1="643.2" y1="728.2" x2="649.2" y2="728.2" stroke="#5a0878" stroke-width="1.1" />
<line x1="643.2" y1="745.4" x2="649.2" y2="745.4" stroke="#5a0878" stroke-width="1.1" />
<path d="M646.2 740.8L649.9 734L642.5 734Z" fill="#5a0878"/>
<path d="M498.7 814.3L547.8 810L597 794L646.2 784.8" fill="none" stroke="#1c7cc3" stroke-width="1.3" />
<rect x="495.5" y="811.1" width="6.4" height="6.4" fill="#1c7cc3" />
<line x1="547.8" y1="808" x2="547.8" y2="812" stroke="#1c7cc3" stroke-width="1.1" />
<line x1="544.8" y1="808" x2="550.8" y2="808" stroke="#1c7cc3" stroke-width="1.1" />
<line x1="544.8" y1="812" x2="550.8" y2="812" stroke="#1c7cc3" stroke-width="1.1" />
<rect x="544.6" y="806.8" width="6.4" height="6.4" fill="#1c7cc3" />
<line x1="597" y1="791.4" x2="597" y2="796.6" stroke="#1c7cc3" stroke-width="1.1" />
<line x1="594" y1="791.4" x2="600" y2="791.4" stroke="#1c7cc3" stroke-width="1.1" />
<line x1="594" y1="796.6" x2="600" y2="796.6" stroke="#1c7cc3" stroke-width="1.1" />
<rect x="593.8" y="790.8" width="6.4" height="6.4" fill="#1c7cc3" />
<line x1="646.2" y1="781.8" x2="646.2" y2="787.8" stroke="#1c7cc3" stroke-width="1.1" />
<line x1="643.2" y1="781.8" x2="649.2" y2="781.8" stroke="#1c7cc3" stroke-width="1.1" />
<line x1="643.2" y1="787.8" x2="649.2" y2="787.8" stroke="#1c7cc3" stroke-width="1.1" />
<rect x="643" y="781.6" width="6.4" height="6.4" fill="#1c7cc3" />
<path d="M498.7 815.3L547.8 802.6L597 778.7L646.2 760.9" fill="none" stroke="#931a31" stroke-width="1.3" />
<path d="M498.7 811.3L502.4 818.1L495 818.1Z" fill="#931a31"/>
<line x1="547.8" y1="800.4" x2="547.8" y2="804.8" stroke="#931a31" stroke-width="1.1" />
<line x1="544.8" y1="800.4" x2="550.8" y2="800.4" stroke="#931a31" stroke-width="1.1" />
<line x1="544.8" y1="804.8" x2="550.8" y2="804.8" stroke="#931a31" stroke-width="1.1" />
<path d="M547.8 798.6L551.5 805.4L544.1 805.4Z" fill="#931a31"/>
<line x1="597" y1="775" x2="597" y2="782.4" stroke="#931a31" stroke-width="1.1" />
<line x1="594" y1="775" x2="600" y2="775" stroke="#931a31" stroke-width="1.1" />
<line x1="594" y1="782.4" x2="600" y2="782.4" stroke="#931a31" stroke-width="1.1" />
<path d="M597 774.7L600.7 781.5L593.3 781.5Z" fill="#931a31"/>
<line x1="646.2" y1="756" x2="646.2" y2="765.8" stroke="#931a31" stroke-width="1.1" />
<line x1="643.2" y1="756" x2="649.2" y2="756" stroke="#931a31" stroke-width="1.1" />
<line x1="643.2" y1="765.8" x2="649.2" y2="765.8" stroke="#931a31" stroke-width="1.1" />
<path d="M646.2 756.9L649.9 763.7L642.5 763.7Z" fill="#931a31"/>
<path d="M498.7 815.6L547.8 800.6L597 782.2L646.2 748.6" fill="none" stroke="#000" stroke-width="1.3" />
<circle cx="498.7" cy="815.6" r="3.3" fill="#000"/>
<line x1="547.8" y1="798.6" x2="547.8" y2="802.6" stroke="#000" stroke-width="1.1" />
<line x1="544.8" y1="798.6" x2="550.8" y2="798.6" stroke="#000" stroke-width="1.1" />
<line x1="544.8" y1="802.6" x2="550.8" y2="802.6" stroke="#000" stroke-width="1.1" />
<circle cx="547.8" cy="800.6" r="3.3" fill="#000"/>
<line x1="597" y1="777.5" x2="597" y2="786.9" stroke="#000" stroke-width="1.1" />
<line x1="594" y1="777.5" x2="600" y2="777.5" stroke="#000" stroke-width="1.1" />
<line x1="594" y1="786.9" x2="600" y2="786.9" stroke="#000" stroke-width="1.1" />
<circle cx="597" cy="782.2" r="3.3" fill="#000"/>
<line x1="646.2" y1="741.6" x2="646.2" y2="755.6" stroke="#000" stroke-width="1.1" />
<line x1="643.2" y1="741.6" x2="649.2" y2="741.6" stroke="#000" stroke-width="1.1" />
<line x1="643.2" y1="755.6" x2="649.2" y2="755.6" stroke="#000" stroke-width="1.1" />
<circle cx="646.2" cy="748.6" r="3.3" fill="#000"/>
<line x1="503.6" y1="666.9" x2="518.5" y2="666.9" stroke="#000" stroke-width="1.2" />
<circle cx="511" cy="666.9" r="3" fill="#000"/>
<text x="526" y="670.8" font-family="Liberation Sans" font-size="10.75" text-anchor="start" font-weight="normal" fill="#000" >si-Plac8-NC</text>
<line x1="503.6" y1="681.9" x2="518.5" y2="681.9" stroke="#1c7cc3" stroke-width="1.2" />
<rect x="508.1" y="679.1" width="5.8" height="5.8" fill="#1c7cc3" />
<text x="526" y="685.8" font-family="Liberation Sans" font-size="10.75" text-anchor="start" font-weight="normal" fill="#000" >si-Plac8</text>
<line x1="503.6" y1="697" x2="518.5" y2="697" stroke="#931a31" stroke-width="1.2" />
<path d="M511 693.4L514.3 699.5L507.7 699.5Z" fill="#931a31"/>
<text x="526" y="700.9" font-family="Liberation Sans" font-size="10.75" text-anchor="start" font-weight="normal" fill="#000" >Plac8-NC</text>
<line x1="503.6" y1="712" x2="518.5" y2="712" stroke="#5a0878" stroke-width="1.2" />
<path d="M511 715.6L514.3 709.5L507.7 709.5Z" fill="#5a0878"/>
<text x="526" y="715.9" font-family="Liberation Sans" font-size="10.75" text-anchor="start" font-weight="normal" fill="#000" >Plac8</text>
<line x1="663.5" y1="733.7" x2="663.5" y2="758.9" stroke="#000" stroke-width="0.9" />
<text x="668.4" y="750" font-family="Liberation Sans" font-size="12.5" text-anchor="middle" font-weight="normal" fill="#000" >*</text>
<line x1="655.6" y1="749.7" x2="655.6" y2="783.4" stroke="#000" stroke-width="0.9" />
<text x="660.6" y="772.4" font-family="Liberation Sans" font-size="12.5" text-anchor="middle" font-weight="normal" fill="#000" >*</text>
<rect x="507.9" y="913.8" width="18.8" height="8.4" fill="#000" />
<text x="536.8" y="922.9" font-family="Liberation Sans" font-size="13.6" text-anchor="start" font-weight="normal" fill="#000" >si-Plac8-NC</text>
<rect x="507.9" y="936.3" width="18.8" height="8.4" fill="#1c7cc3" />
<text x="536.8" y="945.4" font-family="Liberation Sans" font-size="13.6" text-anchor="start" font-weight="normal" fill="#000" >si-Plac8</text>
<rect x="507.9" y="958.8" width="18.8" height="8.4" fill="#931a31" />
<text x="536.8" y="967.9" font-family="Liberation Sans" font-size="13.6" text-anchor="start" font-weight="normal" fill="#000" >Plac8-NC</text>
<rect x="507.9" y="981.3" width="18.8" height="8.4" fill="#5a0878" />
<text x="536.8" y="990.4" font-family="Liberation Sans" font-size="13.6" text-anchor="start" font-weight="normal" fill="#000" >Plac8</text>
<line x1="489.8" y1="996.1" x2="489.8" y2="1165.1" stroke="#000" stroke-width="1.4" />
<line x1="489.1" y1="1164.4" x2="653.3" y2="1164.4" stroke="#000" stroke-width="1.4" />
<line x1="483.6" y1="1164.4" x2="489.8" y2="1164.4" stroke="#000" stroke-width="1.4" />
<text x="481.8" y="1169.4" font-family="Liberation Sans" font-size="12" text-anchor="end" font-weight="normal" fill="#000" >0.0</text>
<line x1="483.6" y1="1130.9" x2="489.8" y2="1130.9" stroke="#000" stroke-width="1.4" />
<text x="481.8" y="1135.9" font-family="Liberation Sans" font-size="12" text-anchor="end" font-weight="normal" fill="#000" >0.2</text>
<line x1="483.6" y1="1097.4" x2="489.8" y2="1097.4" stroke="#000" stroke-width="1.4" />
<text x="481.8" y="1102.4" font-family="Liberation Sans" font-size="12" text-anchor="end" font-weight="normal" fill="#000" >0.4</text>
<line x1="483.6" y1="1063.8" x2="489.8" y2="1063.8" stroke="#000" stroke-width="1.4" />
<text x="481.8" y="1068.8" font-family="Liberation Sans" font-size="12" text-anchor="end" font-weight="normal" fill="#000" >0.6</text>
<line x1="483.6" y1="1030.3" x2="489.8" y2="1030.3" stroke="#000" stroke-width="1.4" />
<text x="481.8" y="1035.3" font-family="Liberation Sans" font-size="12" text-anchor="end" font-weight="normal" fill="#000" >0.8</text>
<line x1="483.6" y1="996.8" x2="489.8" y2="996.8" stroke="#000" stroke-width="1.4" />
<text x="481.8" y="1001.8" font-family="Liberation Sans" font-size="12" text-anchor="end" font-weight="normal" fill="#000" >1.0</text>
<rect x="507.2" y="1060.9" width="22.9" height="103.5" fill="#000" />
<line x1="518.6" y1="1055.6" x2="518.6" y2="1061.4" stroke="#000" stroke-width="1.2" />
<line x1="512.9" y1="1055.6" x2="524.4" y2="1055.6" stroke="#000" stroke-width="1.2" />
<rect x="542.2" y="1095.2" width="22.8" height="69.2" fill="#1c7cc3" />
<line x1="553.6" y1="1088.1" x2="553.6" y2="1095.7" stroke="#1c7cc3" stroke-width="1.2" />
<line x1="547.9" y1="1088.1" x2="559.4" y2="1088.1" stroke="#1c7cc3" stroke-width="1.2" />
<rect x="577.4" y="1062.9" width="23.2" height="101.5" fill="#931a31" />
<line x1="589" y1="1056.9" x2="589" y2="1063.4" stroke="#931a31" stroke-width="1.2" />
<line x1="583.2" y1="1056.9" x2="594.8" y2="1056.9" stroke="#931a31" stroke-width="1.2" />
<rect x="612.3" y="1040.8" width="23.2" height="123.6" fill="#5a0878" />
<line x1="623.9" y1="1036.1" x2="623.9" y2="1041.3" stroke="#5a0878" stroke-width="1.2" />
<line x1="618.1" y1="1036.1" x2="629.6" y2="1036.1" stroke="#5a0878" stroke-width="1.2" />
<path d="M518.3 1051.5V1045.5H553.9V1083.4" fill="none" stroke="#000" stroke-width="1" />
<text x="536.8" y="1047.9" font-family="Liberation Sans" font-size="19" text-anchor="middle" font-weight="normal" fill="#000" >*</text>
<path d="M587.8 1053.9V1022.6H623.8V1032" fill="none" stroke="#000" stroke-width="1" />
<text x="606" y="1023.7" font-family="Liberation Sans" font-size="19" text-anchor="middle" font-weight="normal" fill="#000" >*</text>
<text x="452.8" y="1080.2" font-family="Liberation Sans" font-size="13.8" text-anchor="middle" font-weight="normal" fill="#000" transform="rotate(-90 452.8 1080.2)" dy="4.8">Proliferation index (PI)</text>
<pattern id="hatch2" width="2.2" height="2.2" patternUnits="userSpaceOnUse" patternTransform="rotate(-45)"><line x1="0" y1="0" x2="0" y2="2.2" stroke="#2a2ac8" stroke-width="0.8"/></pattern>
<path d="M99.3 1018.2L99.3 1017.9L100 1017.3L100.6 1016.5L101.2 1015.4L101.8 1014.3L102.4 1012.9L103.1 1011.4L103.7 1009.8L104.3 1008.1L104.9 1006.2L105.5 1004.3L106.2 1002.2L106.8 1000L107.4 997.7L108 995.3L108.7 992.8L109.3 990.2L109.9 987.5L110.5 984.8L111.1 981.9L111.8 979L112.4 980.3L113 981.3L113.6 982.2L114.2 983L114.9 983.8L115.5 984.6L116.1 985.3L116.7 986L117.4 986.7L118 987.4L118.6 988.1L119.2 988.8L119.8 989.4L120.5 990L121.1 990.7L121.7 991.3L122.3 991.9L122.9 992.5L123.6 993.1L124.2 993.7L124.8 994.3L125.4 994.9L126 995.4L126.7 996L127.3 996.6L127.9 997.1L128.5 997.7L129.2 998.3L129.8 998.8L130.4 999.3L131 999.9L131.6 1000.4L132.3 1001L132.9 1001.5L133.5 1002L134.1 1002.5L134.7 1003.1L135.4 1003.6L136 1004.1L136.6 1004.6L137.2 1005.1L137.9 1005.6L138.5 1006.2L139.1 1006.7L139.7 1007.2L140.3 1007.7L141 1008.2L141.6 1008.7L142.2 1009.1L142.8 1009.7L143.4 1010.3L144.1 1010.8L144.7 1011.4L145.3 1012L145.9 1012.5L146.5 1013.1L147.2 1013.7L147.8 1014.2L148.4 1014.8L149 1015.4L149.7 1015.9L150.3 1016.5L150.9 1017.1L151.5 1017.6L151.5 1018.2Z" fill="url(#hatch)" stroke="#222" stroke-width="0.5" />
<path d="M90 1018.2L90 1018L90.6 1017.8L91.3 1017.5L91.9 1017L92.5 1016.3L93.1 1015.3L93.7 1013.9L94.4 1011.8L95 1009L95.6 1005.3L96.2 1000.7L96.8 994.9L97.5 988.1L98.1 980.2L98.7 971.6L99.3 962.4L100 953.1L100.6 944.3L101.2 936.4L101.8 930L102.4 925.5L103.1 923.3L103.7 923.6L104.3 926.2L104.9 931.1L105.5 937.9L106.2 946L106.8 955L107.4 964.3L108 973.4L108.7 981.9L109.3 989.5L109.9 996.2L110.5 1001.7L111.1 1006.1L111.8 1009.6L112.4 1012.3L113 1014.2L113.6 1015.6L114.2 1016.5L114.9 1017.1L115.5 1017.6L116.1 1017.8L116.7 1018L116.7 1018.2Z" fill="#f00000" stroke="#300" stroke-width="0.5" />
<path d="M132.3 1018.2L132.3 1017.9L132.9 1017.9L133.5 1017.8L134.1 1017.6L134.7 1017.5L135.4 1017.3L136 1017L136.6 1016.8L137.2 1016.4L137.9 1016L138.5 1015.6L139.1 1015.1L139.7 1014.6L140.3 1014L141 1013.3L141.6 1012.6L142.2 1011.8L142.8 1011.1L143.4 1010.3L144.1 1009.5L144.7 1008.7L145.3 1008L145.9 1007.3L146.5 1006.7L147.2 1006.1L147.8 1005.7L148.4 1005.4L149 1005.2L149.7 1005.1L150.3 1005.2L150.9 1005.4L151.5 1005.7L152.1 1006.1L152.8 1006.7L153.4 1007.3L154 1008L154.6 1008.7L155.2 1009.5L155.9 1010.3L156.5 1011.1L157.1 1011.8L157.7 1012.6L158.4 1013.3L159 1014L159.6 1014.6L160.2 1015.1L160.8 1015.6L161.5 1016L162.1 1016.4L162.7 1016.8L163.3 1017L163.9 1017.3L164.6 1017.5L165.2 1017.6L165.8 1017.8L166.4 1017.9L167.1 1017.9L167.1 1018.2Z" fill="#f00000" stroke="#300" stroke-width="0.5" />
<path d="M99.3 1018.2L99.3 1017.9L100 1017.3L100.6 1016.5L101.2 1015.4L101.8 1014.3L102.4 1012.9L103.1 1011.4L103.7 1009.8L104.3 1008.1L104.9 1006.2L105.5 1004.3L106.2 1002.2L106.8 1000L107.4 997.7L108 995.3L108.7 992.8L109.3 990.2L109.9 996.2L110.5 1001.7L111.1 1006.1L111.8 1009.6L112.4 1012.3L113 1014.2L113.6 1015.6L114.2 1016.5L114.9 1017.1L115.5 1017.6L116.1 1017.8L116.7 1018L116.7 1018.2Z" fill="url(#hatch2)" stroke="none" stroke-width="0" />
<path d="M131.6 1018.2L131.6 1018L132.3 1017.9L132.9 1017.9L133.5 1017.8L134.1 1017.6L134.7 1017.5L135.4 1017.3L136 1017L136.6 1016.8L137.2 1016.4L137.9 1016L138.5 1015.6L139.1 1015.1L139.7 1014.6L140.3 1014L141 1013.3L141.6 1012.6L142.2 1011.8L142.8 1011.1L143.4 1010.3L144.1 1010.8L144.7 1011.4L145.3 1012L145.9 1012.5L146.5 1013.1L147.2 1013.7L147.8 1014.2L148.4 1014.8L149 1015.4L149.7 1015.9L150.3 1016.5L150.9 1017.1L151.5 1017.6L151.5 1018.2Z" fill="url(#hatch2)" stroke="none" stroke-width="0" />
<path d="M80.1 1018.2L80.7 1018.2L81.3 1018.2L81.9 1018.2L82.6 1018.2L83.2 1018.2L83.8 1018.2L84.4 1018.2L85 1018.2L85.7 1018.2L86.3 1018.2L86.9 1018.2L87.5 1018.2L88.2 1018.1L88.8 1018.1L89.4 1018L90 1017.9L90.6 1017.6L91.3 1017.2L91.9 1016.7L92.5 1015.8L93.1 1014.5L93.7 1012.7L94.4 1010.1L95 1006.7L95.6 1002.3L96.2 996.7L96.8 989.9L97.5 981.8L98.1 972.6L98.7 962.5L99.3 951.6L100 940.3L100.6 929.4L101.2 919.4L101.8 911L102.4 904.8L103.1 901L103.7 899.9L104.3 901.4L104.9 905.3L105.5 911.3L106.2 918.6L106.8 926.9L107.4 935.3L108 943.4L108.7 950.7L109.3 957L109.9 961.9L110.5 965.6L111.1 967.9L111.8 968.9L112.4 973.3L113 976.6L113.6 979.1L114.2 981L114.9 982.6L115.5 983.8L116.1 984.9L116.7 985.8L117.4 986.6L118 987.3L118.6 988.1L119.2 988.7L119.8 989.4L120.5 990L121.1 990.7L121.7 991.3L122.3 991.9L122.9 992.5L123.6 993.1L124.2 993.7L124.8 994.3L125.4 994.9L126 995.4L126.7 996L127.3 996.5L127.9 997.1L128.5 997.6L129.2 998.2L129.8 998.7L130.4 999.2L131 999.6L131.6 1000.1L132.3 1000.5L132.9 1000.9L133.5 1001.2L134.1 1001.5L134.7 1001.8L135.4 1002L136 1002.1L136.6 1002.2L137.2 1002.2L137.9 1002.1L138.5 1001.9L139.1 1001.7L139.7 1001.4L140.3 1001L141 1000.5L141.6 1000.1L142.2 999.6L142.8 999.1L143.4 998.7L144.1 998.3L144.7 998L145.3 997.7L145.9 997.6L146.5 997.6L147.2 997.7L147.8 997.9L148.4 998.3L149 998.9L149.7 999.6L150.3 1000.5L150.9 1001.5L151.5 1002.7L152.1 1004L152.8 1004.8L153.4 1005.6L154 1006.5L154.6 1007.5L155.2 1008.5L155.9 1009.4L156.5 1010.4L157.1 1011.3L157.7 1012.1L158.4 1013L159 1013.7L159.6 1014.4L160.2 1015L160.8 1015.5L161.5 1016L162.1 1016.4L162.7 1016.7L163.3 1017L163.9 1017.2L164.6 1017.5L165.2 1017.6L165.8 1017.7L166.4 1017.9L167.1 1017.9L167.7 1018L168.3 1018.1L168.9 1018.1L169.5 1018.1L170.2 1018.1L170.8 1018.2L171.4 1018.2L172 1018.2L172.6 1018.2L173.3 1018.2L173.9 1018.2L174.5 1018.2L175.1 1018.2L175.7 1018.2L176.4 1018.2L177 1018.2L177.6 1018.2L178.2 1018.2L178.9 1018.2" fill="none" stroke="#000" stroke-width="0.6" />
<path d="M82.6 1017.8L83.6 1018.1L84.5 1017.9L85.5 1018L86.5 1017.8L87.5 1018.2L88.5 1018.1L89.5 1017.9L90.5 1018.2L91.5 1018.2L92.5 1013.8L93.5 1012L94.5 1004.9L95.5 999.9L96.5 993.7L97.5 981.7L98.5 955.7L99.5 948.4L100.5 932.3L101.4 918L102.4 900.9L103.4 895.7L104.4 900.2L105.4 907L106.4 917.8L107.4 929.9L108.4 941.4L109.4 955.5L110.4 969.9L111.4 964.4L112.4 977L113.4 977.5L114.4 985.2L115.4 982.5L116.4 986.8L117.4 984.9L118.3 976.1L119.3 988.1L120.3 986.3L121.3 994.3L122.3 992L123.3 990L124.3 993.4L125.3 992.9L126.3 994.7L127.3 999L128.3 995.1L129.3 1000.2L130.3 992.8L131.3 1000.8L132.3 997.9L133.3 1000.6L134.2 998.2L135.2 1003.3L136.2 998.7L137.2 1002.1L138.2 997.7L139.2 999.2L140.2 1000.1L141.2 1002.2L142.2 996.7L143.2 996.9L144.2 992.6L145.2 998.3L146.2 995.2L147.2 995.5L148.2 996.7L149.2 997.8L150.2 999.2L151.1 1003.3L152.1 1006.5L153.1 1006L154.1 1004.7L155.1 1003.6L156.1 1006.8L157.1 1008.1L158.1 1010.3L159.1 1011.7L160.1 1014.2L161.1 1013.5L162.1 1011.4L163.1 1017.8L164.1 1018.2L165.1 1012.2L166.1 1017.1L167.1 1015.3L168 1017.9L169 1017.9L170 1017.5L171 1017.7L172 1018.1L173 1018L174 1018.2L175 1017.9L176 1018.2L177 1018.1L178 1017.9L179 1018L180 1018.2L181 1017.8" fill="none" stroke="#000" stroke-width="0.5" />
<line x1="42.8" y1="867.3" x2="42.8" y2="1018.2" stroke="#222" stroke-width="0.7" />
<line x1="42.8" y1="1018.2" x2="191.9" y2="1018.2" stroke="#222" stroke-width="0.7" />
<line x1="42.8" y1="1018.2" x2="42.8" y2="1021.4" stroke="#222" stroke-width="0.5" />
<line x1="47.8" y1="1018.2" x2="47.8" y2="1019.9" stroke="#222" stroke-width="0.5" />
<line x1="52.7" y1="1018.2" x2="52.7" y2="1019.9" stroke="#222" stroke-width="0.5" />
<line x1="57.7" y1="1018.2" x2="57.7" y2="1019.9" stroke="#222" stroke-width="0.5" />
<line x1="62.7" y1="1018.2" x2="62.7" y2="1019.9" stroke="#222" stroke-width="0.5" />
<line x1="67.7" y1="1018.2" x2="67.7" y2="1021.4" stroke="#222" stroke-width="0.5" />
<line x1="72.6" y1="1018.2" x2="72.6" y2="1019.9" stroke="#222" stroke-width="0.5" />
<line x1="77.6" y1="1018.2" x2="77.6" y2="1019.9" stroke="#222" stroke-width="0.5" />
<line x1="82.6" y1="1018.2" x2="82.6" y2="1019.9" stroke="#222" stroke-width="0.5" />
<line x1="87.5" y1="1018.2" x2="87.5" y2="1019.9" stroke="#222" stroke-width="0.5" />
<line x1="92.5" y1="1018.2" x2="92.5" y2="1021.4" stroke="#222" stroke-width="0.5" />
<line x1="97.5" y1="1018.2" x2="97.5" y2="1019.9" stroke="#222" stroke-width="0.5" />
<line x1="102.4" y1="1018.2" x2="102.4" y2="1019.9" stroke="#222" stroke-width="0.5" />
<line x1="107.4" y1="1018.2" x2="107.4" y2="1019.9" stroke="#222" stroke-width="0.5" />
<line x1="112.4" y1="1018.2" x2="112.4" y2="1019.9" stroke="#222" stroke-width="0.5" />
<line x1="117.4" y1="1018.2" x2="117.4" y2="1021.4" stroke="#222" stroke-width="0.5" />
<line x1="122.3" y1="1018.2" x2="122.3" y2="1019.9" stroke="#222" stroke-width="0.5" />
<line x1="127.3" y1="1018.2" x2="127.3" y2="1019.9" stroke="#222" stroke-width="0.5" />
<line x1="132.3" y1="1018.2" x2="132.3" y2="1019.9" stroke="#222" stroke-width="0.5" />
<line x1="137.2" y1="1018.2" x2="137.2" y2="1019.9" stroke="#222" stroke-width="0.5" />
<line x1="142.2" y1="1018.2" x2="142.2" y2="1021.4" stroke="#222" stroke-width="0.5" />
<line x1="147.2" y1="1018.2" x2="147.2" y2="1019.9" stroke="#222" stroke-width="0.5" />
<line x1="152.1" y1="1018.2" x2="152.1" y2="1019.9" stroke="#222" stroke-width="0.5" />
<line x1="157.1" y1="1018.2" x2="157.1" y2="1019.9" stroke="#222" stroke-width="0.5" />
<line x1="162.1" y1="1018.2" x2="162.1" y2="1019.9" stroke="#222" stroke-width="0.5" />
<line x1="167.1" y1="1018.2" x2="167.1" y2="1021.4" stroke="#222" stroke-width="0.5" />
<line x1="172" y1="1018.2" x2="172" y2="1019.9" stroke="#222" stroke-width="0.5" />
<line x1="177" y1="1018.2" x2="177" y2="1019.9" stroke="#222" stroke-width="0.5" />
<line x1="182" y1="1018.2" x2="182" y2="1019.9" stroke="#222" stroke-width="0.5" />
<line x1="186.9" y1="1018.2" x2="186.9" y2="1019.9" stroke="#222" stroke-width="0.5" />
<line x1="191.9" y1="1018.2" x2="191.9" y2="1021.4" stroke="#222" stroke-width="0.5" />
<text x="42.8" y="1030.8" font-family="Liberation Serif" font-size="5.4" text-anchor="middle" font-weight="normal" fill="#111" >0</text>
<text x="67.7" y="1030.8" font-family="Liberation Serif" font-size="5.4" text-anchor="middle" font-weight="normal" fill="#111" >20</text>
<text x="92.5" y="1030.8" font-family="Liberation Serif" font-size="5.4" text-anchor="middle" font-weight="normal" fill="#111" >40</text>
<text x="117.4" y="1030.8" font-family="Liberation Serif" font-size="5.4" text-anchor="middle" font-weight="normal" fill="#111" >60</text>
<text x="142.2" y="1030.8" font-family="Liberation Serif" font-size="5.4" text-anchor="middle" font-weight="normal" fill="#111" >80</text>
<text x="167.1" y="1030.8" font-family="Liberation Serif" font-size="5.4" text-anchor="middle" font-weight="normal" fill="#111" >100</text>
<text x="191.9" y="1030.8" font-family="Liberation Serif" font-size="5.4" text-anchor="middle" font-weight="normal" fill="#111" >120</text>
<line x1="39.6" y1="1018.2" x2="42.8" y2="1018.2" stroke="#222" stroke-width="0.5" />
<text x="33.8" y="1018.2" font-family="Liberation Serif" font-size="5" text-anchor="middle" font-weight="normal" fill="#111" transform="rotate(-90 33.8 1018.2)" dy="1.7">0</text>
<line x1="41.1" y1="1013.2" x2="42.8" y2="1013.2" stroke="#222" stroke-width="0.5" />
<line x1="41.1" y1="1008.1" x2="42.8" y2="1008.1" stroke="#222" stroke-width="0.5" />
<line x1="41.1" y1="1003.1" x2="42.8" y2="1003.1" stroke="#222" stroke-width="0.5" />
<line x1="41.1" y1="998.1" x2="42.8" y2="998.1" stroke="#222" stroke-width="0.5" />
<line x1="39.6" y1="993.1" x2="42.8" y2="993.1" stroke="#222" stroke-width="0.5" />
<text x="33.8" y="993.1" font-family="Liberation Serif" font-size="5" text-anchor="middle" font-weight="normal" fill="#111" transform="rotate(-90 33.8 993.1)" dy="1.7">50</text>
<line x1="41.1" y1="988" x2="42.8" y2="988" stroke="#222" stroke-width="0.5" />
<line x1="41.1" y1="983" x2="42.8" y2="983" stroke="#222" stroke-width="0.5" />
<line x1="41.1" y1="978" x2="42.8" y2="978" stroke="#222" stroke-width="0.5" />
<line x1="41.1" y1="972.9" x2="42.8" y2="972.9" stroke="#222" stroke-width="0.5" />
<line x1="39.6" y1="967.9" x2="42.8" y2="967.9" stroke="#222" stroke-width="0.5" />
<text x="33.8" y="967.9" font-family="Liberation Serif" font-size="5" text-anchor="middle" font-weight="normal" fill="#111" transform="rotate(-90 33.8 967.9)" dy="1.7">100</text>
<line x1="41.1" y1="962.9" x2="42.8" y2="962.9" stroke="#222" stroke-width="0.5" />
<line x1="41.1" y1="957.8" x2="42.8" y2="957.8" stroke="#222" stroke-width="0.5" />
<line x1="41.1" y1="952.8" x2="42.8" y2="952.8" stroke="#222" stroke-width="0.5" />
<line x1="41.1" y1="947.8" x2="42.8" y2="947.8" stroke="#222" stroke-width="0.5" />
<line x1="39.6" y1="942.8" x2="42.8" y2="942.8" stroke="#222" stroke-width="0.5" />
<text x="33.8" y="942.8" font-family="Liberation Serif" font-size="5" text-anchor="middle" font-weight="normal" fill="#111" transform="rotate(-90 33.8 942.8)" dy="1.7">150</text>
<line x1="41.1" y1="937.7" x2="42.8" y2="937.7" stroke="#222" stroke-width="0.5" />
<line x1="41.1" y1="932.7" x2="42.8" y2="932.7" stroke="#222" stroke-width="0.5" />
<line x1="41.1" y1="927.7" x2="42.8" y2="927.7" stroke="#222" stroke-width="0.5" />
<line x1="41.1" y1="922.6" x2="42.8" y2="922.6" stroke="#222" stroke-width="0.5" />
<line x1="39.6" y1="917.6" x2="42.8" y2="917.6" stroke="#222" stroke-width="0.5" />
<text x="33.8" y="917.6" font-family="Liberation Serif" font-size="5" text-anchor="middle" font-weight="normal" fill="#111" transform="rotate(-90 33.8 917.6)" dy="1.7">200</text>
<line x1="41.1" y1="912.6" x2="42.8" y2="912.6" stroke="#222" stroke-width="0.5" />
<line x1="41.1" y1="907.5" x2="42.8" y2="907.5" stroke="#222" stroke-width="0.5" />
<line x1="41.1" y1="902.5" x2="42.8" y2="902.5" stroke="#222" stroke-width="0.5" />
<line x1="41.1" y1="897.5" x2="42.8" y2="897.5" stroke="#222" stroke-width="0.5" />
<line x1="39.6" y1="892.4" x2="42.8" y2="892.4" stroke="#222" stroke-width="0.5" />
<text x="33.8" y="892.4" font-family="Liberation Serif" font-size="5" text-anchor="middle" font-weight="normal" fill="#111" transform="rotate(-90 33.8 892.4)" dy="1.7">250</text>
<line x1="41.1" y1="887.4" x2="42.8" y2="887.4" stroke="#222" stroke-width="0.5" />
<line x1="41.1" y1="882.4" x2="42.8" y2="882.4" stroke="#222" stroke-width="0.5" />
<line x1="41.1" y1="877.4" x2="42.8" y2="877.4" stroke="#222" stroke-width="0.5" />
<line x1="41.1" y1="872.3" x2="42.8" y2="872.3" stroke="#222" stroke-width="0.5" />
<line x1="39.6" y1="867.3" x2="42.8" y2="867.3" stroke="#222" stroke-width="0.5" />
<text x="33.8" y="867.3" font-family="Liberation Serif" font-size="5" text-anchor="middle" font-weight="normal" fill="#111" transform="rotate(-90 33.8 867.3)" dy="1.7">300</text>
<text x="117.3" y="1038.5" font-family="Liberation Serif" font-size="5.6" text-anchor="middle" font-weight="normal" fill="#111" textLength="83" lengthAdjust="spacing">Red-B Fluorescence (RED-B-HLin)</text>
<text x="25.3" y="942.8" font-family="Liberation Serif" font-size="5.6" text-anchor="middle" font-weight="normal" fill="#111" transform="rotate(-90 25.3 942.8)" dy="1.5" textLength="20" lengthAdjust="spacing">Number</text>
<path d="M102.8 1019.4l2.2 3.6h-4.4z" fill="#000"/>
<rect x="160.3" y="863.1" width="5.7" height="5.3" fill="#f00000" />
<rect x="160.3" y="869.6" width="5.7" height="5.2" fill="#f00000" />
<rect x="160.4" y="876" width="5.5" height="5" fill="url(#hatch)" stroke="#999" stroke-width="0.3"/>
<text x="167.8" y="867.7" font-family="Liberation Serif" font-size="5.4" text-anchor="start" font-weight="bold" fill="#3030ff" textLength="11.5" lengthAdjust="spacing">G0G1</text>
<text x="167.8" y="874.1" font-family="Liberation Serif" font-size="5.4" text-anchor="start" font-weight="bold" fill="#3030ff" textLength="9" lengthAdjust="spacing">G2M</text>
<text x="167.8" y="880.5" font-family="Liberation Serif" font-size="5.4" text-anchor="start" font-weight="bold" fill="#3030ff" textLength="17" lengthAdjust="spacing">S-Phase</text>
<text x="119.4" y="856" font-family="Liberation Sans" font-size="12.5" text-anchor="middle" font-weight="normal" fill="#000" >si-Plac8-NC</text>
<path d="M297.1 1018.1L297.1 1018L297.7 1017.8L298.3 1017.4L299 1017L299.6 1016.6L300.2 1016.1L300.8 1015.5L301.4 1014.9L302.1 1014.2L302.7 1013.5L303.3 1012.8L303.9 1012L304.5 1011.1L305.2 1010.3L305.8 1009.3L306.4 1008.4L307 1007.4L307.6 1006.4L308.3 1005.3L308.9 1004.2L309.5 1004.3L310.1 1004.4L310.7 1004.5L311.4 1004.5L312 1004.6L312.6 1004.6L313.2 1004.7L313.9 1004.8L314.5 1004.8L315.1 1004.9L315.7 1004.9L316.3 1005L317 1005L317.6 1005.1L318.2 1005.1L318.8 1005.2L319.4 1005.2L320.1 1005.3L320.7 1005.3L321.3 1005.3L321.9 1005.4L322.5 1005.4L323.2 1005.5L323.8 1005.5L324.4 1005.6L325 1005.6L325.6 1005.6L326.3 1005.7L326.9 1005.7L327.5 1005.8L328.1 1005.8L328.7 1005.9L329.4 1005.9L330 1005.9L330.6 1006L331.2 1006L331.8 1006.1L332.5 1006.1L333.1 1006.1L333.7 1006.2L334.3 1006.2L334.9 1006.3L335.6 1006.3L336.2 1006.3L336.8 1006.4L337.4 1006.4L338 1006.4L338.7 1006.5L339.3 1006.5L339.9 1006.6L340.5 1006.6L341.1 1006.6L341.8 1007.3L342.4 1008.1L343 1008.8L343.6 1009.5L344.3 1010.2L344.9 1010.9L345.5 1011.6L346.1 1012.4L346.7 1013.1L347.4 1013.8L348 1014.5L348.6 1015.2L349.2 1015.9L349.8 1016.7L350.5 1017.4L350.5 1018.1Z" fill="url(#hatch)" stroke="#222" stroke-width="0.5" />
<path d="M286.6 1018.1L286.6 1017.8L287.2 1017.7L287.8 1017.4L288.4 1017L289 1016.4L289.7 1015.5L290.3 1014.2L290.9 1012.4L291.5 1010L292.1 1006.7L292.8 1002.5L293.4 997.2L294 990.8L294.6 983L295.2 974.1L295.9 964L296.5 953.1L297.1 941.7L297.7 930.2L298.3 919.1L299 908.9L299.6 900.4L300.2 893.8L300.8 889.7L301.4 888.3L302.1 889.7L302.7 893.8L303.3 900.4L303.9 908.9L304.5 919.1L305.2 930.2L305.8 941.7L306.4 953.1L307 964L307.6 974.1L308.3 983L308.9 990.8L309.5 997.2L310.1 1002.5L310.7 1006.7L311.4 1010L312 1012.4L312.6 1014.2L313.2 1015.5L313.9 1016.4L314.5 1017L315.1 1017.4L315.7 1017.7L316.3 1017.8L316.3 1018.1Z" fill="#f00000" stroke="#300" stroke-width="0.5" />
<path d="M329.4 1018.1L329.4 1017.8L330 1017.8L330.6 1017.6L331.2 1017.5L331.8 1017.3L332.5 1017.1L333.1 1016.9L333.7 1016.5L334.3 1016.2L334.9 1015.7L335.6 1015.2L336.2 1014.6L336.8 1014L337.4 1013.2L338 1012.4L338.7 1011.5L339.3 1010.6L339.9 1009.6L340.5 1008.5L341.1 1007.5L341.8 1006.4L342.4 1005.4L343 1004.4L343.6 1003.5L344.3 1002.7L344.9 1001.9L345.5 1001.4L346.1 1000.9L346.7 1000.7L347.4 1000.6L348 1000.7L348.6 1000.9L349.2 1001.4L349.8 1001.9L350.5 1002.7L351.1 1003.5L351.7 1004.4L352.3 1005.4L352.9 1006.4L353.6 1007.5L354.2 1008.5L354.8 1009.6L355.4 1010.6L356 1011.5L356.7 1012.4L357.3 1013.2L357.9 1014L358.5 1014.6L359.1 1015.2L359.8 1015.7L360.4 1016.2L361 1016.5L361.6 1016.9L362.2 1017.1L362.9 1017.3L363.5 1017.5L364.1 1017.6L364.7 1017.8L365.3 1017.8L365.3 1018.1Z" fill="#f00000" stroke="#300" stroke-width="0.5" />
<path d="M297.7 1018.1L297.7 1017.8L298.3 1017.4L299 1017L299.6 1016.6L300.2 1016.1L300.8 1015.5L301.4 1014.9L302.1 1014.2L302.7 1013.5L303.3 1012.8L303.9 1012L304.5 1011.1L305.2 1010.3L305.8 1009.3L306.4 1008.4L307 1007.4L307.6 1006.4L308.3 1005.3L308.9 1004.2L309.5 1004.3L310.1 1004.4L310.7 1006.7L311.4 1010L312 1012.4L312.6 1014.2L313.2 1015.5L313.9 1016.4L314.5 1017L315.1 1017.4L315.7 1017.7L316.3 1017.8L316.3 1018.1Z" fill="url(#hatch2)" stroke="none" stroke-width="0" />
<path d="M328.7 1018.1L328.7 1017.9L329.4 1017.8L330 1017.8L330.6 1017.6L331.2 1017.5L331.8 1017.3L332.5 1017.1L333.1 1016.9L333.7 1016.5L334.3 1016.2L334.9 1015.7L335.6 1015.2L336.2 1014.6L336.8 1014L337.4 1013.2L338 1012.4L338.7 1011.5L339.3 1010.6L339.9 1009.6L340.5 1008.5L341.1 1007.5L341.8 1007.3L342.4 1008.1L343 1008.8L343.6 1009.5L344.3 1010.2L344.9 1010.9L345.5 1011.6L346.1 1012.4L346.7 1013.1L347.4 1013.8L348 1014.5L348.6 1015.2L349.2 1015.9L349.8 1016.7L350.5 1017.4L350.5 1018.1Z" fill="url(#hatch2)" stroke="none" stroke-width="0" />
<path d="M276.6 1018.1L277.2 1018.1L277.9 1018.1L278.5 1018.1L279.1 1018.1L279.7 1018.1L280.3 1018.1L281 1018.1L281.6 1018.1L282.2 1018.1L282.8 1018.1L283.4 1018.1L284.1 1018.1L284.7 1018L285.3 1018L285.9 1017.9L286.6 1017.8L287.2 1017.6L287.8 1017.4L288.4 1016.9L289 1016.3L289.7 1015.3L290.3 1013.9L290.9 1012.1L291.5 1009.5L292.1 1006.1L292.8 1001.7L293.4 996.2L294 989.4L294.6 981.4L295.2 972.1L295.9 961.6L296.5 950.3L297.1 938.4L297.7 926.2L298.3 914.4L299 903.6L299.6 894.3L300.2 887.1L300.8 882.3L301.4 880.3L302.1 881.1L302.7 884.7L303.3 890.8L303.9 898.9L304.5 908.5L305.2 919.2L305.8 930.2L306.4 941.1L307 951.4L307.6 960.8L308.3 968.9L308.9 975.8L309.5 982.7L310.1 988.2L310.7 992.6L311.4 996.1L312 998.7L312.6 1000.6L313.2 1002L313.9 1003L314.5 1003.7L315.1 1004.1L315.7 1004.5L316.3 1004.7L317 1004.9L317.6 1005L318.2 1005.1L318.8 1005.1L319.4 1005.2L320.1 1005.2L320.7 1005.3L321.3 1005.3L321.9 1005.4L322.5 1005.4L323.2 1005.5L323.8 1005.5L324.4 1005.5L325 1005.5L325.6 1005.6L326.3 1005.6L326.9 1005.6L327.5 1005.6L328.1 1005.5L328.7 1005.5L329.4 1005.4L330 1005.2L330.6 1005L331.2 1004.8L331.8 1004.5L332.5 1004.1L333.1 1003.7L333.7 1003.1L334.3 1002.5L334.9 1001.7L335.6 1000.9L336.2 999.9L336.8 998.8L337.4 997.6L338 996.4L338.7 995L339.3 993.6L339.9 992.2L340.5 990.8L341.1 989.5L341.8 988.8L342.4 988.3L343 987.9L343.6 987.6L344.3 987.6L344.9 987.7L345.5 988.1L346.1 988.6L346.7 989.5L347.4 990.5L348 991.7L348.6 993.2L349.2 994.8L349.8 996.6L350.5 998.5L351.1 1000.5L351.7 1001.8L352.3 1003.2L352.9 1004.6L353.6 1006L354.2 1007.3L354.8 1008.6L355.4 1009.8L356 1010.9L356.7 1011.9L357.3 1012.9L357.9 1013.7L358.5 1014.4L359.1 1015.1L359.8 1015.6L360.4 1016.1L361 1016.5L361.6 1016.8L362.2 1017.1L362.9 1017.3L363.5 1017.5L364.1 1017.6L364.7 1017.7L365.3 1017.8L366 1017.9L366.6 1018L367.2 1018L367.8 1018L368.4 1018L369.1 1018.1L369.7 1018.1L370.3 1018.1L370.9 1018.1L371.5 1018.1L372.2 1018.1L372.8 1018.1L373.4 1018.1L374 1018.1L374.7 1018.1L375.3 1018.1" fill="none" stroke="#000" stroke-width="0.6" />
<path d="M279.1 1017.7L280.1 1018L281.1 1018L282.1 1018L283.1 1017.8L284.1 1018.1L285.1 1018L286.1 1017.6L287 1018.1L288 1018.1L289 1018.1L290 1015.9L291 1009.5L292 1004L293 995.6L294 982.6L295 968.7L296 955.2L297 932.9L298 915.4L299 902.7L300 881.4L300.9 877L301.9 877.5L302.9 872.5L303.9 891.3L304.9 913.7L305.9 929.9L306.9 937.8L307.9 963.3L308.9 971.8L309.9 982.9L310.9 990.8L311.9 995.6L312.9 1002L313.9 1003.7L314.8 1003.9L315.8 1005L316.8 1001.8L317.8 999.8L318.8 1007.2L319.8 1003L320.8 1007.7L321.8 1006.9L322.8 1005.6L323.8 1004.6L324.8 1006.3L325.8 1012.8L326.8 1000.9L327.7 1005.8L328.7 1006.8L329.7 1002.7L330.7 1006.2L331.7 1008.3L332.7 1001.9L333.7 1001.2L334.7 1003.9L335.7 997.4L336.7 997.1L337.7 999.9L338.7 988.6L339.7 991L340.7 993.2L341.6 986.4L342.6 986.6L343.6 983.3L344.6 991L345.6 983.6L346.6 985.1L347.6 987.7L348.6 990.3L349.6 990.9L350.6 995.9L351.6 1000.5L352.6 1005.7L353.6 1002.2L354.5 1004.8L355.5 1008.8L356.5 1011L357.5 1010.9L358.5 1018.1L359.5 1014.3L360.5 1018.1L361.5 1015.9L362.5 1014.1L363.5 1012.1L364.5 1018.1L365.5 1018L366.5 1018.1L367.5 1017.4L368.4 1017.9L369.4 1018.1L370.4 1018.1L371.4 1017.8L372.4 1018.1L373.4 1018.1L374.4 1017.7L375.4 1018L376.4 1017L377.4 1018" fill="none" stroke="#000" stroke-width="0.5" />
<line x1="239.4" y1="867.2" x2="239.4" y2="1018.1" stroke="#222" stroke-width="0.7" />
<line x1="239.4" y1="1018.1" x2="388.3" y2="1018.1" stroke="#222" stroke-width="0.7" />
<line x1="239.4" y1="1018.1" x2="239.4" y2="1021.3" stroke="#222" stroke-width="0.5" />
<line x1="244.4" y1="1018.1" x2="244.4" y2="1019.8" stroke="#222" stroke-width="0.5" />
<line x1="249.3" y1="1018.1" x2="249.3" y2="1019.8" stroke="#222" stroke-width="0.5" />
<line x1="254.3" y1="1018.1" x2="254.3" y2="1019.8" stroke="#222" stroke-width="0.5" />
<line x1="259.3" y1="1018.1" x2="259.3" y2="1019.8" stroke="#222" stroke-width="0.5" />
<line x1="264.2" y1="1018.1" x2="264.2" y2="1021.3" stroke="#222" stroke-width="0.5" />
<line x1="269.2" y1="1018.1" x2="269.2" y2="1019.8" stroke="#222" stroke-width="0.5" />
<line x1="274.1" y1="1018.1" x2="274.1" y2="1019.8" stroke="#222" stroke-width="0.5" />
<line x1="279.1" y1="1018.1" x2="279.1" y2="1019.8" stroke="#222" stroke-width="0.5" />
<line x1="284.1" y1="1018.1" x2="284.1" y2="1019.8" stroke="#222" stroke-width="0.5" />
<line x1="289" y1="1018.1" x2="289" y2="1021.3" stroke="#222" stroke-width="0.5" />
<line x1="294" y1="1018.1" x2="294" y2="1019.8" stroke="#222" stroke-width="0.5" />
<line x1="299" y1="1018.1" x2="299" y2="1019.8" stroke="#222" stroke-width="0.5" />
<line x1="303.9" y1="1018.1" x2="303.9" y2="1019.8" stroke="#222" stroke-width="0.5" />
<line x1="308.9" y1="1018.1" x2="308.9" y2="1019.8" stroke="#222" stroke-width="0.5" />
<line x1="313.9" y1="1018.1" x2="313.9" y2="1021.3" stroke="#222" stroke-width="0.5" />
<line x1="318.8" y1="1018.1" x2="318.8" y2="1019.8" stroke="#222" stroke-width="0.5" />
<line x1="323.8" y1="1018.1" x2="323.8" y2="1019.8" stroke="#222" stroke-width="0.5" />
<line x1="328.7" y1="1018.1" x2="328.7" y2="1019.8" stroke="#222" stroke-width="0.5" />
<line x1="333.7" y1="1018.1" x2="333.7" y2="1019.8" stroke="#222" stroke-width="0.5" />
<line x1="338.7" y1="1018.1" x2="338.7" y2="1021.3" stroke="#222" stroke-width="0.5" />
<line x1="343.6" y1="1018.1" x2="343.6" y2="1019.8" stroke="#222" stroke-width="0.5" />
<line x1="348.6" y1="1018.1" x2="348.6" y2="1019.8" stroke="#222" stroke-width="0.5" />
<line x1="353.6" y1="1018.1" x2="353.6" y2="1019.8" stroke="#222" stroke-width="0.5" />
<line x1="358.5" y1="1018.1" x2="358.5" y2="1019.8" stroke="#222" stroke-width="0.5" />
<line x1="363.5" y1="1018.1" x2="363.5" y2="1021.3" stroke="#222" stroke-width="0.5" />
<line x1="368.4" y1="1018.1" x2="368.4" y2="1019.8" stroke="#222" stroke-width="0.5" />
<line x1="373.4" y1="1018.1" x2="373.4" y2="1019.8" stroke="#222" stroke-width="0.5" />
<line x1="378.4" y1="1018.1" x2="378.4" y2="1019.8" stroke="#222" stroke-width="0.5" />
<line x1="383.3" y1="1018.1" x2="383.3" y2="1019.8" stroke="#222" stroke-width="0.5" />
<line x1="388.3" y1="1018.1" x2="388.3" y2="1021.3" stroke="#222" stroke-width="0.5" />
<text x="239.4" y="1030.7" font-family="Liberation Serif" font-size="5.4" text-anchor="middle" font-weight="normal" fill="#111" >0</text>
<text x="264.2" y="1030.7" font-family="Liberation Serif" font-size="5.4" text-anchor="middle" font-weight="normal" fill="#111" >20</text>
<text x="289" y="1030.7" font-family="Liberation Serif" font-size="5.4" text-anchor="middle" font-weight="normal" fill="#111" >40</text>
<text x="313.9" y="1030.7" font-family="Liberation Serif" font-size="5.4" text-anchor="middle" font-weight="normal" fill="#111" >60</text>
<text x="338.7" y="1030.7" font-family="Liberation Serif" font-size="5.4" text-anchor="middle" font-weight="normal" fill="#111" >80</text>
<text x="363.5" y="1030.7" font-family="Liberation Serif" font-size="5.4" text-anchor="middle" font-weight="normal" fill="#111" >100</text>
<text x="388.3" y="1030.7" font-family="Liberation Serif" font-size="5.4" text-anchor="middle" font-weight="normal" fill="#111" >120</text>
<line x1="236.2" y1="1018.1" x2="239.4" y2="1018.1" stroke="#222" stroke-width="0.5" />
<text x="230.4" y="1018.1" font-family="Liberation Serif" font-size="5" text-anchor="middle" font-weight="normal" fill="#111" transform="rotate(-90 230.4 1018.1)" dy="1.7">0</text>
<line x1="237.7" y1="1012.1" x2="239.4" y2="1012.1" stroke="#222" stroke-width="0.5" />
<line x1="237.7" y1="1006" x2="239.4" y2="1006" stroke="#222" stroke-width="0.5" />
<line x1="237.7" y1="1000" x2="239.4" y2="1000" stroke="#222" stroke-width="0.5" />
<line x1="237.7" y1="994" x2="239.4" y2="994" stroke="#222" stroke-width="0.5" />
<line x1="236.2" y1="987.9" x2="239.4" y2="987.9" stroke="#222" stroke-width="0.5" />
<text x="230.4" y="987.9" font-family="Liberation Serif" font-size="5" text-anchor="middle" font-weight="normal" fill="#111" transform="rotate(-90 230.4 987.9)" dy="1.7">50</text>
<line x1="237.7" y1="981.9" x2="239.4" y2="981.9" stroke="#222" stroke-width="0.5" />
<line x1="237.7" y1="975.8" x2="239.4" y2="975.8" stroke="#222" stroke-width="0.5" />
<line x1="237.7" y1="969.8" x2="239.4" y2="969.8" stroke="#222" stroke-width="0.5" />
<line x1="237.7" y1="963.8" x2="239.4" y2="963.8" stroke="#222" stroke-width="0.5" />
<line x1="236.2" y1="957.7" x2="239.4" y2="957.7" stroke="#222" stroke-width="0.5" />
<text x="230.4" y="957.7" font-family="Liberation Serif" font-size="5" text-anchor="middle" font-weight="normal" fill="#111" transform="rotate(-90 230.4 957.7)" dy="1.7">100</text>
<line x1="237.7" y1="951.7" x2="239.4" y2="951.7" stroke="#222" stroke-width="0.5" />
<line x1="237.7" y1="945.7" x2="239.4" y2="945.7" stroke="#222" stroke-width="0.5" />
<line x1="237.7" y1="939.6" x2="239.4" y2="939.6" stroke="#222" stroke-width="0.5" />
<line x1="237.7" y1="933.6" x2="239.4" y2="933.6" stroke="#222" stroke-width="0.5" />
<line x1="236.2" y1="927.6" x2="239.4" y2="927.6" stroke="#222" stroke-width="0.5" />
<text x="230.4" y="927.6" font-family="Liberation Serif" font-size="5" text-anchor="middle" font-weight="normal" fill="#111" transform="rotate(-90 230.4 927.6)" dy="1.7">150</text>
<line x1="237.7" y1="921.5" x2="239.4" y2="921.5" stroke="#222" stroke-width="0.5" />
<line x1="237.7" y1="915.5" x2="239.4" y2="915.5" stroke="#222" stroke-width="0.5" />
<line x1="237.7" y1="909.5" x2="239.4" y2="909.5" stroke="#222" stroke-width="0.5" />
<line x1="237.7" y1="903.4" x2="239.4" y2="903.4" stroke="#222" stroke-width="0.5" />
<line x1="236.2" y1="897.4" x2="239.4" y2="897.4" stroke="#222" stroke-width="0.5" />
<text x="230.4" y="897.4" font-family="Liberation Serif" font-size="5" text-anchor="middle" font-weight="normal" fill="#111" transform="rotate(-90 230.4 897.4)" dy="1.7">200</text>
<line x1="237.7" y1="891.3" x2="239.4" y2="891.3" stroke="#222" stroke-width="0.5" />
<line x1="237.7" y1="885.3" x2="239.4" y2="885.3" stroke="#222" stroke-width="0.5" />
<line x1="237.7" y1="879.3" x2="239.4" y2="879.3" stroke="#222" stroke-width="0.5" />
<line x1="237.7" y1="873.2" x2="239.4" y2="873.2" stroke="#222" stroke-width="0.5" />
<line x1="236.2" y1="867.2" x2="239.4" y2="867.2" stroke="#222" stroke-width="0.5" />
<text x="230.4" y="867.2" font-family="Liberation Serif" font-size="5" text-anchor="middle" font-weight="normal" fill="#111" transform="rotate(-90 230.4 867.2)" dy="1.7">250</text>
<text x="313.9" y="1038.4" font-family="Liberation Serif" font-size="5.6" text-anchor="middle" font-weight="normal" fill="#111" textLength="83" lengthAdjust="spacing">Red-B Fluorescence (RED-B-HLin)</text>
<text x="221.9" y="942.7" font-family="Liberation Serif" font-size="5.6" text-anchor="middle" font-weight="normal" fill="#111" transform="rotate(-90 221.9 942.7)" dy="1.5" textLength="20" lengthAdjust="spacing">Number</text>
<path d="M300.2 1019.3l2.2 3.6h-4.4z" fill="#000"/>
<path d="M341.1 1019.3l2.2 3.6h-4.4z" fill="#000"/>
<rect x="356.9" y="863" width="5.7" height="5.3" fill="#f00000" />
<rect x="356.9" y="869.5" width="5.7" height="5.2" fill="#f00000" />
<rect x="357" y="875.9" width="5.5" height="5" fill="url(#hatch)" stroke="#999" stroke-width="0.3"/>
<text x="364.4" y="867.6" font-family="Liberation Serif" font-size="5.4" text-anchor="start" font-weight="bold" fill="#3030ff" textLength="11.5" lengthAdjust="spacing">G0G1</text>
<text x="364.4" y="874" font-family="Liberation Serif" font-size="5.4" text-anchor="start" font-weight="bold" fill="#3030ff" textLength="9" lengthAdjust="spacing">G2M</text>
<text x="364.4" y="880.4" font-family="Liberation Serif" font-size="5.4" text-anchor="start" font-weight="bold" fill="#3030ff" textLength="17" lengthAdjust="spacing">S-Phase</text>
<text x="313" y="856" font-family="Liberation Sans" font-size="12.5" text-anchor="middle" font-weight="normal" fill="#000" >si-Plac8</text>
<path d="M98.8 1202.6L98.8 1202.3L99.4 1201.7L100 1200.9L100.6 1199.8L101.2 1198.7L101.9 1197.3L102.5 1195.8L103.1 1194.2L103.7 1192.5L104.3 1190.6L105 1188.7L105.6 1186.6L106.2 1184.4L106.8 1182.1L107.4 1179.7L108.1 1177.2L108.7 1174.6L109.3 1172L109.9 1169.2L110.5 1166.3L111.2 1163.4L111.8 1160.4L112.4 1158.2L113 1159L113.6 1159.8L114.3 1160.4L114.9 1161.1L115.5 1161.6L116.1 1162.2L116.7 1162.8L117.4 1163.3L118 1163.8L118.6 1164.3L119.2 1164.8L119.9 1165.3L120.5 1165.8L121.1 1166.3L121.7 1166.8L122.3 1167.2L123 1167.7L123.6 1168.1L124.2 1168.6L124.8 1169L125.4 1169.5L126.1 1169.9L126.7 1170.3L127.3 1170.8L127.9 1171.2L128.5 1171.6L129.2 1172L129.8 1172.4L130.4 1172.8L131 1173.3L131.6 1173.7L132.3 1174.1L132.9 1174.5L133.5 1174.9L134.1 1175.3L134.7 1175.7L135.4 1176L136 1176.4L136.6 1176.8L137.2 1177.2L137.8 1177.6L138.5 1178L139.1 1178.4L139.7 1178.7L140.3 1179.1L140.9 1179.5L141.6 1179.9L142.2 1181.3L142.8 1182.7L143.4 1184.1L144 1185.5L144.7 1187L145.3 1188.4L145.9 1189.8L146.5 1191.2L147.2 1192.7L147.8 1194.1L148.4 1195.5L149 1196.9L149.6 1198.3L150.3 1199.8L150.9 1201.2L150.9 1202.6Z" fill="url(#hatch)" stroke="#222" stroke-width="0.5" />
<path d="M91.3 1202.6L91.3 1202.1L91.9 1201.8L92.6 1201.3L93.2 1200.5L93.8 1199.3L94.4 1197.7L95 1195.5L95.7 1192.5L96.3 1188.5L96.9 1183.5L97.5 1177.3L98.1 1170L98.8 1161.4L99.4 1151.9L100 1141.8L100.6 1131.3L101.2 1121L101.9 1111.6L102.5 1103.4L103.1 1097.2L103.7 1093.3L104.3 1091.9L105 1093.3L105.6 1097.2L106.2 1103.4L106.8 1111.6L107.4 1121L108.1 1131.3L108.7 1141.8L109.3 1151.9L109.9 1161.4L110.5 1170L111.2 1177.3L111.8 1183.5L112.4 1188.5L113 1192.5L113.6 1195.5L114.3 1197.7L114.9 1199.3L115.5 1200.5L116.1 1201.3L116.7 1201.8L117.4 1202.1L117.4 1202.6Z" fill="#f00000" stroke="#300" stroke-width="0.5" />
<path d="M132.3 1202.6L132.3 1202.3L132.9 1202.1L133.5 1202L134.1 1201.8L134.7 1201.6L135.4 1201.3L136 1201L136.6 1200.6L137.2 1200.1L137.8 1199.5L138.5 1198.9L139.1 1198.1L139.7 1197.2L140.3 1196.3L140.9 1195.2L141.6 1194.1L142.2 1192.8L142.8 1191.5L143.4 1190.2L144 1188.8L144.7 1187.4L145.3 1186.1L145.9 1184.8L146.5 1183.6L147.2 1182.5L147.8 1181.6L148.4 1180.9L149 1180.3L149.6 1180L150.3 1179.9L150.9 1180L151.5 1180.3L152.1 1180.9L152.7 1181.6L153.4 1182.5L154 1183.6L154.6 1184.8L155.2 1186.1L155.8 1187.4L156.5 1188.8L157.1 1190.2L157.7 1191.5L158.3 1192.8L158.9 1194.1L159.6 1195.2L160.2 1196.3L160.8 1197.2L161.4 1198.1L162 1198.9L162.7 1199.5L163.3 1200.1L163.9 1200.6L164.5 1201L165.1 1201.3L165.8 1201.6L166.4 1201.8L167 1202L167.6 1202.1L168.2 1202.3L168.2 1202.6Z" fill="#f00000" stroke="#300" stroke-width="0.5" />
<path d="M98.8 1202.6L98.8 1202.3L99.4 1201.7L100 1200.9L100.6 1199.8L101.2 1198.7L101.9 1197.3L102.5 1195.8L103.1 1194.2L103.7 1192.5L104.3 1190.6L105 1188.7L105.6 1186.6L106.2 1184.4L106.8 1182.1L107.4 1179.7L108.1 1177.2L108.7 1174.6L109.3 1172L109.9 1169.2L110.5 1170L111.2 1177.3L111.8 1183.5L112.4 1188.5L113 1192.5L113.6 1195.5L114.3 1197.7L114.9 1199.3L115.5 1200.5L116.1 1201.3L116.7 1201.8L117.4 1202.1L118 1202.3L118 1202.6Z" fill="url(#hatch2)" stroke="none" stroke-width="0" />
<path d="M131.6 1202.6L131.6 1202.3L132.3 1202.3L132.9 1202.1L133.5 1202L134.1 1201.8L134.7 1201.6L135.4 1201.3L136 1201L136.6 1200.6L137.2 1200.1L137.8 1199.5L138.5 1198.9L139.1 1198.1L139.7 1197.2L140.3 1196.3L140.9 1195.2L141.6 1194.1L142.2 1192.8L142.8 1191.5L143.4 1190.2L144 1188.8L144.7 1187.4L145.3 1188.4L145.9 1189.8L146.5 1191.2L147.2 1192.7L147.8 1194.1L148.4 1195.5L149 1196.9L149.6 1198.3L150.3 1199.8L150.9 1201.2L150.9 1202.6Z" fill="url(#hatch2)" stroke="none" stroke-width="0" />
<path d="M79.5 1202.6L80.1 1202.6L80.8 1202.6L81.4 1202.6L82 1202.6L82.6 1202.6L83.2 1202.6L83.9 1202.6L84.5 1202.6L85.1 1202.6L85.7 1202.6L86.3 1202.6L87 1202.6L87.6 1202.6L88.2 1202.6L88.8 1202.5L89.5 1202.5L90.1 1202.4L90.7 1202.2L91.3 1202L91.9 1201.6L92.6 1201L93.2 1200.1L93.8 1198.8L94.4 1197L95 1194.5L95.7 1191.1L96.3 1186.7L96.9 1181.2L97.5 1174.4L98.1 1166.2L98.8 1156.6L99.4 1145.6L100 1133.7L100.6 1121.4L101.2 1109.1L101.9 1097.6L102.5 1087.4L103.1 1079.2L103.7 1073.3L104.3 1070.2L105 1069.8L105.6 1072L106.2 1076.7L106.8 1083.3L107.4 1091.2L108.1 1099.8L108.7 1108.6L109.3 1116.9L109.9 1124.5L110.5 1130.8L111.2 1135.9L111.8 1139.6L112.4 1142.8L113 1148L113.6 1152L114.3 1155.1L114.9 1157.5L115.5 1159.3L116.1 1160.7L116.7 1161.8L117.4 1162.7L118 1163.5L118.6 1164.1L119.2 1164.7L119.9 1165.3L120.5 1165.8L121.1 1166.3L121.7 1166.7L122.3 1167.2L123 1167.7L123.6 1168.1L124.2 1168.6L124.8 1169L125.4 1169.5L126.1 1169.9L126.7 1170.3L127.3 1170.7L127.9 1171.1L128.5 1171.5L129.2 1171.9L129.8 1172.3L130.4 1172.6L131 1172.9L131.6 1173.2L132.3 1173.5L132.9 1173.7L133.5 1173.9L134.1 1174L134.7 1174L135.4 1174L136 1173.8L136.6 1173.6L137.2 1173.2L137.8 1172.7L138.5 1172.1L139.1 1171.4L139.7 1170.5L140.3 1169.5L140.9 1168.4L141.6 1167.2L142.2 1167L142.8 1166.8L143.4 1166.5L144 1166.3L144.7 1166.1L145.3 1166L145.9 1166L146.5 1166.2L147.2 1166.6L147.8 1167.2L148.4 1168L149 1169.1L149.6 1170.5L150.3 1172.2L150.9 1174.1L151.5 1176.2L152.1 1177.2L152.7 1178.3L153.4 1179.7L154 1181.1L154.6 1182.7L155.2 1184.3L155.8 1185.9L156.5 1187.6L157.1 1189.2L157.7 1190.7L158.3 1192.2L158.9 1193.6L159.6 1194.8L160.2 1196L160.8 1197L161.4 1197.9L162 1198.7L162.7 1199.4L163.3 1200L163.9 1200.5L164.5 1201L165.1 1201.3L165.8 1201.6L166.4 1201.8L167 1202L167.6 1202.1L168.2 1202.3L168.9 1202.3L169.5 1202.4L170.1 1202.5L170.7 1202.5L171.3 1202.5L172 1202.6L172.6 1202.6L173.2 1202.6L173.8 1202.6L174.4 1202.6L175.1 1202.6L175.7 1202.6L176.3 1202.6L176.9 1202.6L177.6 1202.6L178.2 1202.6" fill="none" stroke="#000" stroke-width="0.6" />
<path d="M82 1202.6L83 1202.1L84 1202.4L85 1202.1L86 1202.5L87 1202.4L88 1202.5L89 1202.4L89.9 1202.6L90.9 1202.6L91.9 1202.6L92.9 1200.8L93.9 1199.2L94.9 1191.9L95.9 1187L96.9 1184.2L97.9 1166L98.9 1152.8L99.9 1129.4L100.9 1107L101.9 1091.4L102.9 1086.9L103.8 1064.7L104.8 1073.1L105.8 1061.3L106.8 1082.4L107.8 1093.5L108.8 1099L109.8 1127.6L110.8 1130.4L111.8 1141.5L112.8 1146L113.8 1153.7L114.8 1152.9L115.8 1159.3L116.7 1159L117.7 1159.4L118.7 1168.6L119.7 1158.8L120.7 1165.3L121.7 1171L122.7 1168.3L123.7 1163.9L124.7 1164.2L125.7 1170.6L126.7 1168.6L127.7 1168.8L128.7 1166.8L129.7 1171.4L130.6 1168.2L131.6 1174.9L132.6 1174.8L133.6 1170.5L134.6 1170.4L135.6 1172.8L136.6 1170.3L137.6 1171L138.6 1168.1L139.6 1165.4L140.6 1165.9L141.6 1163L142.6 1166.8L143.6 1166.9L144.5 1172.7L145.5 1163L146.5 1164.6L147.5 1163.6L148.5 1173.2L149.5 1170.5L150.5 1173.5L151.5 1181L152.5 1173.8L153.5 1175L154.5 1185.4L155.5 1182.7L156.5 1181.5L157.4 1193L158.4 1188.9L159.4 1189.3L160.4 1190.5L161.4 1201.4L162.4 1201.8L163.4 1199.1L164.4 1197.1L165.4 1202.6L166.4 1202.6L167.4 1202.6L168.4 1202.2L169.4 1202.5L170.4 1202.4L171.3 1202.4L172.3 1202.2L173.3 1202.4L174.3 1202.5L175.3 1202.2L176.3 1202.4L177.3 1202.2L178.3 1202.5L179.3 1202.3L180.3 1202.5" fill="none" stroke="#000" stroke-width="0.5" />
<line x1="42.3" y1="1051" x2="42.3" y2="1202.6" stroke="#222" stroke-width="0.7" />
<line x1="42.3" y1="1202.6" x2="191.2" y2="1202.6" stroke="#222" stroke-width="0.7" />
<line x1="42.3" y1="1202.6" x2="42.3" y2="1205.8" stroke="#222" stroke-width="0.5" />
<line x1="47.3" y1="1202.6" x2="47.3" y2="1204.3" stroke="#222" stroke-width="0.5" />
<line x1="52.2" y1="1202.6" x2="52.2" y2="1204.3" stroke="#222" stroke-width="0.5" />
<line x1="57.2" y1="1202.6" x2="57.2" y2="1204.3" stroke="#222" stroke-width="0.5" />
<line x1="62.2" y1="1202.6" x2="62.2" y2="1204.3" stroke="#222" stroke-width="0.5" />
<line x1="67.1" y1="1202.6" x2="67.1" y2="1205.8" stroke="#222" stroke-width="0.5" />
<line x1="72.1" y1="1202.6" x2="72.1" y2="1204.3" stroke="#222" stroke-width="0.5" />
<line x1="77" y1="1202.6" x2="77" y2="1204.3" stroke="#222" stroke-width="0.5" />
<line x1="82" y1="1202.6" x2="82" y2="1204.3" stroke="#222" stroke-width="0.5" />
<line x1="87" y1="1202.6" x2="87" y2="1204.3" stroke="#222" stroke-width="0.5" />
<line x1="91.9" y1="1202.6" x2="91.9" y2="1205.8" stroke="#222" stroke-width="0.5" />
<line x1="96.9" y1="1202.6" x2="96.9" y2="1204.3" stroke="#222" stroke-width="0.5" />
<line x1="101.9" y1="1202.6" x2="101.9" y2="1204.3" stroke="#222" stroke-width="0.5" />
<line x1="106.8" y1="1202.6" x2="106.8" y2="1204.3" stroke="#222" stroke-width="0.5" />
<line x1="111.8" y1="1202.6" x2="111.8" y2="1204.3" stroke="#222" stroke-width="0.5" />
<line x1="116.7" y1="1202.6" x2="116.7" y2="1205.8" stroke="#222" stroke-width="0.5" />
<line x1="121.7" y1="1202.6" x2="121.7" y2="1204.3" stroke="#222" stroke-width="0.5" />
<line x1="126.7" y1="1202.6" x2="126.7" y2="1204.3" stroke="#222" stroke-width="0.5" />
<line x1="131.6" y1="1202.6" x2="131.6" y2="1204.3" stroke="#222" stroke-width="0.5" />
<line x1="136.6" y1="1202.6" x2="136.6" y2="1204.3" stroke="#222" stroke-width="0.5" />
<line x1="141.6" y1="1202.6" x2="141.6" y2="1205.8" stroke="#222" stroke-width="0.5" />
<line x1="146.5" y1="1202.6" x2="146.5" y2="1204.3" stroke="#222" stroke-width="0.5" />
<line x1="151.5" y1="1202.6" x2="151.5" y2="1204.3" stroke="#222" stroke-width="0.5" />
<line x1="156.5" y1="1202.6" x2="156.5" y2="1204.3" stroke="#222" stroke-width="0.5" />
<line x1="161.4" y1="1202.6" x2="161.4" y2="1204.3" stroke="#222" stroke-width="0.5" />
<line x1="166.4" y1="1202.6" x2="166.4" y2="1205.8" stroke="#222" stroke-width="0.5" />
<line x1="171.3" y1="1202.6" x2="171.3" y2="1204.3" stroke="#222" stroke-width="0.5" />
<line x1="176.3" y1="1202.6" x2="176.3" y2="1204.3" stroke="#222" stroke-width="0.5" />
<line x1="181.3" y1="1202.6" x2="181.3" y2="1204.3" stroke="#222" stroke-width="0.5" />
<line x1="186.2" y1="1202.6" x2="186.2" y2="1204.3" stroke="#222" stroke-width="0.5" />
<line x1="191.2" y1="1202.6" x2="191.2" y2="1205.8" stroke="#222" stroke-width="0.5" />
<text x="42.3" y="1215.2" font-family="Liberation Serif" font-size="5.4" text-anchor="middle" font-weight="normal" fill="#111" >0</text>
<text x="67.1" y="1215.2" font-family="Liberation Serif" font-size="5.4" text-anchor="middle" font-weight="normal" fill="#111" >20</text>
<text x="91.9" y="1215.2" font-family="Liberation Serif" font-size="5.4" text-anchor="middle" font-weight="normal" fill="#111" >40</text>
<text x="116.7" y="1215.2" font-family="Liberation Serif" font-size="5.4" text-anchor="middle" font-weight="normal" fill="#111" >60</text>
<text x="141.6" y="1215.2" font-family="Liberation Serif" font-size="5.4" text-anchor="middle" font-weight="normal" fill="#111" >80</text>
<text x="166.4" y="1215.2" font-family="Liberation Serif" font-size="5.4" text-anchor="middle" font-weight="normal" fill="#111" >100</text>
<text x="191.2" y="1215.2" font-family="Liberation Serif" font-size="5.4" text-anchor="middle" font-weight="normal" fill="#111" >120</text>
<line x1="39.1" y1="1202.6" x2="42.3" y2="1202.6" stroke="#222" stroke-width="0.5" />
<text x="33.3" y="1202.6" font-family="Liberation Serif" font-size="5" text-anchor="middle" font-weight="normal" fill="#111" transform="rotate(-90 33.3 1202.6)" dy="1.7">0</text>
<line x1="40.6" y1="1195" x2="42.3" y2="1195" stroke="#222" stroke-width="0.5" />
<line x1="40.6" y1="1187.4" x2="42.3" y2="1187.4" stroke="#222" stroke-width="0.5" />
<line x1="40.6" y1="1179.9" x2="42.3" y2="1179.9" stroke="#222" stroke-width="0.5" />
<line x1="40.6" y1="1172.3" x2="42.3" y2="1172.3" stroke="#222" stroke-width="0.5" />
<line x1="39.1" y1="1164.7" x2="42.3" y2="1164.7" stroke="#222" stroke-width="0.5" />
<text x="33.3" y="1164.7" font-family="Liberation Serif" font-size="5" text-anchor="middle" font-weight="normal" fill="#111" transform="rotate(-90 33.3 1164.7)" dy="1.7">50</text>
<line x1="40.6" y1="1157.1" x2="42.3" y2="1157.1" stroke="#222" stroke-width="0.5" />
<line x1="40.6" y1="1149.5" x2="42.3" y2="1149.5" stroke="#222" stroke-width="0.5" />
<line x1="40.6" y1="1142" x2="42.3" y2="1142" stroke="#222" stroke-width="0.5" />
<line x1="40.6" y1="1134.4" x2="42.3" y2="1134.4" stroke="#222" stroke-width="0.5" />
<line x1="39.1" y1="1126.8" x2="42.3" y2="1126.8" stroke="#222" stroke-width="0.5" />
<text x="33.3" y="1126.8" font-family="Liberation Serif" font-size="5" text-anchor="middle" font-weight="normal" fill="#111" transform="rotate(-90 33.3 1126.8)" dy="1.7">100</text>
<line x1="40.6" y1="1119.2" x2="42.3" y2="1119.2" stroke="#222" stroke-width="0.5" />
<line x1="40.6" y1="1111.6" x2="42.3" y2="1111.6" stroke="#222" stroke-width="0.5" />
<line x1="40.6" y1="1104.1" x2="42.3" y2="1104.1" stroke="#222" stroke-width="0.5" />
<line x1="40.6" y1="1096.5" x2="42.3" y2="1096.5" stroke="#222" stroke-width="0.5" />
<line x1="39.1" y1="1088.9" x2="42.3" y2="1088.9" stroke="#222" stroke-width="0.5" />
<text x="33.3" y="1088.9" font-family="Liberation Serif" font-size="5" text-anchor="middle" font-weight="normal" fill="#111" transform="rotate(-90 33.3 1088.9)" dy="1.7">150</text>
<line x1="40.6" y1="1081.3" x2="42.3" y2="1081.3" stroke="#222" stroke-width="0.5" />
<line x1="40.6" y1="1073.7" x2="42.3" y2="1073.7" stroke="#222" stroke-width="0.5" />
<line x1="40.6" y1="1066.2" x2="42.3" y2="1066.2" stroke="#222" stroke-width="0.5" />
<line x1="40.6" y1="1058.6" x2="42.3" y2="1058.6" stroke="#222" stroke-width="0.5" />
<line x1="39.1" y1="1051" x2="42.3" y2="1051" stroke="#222" stroke-width="0.5" />
<text x="33.3" y="1051" font-family="Liberation Serif" font-size="5" text-anchor="middle" font-weight="normal" fill="#111" transform="rotate(-90 33.3 1051)" dy="1.7">200</text>
<text x="116.8" y="1222.9" font-family="Liberation Serif" font-size="5.6" text-anchor="middle" font-weight="normal" fill="#111" textLength="83" lengthAdjust="spacing">Red-B Fluorescence (RED-B-HLin)</text>
<text x="24.8" y="1126.8" font-family="Liberation Serif" font-size="5.6" text-anchor="middle" font-weight="normal" fill="#111" transform="rotate(-90 24.8 1126.8)" dy="1.5" textLength="20" lengthAdjust="spacing">Number</text>
<path d="M105 1203.8l2.2 3.6h-4.4z" fill="#000"/>
<rect x="159.8" y="1046.8" width="5.7" height="5.3" fill="#f00000" />
<rect x="159.8" y="1053.3" width="5.7" height="5.2" fill="#f00000" />
<rect x="159.9" y="1059.7" width="5.5" height="5" fill="url(#hatch)" stroke="#999" stroke-width="0.3"/>
<text x="167.3" y="1051.4" font-family="Liberation Serif" font-size="5.4" text-anchor="start" font-weight="bold" fill="#3030ff" textLength="11.5" lengthAdjust="spacing">G0G1</text>
<text x="167.3" y="1057.8" font-family="Liberation Serif" font-size="5.4" text-anchor="start" font-weight="bold" fill="#3030ff" textLength="9" lengthAdjust="spacing">G2M</text>
<text x="167.3" y="1064.2" font-family="Liberation Serif" font-size="5.4" text-anchor="start" font-weight="bold" fill="#3030ff" textLength="17" lengthAdjust="spacing">S-Phase</text>
<text x="120.9" y="1054.3" font-family="Liberation Sans" font-size="12.5" text-anchor="middle" font-weight="normal" fill="#000" >Plac8-NC</text>
<path d="M295.9 1202.3L295.9 1201.9L296.5 1201.1L297.1 1200L297.7 1198.6L298.3 1197L299 1195.3L299.6 1193.3L300.2 1191.1L300.8 1188.8L301.4 1186.3L302.1 1183.7L302.7 1180.9L303.3 1178L303.9 1175L304.5 1171.8L305.2 1168.4L305.8 1165L306.4 1161.4L307 1157.7L307.6 1153.9L308.3 1150L308.9 1145.9L309.5 1141.8L310.1 1143.3L310.7 1144.5L311.4 1145.5L312 1146.5L312.6 1147.4L313.2 1148.3L313.9 1149.2L314.5 1150L315.1 1150.8L315.7 1151.6L316.3 1152.4L317 1153.1L317.6 1153.9L318.2 1154.6L318.8 1155.3L319.4 1156.1L320.1 1156.8L320.7 1157.5L321.3 1158.2L321.9 1158.9L322.5 1159.5L323.2 1160.2L323.8 1160.9L324.4 1161.5L325 1162.2L325.6 1162.8L326.3 1163.5L326.9 1164.1L327.5 1164.8L328.1 1165.4L328.7 1166L329.4 1166.6L330 1167.3L330.6 1167.9L331.2 1168.5L331.8 1169.1L332.5 1169.7L333.1 1170.3L333.7 1170.9L334.3 1171.5L334.9 1172.1L335.6 1172.7L336.2 1173.3L336.8 1173.9L337.4 1174.4L338 1175L338.7 1175.6L339.3 1177.3L339.9 1178.9L340.5 1180.6L341.1 1182.3L341.8 1183.9L342.4 1185.6L343 1187.3L343.6 1189L344.3 1190.6L344.9 1192.3L345.5 1194L346.1 1195.6L346.7 1197.3L347.4 1199L348 1200.6L348 1202.3Z" fill="url(#hatch)" stroke="#222" stroke-width="0.5" />
<path d="M289 1202.3L289 1201.8L289.7 1201.5L290.3 1201L290.9 1200.2L291.5 1199L292.1 1197.2L292.8 1194.8L293.4 1191.4L294 1187L294.6 1181.3L295.2 1174.4L295.9 1166.2L296.5 1156.8L297.1 1146.6L297.7 1135.9L298.3 1125.4L299 1115.6L299.6 1107.3L300.2 1101.1L300.8 1097.3L301.4 1096.4L302.1 1098.5L302.7 1103.3L303.3 1110.4L303.9 1119.4L304.5 1129.5L305.2 1140.2L305.8 1150.7L306.4 1160.7L307 1169.6L307.6 1177.3L308.3 1183.8L308.9 1188.9L309.5 1192.9L310.1 1195.9L310.7 1198L311.4 1199.5L312 1200.6L312.6 1201.2L313.2 1201.7L313.9 1201.9L313.9 1202.3Z" fill="#f00000" stroke="#300" stroke-width="0.5" />
<path d="M331.2 1202.3L331.2 1201.9L331.8 1201.7L332.5 1201.5L333.1 1201.2L333.7 1200.9L334.3 1200.5L334.9 1199.9L335.6 1199.3L336.2 1198.5L336.8 1197.6L337.4 1196.5L338 1195.2L338.7 1193.8L339.3 1192.2L339.9 1190.5L340.5 1188.6L341.1 1186.6L341.8 1184.6L342.4 1182.4L343 1180.3L343.6 1178.3L344.3 1176.4L344.9 1174.7L345.5 1173.1L346.1 1171.9L346.7 1171L347.4 1170.4L348 1170.3L348.6 1170.4L349.2 1171L349.8 1171.9L350.5 1173.1L351.1 1174.7L351.7 1176.4L352.3 1178.3L352.9 1180.3L353.6 1182.4L354.2 1184.6L354.8 1186.6L355.4 1188.6L356 1190.5L356.7 1192.2L357.3 1193.8L357.9 1195.2L358.5 1196.5L359.1 1197.6L359.8 1198.5L360.4 1199.3L361 1199.9L361.6 1200.5L362.2 1200.9L362.9 1201.2L363.5 1201.5L364.1 1201.7L364.7 1201.9L364.7 1202.3Z" fill="#f00000" stroke="#300" stroke-width="0.5" />
<path d="M295.9 1202.3L295.9 1201.9L296.5 1201.1L297.1 1200L297.7 1198.6L298.3 1197L299 1195.3L299.6 1193.3L300.2 1191.1L300.8 1188.8L301.4 1186.3L302.1 1183.7L302.7 1180.9L303.3 1178L303.9 1175L304.5 1171.8L305.2 1168.4L305.8 1165L306.4 1161.4L307 1169.6L307.6 1177.3L308.3 1183.8L308.9 1188.9L309.5 1192.9L310.1 1195.9L310.7 1198L311.4 1199.5L312 1200.6L312.6 1201.2L313.2 1201.7L313.9 1201.9L313.9 1202.3Z" fill="url(#hatch2)" stroke="none" stroke-width="0" />
<path d="M330.6 1202.3L330.6 1202L331.2 1201.9L331.8 1201.7L332.5 1201.5L333.1 1201.2L333.7 1200.9L334.3 1200.5L334.9 1199.9L335.6 1199.3L336.2 1198.5L336.8 1197.6L337.4 1196.5L338 1195.2L338.7 1193.8L339.3 1192.2L339.9 1190.5L340.5 1188.6L341.1 1186.6L341.8 1184.6L342.4 1185.6L343 1187.3L343.6 1189L344.3 1190.6L344.9 1192.3L345.5 1194L346.1 1195.6L346.7 1197.3L347.4 1199L348 1200.6L348 1202.3Z" fill="url(#hatch2)" stroke="none" stroke-width="0" />
<path d="M276.6 1202.3L277.2 1202.3L277.9 1202.3L278.5 1202.3L279.1 1202.3L279.7 1202.3L280.3 1202.3L281 1202.3L281.6 1202.3L282.2 1202.3L282.8 1202.3L283.4 1202.3L284.1 1202.3L284.7 1202.3L285.3 1202.3L285.9 1202.3L286.6 1202.2L287.2 1202.2L287.8 1202.1L288.4 1202L289 1201.7L289.7 1201.3L290.3 1200.7L290.9 1199.8L291.5 1198.4L292.1 1196.3L292.8 1193.5L293.4 1189.6L294 1184.6L294.6 1178.2L295.2 1170.4L295.9 1160.8L296.5 1149.6L297.1 1137.1L297.7 1124L298.3 1110.9L299 1098.4L299.6 1087.4L300.2 1078.5L300.8 1072.3L301.4 1069L302.1 1068.8L302.7 1071.4L303.3 1076.5L303.9 1083.4L304.5 1091.4L305.2 1099.9L305.8 1108.1L306.4 1115.4L307 1121.6L307.6 1126.3L308.3 1129.4L308.9 1131.1L309.5 1131.3L310.1 1136.2L310.7 1139.7L311.4 1142.4L312 1144.5L312.6 1146.2L313.2 1147.6L313.9 1148.7L314.5 1149.7L315.1 1150.7L315.7 1151.5L316.3 1152.3L317 1153.1L317.6 1153.9L318.2 1154.6L318.8 1155.3L319.4 1156.1L320.1 1156.8L320.7 1157.5L321.3 1158.2L321.9 1158.8L322.5 1159.5L323.2 1160.2L323.8 1160.9L324.4 1161.5L325 1162.1L325.6 1162.8L326.3 1163.4L326.9 1164L327.5 1164.6L328.1 1165.1L328.7 1165.7L329.4 1166.1L330 1166.6L330.6 1166.9L331.2 1167.2L331.8 1167.5L332.5 1167.6L333.1 1167.6L333.7 1167.4L334.3 1167.1L334.9 1166.6L335.6 1166L336.2 1165.1L336.8 1164L337.4 1162.7L338 1161.2L338.7 1159.6L339.3 1158.8L339.9 1157.9L340.5 1156.9L341.1 1155.9L341.8 1154.9L342.4 1154L343 1153.2L343.6 1152.6L344.3 1152.3L344.9 1152.3L345.5 1152.6L346.1 1153.5L346.7 1154.7L347.4 1156.4L348 1158.6L348.6 1161.2L349.2 1162.6L349.8 1164.4L350.5 1166.4L351.1 1168.8L351.7 1171.3L352.3 1173.9L352.9 1176.6L353.6 1179.3L354.2 1182L354.8 1184.5L355.4 1186.9L356 1189.2L356.7 1191.2L357.3 1193L357.9 1194.6L358.5 1196L359.1 1197.2L359.8 1198.2L360.4 1199.1L361 1199.8L361.6 1200.4L362.2 1200.8L362.9 1201.2L363.5 1201.5L364.1 1201.7L364.7 1201.9L365.3 1202L366 1202.1L366.6 1202.1L367.2 1202.2L367.8 1202.2L368.4 1202.2L369.1 1202.3L369.7 1202.3L370.3 1202.3L370.9 1202.3L371.5 1202.3L372.2 1202.3L372.8 1202.3L373.4 1202.3L374 1202.3L374.7 1202.3L375.3 1202.3" fill="none" stroke="#000" stroke-width="0.6" />
<path d="M279.1 1201.9L280.1 1202L281.1 1201.9L282.1 1201.7L283.1 1202.3L284.1 1202.1L285.1 1202.3L286.1 1201.9L287 1202.1L288 1201.9L289 1202.3L290 1198.1L291 1198L292 1195.3L293 1189.5L294 1185.7L295 1173.2L296 1151L297 1139.3L298 1118L299 1101.7L300 1080.5L300.9 1063.7L301.9 1058.2L302.9 1066L303.9 1076.8L304.9 1090.6L305.9 1105.3L306.9 1113.8L307.9 1126.1L308.9 1124.6L309.9 1132.7L310.9 1144.5L311.9 1147.2L312.9 1145.8L313.9 1148.8L314.8 1153.1L315.8 1152.9L316.8 1150.8L317.8 1151.3L318.8 1150.9L319.8 1158.1L320.8 1154.9L321.8 1153.8L322.8 1157.3L323.8 1153.5L324.8 1162.3L325.8 1161.7L326.8 1162.1L327.7 1165L328.7 1164.7L329.7 1164.5L330.7 1166.1L331.7 1168L332.7 1168L333.7 1166.6L334.7 1170.8L335.7 1164.1L336.7 1166.8L337.7 1161.8L338.7 1162L339.7 1156.6L340.7 1156.7L341.6 1154.6L342.6 1154.8L343.6 1150.7L344.6 1145L345.6 1157.7L346.6 1151.2L347.6 1155.1L348.6 1161.3L349.6 1166.7L350.6 1160.6L351.6 1169.2L352.6 1171L353.6 1179.8L354.5 1185.2L355.5 1183.8L356.5 1188.3L357.5 1194.3L358.5 1196.4L359.5 1196L360.5 1201.3L361.5 1202.3L362.5 1201L363.5 1198.7L364.5 1199.5L365.5 1202.2L366.5 1201.9L367.5 1202.3L368.4 1202.2L369.4 1201.6L370.4 1202.2L371.4 1202.1L372.4 1202.1L373.4 1202.3L374.4 1202.2L375.4 1202.1L376.4 1202.1L377.4 1202.1" fill="none" stroke="#000" stroke-width="0.5" />
<line x1="239.4" y1="1051" x2="239.4" y2="1202.3" stroke="#222" stroke-width="0.7" />
<line x1="239.4" y1="1202.3" x2="388.3" y2="1202.3" stroke="#222" stroke-width="0.7" />
<line x1="239.4" y1="1202.3" x2="239.4" y2="1205.5" stroke="#222" stroke-width="0.5" />
<line x1="244.4" y1="1202.3" x2="244.4" y2="1204" stroke="#222" stroke-width="0.5" />
<line x1="249.3" y1="1202.3" x2="249.3" y2="1204" stroke="#222" stroke-width="0.5" />
<line x1="254.3" y1="1202.3" x2="254.3" y2="1204" stroke="#222" stroke-width="0.5" />
<line x1="259.3" y1="1202.3" x2="259.3" y2="1204" stroke="#222" stroke-width="0.5" />
<line x1="264.2" y1="1202.3" x2="264.2" y2="1205.5" stroke="#222" stroke-width="0.5" />
<line x1="269.2" y1="1202.3" x2="269.2" y2="1204" stroke="#222" stroke-width="0.5" />
<line x1="274.1" y1="1202.3" x2="274.1" y2="1204" stroke="#222" stroke-width="0.5" />
<line x1="279.1" y1="1202.3" x2="279.1" y2="1204" stroke="#222" stroke-width="0.5" />
<line x1="284.1" y1="1202.3" x2="284.1" y2="1204" stroke="#222" stroke-width="0.5" />
<line x1="289" y1="1202.3" x2="289" y2="1205.5" stroke="#222" stroke-width="0.5" />
<line x1="294" y1="1202.3" x2="294" y2="1204" stroke="#222" stroke-width="0.5" />
<line x1="299" y1="1202.3" x2="299" y2="1204" stroke="#222" stroke-width="0.5" />
<line x1="303.9" y1="1202.3" x2="303.9" y2="1204" stroke="#222" stroke-width="0.5" />
<line x1="308.9" y1="1202.3" x2="308.9" y2="1204" stroke="#222" stroke-width="0.5" />
<line x1="313.9" y1="1202.3" x2="313.9" y2="1205.5" stroke="#222" stroke-width="0.5" />
<line x1="318.8" y1="1202.3" x2="318.8" y2="1204" stroke="#222" stroke-width="0.5" />
<line x1="323.8" y1="1202.3" x2="323.8" y2="1204" stroke="#222" stroke-width="0.5" />
<line x1="328.7" y1="1202.3" x2="328.7" y2="1204" stroke="#222" stroke-width="0.5" />
<line x1="333.7" y1="1202.3" x2="333.7" y2="1204" stroke="#222" stroke-width="0.5" />
<line x1="338.7" y1="1202.3" x2="338.7" y2="1205.5" stroke="#222" stroke-width="0.5" />
<line x1="343.6" y1="1202.3" x2="343.6" y2="1204" stroke="#222" stroke-width="0.5" />
<line x1="348.6" y1="1202.3" x2="348.6" y2="1204" stroke="#222" stroke-width="0.5" />
<line x1="353.6" y1="1202.3" x2="353.6" y2="1204" stroke="#222" stroke-width="0.5" />
<line x1="358.5" y1="1202.3" x2="358.5" y2="1204" stroke="#222" stroke-width="0.5" />
<line x1="363.5" y1="1202.3" x2="363.5" y2="1205.5" stroke="#222" stroke-width="0.5" />
<line x1="368.4" y1="1202.3" x2="368.4" y2="1204" stroke="#222" stroke-width="0.5" />
<line x1="373.4" y1="1202.3" x2="373.4" y2="1204" stroke="#222" stroke-width="0.5" />
<line x1="378.4" y1="1202.3" x2="378.4" y2="1204" stroke="#222" stroke-width="0.5" />
<line x1="383.3" y1="1202.3" x2="383.3" y2="1204" stroke="#222" stroke-width="0.5" />
<line x1="388.3" y1="1202.3" x2="388.3" y2="1205.5" stroke="#222" stroke-width="0.5" />
<text x="239.4" y="1214.9" font-family="Liberation Serif" font-size="5.4" text-anchor="middle" font-weight="normal" fill="#111" >0</text>
<text x="264.2" y="1214.9" font-family="Liberation Serif" font-size="5.4" text-anchor="middle" font-weight="normal" fill="#111" >20</text>
<text x="289" y="1214.9" font-family="Liberation Serif" font-size="5.4" text-anchor="middle" font-weight="normal" fill="#111" >40</text>
<text x="313.9" y="1214.9" font-family="Liberation Serif" font-size="5.4" text-anchor="middle" font-weight="normal" fill="#111" >60</text>
<text x="338.7" y="1214.9" font-family="Liberation Serif" font-size="5.4" text-anchor="middle" font-weight="normal" fill="#111" >80</text>
<text x="363.5" y="1214.9" font-family="Liberation Serif" font-size="5.4" text-anchor="middle" font-weight="normal" fill="#111" >100</text>
<text x="388.3" y="1214.9" font-family="Liberation Serif" font-size="5.4" text-anchor="middle" font-weight="normal" fill="#111" >120</text>
<line x1="236.2" y1="1202.3" x2="239.4" y2="1202.3" stroke="#222" stroke-width="0.5" />
<text x="230.4" y="1202.3" font-family="Liberation Serif" font-size="5" text-anchor="middle" font-weight="normal" fill="#111" transform="rotate(-90 230.4 1202.3)" dy="1.7">0</text>
<line x1="237.7" y1="1197.8" x2="239.4" y2="1197.8" stroke="#222" stroke-width="0.5" />
<line x1="237.7" y1="1193.4" x2="239.4" y2="1193.4" stroke="#222" stroke-width="0.5" />
<line x1="237.7" y1="1189" x2="239.4" y2="1189" stroke="#222" stroke-width="0.5" />
<line x1="236.2" y1="1184.5" x2="239.4" y2="1184.5" stroke="#222" stroke-width="0.5" />
<text x="230.4" y="1184.5" font-family="Liberation Serif" font-size="5" text-anchor="middle" font-weight="normal" fill="#111" transform="rotate(-90 230.4 1184.5)" dy="1.7">20</text>
<line x1="237.7" y1="1180" x2="239.4" y2="1180" stroke="#222" stroke-width="0.5" />
<line x1="237.7" y1="1175.6" x2="239.4" y2="1175.6" stroke="#222" stroke-width="0.5" />
<line x1="237.7" y1="1171.1" x2="239.4" y2="1171.1" stroke="#222" stroke-width="0.5" />
<line x1="236.2" y1="1166.7" x2="239.4" y2="1166.7" stroke="#222" stroke-width="0.5" />
<text x="230.4" y="1166.7" font-family="Liberation Serif" font-size="5" text-anchor="middle" font-weight="normal" fill="#111" transform="rotate(-90 230.4 1166.7)" dy="1.7">40</text>
<line x1="237.7" y1="1162.2" x2="239.4" y2="1162.2" stroke="#222" stroke-width="0.5" />
<line x1="237.7" y1="1157.8" x2="239.4" y2="1157.8" stroke="#222" stroke-width="0.5" />
<line x1="237.7" y1="1153.3" x2="239.4" y2="1153.3" stroke="#222" stroke-width="0.5" />
<line x1="236.2" y1="1148.9" x2="239.4" y2="1148.9" stroke="#222" stroke-width="0.5" />
<text x="230.4" y="1148.9" font-family="Liberation Serif" font-size="5" text-anchor="middle" font-weight="normal" fill="#111" transform="rotate(-90 230.4 1148.9)" dy="1.7">60</text>
<line x1="237.7" y1="1144.5" x2="239.4" y2="1144.5" stroke="#222" stroke-width="0.5" />
<line x1="237.7" y1="1140" x2="239.4" y2="1140" stroke="#222" stroke-width="0.5" />
<line x1="237.7" y1="1135.5" x2="239.4" y2="1135.5" stroke="#222" stroke-width="0.5" />
<line x1="236.2" y1="1131.1" x2="239.4" y2="1131.1" stroke="#222" stroke-width="0.5" />
<text x="230.4" y="1131.1" font-family="Liberation Serif" font-size="5" text-anchor="middle" font-weight="normal" fill="#111" transform="rotate(-90 230.4 1131.1)" dy="1.7">80</text>
<line x1="237.7" y1="1126.7" x2="239.4" y2="1126.7" stroke="#222" stroke-width="0.5" />
<line x1="237.7" y1="1122.2" x2="239.4" y2="1122.2" stroke="#222" stroke-width="0.5" />
<line x1="237.7" y1="1117.8" x2="239.4" y2="1117.8" stroke="#222" stroke-width="0.5" />
<line x1="236.2" y1="1113.3" x2="239.4" y2="1113.3" stroke="#222" stroke-width="0.5" />
<text x="230.4" y="1113.3" font-family="Liberation Serif" font-size="5" text-anchor="middle" font-weight="normal" fill="#111" transform="rotate(-90 230.4 1113.3)" dy="1.7">100</text>
<line x1="237.7" y1="1108.8" x2="239.4" y2="1108.8" stroke="#222" stroke-width="0.5" />
<line x1="237.7" y1="1104.4" x2="239.4" y2="1104.4" stroke="#222" stroke-width="0.5" />
<line x1="237.7" y1="1100" x2="239.4" y2="1100" stroke="#222" stroke-width="0.5" />
<line x1="236.2" y1="1095.5" x2="239.4" y2="1095.5" stroke="#222" stroke-width="0.5" />
<text x="230.4" y="1095.5" font-family="Liberation Serif" font-size="5" text-anchor="middle" font-weight="normal" fill="#111" transform="rotate(-90 230.4 1095.5)" dy="1.7">120</text>
<line x1="237.7" y1="1091" x2="239.4" y2="1091" stroke="#222" stroke-width="0.5" />
<line x1="237.7" y1="1086.6" x2="239.4" y2="1086.6" stroke="#222" stroke-width="0.5" />
<line x1="237.7" y1="1082.2" x2="239.4" y2="1082.2" stroke="#222" stroke-width="0.5" />
<line x1="236.2" y1="1077.7" x2="239.4" y2="1077.7" stroke="#222" stroke-width="0.5" />
<text x="230.4" y="1077.7" font-family="Liberation Serif" font-size="5" text-anchor="middle" font-weight="normal" fill="#111" transform="rotate(-90 230.4 1077.7)" dy="1.7">140</text>
<line x1="237.7" y1="1073.2" x2="239.4" y2="1073.2" stroke="#222" stroke-width="0.5" />
<line x1="237.7" y1="1068.8" x2="239.4" y2="1068.8" stroke="#222" stroke-width="0.5" />
<line x1="237.7" y1="1064.3" x2="239.4" y2="1064.3" stroke="#222" stroke-width="0.5" />
<line x1="236.2" y1="1059.9" x2="239.4" y2="1059.9" stroke="#222" stroke-width="0.5" />
<text x="230.4" y="1059.9" font-family="Liberation Serif" font-size="5" text-anchor="middle" font-weight="normal" fill="#111" transform="rotate(-90 230.4 1059.9)" dy="1.7">160</text>
<line x1="237.7" y1="1055.5" x2="239.4" y2="1055.5" stroke="#222" stroke-width="0.5" />
<line x1="237.7" y1="1051" x2="239.4" y2="1051" stroke="#222" stroke-width="0.5" />
<text x="313.9" y="1222.6" font-family="Liberation Serif" font-size="5.6" text-anchor="middle" font-weight="normal" fill="#111" textLength="83" lengthAdjust="spacing">Red-B Fluorescence (RED-B-HLin)</text>
<text x="221.9" y="1126.7" font-family="Liberation Serif" font-size="5.6" text-anchor="middle" font-weight="normal" fill="#111" transform="rotate(-90 221.9 1126.7)" dy="1.5" textLength="20" lengthAdjust="spacing">Number</text>
<path d="M300.2 1203.5l2.2 3.6h-4.4z" fill="#000"/>
<rect x="356.9" y="1046.8" width="5.7" height="5.3" fill="#f00000" />
<rect x="356.9" y="1053.3" width="5.7" height="5.2" fill="#f00000" />
<rect x="357" y="1059.7" width="5.5" height="5" fill="url(#hatch)" stroke="#999" stroke-width="0.3"/>
<text x="364.4" y="1051.4" font-family="Liberation Serif" font-size="5.4" text-anchor="start" font-weight="bold" fill="#3030ff" textLength="11.5" lengthAdjust="spacing">G0G1</text>
<text x="364.4" y="1057.8" font-family="Liberation Serif" font-size="5.4" text-anchor="start" font-weight="bold" fill="#3030ff" textLength="9" lengthAdjust="spacing">G2M</text>
<text x="364.4" y="1064.2" font-family="Liberation Serif" font-size="5.4" text-anchor="start" font-weight="bold" fill="#3030ff" textLength="17" lengthAdjust="spacing">S-Phase</text>
<text x="314" y="1054.3" font-family="Liberation Sans" font-size="12.5" text-anchor="middle" font-weight="normal" fill="#000" >Plac8</text>
</svg></body></html>
